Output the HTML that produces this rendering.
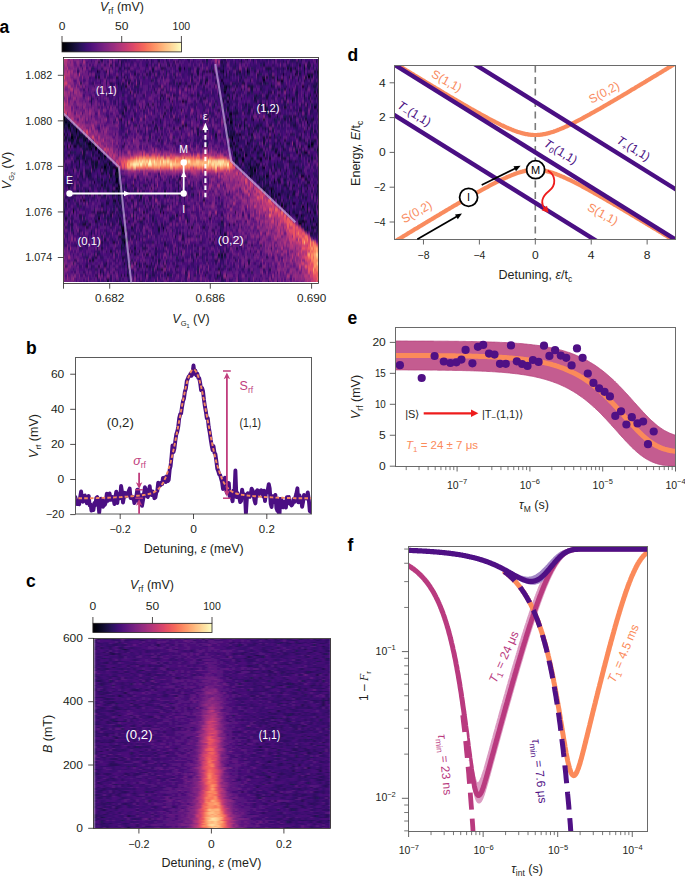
<!DOCTYPE html>
<html><head><meta charset="utf-8"><title>figure</title>
<style>html,body{margin:0;padding:0;background:#fff;}svg{display:block;}text{font-family:"Liberation Sans",sans-serif;}</style>
</head><body>
<svg width="685" height="879" viewBox="0 0 685 879">
<rect width="685" height="879" fill="#fff"/>
<defs><linearGradient id="cbar" x1="0" x2="1" y1="0" y2="0"><stop offset="0.000" stop-color="#000004"/><stop offset="0.017" stop-color="#020109"/><stop offset="0.034" stop-color="#030312"/><stop offset="0.051" stop-color="#07061c"/><stop offset="0.068" stop-color="#0b0924"/><stop offset="0.085" stop-color="#100b2d"/><stop offset="0.102" stop-color="#150e38"/><stop offset="0.119" stop-color="#1a1042"/><stop offset="0.136" stop-color="#20114b"/><stop offset="0.153" stop-color="#271258"/><stop offset="0.169" stop-color="#2d1161"/><stop offset="0.186" stop-color="#341069"/><stop offset="0.203" stop-color="#3d0f71"/><stop offset="0.220" stop-color="#440f76"/><stop offset="0.237" stop-color="#4a1079"/><stop offset="0.254" stop-color="#52137c"/><stop offset="0.271" stop-color="#59157e"/><stop offset="0.288" stop-color="#5f187f"/><stop offset="0.305" stop-color="#671b80"/><stop offset="0.322" stop-color="#6d1d81"/><stop offset="0.339" stop-color="#732081"/><stop offset="0.356" stop-color="#7b2382"/><stop offset="0.373" stop-color="#812581"/><stop offset="0.390" stop-color="#882781"/><stop offset="0.407" stop-color="#902a81"/><stop offset="0.424" stop-color="#962c80"/><stop offset="0.441" stop-color="#9c2e7f"/><stop offset="0.458" stop-color="#a5317e"/><stop offset="0.475" stop-color="#ab337c"/><stop offset="0.492" stop-color="#b2357b"/><stop offset="0.508" stop-color="#ba3878"/><stop offset="0.525" stop-color="#c03a76"/><stop offset="0.542" stop-color="#c73d73"/><stop offset="0.559" stop-color="#cf4070"/><stop offset="0.576" stop-color="#d5446d"/><stop offset="0.593" stop-color="#db476a"/><stop offset="0.610" stop-color="#e24d66"/><stop offset="0.627" stop-color="#e75263"/><stop offset="0.644" stop-color="#eb5760"/><stop offset="0.661" stop-color="#f05f5e"/><stop offset="0.678" stop-color="#f3655c"/><stop offset="0.695" stop-color="#f66c5c"/><stop offset="0.712" stop-color="#f8765c"/><stop offset="0.729" stop-color="#fa7d5e"/><stop offset="0.746" stop-color="#fb8560"/><stop offset="0.763" stop-color="#fc8e64"/><stop offset="0.780" stop-color="#fd9668"/><stop offset="0.797" stop-color="#fe9d6c"/><stop offset="0.814" stop-color="#fea772"/><stop offset="0.831" stop-color="#feae77"/><stop offset="0.847" stop-color="#feb67c"/><stop offset="0.864" stop-color="#febf84"/><stop offset="0.881" stop-color="#fec68a"/><stop offset="0.898" stop-color="#fecd90"/><stop offset="0.915" stop-color="#fed799"/><stop offset="0.932" stop-color="#fddea0"/><stop offset="0.949" stop-color="#fde5a7"/><stop offset="0.966" stop-color="#fceeb0"/><stop offset="0.983" stop-color="#fcf6b8"/><stop offset="1.000" stop-color="#fcfdbf"/></linearGradient></defs>
<rect x="62.0" y="42.3" width="119.4" height="9.6" fill="url(#cbar)" stroke="#231f20" stroke-width="0.8"/>
<line x1="62.00" y1="36.00" x2="62.00" y2="42.30" stroke="#231f20" stroke-width="0.8" />
<text x="62.0" y="29.6" font-size="10.5" text-anchor="middle" fill="#231f20" textLength="6.7" lengthAdjust="spacingAndGlyphs" >0</text>
<line x1="121.70" y1="36.00" x2="121.70" y2="42.30" stroke="#231f20" stroke-width="0.8" />
<text x="121.7" y="29.6" font-size="10.5" text-anchor="middle" fill="#231f20" textLength="13.4" lengthAdjust="spacingAndGlyphs" >50</text>
<line x1="181.40" y1="36.00" x2="181.40" y2="42.30" stroke="#231f20" stroke-width="0.8" />
<text x="181.4" y="29.6" font-size="10.5" text-anchor="middle" fill="#231f20" textLength="17.6" lengthAdjust="spacingAndGlyphs" >100</text>
<text x="122" y="10.5" font-size="12.5" text-anchor="middle" fill="#231f20"><tspan font-style="italic">V</tspan><tspan font-size="8.5" dy="3">rf</tspan><tspan dy="-3"> (mV)</tspan></text>
<defs><clipPath id="cla"><rect x="63.5" y="57.5" width="255.0" height="226.0"/></clipPath><filter id="bla" x="0" y="0" width="1" height="1"><feGaussianBlur stdDeviation="0.45 0.9"/></filter></defs>
<g clip-path="url(#cla)"><g filter="url(#bla)">
<g transform="translate(63.5,57.5) scale(1.5,3.013333333333333)" fill="none" stroke-width="1.02" shape-rendering="crispEdges">
<path stroke="#000004" d="M111 18.5h1M112 26.5h1M114 32.5h1M30 35.5h1M20 41.5h1M143 45.5h1M159 49.5h1M166 53.5h1M168 55.5h1"/>
<path stroke="#010106" d="M0 20.5h1M111 21.5h1M8 24.5h1M5 26.5h1M4 29.5h1M127 37.5h1M34 38.5h1M124 39.5h1M35 43.5h1M158 52.5h1M40 61.5h1"/>
<path stroke="#02020b" d="M106 8.5h1M0 19.5h1M109 20.5h1M3 22.5h1M14 27.5h1M112 27.5h1M21 30.5h1M118 30.5h1M161 31.5h1M27 32.5h1M143 32.5h1M23 33.5h1M27 36.5h1M34 36.5h1M135 39.5h1M37 42.5h1M36 45.5h1M39 57.5h1M104 61.5h1"/>
<path stroke="#030312" d="M163 6.5h1M167 16.5h1M1 21.5h1M107 21.5h1M162 21.5h1M8 23.5h1M117 25.5h1M21 29.5h1M119 33.5h1M131 33.5h1M35 37.5h2M36 38.5h1M148 51.5h1M66 56.5h1"/>
<path stroke="#050416" d="M80 3.5h1M22 4.5h1M106 4.5h1M122 4.5h1M105 7.5h1M108 9.5h1M168 12.5h1M79 14.5h1M109 14.5h1M0 25.5h1M16 28.5h2M165 28.5h1M163 29.5h1M23 31.5h1M121 32.5h1M124 36.5h1M133 36.5h1M35 40.5h1M35 41.5h1M36 44.5h1M138 44.5h1M66 51.5h1M164 51.5h1M159 54.5h1M40 58.5h1"/>
<path stroke="#07061c" d="M122 0.5h1M146 5.5h1M154 5.5h1M133 7.5h1M145 7.5h1M159 9.5h1M107 11.5h1M126 20.5h1M15 26.5h1M116 27.5h1M113 28.5h1M122 28.5h1M7 29.5h1M110 29.5h1M18 30.5h1M14 34.5h1M128 35.5h1M33 36.5h1M158 39.5h2M140 41.5h1M36 42.5h1M138 43.5h1M16 44.5h1M37 45.5h1M38 46.5h1M13 47.5h1M34 47.5h1M153 48.5h1M145 49.5h1M155 52.5h1M23 53.5h1M110 55.5h1M157 55.5h1M39 56.5h1"/>
<path stroke="#0a0822" d="M168 1.5h1M77 3.5h1M94 8.5h1M41 9.5h1M64 13.5h1M147 16.5h1M66 19.5h1M38 20.5h1M4 21.5h1M81 22.5h1M3 23.5h1M2 25.5h1M12 25.5h1M1 26.5h1M9 26.5h2M110 26.5h1M2 29.5h1M111 29.5h1M114 29.5h1M127 30.5h1M169 30.5h1M114 31.5h1M155 31.5h1M117 32.5h1M133 32.5h1M115 33.5h1M134 33.5h1M22 34.5h1M119 34.5h1M35 36.5h1M35 38.5h1M36 39.5h1M30 40.5h1M161 40.5h1M25 42.5h1M77 45.5h1M138 46.5h1M33 47.5h1M36 47.5h1M6 50.5h1M64 51.5h1M21 54.5h1M13 55.5h2M38 56.5h1M162 56.5h1M41 57.5h1M39 60.5h1M41 60.5h2M42 72.5h1M68 73.5h1"/>
<path stroke="#0c0926" d="M158 0.5h1M157 2.5h1M149 3.5h1M151 3.5h1M154 3.5h1M160 3.5h1M169 4.5h1M44 11.5h1M109 12.5h1M152 14.5h1M78 17.5h1M39 18.5h1M137 19.5h1M0 22.5h1M5 22.5h1M4 23.5h1M6 23.5h1M4 24.5h1M5 25.5h1M101 25.5h1M111 26.5h1M6 27.5h1M19 28.5h1M166 28.5h1M17 29.5h1M165 29.5h1M113 31.5h1M160 31.5h1M3 32.5h1M24 32.5h1M137 33.5h1M28 35.5h1M114 35.5h1M140 35.5h1M19 36.5h1M25 36.5h1M32 36.5h1M31 39.5h1M35 39.5h1M163 41.5h1M4 42.5h1M46 42.5h1M37 43.5h1M33 45.5h1M50 47.5h1M142 47.5h1M162 48.5h1M147 49.5h1M6 51.5h1M167 51.5h1M1 53.5h1M165 56.5h1M39 58.5h1M33 61.5h1M31 64.5h1M40 68.5h1"/>
<path stroke="#100b2d" d="M108 1.5h1M105 4.5h1M163 5.5h1M23 6.5h1M139 6.5h1M95 7.5h1M142 7.5h1M77 8.5h1M134 8.5h1M76 9.5h1M107 9.5h1M138 9.5h1M164 12.5h1M106 14.5h1M131 15.5h1M134 16.5h1M135 17.5h1M110 18.5h1M110 19.5h1M142 19.5h1M133 20.5h1M166 20.5h1M3 21.5h1M117 22.5h1M120 22.5h1M112 23.5h1M160 24.5h1M10 25.5h2M113 25.5h1M125 25.5h1M13 26.5h1M137 26.5h1M0 27.5h1M4 27.5h2M13 27.5h1M124 27.5h1M9 28.5h1M15 28.5h1M15 30.5h1M117 30.5h1M24 31.5h1M141 31.5h1M9 33.5h1M27 33.5h1M125 33.5h1M147 33.5h1M114 34.5h1M21 35.5h1M27 35.5h1M123 35.5h1M130 35.5h1M117 36.5h1M125 36.5h1M132 36.5h1M125 37.5h1M25 38.5h1M28 38.5h1M125 38.5h1M16 39.5h1M136 39.5h1M144 39.5h1M130 40.5h1M140 40.5h1M142 40.5h1M34 41.5h1M129 41.5h1M153 42.5h1M162 43.5h1M9 44.5h1M33 44.5h1M133 44.5h1M24 45.5h1M27 45.5h1M38 45.5h1M168 45.5h1M51 46.5h1M38 47.5h1M140 47.5h1M145 48.5h1M162 49.5h1M158 50.5h1M32 51.5h1M150 51.5h1M75 52.5h1M82 54.5h1M156 54.5h1M164 54.5h1M38 55.5h1M45 56.5h1M166 56.5h1M63 57.5h1M74 59.5h1M40 60.5h1M47 63.5h1M88 65.5h1M103 65.5h1M105 65.5h1M19 67.5h1M55 69.5h1M51 74.5h1"/>
<path stroke="#130d34" d="M24 0.5h1M37 0.5h1M95 0.5h1M107 0.5h1M23 1.5h1M105 1.5h1M70 2.5h1M103 3.5h1M122 3.5h1M136 3.5h1M97 4.5h1M99 4.5h1M117 4.5h1M123 4.5h1M132 6.5h1M135 6.5h1M161 6.5h1M84 9.5h1M107 10.5h1M114 10.5h1M143 10.5h1M167 11.5h1M128 12.5h1M143 12.5h1M70 13.5h1M72 14.5h1M56 15.5h1M40 16.5h1M72 16.5h1M105 16.5h1M109 16.5h1M141 16.5h1M109 17.5h1M40 19.5h1M154 19.5h1M1 20.5h1M76 20.5h1M111 20.5h1M147 20.5h1M151 20.5h1M161 20.5h1M114 22.5h1M154 22.5h1M62 23.5h1M162 23.5h1M10 24.5h1M115 25.5h1M6 26.5h1M133 26.5h1M167 27.5h1M10 28.5h1M11 29.5h1M16 29.5h1M19 29.5h1M128 29.5h1M17 30.5h1M112 30.5h1M141 30.5h1M13 31.5h1M157 32.5h1M18 33.5h1M130 33.5h1M146 33.5h1M10 34.5h1M19 34.5h1M21 34.5h1M30 34.5h2M154 34.5h1M22 35.5h1M118 35.5h1M21 36.5h1M127 36.5h1M6 37.5h1M123 37.5h1M144 37.5h1M148 37.5h1M77 40.5h1M132 40.5h1M143 40.5h1M144 41.5h1M136 42.5h1M147 42.5h1M166 42.5h1M36 43.5h1M133 43.5h2M137 43.5h1M38 44.5h1M67 44.5h1M17 45.5h1M67 45.5h1M153 45.5h1M37 48.5h1M162 50.5h1M26 51.5h1M53 51.5h1M162 51.5h1M36 52.5h1M154 52.5h1M157 54.5h2M160 54.5h2M166 54.5h1M167 56.5h1M104 58.5h1M107 58.5h1M164 58.5h1M37 59.5h1M107 59.5h1M42 61.5h1M38 62.5h1M50 64.5h1M17 67.5h1M50 69.5h1M43 70.5h1M103 70.5h1M24 71.5h1M94 72.5h1M44 74.5h1"/>
<path stroke="#150e38" d="M106 0.5h1M63 1.5h1M148 1.5h1M137 3.5h1M28 4.5h1M155 4.5h1M47 5.5h1M100 5.5h1M108 5.5h1M165 5.5h1M35 6.5h1M40 6.5h1M118 6.5h1M133 6.5h1M150 6.5h1M160 7.5h1M120 8.5h1M110 9.5h1M123 9.5h1M125 9.5h1M166 9.5h1M108 10.5h1M118 10.5h1M138 11.5h1M110 13.5h1M112 13.5h1M127 13.5h1M135 13.5h1M148 13.5h1M152 13.5h1M164 14.5h1M110 15.5h1M157 17.5h1M67 18.5h1M115 18.5h1M111 19.5h1M150 19.5h1M45 20.5h1M88 20.5h1M121 20.5h1M165 20.5h1M0 21.5h1M2 21.5h1M60 23.5h1M120 23.5h1M134 23.5h1M126 24.5h1M8 25.5h1M3 27.5h1M8 27.5h2M147 27.5h1M160 27.5h1M133 28.5h1M92 29.5h1M115 29.5h1M146 30.5h1M4 31.5h1M129 31.5h1M13 32.5h1M8 33.5h1M165 33.5h1M115 34.5h1M150 34.5h1M10 35.5h1M129 35.5h1M8 36.5h1M153 36.5h1M27 37.5h2M119 37.5h1M124 37.5h1M138 37.5h1M158 37.5h1M26 38.5h1M31 38.5h1M34 39.5h1M125 39.5h1M163 39.5h1M143 41.5h1M162 41.5h1M135 42.5h1M161 42.5h1M169 42.5h1M58 43.5h1M139 43.5h1M32 44.5h1M135 44.5h1M140 44.5h1M7 45.5h1M14 45.5h1M86 45.5h1M138 45.5h1M139 46.5h1M141 46.5h1M93 47.5h1M146 47.5h1M28 48.5h2M146 50.5h1M22 51.5h1M24 51.5h1M114 51.5h1M31 52.5h1M150 52.5h1M37 53.5h1M53 53.5h1M158 55.5h1M160 55.5h1M15 56.5h1M85 56.5h1M93 56.5h1M165 58.5h1M100 60.5h1M106 61.5h1M40 62.5h1M38 63.5h1M39 66.5h1M105 66.5h1M48 68.5h1M42 69.5h1M62 70.5h1M65 70.5h1M38 72.5h1M102 72.5h1M29 74.5h1M35 74.5h1"/>
<path stroke="#19103f" d="M40 0.5h1M121 0.5h1M38 1.5h1M118 1.5h1M146 1.5h1M106 2.5h1M133 2.5h1M160 2.5h1M162 2.5h1M59 3.5h1M65 3.5h1M135 3.5h1M146 3.5h1M163 3.5h1M89 4.5h1M104 4.5h1M167 4.5h1M89 5.5h1M162 5.5h1M21 6.5h1M142 6.5h1M58 7.5h1M124 7.5h1M156 7.5h1M43 8.5h1M119 8.5h1M168 8.5h1M38 10.5h1M125 10.5h1M147 10.5h1M140 11.5h1M155 11.5h1M65 12.5h1M110 12.5h1M135 12.5h1M150 12.5h1M160 12.5h1M66 13.5h1M118 13.5h1M81 14.5h1M128 14.5h1M100 15.5h1M121 15.5h1M130 15.5h1M134 15.5h1M141 15.5h1M162 15.5h1M114 16.5h1M123 17.5h1M129 17.5h1M134 17.5h1M141 17.5h1M158 17.5h1M169 17.5h1M113 18.5h2M108 19.5h1M140 20.5h1M108 21.5h1M112 21.5h1M120 21.5h1M2 22.5h1M79 22.5h1M129 22.5h1M131 22.5h1M153 22.5h1M77 23.5h1M93 24.5h1M109 24.5h1M167 24.5h1M89 25.5h1M108 25.5h1M140 25.5h1M7 26.5h1M11 26.5h1M14 26.5h1M157 26.5h1M63 27.5h1M133 27.5h1M5 28.5h1M8 28.5h1M111 28.5h1M123 28.5h1M140 28.5h1M144 28.5h1M149 28.5h2M153 28.5h1M18 29.5h1M20 29.5h1M112 29.5h1M23 30.5h1M131 30.5h2M142 30.5h1M25 31.5h1M25 32.5h1M113 32.5h1M116 32.5h1M12 33.5h2M129 33.5h1M18 34.5h1M29 34.5h1M124 34.5h1M131 34.5h1M163 34.5h1M116 35.5h1M124 35.5h1M29 36.5h1M31 36.5h1M126 36.5h1M129 36.5h1M155 36.5h1M20 37.5h1M24 37.5h1M31 37.5h1M156 37.5h1M17 38.5h1M30 38.5h1M122 38.5h1M124 38.5h1M12 39.5h1M133 39.5h1M25 40.5h1M37 40.5h1M147 40.5h1M27 41.5h1M36 41.5h1M130 41.5h1M33 42.5h1M41 42.5h1M160 42.5h1M24 43.5h1M76 43.5h1M131 43.5h1M29 44.5h1M42 44.5h1M74 44.5h1M153 44.5h1M23 45.5h1M49 45.5h1M76 45.5h1M136 45.5h1M144 45.5h1M12 46.5h1M149 46.5h1M161 46.5h1M166 46.5h1M45 47.5h1M25 49.5h1M169 49.5h1M48 50.5h1M160 50.5h1M166 50.5h1M153 51.5h1M159 52.5h1M97 53.5h1M43 54.5h1M105 54.5h1M17 55.5h1M37 55.5h1M162 57.5h1M169 57.5h1M18 58.5h1M27 60.5h1M39 61.5h1M14 62.5h1M25 63.5h1M22 65.5h1M47 65.5h1M55 65.5h1M107 65.5h1M21 66.5h1M63 67.5h1M28 68.5h1M58 68.5h1M82 70.5h1M46 71.5h1M40 72.5h1M69 72.5h1M43 74.5h1"/>
<path stroke="#1d1147" d="M68 0.5h1M82 0.5h1M126 0.5h1M92 1.5h1M104 1.5h1M163 1.5h1M55 2.5h1M164 2.5h1M37 3.5h1M40 3.5h1M66 3.5h1M106 3.5h1M59 4.5h1M95 4.5h1M110 4.5h1M130 4.5h1M151 4.5h1M160 4.5h1M55 5.5h1M115 5.5h1M122 5.5h1M129 5.5h1M157 5.5h1M164 5.5h1M42 6.5h1M74 6.5h1M104 6.5h1M152 6.5h1M143 7.5h1M164 7.5h1M31 8.5h1M36 8.5h1M50 8.5h1M81 8.5h1M91 8.5h1M131 8.5h1M38 9.5h1M83 9.5h1M124 9.5h1M167 9.5h1M60 10.5h1M131 10.5h1M150 10.5h1M113 11.5h1M136 11.5h1M169 11.5h1M73 12.5h1M89 12.5h1M103 12.5h1M136 12.5h1M93 13.5h2M107 13.5h1M153 13.5h1M160 13.5h1M163 13.5h1M18 14.5h1M147 14.5h1M59 15.5h1M105 15.5h1M168 15.5h1M41 16.5h1M50 16.5h1M54 16.5h1M168 16.5h1M41 17.5h1M71 17.5h1M103 17.5h1M137 17.5h1M120 18.5h1M122 18.5h1M126 18.5h1M135 18.5h2M156 18.5h1M136 19.5h1M64 21.5h1M61 22.5h1M111 22.5h1M163 22.5h1M0 23.5h1M7 23.5h1M73 23.5h1M89 23.5h1M95 23.5h1M110 23.5h1M123 23.5h1M127 23.5h2M7 24.5h1M111 24.5h1M113 24.5h1M136 24.5h1M109 25.5h1M111 25.5h1M123 25.5h1M164 25.5h1M101 26.5h1M140 26.5h1M144 26.5h1M17 27.5h1M77 27.5h1M40 28.5h1M142 28.5h1M0 29.5h1M8 29.5h1M130 29.5h1M154 29.5h1M156 29.5h1M158 29.5h1M13 30.5h2M139 30.5h1M19 31.5h1M158 31.5h1M10 32.5h1M19 32.5h1M16 33.5h1M25 33.5h1M118 33.5h1M7 34.5h1M26 34.5h1M127 34.5h1M151 34.5h1M18 35.5h2M31 35.5h1M122 36.5h1M140 36.5h1M156 36.5h1M14 37.5h2M141 37.5h1M157 37.5h1M11 38.5h1M15 38.5h1M126 38.5h2M136 38.5h1M139 38.5h1M147 38.5h1M155 38.5h1M123 39.5h1M128 39.5h1M130 39.5h1M154 39.5h1M9 40.5h1M32 40.5h1M136 41.5h1M138 41.5h1M150 41.5h1M3 42.5h1M27 42.5h1M148 42.5h1M3 43.5h1M29 43.5h1M85 43.5h1M149 43.5h1M158 43.5h1M43 44.5h1M50 44.5h1M78 44.5h1M145 44.5h1M150 44.5h1M158 44.5h1M169 44.5h1M20 45.5h1M32 45.5h1M139 45.5h1M141 45.5h1M149 45.5h1M152 45.5h1M58 46.5h1M144 46.5h1M159 46.5h1M3 47.5h1M144 47.5h1M148 48.5h1M150 48.5h1M158 48.5h1M54 49.5h1M66 49.5h1M148 49.5h1M167 49.5h1M37 50.5h1M0 51.5h1M27 51.5h1M38 51.5h2M46 51.5h1M10 52.5h1M29 53.5h1M41 53.5h1M46 53.5h1M59 53.5h1M164 53.5h1M38 54.5h1M51 54.5h1M167 54.5h1M5 55.5h1M12 55.5h1M30 55.5h1M32 55.5h1M169 55.5h1M63 56.5h1M160 56.5h1M104 57.5h1M161 57.5h1M167 58.5h1M46 59.5h1M50 60.5h1M79 60.5h1M20 61.5h1M25 61.5h1M67 62.5h1M39 63.5h1M53 63.5h1M115 63.5h1M45 64.5h1M106 64.5h1M61 65.5h1M89 65.5h1M40 66.5h1M86 67.5h1M114 67.5h1M43 68.5h2M54 68.5h1M15 69.5h1M23 69.5h1M120 69.5h1M110 70.5h1M48 72.5h1M54 72.5h1M29 73.5h1"/>
<path stroke="#21114e" d="M25 0.5h1M77 0.5h1M118 0.5h1M139 0.5h2M149 0.5h1M152 0.5h1M156 0.5h1M36 1.5h1M73 1.5h1M76 1.5h1M155 1.5h1M31 2.5h1M38 2.5h1M64 2.5h1M150 2.5h1M163 2.5h1M43 3.5h1M84 3.5h1M89 3.5h1M142 3.5h1M23 4.5h1M77 4.5h1M93 4.5h1M116 4.5h1M127 4.5h1M38 5.5h1M57 5.5h1M85 5.5h1M92 5.5h1M106 5.5h1M120 5.5h1M155 5.5h1M169 5.5h1M106 6.5h1M108 6.5h1M110 6.5h1M165 6.5h1M41 7.5h1M44 7.5h1M85 7.5h1M94 7.5h1M117 7.5h1M39 8.5h1M112 8.5h1M114 8.5h1M116 8.5h1M130 8.5h1M145 8.5h1M109 9.5h1M115 9.5h1M139 9.5h1M148 9.5h1M162 9.5h1M120 10.5h1M161 10.5h1M169 10.5h1M123 11.5h1M137 11.5h1M29 12.5h1M85 12.5h1M115 12.5h1M148 12.5h1M155 12.5h1M18 13.5h1M106 13.5h1M167 13.5h1M127 14.5h1M47 15.5h1M64 15.5h1M158 15.5h1M120 16.5h1M124 16.5h1M135 16.5h1M115 17.5h1M130 17.5h1M123 18.5h1M144 18.5h1M161 18.5h1M164 18.5h1M81 19.5h1M95 19.5h2M114 19.5h1M153 19.5h1M2 20.5h1M64 20.5h1M74 20.5h1M112 20.5h1M114 20.5h1M120 20.5h1M125 20.5h1M130 20.5h1M59 21.5h1M118 21.5h1M154 21.5h1M164 21.5h1M6 22.5h1M48 22.5h1M70 22.5h1M109 22.5h1M128 22.5h1M137 22.5h1M1 23.5h1M9 23.5h1M132 23.5h1M136 23.5h1M165 23.5h1M1 24.5h1M9 24.5h1M89 24.5h1M137 24.5h1M139 24.5h1M164 24.5h1M6 25.5h1M104 25.5h1M112 25.5h1M151 25.5h2M158 25.5h1M12 26.5h1M114 26.5h1M118 26.5h1M135 26.5h1M1 27.5h1M15 27.5h1M56 27.5h1M125 27.5h1M143 27.5h1M157 27.5h1M18 28.5h1M94 28.5h1M161 28.5h1M6 29.5h1M10 29.5h1M13 29.5h1M39 29.5h1M95 29.5h1M121 29.5h1M125 29.5h1M139 29.5h2M145 29.5h1M114 30.5h1M122 30.5h1M147 30.5h1M157 30.5h1M20 31.5h1M115 31.5h1M119 31.5h1M121 31.5h1M125 31.5h2M130 31.5h1M12 32.5h1M21 32.5h2M28 32.5h1M122 32.5h1M145 32.5h1M163 32.5h1M15 33.5h1M17 33.5h1M114 33.5h1M145 33.5h1M15 34.5h1M142 34.5h1M16 35.5h1M121 35.5h1M142 35.5h1M10 36.5h1M28 36.5h1M36 36.5h1M138 36.5h1M16 37.5h1M32 37.5h1M130 37.5h1M16 38.5h1M32 38.5h1M129 38.5h1M135 38.5h1M140 38.5h1M2 39.5h1M17 39.5h1M22 39.5h1M148 39.5h1M151 39.5h1M19 40.5h1M22 40.5h1M128 40.5h1M131 40.5h1M156 40.5h1M28 41.5h1M30 41.5h1M70 41.5h1M133 41.5h1M156 41.5h1M32 42.5h1M54 42.5h1M60 42.5h1M76 42.5h1M146 42.5h1M150 42.5h1M158 42.5h1M22 43.5h1M26 43.5h1M132 43.5h1M152 43.5h1M14 44.5h1M146 44.5h1M154 44.5h1M161 44.5h1M165 44.5h1M11 45.5h1M15 45.5h1M70 45.5h1M81 45.5h1M1 46.5h1M32 46.5h1M36 46.5h1M57 46.5h1M80 46.5h1M156 46.5h1M11 47.5h1M14 47.5h1M143 47.5h1M1 48.5h1M34 48.5h1M42 48.5h1M46 48.5h1M142 48.5h2M152 48.5h1M154 48.5h1M164 48.5h1M35 49.5h1M38 49.5h2M58 49.5h1M60 49.5h1M65 49.5h1M165 49.5h1M47 50.5h1M23 51.5h1M25 51.5h1M28 51.5h1M149 51.5h1M152 51.5h1M11 52.5h1M105 52.5h1M160 52.5h1M40 53.5h1M71 53.5h1M14 54.5h1M27 55.5h1M65 55.5h1M22 56.5h1M159 56.5h1M169 56.5h1M10 57.5h1M46 57.5h1M66 57.5h1M68 57.5h1M99 57.5h1M166 57.5h1M6 58.5h1M77 58.5h1M100 58.5h1M168 58.5h1M45 59.5h1M79 59.5h1M168 59.5h1M16 60.5h1M38 60.5h1M103 60.5h2M9 61.5h1M12 61.5h1M22 61.5h1M67 61.5h1M8 62.5h1M79 62.5h1M100 62.5h1M54 63.5h1M61 63.5h1M74 63.5h1M93 63.5h1M43 64.5h1M59 66.5h1M76 67.5h1M79 67.5h1M101 67.5h1M123 67.5h1M46 68.5h1M50 68.5h1M66 68.5h1M123 68.5h1M27 69.5h1M44 69.5h1M57 69.5h1M67 69.5h1M75 69.5h1M74 70.5h1M137 70.5h1M26 71.5h1M54 71.5h1M81 71.5h1M104 71.5h1M43 72.5h1M59 72.5h2M104 72.5h1M50 73.5h1M101 73.5h1M105 73.5h1M76 74.5h1M142 74.5h1"/>
<path stroke="#241253" d="M125 0.5h1M128 0.5h1M135 0.5h1M137 0.5h1M153 0.5h1M66 1.5h1M95 1.5h1M114 1.5h1M120 1.5h1M152 1.5h1M156 1.5h1M60 2.5h1M131 2.5h1M166 2.5h1M19 3.5h1M83 3.5h1M98 3.5h1M114 3.5h1M125 3.5h1M168 3.5h1M36 4.5h1M68 4.5h1M136 4.5h1M157 4.5h1M60 5.5h1M66 5.5h1M68 5.5h1M73 5.5h1M117 5.5h1M123 5.5h1M131 5.5h1M138 5.5h1M160 5.5h1M53 6.5h1M121 6.5h1M137 6.5h1M140 6.5h1M156 6.5h1M59 7.5h1M92 7.5h1M144 7.5h1M146 7.5h1M11 8.5h1M75 8.5h1M104 8.5h1M113 8.5h1M133 8.5h1M135 8.5h1M138 8.5h1M169 8.5h1M36 9.5h1M49 9.5h1M64 9.5h1M111 9.5h1M126 9.5h1M168 9.5h1M66 10.5h1M106 10.5h1M110 10.5h1M145 10.5h1M167 10.5h1M58 11.5h1M69 11.5h1M125 11.5h1M132 11.5h1M154 11.5h1M39 12.5h1M90 12.5h1M96 12.5h1M108 12.5h1M122 12.5h1M127 12.5h1M130 12.5h1M154 12.5h1M108 13.5h1M129 13.5h1M146 13.5h1M39 14.5h1M70 14.5h1M101 14.5h1M108 14.5h1M88 15.5h1M102 15.5h1M123 15.5h1M149 15.5h1M165 15.5h1M94 16.5h1M99 16.5h1M131 16.5h1M139 16.5h1M148 16.5h1M68 17.5h1M107 17.5h1M114 17.5h1M119 17.5h1M160 17.5h1M97 18.5h1M128 18.5h1M146 19.5h2M160 19.5h2M106 20.5h1M115 20.5h1M117 20.5h1M141 20.5h1M143 20.5h1M157 20.5h1M42 21.5h1M91 21.5h1M94 21.5h1M114 21.5h1M141 21.5h1M144 21.5h1M152 21.5h1M1 22.5h1M7 22.5h1M47 22.5h1M110 22.5h1M112 22.5h1M121 22.5h2M124 22.5h1M38 23.5h1M65 23.5h1M129 23.5h1M139 23.5h1M58 24.5h1M91 24.5h1M99 24.5h1M118 24.5h1M129 24.5h1M165 24.5h1M13 25.5h1M41 25.5h1M143 25.5h1M153 25.5h1M3 26.5h1M57 26.5h1M64 26.5h1M73 26.5h1M109 26.5h1M116 26.5h1M121 26.5h1M125 26.5h1M142 26.5h1M164 26.5h1M127 27.5h1M158 27.5h1M11 28.5h1M13 28.5h1M95 28.5h1M115 28.5h1M129 28.5h1M136 28.5h1M163 28.5h1M12 29.5h1M135 29.5h1M146 29.5h1M138 30.5h1M154 30.5h2M167 30.5h1M5 31.5h1M7 31.5h1M11 31.5h1M14 31.5h1M133 31.5h1M145 31.5h1M159 31.5h1M169 31.5h1M115 32.5h1M129 32.5h1M149 32.5h2M162 32.5h1M10 33.5h1M124 33.5h1M167 33.5h1M24 34.5h1M113 34.5h1M120 34.5h1M122 34.5h1M157 34.5h1M14 35.5h1M115 35.5h1M143 35.5h1M22 36.5h1M121 36.5h1M143 36.5h1M150 36.5h1M159 36.5h1M9 37.5h1M17 37.5h1M30 37.5h1M136 37.5h1M153 38.5h1M158 38.5h1M166 38.5h1M5 39.5h1M38 39.5h1M131 39.5h1M155 39.5h1M23 40.5h1M28 40.5h1M126 40.5h1M133 40.5h1M135 40.5h1M146 40.5h1M2 41.5h1M6 41.5h1M31 41.5h1M147 41.5h1M9 42.5h1M17 42.5h1M39 42.5h1M53 42.5h1M134 42.5h1M27 43.5h1M34 43.5h1M41 43.5h1M157 43.5h1M169 43.5h1M15 44.5h1M37 44.5h1M39 44.5h1M47 44.5h1M136 44.5h1M139 44.5h1M8 45.5h1M51 45.5h2M85 45.5h1M157 45.5h1M162 45.5h1M20 46.5h1M62 46.5h1M151 46.5h1M164 46.5h1M7 47.5h1M16 47.5h1M37 47.5h1M77 47.5h1M150 47.5h1M152 47.5h1M168 47.5h1M8 48.5h1M33 48.5h1M53 48.5h1M149 48.5h1M157 48.5h1M9 49.5h1M11 49.5h1M36 49.5h1M104 49.5h1M0 50.5h1M20 50.5h1M28 50.5h1M33 50.5h1M36 50.5h1M64 50.5h1M150 50.5h1M159 50.5h1M37 51.5h1M3 52.5h1M23 52.5h1M44 52.5h1M46 52.5h1M72 52.5h1M167 52.5h1M13 53.5h1M27 53.5h1M30 53.5h1M82 53.5h1M155 53.5h1M158 53.5h1M169 53.5h1M3 54.5h1M15 54.5h1M37 54.5h1M50 54.5h1M52 54.5h1M61 54.5h1M10 55.5h1M24 55.5h1M86 55.5h1M105 55.5h1M164 55.5h1M1 56.5h1M5 57.5h1M37 57.5h1M72 57.5h1M168 57.5h1M28 58.5h1M50 58.5h1M25 59.5h1M38 59.5h1M54 59.5h1M88 59.5h1M90 59.5h1M166 59.5h1M36 60.5h1M59 61.5h1M121 61.5h1M39 62.5h1M11 63.5h1M52 63.5h1M80 63.5h1M108 63.5h1M23 64.5h1M38 64.5h1M40 64.5h1M42 64.5h1M104 64.5h1M12 65.5h1M20 65.5h1M34 65.5h1M38 65.5h1M70 65.5h1M72 65.5h1M78 65.5h1M99 65.5h1M15 66.5h1M75 66.5h1M92 66.5h1M103 66.5h1M107 66.5h1M45 67.5h1M68 67.5h1M6 68.5h1M42 68.5h1M107 69.5h1M21 70.5h1M59 70.5h1M89 70.5h1M42 71.5h1M125 71.5h1M22 72.5h1M57 72.5h1M71 72.5h1M87 72.5h1M103 72.5h1M37 73.5h1M102 73.5h1M123 73.5h1M61 74.5h1M75 74.5h1M88 74.5h1M106 74.5h1M136 74.5h1"/>
<path stroke="#29115a" d="M58 0.5h1M83 0.5h1M98 0.5h1M110 0.5h1M116 0.5h1M25 1.5h1M39 1.5h1M45 1.5h1M56 1.5h1M58 1.5h1M69 1.5h1M117 1.5h1M126 1.5h1M133 1.5h1M143 1.5h1M34 2.5h2M72 2.5h1M74 2.5h1M105 2.5h1M114 2.5h1M139 2.5h1M149 2.5h1M67 3.5h1M101 3.5h1M104 3.5h1M113 3.5h1M134 3.5h1M153 3.5h1M9 4.5h1M54 4.5h1M70 4.5h1M115 4.5h1M120 4.5h1M138 4.5h1M30 5.5h1M63 5.5h1M103 5.5h1M111 5.5h1M130 5.5h1M137 5.5h1M61 6.5h1M129 6.5h1M138 6.5h1M168 6.5h1M43 7.5h1M19 8.5h1M28 8.5h1M45 8.5h1M70 8.5h1M73 8.5h1M87 8.5h1M129 8.5h1M136 8.5h1M167 8.5h1M32 9.5h1M39 9.5h1M47 9.5h2M93 9.5h1M100 9.5h1M132 9.5h1M140 9.5h1M152 10.5h1M155 10.5h1M47 11.5h1M49 11.5h1M61 11.5h1M64 11.5h1M106 11.5h1M53 12.5h1M74 12.5h1M112 12.5h1M131 12.5h1M22 13.5h1M91 13.5h1M155 13.5h1M169 13.5h1M34 14.5h1M91 14.5h1M114 14.5h2M39 15.5h1M92 15.5h1M107 15.5h1M119 15.5h1M136 15.5h1M147 15.5h1M160 15.5h1M167 15.5h1M67 16.5h1M71 16.5h1M123 16.5h1M125 16.5h1M150 16.5h1M153 16.5h1M161 16.5h2M165 16.5h1M46 17.5h1M53 17.5h1M124 17.5h1M132 17.5h1M155 17.5h1M164 17.5h2M47 18.5h1M88 18.5h1M116 18.5h1M139 18.5h1M1 19.5h1M125 19.5h1M148 19.5h1M151 19.5h1M158 19.5h1M166 19.5h1M3 20.5h1M37 20.5h1M61 20.5h1M149 20.5h1M159 20.5h1M40 21.5h1M151 21.5h1M158 21.5h1M38 22.5h1M42 22.5h1M50 22.5h1M56 22.5h1M115 22.5h1M118 22.5h1M126 22.5h1M138 22.5h1M151 22.5h1M64 23.5h1M85 23.5h1M122 23.5h1M125 23.5h1M133 23.5h1M155 23.5h1M5 24.5h2M49 24.5h1M62 24.5h1M112 24.5h1M123 24.5h1M134 24.5h1M156 24.5h1M7 25.5h1M65 25.5h1M78 25.5h1M110 25.5h1M116 25.5h1M119 25.5h1M131 25.5h1M148 25.5h1M166 25.5h1M155 26.5h1M111 27.5h1M115 27.5h1M159 27.5h1M165 27.5h2M2 28.5h1M7 28.5h1M12 28.5h1M74 28.5h1M104 28.5h1M148 28.5h1M116 29.5h1M153 29.5h1M2 30.5h2M16 30.5h1M120 30.5h2M123 30.5h1M130 30.5h1M134 30.5h1M131 31.5h1M143 31.5h1M0 32.5h1M14 32.5h1M26 32.5h1M124 32.5h1M142 32.5h1M165 32.5h1M135 33.5h1M150 33.5h1M116 34.5h1M149 34.5h1M155 34.5h1M5 35.5h1M15 35.5h1M20 35.5h1M32 35.5h1M120 35.5h1M126 35.5h1M136 35.5h2M150 35.5h1M2 36.5h1M5 36.5h1M26 36.5h1M137 36.5h1M144 36.5h1M152 36.5h1M1 37.5h1M19 37.5h1M34 37.5h1M129 37.5h1M132 37.5h2M152 37.5h1M3 38.5h1M18 39.5h1M32 39.5h1M127 39.5h1M160 39.5h1M168 39.5h1M14 40.5h1M17 40.5h2M34 40.5h1M47 40.5h1M70 40.5h1M23 41.5h1M33 41.5h1M37 41.5h1M56 41.5h1M67 41.5h1M75 41.5h1M141 41.5h1M2 42.5h1M18 42.5h1M50 42.5h1M131 42.5h1M133 42.5h1M14 43.5h1M28 43.5h1M47 43.5h2M141 43.5h1M145 43.5h1M148 43.5h1M6 44.5h1M11 44.5h2M34 44.5h2M53 44.5h1M61 44.5h1M76 44.5h1M35 45.5h1M147 45.5h1M159 45.5h1M5 46.5h1M25 46.5h1M72 46.5h1M103 46.5h1M0 47.5h1M28 47.5h1M30 47.5h1M57 47.5h1M157 47.5h1M9 48.5h1M38 48.5h1M72 48.5h1M147 48.5h1M160 48.5h1M1 49.5h1M26 49.5h1M33 49.5h1M63 49.5h1M67 49.5h1M70 49.5h1M81 49.5h1M10 50.5h1M57 50.5h1M59 50.5h1M65 50.5h1M147 50.5h1M153 50.5h1M155 50.5h1M167 50.5h1M19 51.5h2M31 51.5h1M33 51.5h1M35 51.5h1M55 51.5h1M156 51.5h1M161 51.5h1M166 51.5h1M38 52.5h1M59 52.5h1M81 52.5h1M98 52.5h1M156 52.5h1M163 52.5h1M165 52.5h1M5 53.5h1M11 53.5h1M20 53.5h1M31 53.5h1M34 53.5h1M48 53.5h1M72 53.5h2M157 53.5h1M29 54.5h1M35 54.5h1M59 54.5h1M165 54.5h1M169 54.5h1M33 55.5h1M40 55.5h1M58 55.5h1M103 55.5h1M106 55.5h1M113 55.5h1M16 56.5h1M31 56.5h1M40 56.5h1M59 56.5h1M83 56.5h1M92 56.5h1M106 56.5h1M18 57.5h1M36 57.5h1M163 57.5h1M12 59.5h1M39 59.5h1M42 59.5h1M48 59.5h1M82 59.5h1M105 59.5h1M14 60.5h1M32 60.5h1M48 60.5h1M97 60.5h1M10 61.5h1M41 61.5h1M56 61.5h1M91 61.5h1M99 61.5h1M105 61.5h1M87 62.5h1M125 62.5h1M131 62.5h1M22 63.5h1M40 63.5h1M76 63.5h1M89 63.5h1M118 63.5h1M28 64.5h1M72 64.5h1M78 64.5h1M109 64.5h1M124 64.5h1M41 65.5h1M56 65.5h1M76 65.5h1M85 65.5h1M126 65.5h1M19 66.5h1M41 66.5h1M88 66.5h1M135 66.5h1M7 67.5h1M36 67.5h1M39 67.5h1M42 67.5h1M61 67.5h1M95 67.5h1M102 67.5h1M63 68.5h1M18 69.5h1M76 69.5h1M104 69.5h1M130 69.5h1M24 70.5h1M49 70.5h1M63 70.5h1M105 70.5h1M123 70.5h1M59 71.5h1M67 71.5h1M95 71.5h1M21 72.5h1M26 72.5h1M108 72.5h1M22 73.5h1M31 73.5h1M36 74.5h1M52 74.5h1"/>
<path stroke="#2d1161" d="M41 0.5h1M43 0.5h1M55 0.5h1M62 0.5h2M105 0.5h1M129 0.5h1M151 0.5h1M162 0.5h1M168 0.5h1M41 1.5h1M93 1.5h1M107 1.5h1M130 1.5h1M142 1.5h1M151 1.5h1M158 1.5h1M69 2.5h1M98 2.5h1M107 2.5h1M78 3.5h1M138 3.5h1M141 3.5h1M143 3.5h1M145 3.5h1M166 3.5h1M18 4.5h1M57 4.5h1M63 4.5h1M88 4.5h1M108 4.5h1M132 4.5h1M142 4.5h1M49 5.5h2M110 5.5h1M113 5.5h1M30 6.5h1M107 6.5h1M169 6.5h1M47 7.5h1M50 7.5h1M73 7.5h1M91 7.5h1M101 7.5h1M119 7.5h1M152 7.5h1M167 7.5h1M24 8.5h1M32 8.5h1M35 8.5h1M62 8.5h1M71 8.5h1M78 8.5h1M101 8.5h1M118 8.5h1M128 8.5h1M163 8.5h1M25 9.5h1M59 9.5h1M63 9.5h1M80 9.5h1M86 9.5h1M104 9.5h1M117 9.5h1M122 9.5h1M155 9.5h1M160 9.5h1M16 10.5h1M29 10.5h1M65 10.5h1M92 10.5h2M95 10.5h1M105 10.5h1M136 10.5h1M35 11.5h1M89 11.5h1M117 11.5h1M122 11.5h1M160 11.5h1M32 12.5h1M67 12.5h1M76 12.5h1M92 12.5h1M120 12.5h1M149 12.5h1M36 13.5h1M47 13.5h1M133 13.5h1M138 13.5h3M145 13.5h1M165 13.5h1M46 14.5h2M80 14.5h1M131 14.5h1M36 15.5h1M45 15.5h1M55 15.5h1M85 15.5h1M112 15.5h1M146 15.5h1M155 15.5h1M62 16.5h1M76 16.5h1M87 16.5h1M100 16.5h1M110 16.5h1M121 16.5h1M145 16.5h1M157 16.5h2M38 17.5h2M60 17.5h1M93 17.5h1M110 17.5h1M151 17.5h1M154 17.5h1M162 17.5h1M99 18.5h1M140 18.5h1M165 18.5h1M168 18.5h1M29 19.5h1M71 19.5h2M98 19.5h1M106 19.5h1M149 19.5h1M156 19.5h1M34 20.5h1M53 20.5h1M73 20.5h1M108 20.5h1M116 21.5h1M130 21.5h1M138 21.5h1M145 21.5h1M149 21.5h1M157 21.5h1M165 21.5h1M4 22.5h1M57 22.5h1M130 22.5h1M143 22.5h1M155 22.5h1M61 23.5h1M109 23.5h1M111 23.5h1M117 23.5h1M142 23.5h1M154 23.5h1M169 23.5h1M43 24.5h1M54 24.5h1M157 24.5h1M9 25.5h1M54 25.5h1M57 25.5h1M39 26.5h1M42 26.5h1M113 26.5h1M115 26.5h1M126 26.5h1M132 26.5h1M138 26.5h1M141 26.5h1M169 26.5h1M53 27.5h1M65 27.5h1M70 27.5h1M87 27.5h1M89 27.5h1M92 27.5h2M108 27.5h1M118 27.5h3M122 27.5h1M163 27.5h1M65 28.5h1M73 28.5h1M117 28.5h1M120 28.5h1M124 28.5h1M154 28.5h1M15 29.5h1M82 29.5h1M123 29.5h1M127 29.5h1M136 29.5h1M159 29.5h1M166 29.5h1M19 30.5h1M22 30.5h1M158 30.5h1M6 31.5h1M118 31.5h1M122 31.5h2M148 31.5h1M162 31.5h1M2 32.5h1M9 32.5h1M15 32.5h1M119 32.5h1M135 32.5h1M137 32.5h1M160 32.5h1M1 33.5h1M28 33.5h1M156 33.5h1M161 33.5h1M0 34.5h1M20 34.5h1M25 34.5h1M123 34.5h1M126 34.5h1M144 34.5h1M12 35.5h1M23 35.5h2M26 35.5h1M134 35.5h1M145 35.5h1M153 35.5h1M164 35.5h1M9 36.5h1M24 36.5h1M141 36.5h1M145 36.5h2M151 36.5h1M12 37.5h1M26 37.5h1M120 37.5h2M14 38.5h1M22 38.5h1M123 38.5h1M159 38.5h1M4 39.5h1M10 39.5h2M15 39.5h1M29 39.5h1M33 39.5h1M150 39.5h1M167 39.5h1M12 40.5h2M55 40.5h1M64 40.5h1M76 40.5h1M136 40.5h1M148 40.5h1M152 40.5h2M162 40.5h1M169 40.5h1M4 41.5h1M10 41.5h1M18 41.5h1M76 41.5h1M91 41.5h1M139 41.5h1M11 42.5h1M19 42.5h1M29 42.5h1M45 42.5h1M83 42.5h1M139 42.5h1M152 42.5h1M155 42.5h1M164 42.5h1M18 43.5h2M23 43.5h1M135 43.5h1M156 43.5h1M30 44.5h1M60 44.5h1M73 44.5h1M151 44.5h1M2 45.5h1M60 45.5h1M135 45.5h1M145 45.5h1M150 45.5h1M158 45.5h1M169 45.5h1M2 46.5h1M16 46.5h1M19 46.5h1M26 46.5h2M29 46.5h1M48 46.5h1M67 46.5h1M142 46.5h1M148 46.5h1M152 46.5h1M22 47.5h1M29 47.5h1M41 47.5h1M51 47.5h1M158 47.5h1M161 47.5h1M166 47.5h1M16 48.5h1M25 48.5h1M56 48.5h1M105 48.5h1M156 48.5h1M163 48.5h1M167 48.5h1M82 49.5h1M150 49.5h1M13 50.5h1M55 50.5h1M156 50.5h2M154 51.5h1M21 52.5h2M27 52.5h1M57 52.5h1M35 53.5h1M70 53.5h1M159 53.5h1M168 53.5h1M22 54.5h1M32 54.5h1M75 54.5h1M83 54.5h1M3 55.5h2M16 55.5h1M22 55.5h1M47 55.5h1M52 55.5h1M56 55.5h1M62 55.5h1M165 55.5h1M5 56.5h1M47 56.5h1M50 56.5h1M52 56.5h1M65 56.5h1M96 56.5h1M161 56.5h1M163 56.5h1M11 57.5h1M42 57.5h1M51 57.5h1M55 57.5h1M165 57.5h1M20 58.5h1M30 58.5h1M35 58.5h1M38 58.5h1M43 58.5h1M47 58.5h1M75 58.5h1M108 58.5h1M169 58.5h1M2 59.5h1M83 59.5h1M108 59.5h1M165 59.5h1M11 60.5h1M52 60.5h1M106 60.5h1M130 60.5h1M53 61.5h1M76 61.5h1M1 62.5h1M22 62.5h1M52 62.5h1M54 62.5h1M68 62.5h2M106 62.5h1M12 63.5h1M35 63.5h1M44 63.5h1M66 63.5h1M92 63.5h1M138 63.5h1M61 64.5h2M66 64.5h1M76 64.5h1M23 65.5h1M44 65.5h1M49 65.5h1M24 66.5h2M54 66.5h1M58 66.5h1M85 66.5h1M64 67.5h1M78 67.5h1M100 67.5h1M27 68.5h1M60 68.5h1M68 68.5h1M73 68.5h1M101 68.5h1M104 68.5h1M1 69.5h1M14 69.5h1M30 69.5h1M39 69.5h1M51 69.5h1M60 69.5h1M83 69.5h1M89 69.5h1M131 69.5h1M25 70.5h1M34 70.5h1M42 70.5h1M106 70.5h1M119 70.5h1M133 70.5h1M13 71.5h1M30 71.5h1M36 71.5h1M52 71.5h1M61 71.5h1M75 71.5h1M89 71.5h1M81 72.5h1M105 72.5h1M56 73.5h2M84 73.5h1M107 73.5h1M110 73.5h1M45 74.5h1M55 74.5h1M87 74.5h1M105 74.5h1M116 74.5h1"/>
<path stroke="#311165" d="M31 0.5h1M36 0.5h1M39 0.5h1M51 0.5h1M72 0.5h1M130 0.5h1M132 0.5h1M136 0.5h1M145 0.5h1M154 0.5h1M18 1.5h1M29 1.5h1M32 1.5h1M83 1.5h1M86 1.5h1M90 1.5h1M111 1.5h1M132 1.5h1M144 1.5h1M153 1.5h1M27 2.5h1M44 2.5h1M58 2.5h1M113 2.5h1M124 2.5h1M155 2.5h1M18 3.5h1M25 3.5h1M32 3.5h1M41 3.5h2M76 3.5h1M90 3.5h1M116 3.5h1M120 3.5h1M123 3.5h1M126 3.5h2M144 3.5h1M147 3.5h1M162 3.5h1M30 4.5h1M38 4.5h1M45 4.5h1M47 4.5h1M83 4.5h2M92 4.5h1M143 4.5h1M146 4.5h1M21 5.5h1M41 5.5h1M52 5.5h1M83 5.5h2M101 5.5h1M119 5.5h1M142 5.5h1M144 5.5h2M148 5.5h1M167 5.5h1M27 6.5h1M31 6.5h1M36 6.5h1M67 6.5h1M71 6.5h1M85 6.5h1M87 6.5h1M95 6.5h1M125 6.5h1M146 6.5h1M153 6.5h1M24 7.5h1M28 7.5h1M36 7.5h1M49 7.5h1M72 7.5h1M111 7.5h1M115 7.5h1M129 7.5h1M132 7.5h1M140 7.5h1M158 7.5h1M161 7.5h1M37 8.5h1M52 8.5h1M102 8.5h1M105 8.5h1M107 8.5h1M109 8.5h1M115 8.5h1M146 8.5h1M154 8.5h1M165 8.5h1M37 9.5h1M131 9.5h1M142 9.5h1M146 9.5h1M165 9.5h1M13 10.5h1M43 10.5h1M49 10.5h1M68 10.5h1M79 10.5h1M103 10.5h1M124 10.5h1M128 10.5h1M133 10.5h1M20 11.5h1M36 11.5h1M40 11.5h1M68 11.5h1M82 11.5h1M99 11.5h1M109 11.5h1M112 11.5h1M116 11.5h1M145 11.5h1M166 11.5h1M46 12.5h1M86 12.5h1M95 12.5h1M129 12.5h1M163 12.5h1M42 13.5h2M69 13.5h1M75 13.5h1M100 13.5h1M105 13.5h1M114 13.5h1M128 13.5h1M131 13.5h1M134 13.5h1M161 13.5h1M43 14.5h1M62 14.5h1M87 14.5h1M90 14.5h1M96 14.5h1M111 14.5h1M126 14.5h1M144 14.5h1M153 14.5h1M160 14.5h2M18 15.5h1M34 15.5h1M104 15.5h1M109 15.5h1M111 15.5h1M115 15.5h1M30 16.5h1M57 16.5h1M128 16.5h1M44 17.5h1M74 17.5h1M111 17.5h1M113 17.5h1M126 17.5h1M128 17.5h1M136 17.5h1M139 17.5h1M149 17.5h1M161 17.5h1M166 17.5h1M38 18.5h1M60 18.5h1M92 18.5h1M112 18.5h1M137 18.5h1M41 19.5h1M47 19.5h1M82 19.5h1M101 19.5h1M62 20.5h1M100 20.5h1M102 20.5h1M104 20.5h1M145 20.5h1M153 20.5h2M162 20.5h3M38 21.5h1M46 21.5h1M75 21.5h2M92 21.5h1M101 21.5h2M109 21.5h1M126 21.5h1M131 21.5h2M140 21.5h1M153 21.5h1M53 22.5h1M141 22.5h1M145 22.5h1M152 22.5h1M158 22.5h1M167 22.5h1M2 23.5h1M39 23.5h1M88 23.5h1M99 23.5h1M107 23.5h1M143 23.5h1M146 23.5h1M51 24.5h1M86 24.5h1M120 24.5h1M161 24.5h1M68 25.5h1M99 25.5h1M106 25.5h1M118 25.5h1M120 25.5h1M124 25.5h1M136 25.5h1M155 25.5h1M168 25.5h2M2 26.5h1M4 26.5h1M61 26.5h1M90 26.5h1M122 26.5h1M150 26.5h1M158 26.5h1M80 27.5h1M95 27.5h1M114 27.5h1M117 27.5h1M131 27.5h1M134 27.5h1M136 27.5h1M142 27.5h1M151 27.5h1M6 28.5h1M20 28.5h1M112 28.5h1M116 28.5h1M118 28.5h1M139 28.5h1M141 28.5h1M146 28.5h1M113 29.5h1M120 29.5h1M134 29.5h1M64 30.5h1M126 30.5h1M136 30.5h1M152 30.5h1M160 30.5h1M163 30.5h1M0 31.5h1M117 31.5h1M140 31.5h1M149 31.5h1M8 32.5h1M16 32.5h1M23 32.5h1M139 32.5h1M148 32.5h1M159 32.5h1M116 33.5h2M126 33.5h1M157 33.5h1M5 34.5h1M8 34.5h1M13 34.5h1M137 34.5h1M152 34.5h1M158 34.5h1M1 35.5h1M33 35.5h1M127 35.5h1M132 35.5h1M138 35.5h1M144 35.5h1M152 35.5h1M4 36.5h1M17 36.5h1M23 36.5h1M128 36.5h1M131 36.5h1M164 36.5h1M166 36.5h2M29 37.5h1M122 37.5h1M153 37.5h1M162 37.5h1M168 37.5h1M12 38.5h1M18 38.5h1M63 38.5h1M133 38.5h1M156 38.5h1M160 38.5h1M167 38.5h1M14 39.5h1M129 39.5h1M143 39.5h1M145 39.5h1M161 39.5h1M36 40.5h1M58 40.5h1M73 40.5h1M93 40.5h1M127 40.5h1M129 40.5h1M164 40.5h1M166 40.5h1M0 41.5h1M11 41.5h1M22 41.5h1M25 41.5h1M58 41.5h1M128 41.5h1M131 41.5h1M135 41.5h1M167 41.5h1M1 42.5h1M8 42.5h1M21 42.5h1M55 42.5h1M72 42.5h1M130 42.5h1M145 42.5h1M13 43.5h1M30 43.5h1M70 43.5h1M84 43.5h1M0 44.5h1M4 44.5h1M8 44.5h1M19 44.5h1M23 44.5h1M45 44.5h2M52 44.5h1M134 44.5h1M141 44.5h1M147 44.5h1M149 44.5h1M167 44.5h1M26 45.5h1M31 45.5h1M39 45.5h1M48 45.5h1M89 45.5h1M108 45.5h1M137 45.5h1M148 45.5h1M166 45.5h1M6 46.5h1M37 46.5h1M39 46.5h1M74 46.5h1M153 46.5h2M18 47.5h1M46 47.5h1M49 47.5h1M53 47.5h1M60 47.5h1M26 48.5h1M32 48.5h1M35 48.5h1M39 48.5h1M65 48.5h1M165 48.5h1M3 49.5h1M28 49.5h1M46 49.5h1M57 49.5h1M68 49.5h1M80 49.5h1M83 49.5h1M143 49.5h1M151 49.5h1M156 49.5h2M164 49.5h1M31 50.5h1M8 51.5h1M14 51.5h1M16 51.5h1M42 51.5h1M60 51.5h1M69 51.5h1M76 51.5h1M155 51.5h1M163 51.5h1M0 52.5h1M13 52.5h2M29 52.5h1M48 52.5h1M51 52.5h1M102 52.5h1M119 52.5h1M151 52.5h1M161 52.5h1M10 53.5h1M39 53.5h1M81 53.5h1M106 53.5h1M163 53.5h1M12 54.5h1M46 54.5h1M49 54.5h1M71 54.5h1M93 54.5h1M11 55.5h1M29 55.5h1M39 55.5h1M53 55.5h1M67 55.5h1M69 55.5h1M94 55.5h1M162 55.5h1M3 56.5h1M62 56.5h1M101 56.5h1M104 56.5h2M118 56.5h1M27 57.5h2M38 57.5h1M45 57.5h1M105 57.5h1M10 58.5h1M24 58.5h1M29 58.5h1M60 58.5h1M63 58.5h1M79 58.5h1M102 58.5h1M10 59.5h1M36 59.5h1M40 59.5h1M53 59.5h1M61 59.5h1M167 59.5h1M18 60.5h2M43 60.5h1M45 60.5h1M92 60.5h1M102 60.5h1M29 61.5h1M32 61.5h1M35 61.5h1M62 61.5h1M15 62.5h1M23 62.5h1M47 62.5h1M81 62.5h1M85 62.5h1M10 63.5h1M41 63.5h2M55 63.5h1M21 64.5h1M70 64.5h1M108 64.5h1M32 65.5h1M42 65.5h1M53 65.5h1M92 65.5h1M95 65.5h1M98 65.5h1M14 66.5h1M20 66.5h1M82 66.5h1M104 66.5h1M110 66.5h1M113 66.5h1M116 66.5h1M8 67.5h1M34 67.5h1M43 67.5h1M75 67.5h1M104 67.5h3M15 68.5h1M53 68.5h1M85 68.5h1M96 68.5h1M106 68.5h1M10 69.5h1M19 69.5h1M37 69.5h1M40 69.5h1M58 69.5h2M62 69.5h1M86 69.5h1M113 69.5h1M29 70.5h1M57 70.5h1M64 70.5h1M55 71.5h1M69 71.5h2M14 72.5h1M65 72.5h1M74 72.5h1M82 72.5h1M100 72.5h1M39 73.5h1M43 73.5h2M81 73.5h1M106 73.5h1M116 73.5h1M15 74.5h1M27 74.5h1M90 74.5h1M117 74.5h1"/>
<path stroke="#36106b" d="M38 0.5h1M86 0.5h1M109 0.5h1M112 0.5h1M134 0.5h1M146 0.5h1M161 0.5h1M34 1.5h1M54 1.5h1M59 1.5h1M68 1.5h1M75 1.5h1M102 1.5h1M112 1.5h1M119 1.5h1M129 1.5h1M131 1.5h1M135 1.5h1M140 1.5h1M154 1.5h1M157 1.5h1M49 2.5h1M77 2.5h1M87 2.5h1M95 2.5h1M99 2.5h1M111 2.5h1M115 2.5h1M127 2.5h2M140 2.5h1M20 3.5h1M38 3.5h1M50 3.5h1M74 3.5h1M105 3.5h1M112 3.5h1M119 3.5h1M150 3.5h1M17 4.5h1M27 4.5h1M44 4.5h1M61 4.5h1M74 4.5h1M111 4.5h1M119 4.5h1M135 4.5h1M139 4.5h1M145 4.5h1M158 4.5h1M23 5.5h1M79 5.5h1M105 5.5h1M118 5.5h1M136 5.5h1M143 5.5h1M158 5.5h1M17 6.5h1M29 6.5h1M32 6.5h1M38 6.5h1M56 6.5h1M62 6.5h1M65 6.5h1M109 6.5h1M117 6.5h1M120 6.5h1M149 6.5h1M158 6.5h1M61 7.5h1M78 7.5h1M106 7.5h1M110 7.5h1M137 7.5h1M18 8.5h1M33 8.5h1M49 8.5h1M61 8.5h1M85 8.5h2M123 8.5h1M151 8.5h1M157 8.5h1M162 8.5h1M166 8.5h1M56 9.5h1M67 9.5h1M72 9.5h1M89 9.5h2M105 9.5h1M112 9.5h1M127 9.5h1M147 9.5h1M161 9.5h1M36 10.5h2M40 10.5h1M42 10.5h1M45 10.5h1M47 10.5h1M51 10.5h1M56 10.5h1M104 10.5h1M132 10.5h1M137 10.5h1M140 10.5h2M27 11.5h1M30 11.5h1M39 11.5h1M93 11.5h1M105 11.5h1M111 11.5h1M124 11.5h1M130 11.5h1M150 11.5h1M164 11.5h1M43 12.5h1M64 12.5h1M75 12.5h1M84 12.5h1M98 12.5h3M107 12.5h1M123 12.5h1M134 12.5h1M139 12.5h1M166 12.5h1M30 13.5h1M82 13.5h1M120 13.5h1M125 13.5h1M130 13.5h1M132 13.5h1M144 13.5h1M151 13.5h1M24 14.5h1M33 14.5h1M36 14.5h1M45 14.5h1M64 14.5h2M75 14.5h1M77 14.5h1M92 14.5h1M105 14.5h1M113 14.5h1M136 14.5h1M140 14.5h1M146 14.5h1M155 14.5h1M169 14.5h1M27 15.5h1M40 15.5h1M84 15.5h1M95 15.5h1M125 15.5h1M143 15.5h1M145 15.5h1M159 15.5h1M23 16.5h1M36 16.5h1M74 16.5h1M83 16.5h1M107 16.5h2M119 16.5h1M138 16.5h1M143 16.5h1M37 17.5h1M43 17.5h1M69 17.5h1M102 17.5h1M153 17.5h1M37 18.5h1M43 18.5h1M86 18.5h1M117 18.5h1M133 18.5h1M158 18.5h1M162 18.5h1M167 18.5h1M36 19.5h1M39 19.5h1M68 19.5h1M85 19.5h1M129 19.5h1M155 19.5h1M159 19.5h1M42 20.5h1M49 20.5h1M75 20.5h1M77 20.5h1M91 20.5h1M95 20.5h1M97 20.5h1M113 20.5h1M116 20.5h1M122 20.5h1M139 20.5h1M142 20.5h1M146 20.5h1M33 21.5h1M65 21.5h1M81 21.5h1M96 21.5h1M136 21.5h1M150 21.5h1M160 21.5h1M163 21.5h1M168 21.5h1M39 22.5h1M104 22.5h1M106 22.5h1M132 22.5h1M147 22.5h1M162 22.5h1M165 22.5h1M169 22.5h1M5 23.5h1M54 23.5h1M78 23.5h1M124 23.5h1M130 23.5h1M135 23.5h1M145 23.5h1M149 23.5h1M153 23.5h1M158 23.5h1M3 24.5h1M39 24.5h1M44 24.5h1M57 24.5h1M95 24.5h1M97 24.5h1M110 24.5h1M114 24.5h1M119 24.5h1M144 24.5h1M155 24.5h1M168 24.5h1M38 25.5h1M53 25.5h1M114 25.5h1M161 25.5h1M82 26.5h1M91 26.5h1M145 26.5h1M156 26.5h1M11 27.5h2M81 27.5h1M84 27.5h1M90 27.5h1M101 27.5h1M139 27.5h1M150 27.5h1M86 28.5h1M109 28.5h1M119 28.5h1M125 28.5h1M135 28.5h1M167 28.5h1M14 29.5h1M76 29.5h1M87 29.5h1M129 29.5h1M149 29.5h2M164 29.5h1M8 30.5h1M12 30.5h1M140 30.5h1M149 30.5h1M1 31.5h1M17 31.5h1M111 31.5h1M128 31.5h1M150 31.5h1M7 32.5h1M11 32.5h1M17 32.5h1M123 32.5h1M128 32.5h1M153 32.5h1M156 32.5h1M169 32.5h1M11 33.5h1M24 33.5h1M120 33.5h1M128 33.5h1M27 34.5h2M125 34.5h1M145 34.5h1M153 34.5h1M165 34.5h1M8 35.5h1M25 35.5h1M29 35.5h1M117 35.5h1M122 35.5h1M141 35.5h1M146 35.5h1M151 35.5h1M156 35.5h1M159 35.5h1M14 36.5h1M119 36.5h1M123 36.5h1M142 36.5h1M2 37.5h1M11 37.5h1M21 37.5h1M131 37.5h1M146 37.5h1M155 37.5h1M163 37.5h1M4 38.5h1M27 38.5h1M145 38.5h1M148 38.5h1M157 38.5h1M168 38.5h1M8 39.5h1M23 39.5h1M40 39.5h1M49 39.5h1M77 39.5h1M169 39.5h1M0 40.5h3M16 40.5h1M27 40.5h1M29 40.5h1M137 40.5h1M157 40.5h1M1 41.5h1M24 41.5h1M32 41.5h1M41 41.5h1M86 41.5h1M148 41.5h1M154 41.5h1M159 41.5h1M5 42.5h2M12 42.5h1M35 42.5h1M73 42.5h1M77 42.5h1M141 42.5h1M162 42.5h1M8 43.5h1M32 43.5h1M42 43.5h1M51 43.5h1M54 43.5h1M67 43.5h2M80 43.5h2M90 43.5h1M92 43.5h1M136 43.5h1M146 43.5h1M31 44.5h1M83 44.5h1M143 44.5h1M148 44.5h1M63 45.5h1M83 45.5h1M142 45.5h1M4 46.5h1M35 46.5h1M43 46.5h1M47 46.5h1M60 46.5h1M71 46.5h1M86 46.5h1M157 46.5h1M160 46.5h1M162 46.5h1M168 46.5h1M15 47.5h1M24 47.5h1M80 47.5h1M147 47.5h1M149 47.5h1M165 47.5h1M4 48.5h1M14 48.5h1M43 48.5h1M49 48.5h1M58 48.5h1M69 48.5h1M78 48.5h1M10 49.5h1M13 49.5h1M30 49.5h2M40 49.5h1M43 49.5h2M49 49.5h1M75 49.5h1M155 49.5h1M7 50.5h1M26 50.5h1M46 50.5h1M92 50.5h1M148 50.5h1M152 50.5h1M165 50.5h1M18 51.5h1M40 51.5h1M49 51.5h1M85 51.5h2M105 51.5h1M159 51.5h1M24 52.5h1M60 52.5h1M123 52.5h1M153 52.5h1M168 52.5h1M6 53.5h1M21 53.5h1M100 53.5h1M162 53.5h1M167 53.5h1M5 54.5h1M7 54.5h2M11 54.5h1M13 54.5h1M23 54.5h1M31 54.5h1M33 54.5h1M55 54.5h1M70 54.5h1M106 54.5h1M168 54.5h1M25 55.5h1M41 55.5h1M51 55.5h1M61 55.5h1M104 55.5h1M156 55.5h1M163 55.5h1M74 56.5h2M79 56.5h1M168 56.5h1M20 57.5h1M32 57.5h1M35 57.5h1M75 57.5h1M2 58.5h1M9 58.5h1M49 58.5h1M52 58.5h1M82 58.5h1M16 59.5h1M18 59.5h1M29 59.5h1M50 59.5h1M58 59.5h1M84 59.5h1M31 60.5h1M80 60.5h1M0 61.5h1M27 61.5h2M55 61.5h1M57 61.5h2M65 61.5h1M7 62.5h1M25 62.5h1M29 62.5h1M45 62.5h1M71 62.5h1M76 62.5h2M97 62.5h2M103 62.5h1M111 62.5h1M117 62.5h1M3 63.5h1M71 63.5h1M104 63.5h1M20 64.5h1M22 64.5h1M39 64.5h1M47 64.5h1M57 64.5h1M63 64.5h2M68 64.5h1M87 64.5h1M128 64.5h1M6 65.5h1M24 65.5h1M35 65.5h1M73 65.5h1M93 65.5h2M104 65.5h1M13 66.5h1M42 66.5h1M65 66.5h1M86 66.5h1M33 67.5h1M41 67.5h1M26 68.5h1M41 68.5h1M72 68.5h1M86 68.5h1M127 68.5h1M11 69.5h1M48 69.5h1M82 69.5h1M6 70.5h1M16 70.5h1M18 70.5h1M22 70.5h1M40 70.5h1M68 70.5h1M97 70.5h1M101 70.5h2M111 70.5h1M7 71.5h1M33 71.5h1M44 71.5h2M51 71.5h1M72 71.5h1M76 71.5h1M134 71.5h1M31 72.5h1M52 72.5h1M63 72.5h1M67 72.5h1M70 72.5h1M97 72.5h1M116 72.5h1M28 73.5h1M63 73.5h1M97 73.5h1M112 73.5h1M128 73.5h1M138 73.5h1M23 74.5h1M65 74.5h1M70 74.5h1M79 74.5h1M118 74.5h1"/>
<path stroke="#3b0f70" d="M47 0.5h1M53 0.5h1M65 0.5h1M79 0.5h1M114 0.5h2M138 0.5h1M142 0.5h2M159 0.5h1M169 0.5h1M43 1.5h1M55 1.5h1M85 1.5h1M106 1.5h1M137 1.5h1M145 1.5h1M147 1.5h1M150 1.5h1M161 1.5h1M165 1.5h1M11 2.5h1M40 2.5h1M61 2.5h2M91 2.5h1M112 2.5h1M126 2.5h1M132 2.5h1M145 2.5h1M148 2.5h1M159 2.5h1M12 3.5h1M54 3.5h1M85 3.5h2M99 3.5h1M107 3.5h1M132 3.5h1M159 3.5h1M34 4.5h1M42 4.5h1M46 4.5h1M53 4.5h1M62 4.5h1M80 4.5h2M102 4.5h1M112 4.5h1M121 4.5h1M131 4.5h1M134 4.5h1M137 4.5h1M140 4.5h1M149 4.5h1M162 4.5h1M168 4.5h1M22 5.5h1M27 5.5h1M42 5.5h2M71 5.5h1M74 5.5h1M82 5.5h1M116 5.5h1M147 5.5h1M152 5.5h1M166 5.5h1M48 6.5h2M57 6.5h1M79 6.5h1M92 6.5h1M99 6.5h1M103 6.5h1M105 6.5h1M130 6.5h1M157 6.5h1M164 6.5h1M35 7.5h1M38 7.5h1M99 7.5h1M118 7.5h1M127 7.5h2M134 7.5h1M154 7.5h1M30 8.5h1M46 8.5h1M90 8.5h1M108 8.5h1M110 8.5h1M117 8.5h1M122 8.5h1M124 8.5h2M161 8.5h1M20 9.5h1M40 9.5h1M75 9.5h1M97 9.5h1M113 9.5h1M133 9.5h1M137 9.5h1M35 10.5h1M46 10.5h1M75 10.5h1M91 10.5h1M99 10.5h1M134 10.5h1M139 10.5h1M142 10.5h1M157 10.5h1M165 10.5h1M24 11.5h1M41 11.5h2M71 11.5h1M75 11.5h1M101 11.5h1M110 11.5h1M119 11.5h1M133 11.5h1M141 11.5h1M148 11.5h1M151 11.5h1M13 12.5h1M21 12.5h1M35 12.5h1M44 12.5h1M48 12.5h1M71 12.5h1M94 12.5h1M117 12.5h1M19 13.5h1M31 13.5h1M40 13.5h1M51 13.5h1M89 13.5h1M103 13.5h1M136 13.5h1M150 13.5h1M166 13.5h1M17 14.5h1M27 14.5h1M31 14.5h1M44 14.5h1M125 14.5h1M130 14.5h1M143 14.5h1M167 14.5h1M33 15.5h1M38 15.5h1M62 15.5h1M71 15.5h1M81 15.5h1M87 15.5h1M93 15.5h1M99 15.5h1M108 15.5h1M128 15.5h2M142 15.5h1M152 15.5h1M163 15.5h1M166 15.5h1M169 15.5h1M35 16.5h1M39 16.5h1M44 16.5h2M60 16.5h1M63 16.5h1M90 16.5h1M93 16.5h1M115 16.5h1M144 16.5h1M155 16.5h1M36 17.5h1M51 17.5h1M80 17.5h1M83 17.5h1M97 17.5h1M127 17.5h1M28 18.5h1M48 18.5h1M50 18.5h1M53 18.5h1M55 18.5h1M71 18.5h1M73 18.5h1M75 18.5h1M83 18.5h1M98 18.5h1M105 18.5h1M109 18.5h1M118 18.5h1M121 18.5h1M130 18.5h1M143 18.5h1M147 18.5h1M152 18.5h1M166 18.5h1M35 19.5h1M56 19.5h1M63 19.5h1M74 19.5h1M77 19.5h1M87 19.5h1M99 19.5h1M116 19.5h2M123 19.5h1M164 19.5h1M167 19.5h1M83 20.5h2M118 20.5h1M167 20.5h1M169 20.5h1M5 21.5h1M62 21.5h1M77 21.5h1M84 21.5h1M97 21.5h1M104 21.5h1M115 21.5h1M119 21.5h1M123 21.5h3M129 21.5h1M146 21.5h1M44 22.5h1M83 22.5h2M94 22.5h1M98 22.5h1M113 22.5h1M127 22.5h1M140 22.5h1M23 23.5h1M40 23.5h1M79 23.5h1M84 23.5h1M86 23.5h1M113 23.5h1M147 23.5h1M167 23.5h1M2 24.5h1M56 24.5h1M60 24.5h1M67 24.5h1M78 24.5h1M108 24.5h1M127 24.5h1M163 24.5h1M1 25.5h1M34 25.5h1M75 25.5h2M87 25.5h1M107 25.5h1M135 25.5h1M145 25.5h1M160 25.5h1M165 25.5h1M62 26.5h1M100 26.5h1M106 26.5h1M139 26.5h1M7 27.5h1M69 27.5h1M126 27.5h1M128 27.5h2M153 27.5h2M168 27.5h1M81 28.5h2M89 28.5h1M91 28.5h1M96 28.5h1M105 28.5h2M128 28.5h1M160 28.5h1M168 28.5h1M62 29.5h2M86 29.5h1M119 29.5h1M124 29.5h1M142 29.5h2M162 29.5h1M0 30.5h1M7 30.5h1M96 30.5h1M113 30.5h1M116 30.5h1M8 31.5h1M16 31.5h1M21 31.5h1M127 31.5h1M132 31.5h1M147 31.5h1M153 31.5h2M168 31.5h1M5 32.5h1M130 32.5h1M132 32.5h1M161 32.5h1M7 33.5h1M163 33.5h1M121 34.5h1M132 34.5h1M140 34.5h1M156 34.5h1M13 35.5h1M139 35.5h1M161 35.5h1M118 36.5h1M120 36.5h1M148 36.5h1M154 36.5h1M157 36.5h1M134 37.5h1M140 37.5h1M159 37.5h1M6 38.5h1M19 38.5h2M121 38.5h1M151 38.5h1M28 39.5h1M39 39.5h1M61 39.5h1M75 39.5h1M132 39.5h1M152 39.5h2M4 40.5h2M7 40.5h1M21 40.5h1M24 40.5h1M31 40.5h1M33 40.5h1M72 40.5h1M74 40.5h1M81 40.5h1M144 40.5h1M149 40.5h1M151 40.5h1M154 40.5h1M26 41.5h1M29 41.5h1M50 41.5h1M66 41.5h1M157 41.5h1M168 41.5h1M26 42.5h1M34 42.5h1M57 42.5h1M67 42.5h1M86 42.5h1M106 42.5h1M137 42.5h1M140 42.5h1M143 42.5h1M159 42.5h1M1 43.5h1M5 43.5h1M9 43.5h1M15 43.5h2M62 43.5h1M74 43.5h1M86 43.5h1M160 43.5h1M7 44.5h1M17 44.5h1M26 44.5h1M142 44.5h1M144 44.5h1M152 44.5h1M157 44.5h1M34 45.5h1M54 45.5h1M94 45.5h1M104 45.5h1M146 45.5h1M15 46.5h1M56 46.5h1M63 46.5h1M85 46.5h1M147 46.5h1M35 47.5h1M63 47.5h1M151 47.5h1M155 47.5h1M159 47.5h1M164 47.5h1M0 48.5h1M12 48.5h1M40 48.5h1M61 48.5h1M68 48.5h1M90 48.5h2M94 48.5h1M101 48.5h1M166 48.5h1M23 49.5h1M32 49.5h1M37 49.5h1M105 49.5h1M111 49.5h1M163 49.5h1M166 49.5h1M1 50.5h1M12 50.5h1M15 50.5h1M38 50.5h1M73 50.5h1M151 50.5h1M164 50.5h1M169 50.5h1M3 51.5h1M41 51.5h1M102 51.5h1M168 51.5h1M5 52.5h1M35 52.5h1M37 52.5h1M42 52.5h1M68 52.5h1M73 52.5h1M152 52.5h1M157 52.5h1M2 53.5h1M18 53.5h1M25 53.5h2M28 53.5h1M33 53.5h1M44 54.5h1M67 54.5h1M87 54.5h1M91 54.5h1M115 54.5h1M121 54.5h1M154 54.5h1M0 55.5h1M9 55.5h1M34 55.5h1M48 55.5h1M60 55.5h1M68 55.5h1M72 55.5h1M2 56.5h1M20 56.5h2M32 56.5h1M51 56.5h1M67 56.5h1M71 56.5h1M76 56.5h1M116 56.5h1M6 57.5h1M19 57.5h1M43 57.5h1M47 57.5h1M62 57.5h1M94 57.5h1M100 57.5h1M13 58.5h1M17 58.5h1M22 58.5h1M26 58.5h1M34 58.5h1M48 58.5h1M55 58.5h1M57 58.5h1M62 58.5h1M86 58.5h1M105 58.5h1M166 58.5h1M28 59.5h1M31 59.5h1M43 59.5h1M89 59.5h1M164 59.5h1M0 60.5h1M2 60.5h1M23 60.5h1M30 60.5h1M34 60.5h1M47 60.5h1M64 60.5h1M66 60.5h1M68 60.5h1M74 60.5h1M117 60.5h1M168 60.5h1M37 61.5h1M46 61.5h1M52 61.5h1M64 61.5h1M69 61.5h2M75 61.5h1M84 61.5h1M90 61.5h1M116 61.5h1M118 61.5h1M120 61.5h1M0 62.5h1M6 62.5h1M18 62.5h1M51 62.5h1M72 62.5h1M83 62.5h1M99 62.5h1M102 62.5h1M107 62.5h1M15 63.5h1M31 63.5h1M34 63.5h1M36 63.5h2M59 63.5h1M63 63.5h1M14 64.5h1M32 64.5h1M34 64.5h1M36 64.5h1M65 64.5h1M67 64.5h1M95 64.5h1M105 64.5h1M16 65.5h1M30 65.5h1M60 65.5h1M63 65.5h1M74 65.5h1M131 65.5h1M16 66.5h1M34 66.5h2M37 66.5h1M63 66.5h1M81 66.5h1M99 66.5h1M26 67.5h1M59 67.5h1M69 67.5h1M77 67.5h1M92 67.5h1M98 67.5h1M9 68.5h1M31 68.5h1M49 68.5h1M51 68.5h1M70 68.5h1M93 68.5h2M99 68.5h1M109 68.5h1M131 68.5h1M33 69.5h1M56 69.5h1M85 69.5h1M95 69.5h1M103 69.5h1M35 70.5h1M45 70.5h1M52 70.5h1M54 70.5h1M56 70.5h1M87 70.5h1M109 70.5h1M114 70.5h1M118 70.5h1M25 71.5h1M40 71.5h1M43 71.5h1M60 71.5h1M71 71.5h1M77 71.5h1M93 71.5h1M117 71.5h1M136 71.5h1M46 72.5h1M58 72.5h1M84 72.5h1M90 72.5h1M121 72.5h1M17 73.5h1M23 73.5h1M30 73.5h1M34 73.5h1M46 73.5h1M61 73.5h1M103 73.5h1M132 73.5h1M135 73.5h1M24 74.5h1M26 74.5h1M31 74.5h1M40 74.5h1M66 74.5h1M69 74.5h1M74 74.5h1M77 74.5h1M81 74.5h1M104 74.5h1M111 74.5h1M127 74.5h1M130 74.5h1"/>
<path stroke="#3f0f72" d="M59 0.5h1M71 0.5h1M76 0.5h1M93 0.5h1M111 0.5h1M157 0.5h1M167 0.5h1M15 1.5h1M42 1.5h1M46 1.5h1M48 1.5h1M50 1.5h1M52 1.5h1M62 1.5h1M78 1.5h1M80 1.5h1M89 1.5h1M116 1.5h1M122 1.5h1M124 1.5h1M134 1.5h1M17 2.5h1M22 2.5h1M32 2.5h1M39 2.5h1M73 2.5h1M85 2.5h1M104 2.5h1M116 2.5h1M118 2.5h1M121 2.5h1M129 2.5h1M136 2.5h1M151 2.5h1M154 2.5h1M71 3.5h1M73 3.5h1M81 3.5h2M97 3.5h1M129 3.5h1M140 3.5h1M152 3.5h1M155 3.5h1M157 3.5h1M26 4.5h1M37 4.5h1M39 4.5h1M69 4.5h1M75 4.5h1M96 4.5h1M98 4.5h1M100 4.5h1M107 4.5h1M126 4.5h1M150 4.5h1M159 4.5h1M40 5.5h1M62 5.5h1M80 5.5h1M104 5.5h1M150 5.5h1M39 6.5h1M60 6.5h1M68 6.5h1M70 6.5h1M75 6.5h1M77 6.5h1M80 6.5h1M111 6.5h1M113 6.5h1M126 6.5h1M167 6.5h1M13 7.5h1M64 7.5h1M89 7.5h1M149 7.5h1M162 7.5h1M169 7.5h1M17 8.5h1M60 8.5h1M72 8.5h1M79 8.5h2M160 8.5h1M164 8.5h1M31 9.5h1M45 9.5h1M61 9.5h1M70 9.5h1M73 9.5h1M102 9.5h1M134 9.5h1M156 9.5h1M39 10.5h1M52 10.5h1M70 10.5h1M76 10.5h1M146 10.5h1M38 11.5h1M46 11.5h1M51 11.5h1M55 11.5h1M97 11.5h1M100 11.5h1M103 11.5h1M108 11.5h1M118 11.5h1M126 11.5h1M156 11.5h1M36 12.5h1M52 12.5h1M87 12.5h1M104 12.5h1M124 12.5h2M140 12.5h1M144 12.5h1M151 12.5h2M157 12.5h1M32 13.5h1M44 13.5h1M53 13.5h1M60 13.5h1M111 13.5h1M115 13.5h1M122 13.5h1M142 13.5h1M38 14.5h1M60 14.5h1M67 14.5h1M97 14.5h1M102 14.5h1M104 14.5h1M134 14.5h1M148 14.5h1M43 15.5h1M73 15.5h1M96 15.5h1M124 15.5h1M139 15.5h1M144 15.5h1M38 16.5h1M52 16.5h1M56 16.5h1M65 16.5h1M86 16.5h1M97 16.5h1M113 16.5h1M160 16.5h1M59 17.5h1M73 17.5h1M87 17.5h1M117 17.5h1M120 17.5h2M145 17.5h1M147 17.5h1M12 18.5h1M21 18.5h1M26 18.5h1M82 18.5h1M107 18.5h1M124 18.5h1M142 18.5h1M145 18.5h1M157 18.5h1M169 18.5h1M28 19.5h1M49 19.5h1M58 19.5h1M69 19.5h1M88 19.5h1M100 19.5h1M134 19.5h1M163 19.5h1M168 19.5h1M50 20.5h1M103 20.5h1M49 21.5h1M72 21.5h1M74 21.5h1M127 21.5h1M134 21.5h1M137 21.5h1M139 21.5h1M142 21.5h1M40 22.5h1M43 22.5h1M58 22.5h1M65 22.5h1M68 22.5h1M71 22.5h1M133 22.5h1M156 22.5h1M160 22.5h1M37 23.5h1M41 23.5h1M50 23.5h1M58 23.5h1M67 23.5h1M96 23.5h2M103 23.5h1M115 23.5h2M140 23.5h1M157 23.5h1M159 23.5h1M164 23.5h1M37 24.5h2M59 24.5h1M74 24.5h1M106 24.5h2M116 24.5h1M125 24.5h1M132 24.5h1M145 24.5h1M147 24.5h1M152 24.5h1M158 24.5h1M37 25.5h1M63 25.5h1M92 25.5h1M41 26.5h1M69 26.5h1M89 26.5h1M143 26.5h1M160 26.5h1M10 27.5h1M57 27.5h1M66 27.5h1M100 27.5h1M102 27.5h1M113 27.5h1M130 27.5h1M140 27.5h1M149 27.5h1M156 27.5h1M1 28.5h1M14 28.5h1M83 28.5h1M100 28.5h1M108 28.5h1M110 28.5h1M137 28.5h2M143 28.5h1M145 28.5h1M162 28.5h1M1 29.5h1M9 29.5h1M50 29.5h1M61 29.5h1M75 29.5h1M106 29.5h1M122 29.5h1M169 29.5h1M5 30.5h1M9 30.5h2M20 30.5h1M38 30.5h1M68 30.5h1M115 30.5h1M124 30.5h1M129 30.5h1M145 30.5h1M148 30.5h1M9 31.5h2M135 31.5h1M137 31.5h2M146 31.5h1M151 31.5h2M164 31.5h3M118 32.5h1M0 33.5h1M6 33.5h1M19 33.5h1M21 33.5h1M26 33.5h1M112 33.5h1M121 33.5h1M123 33.5h1M132 33.5h1M9 34.5h1M17 34.5h1M128 34.5h1M130 34.5h1M141 34.5h1M143 34.5h1M147 34.5h1M159 34.5h1M6 35.5h2M9 35.5h1M125 35.5h1M157 35.5h1M167 35.5h1M1 36.5h1M135 36.5h2M160 36.5h1M126 37.5h1M147 37.5h1M151 37.5h1M154 37.5h1M130 38.5h1M134 38.5h1M142 38.5h1M6 39.5h1M19 39.5h1M25 39.5h1M71 39.5h1M126 39.5h1M138 39.5h1M147 39.5h1M156 39.5h1M10 40.5h2M20 40.5h1M44 40.5h1M49 40.5h1M96 40.5h1M124 40.5h1M3 41.5h1M5 41.5h1M21 41.5h1M44 41.5h1M47 41.5h1M60 41.5h1M72 41.5h2M160 41.5h1M0 42.5h1M23 42.5h2M84 42.5h1M91 42.5h1M154 42.5h1M168 42.5h1M10 43.5h2M39 43.5h1M44 43.5h1M66 43.5h1M75 43.5h1M78 43.5h1M87 43.5h1M140 43.5h1M143 43.5h1M155 43.5h1M167 43.5h2M48 44.5h1M55 44.5h2M72 44.5h1M81 44.5h1M84 44.5h1M162 44.5h1M168 44.5h1M9 45.5h1M30 45.5h1M40 45.5h1M46 45.5h1M59 45.5h1M164 45.5h1M167 45.5h1M3 46.5h1M14 46.5h1M17 46.5h1M33 46.5h1M49 46.5h1M53 46.5h1M69 46.5h1M77 46.5h2M140 46.5h1M143 46.5h1M146 46.5h1M163 46.5h1M4 47.5h2M19 47.5h2M31 47.5h2M39 47.5h1M55 47.5h1M65 47.5h1M74 47.5h1M83 47.5h1M5 48.5h2M66 48.5h1M80 48.5h1M87 48.5h1M144 48.5h1M7 49.5h2M20 49.5h1M27 49.5h1M50 49.5h3M76 49.5h1M103 49.5h1M149 49.5h1M153 49.5h1M160 49.5h1M8 50.5h1M17 50.5h1M40 50.5h1M88 50.5h1M106 50.5h1M154 50.5h1M30 51.5h1M36 51.5h1M75 51.5h1M81 51.5h1M89 51.5h1M160 51.5h1M1 52.5h1M8 52.5h1M30 52.5h1M34 52.5h1M39 52.5h1M58 52.5h1M66 52.5h1M70 52.5h1M77 52.5h1M80 52.5h1M89 52.5h1M110 52.5h1M32 53.5h1M36 53.5h1M61 53.5h1M64 53.5h1M83 53.5h1M89 53.5h2M1 54.5h1M26 54.5h1M45 54.5h1M57 54.5h1M60 54.5h1M64 54.5h1M76 54.5h1M89 54.5h1M102 54.5h1M162 54.5h1M6 55.5h1M21 55.5h1M28 55.5h1M36 55.5h1M44 55.5h1M77 55.5h1M109 55.5h1M161 55.5h1M28 56.5h1M33 56.5h1M36 56.5h1M61 56.5h1M108 56.5h1M110 56.5h1M3 57.5h1M24 57.5h1M59 57.5h1M61 57.5h1M77 57.5h1M82 57.5h1M89 57.5h1M95 57.5h1M115 57.5h1M129 57.5h1M160 57.5h1M0 58.5h2M31 58.5h1M59 58.5h1M61 58.5h1M69 58.5h1M84 58.5h1M91 58.5h1M1 59.5h1M21 59.5h1M41 59.5h1M44 59.5h1M55 59.5h1M65 59.5h1M72 59.5h1M85 59.5h1M101 59.5h1M110 59.5h1M122 59.5h1M6 60.5h1M25 60.5h1M57 60.5h1M62 60.5h1M78 60.5h1M169 60.5h1M15 61.5h1M34 61.5h1M38 61.5h1M92 61.5h2M102 61.5h1M113 61.5h1M5 62.5h1M13 62.5h1M27 62.5h1M36 62.5h1M42 62.5h1M62 62.5h1M96 62.5h1M104 62.5h1M108 62.5h1M26 63.5h1M32 63.5h1M81 63.5h1M83 63.5h3M103 63.5h1M105 63.5h1M109 63.5h2M120 63.5h1M33 64.5h1M92 64.5h1M99 64.5h1M131 64.5h1M14 65.5h1M40 65.5h1M58 65.5h1M97 65.5h1M111 65.5h1M119 65.5h1M26 66.5h1M31 66.5h1M38 66.5h1M79 66.5h1M83 66.5h1M90 66.5h2M139 66.5h1M15 67.5h1M25 67.5h1M47 67.5h1M50 67.5h1M52 67.5h1M57 67.5h1M89 67.5h1M93 67.5h1M99 67.5h1M115 67.5h1M117 67.5h1M30 68.5h1M34 68.5h2M39 68.5h1M75 68.5h1M80 68.5h1M89 68.5h1M105 68.5h1M113 68.5h1M20 69.5h1M26 69.5h1M28 69.5h1M38 69.5h1M87 69.5h1M106 69.5h1M117 69.5h1M17 70.5h1M20 70.5h1M30 70.5h1M36 70.5h1M44 70.5h1M71 70.5h1M92 70.5h1M19 71.5h2M100 71.5h1M120 71.5h1M123 71.5h1M142 71.5h1M11 72.5h2M45 72.5h1M53 72.5h1M61 72.5h2M78 72.5h1M89 72.5h1M98 72.5h1M131 72.5h1M20 73.5h1M48 73.5h1M52 73.5h1M54 73.5h1M72 73.5h2M96 73.5h1M117 73.5h1M130 73.5h1M25 74.5h1M33 74.5h2M37 74.5h2M50 74.5h1M53 74.5h1M56 74.5h1M58 74.5h1M92 74.5h1M107 74.5h1M110 74.5h1M123 74.5h1"/>
<path stroke="#440f76" d="M18 0.5h1M27 0.5h1M32 0.5h1M42 0.5h1M44 0.5h1M78 0.5h1M92 0.5h1M96 0.5h1M133 0.5h1M148 0.5h1M163 0.5h1M35 1.5h1M40 1.5h1M44 1.5h1M47 1.5h1M53 1.5h1M71 1.5h1M81 1.5h1M125 1.5h1M138 1.5h1M169 1.5h1M42 2.5h1M45 2.5h1M52 2.5h3M80 2.5h1M82 2.5h1M94 2.5h1M125 2.5h1M134 2.5h1M137 2.5h1M153 2.5h1M158 2.5h1M169 2.5h1M21 3.5h2M56 3.5h1M68 3.5h1M102 3.5h1M109 3.5h1M165 3.5h1M21 4.5h1M24 4.5h1M60 4.5h1M94 4.5h1M125 4.5h1M133 4.5h1M148 4.5h1M156 4.5h1M34 5.5h1M56 5.5h1M64 5.5h1M76 5.5h1M99 5.5h1M127 5.5h1M133 5.5h1M149 5.5h1M168 5.5h1M52 6.5h1M63 6.5h1M72 6.5h1M76 6.5h1M83 6.5h1M88 6.5h1M94 6.5h1M115 6.5h1M123 6.5h1M127 6.5h1M131 6.5h1M144 6.5h1M14 7.5h1M20 7.5h1M37 7.5h1M53 7.5h1M56 7.5h2M71 7.5h1M76 7.5h1M83 7.5h1M104 7.5h1M107 7.5h1M109 7.5h1M113 7.5h2M131 7.5h1M151 7.5h1M153 7.5h1M22 8.5h1M40 8.5h2M53 8.5h1M56 8.5h1M137 8.5h1M140 8.5h1M147 8.5h1M28 9.5h1M33 9.5h1M44 9.5h1M50 9.5h1M57 9.5h1M60 9.5h1M62 9.5h1M74 9.5h1M106 9.5h1M116 9.5h1M120 9.5h1M135 9.5h2M145 9.5h1M149 9.5h1M164 9.5h1M22 10.5h1M25 10.5h1M48 10.5h1M62 10.5h1M84 10.5h1M86 10.5h1M89 10.5h1M109 10.5h1M135 10.5h1M144 10.5h1M149 10.5h1M151 10.5h1M156 10.5h1M166 10.5h1M168 10.5h1M22 11.5h1M37 11.5h1M56 11.5h1M76 11.5h1M78 11.5h1M95 11.5h2M115 11.5h1M135 11.5h1M157 11.5h1M163 11.5h1M18 12.5h1M30 12.5h1M40 12.5h1M45 12.5h1M66 12.5h1M83 12.5h1M97 12.5h1M105 12.5h1M126 12.5h1M137 12.5h1M141 12.5h1M167 12.5h1M34 13.5h2M54 13.5h1M61 13.5h2M92 13.5h1M96 13.5h1M102 13.5h1M104 13.5h1M124 13.5h1M137 13.5h1M143 13.5h1M149 13.5h1M168 13.5h1M40 14.5h1M42 14.5h1M50 14.5h1M55 14.5h1M63 14.5h1M66 14.5h1M76 14.5h1M110 14.5h1M116 14.5h1M121 14.5h1M124 14.5h1M162 14.5h2M166 14.5h1M41 15.5h1M49 15.5h1M65 15.5h1M76 15.5h1M89 15.5h1M114 15.5h1M120 15.5h1M126 15.5h2M150 15.5h2M156 15.5h1M25 16.5h1M28 16.5h1M49 16.5h1M64 16.5h1M70 16.5h1M96 16.5h1M111 16.5h1M127 16.5h1M133 16.5h1M136 16.5h1M140 16.5h1M29 17.5h1M58 17.5h1M63 17.5h1M65 17.5h1M82 17.5h1M92 17.5h1M101 17.5h1M118 17.5h1M131 17.5h1M167 17.5h1M31 18.5h1M41 18.5h1M62 18.5h1M65 18.5h1M70 18.5h1M95 18.5h1M149 18.5h1M155 18.5h1M42 19.5h1M75 19.5h1M83 19.5h1M90 19.5h1M113 19.5h1M122 19.5h1M138 19.5h1M141 19.5h1M143 19.5h1M162 19.5h1M66 20.5h1M69 20.5h2M123 20.5h1M148 20.5h1M152 20.5h1M37 21.5h1M55 21.5h1M70 21.5h1M80 21.5h1M128 21.5h1M147 21.5h1M46 22.5h1M64 22.5h1M69 22.5h1M80 22.5h1M90 22.5h3M134 22.5h1M22 23.5h1M46 23.5h1M150 23.5h2M156 23.5h1M0 24.5h1M11 24.5h1M69 24.5h1M71 24.5h2M80 24.5h1M92 24.5h1M100 24.5h1M122 24.5h1M124 24.5h1M150 24.5h1M154 24.5h1M3 25.5h1M43 25.5h1M56 25.5h1M61 25.5h1M70 25.5h1M74 25.5h1M86 25.5h1M98 25.5h1M128 25.5h1M138 25.5h1M142 25.5h1M149 25.5h1M156 25.5h1M167 25.5h1M47 26.5h1M66 26.5h1M81 26.5h1M87 26.5h1M94 26.5h1M108 26.5h1M131 26.5h1M151 26.5h1M153 26.5h1M16 27.5h1M38 27.5h1M50 27.5h1M54 27.5h1M61 27.5h1M96 27.5h2M123 27.5h1M138 27.5h1M148 27.5h1M59 28.5h2M69 28.5h1M72 28.5h1M101 28.5h1M151 28.5h1M158 28.5h1M46 29.5h1M55 29.5h1M65 29.5h1M90 29.5h1M99 29.5h1M109 29.5h1M131 29.5h1M133 29.5h1M141 29.5h1M148 29.5h1M152 29.5h1M1 30.5h1M24 30.5h1M75 30.5h1M80 30.5h1M83 30.5h1M101 30.5h1M110 30.5h2M18 31.5h1M22 31.5h1M102 31.5h1M142 31.5h1M4 32.5h1M20 32.5h1M112 32.5h1M125 32.5h1M127 32.5h1M144 32.5h1M147 32.5h1M154 32.5h1M164 32.5h1M3 33.5h2M14 33.5h1M29 33.5h1M133 33.5h1M148 33.5h1M152 33.5h1M159 33.5h1M12 34.5h1M16 34.5h1M138 34.5h1M148 34.5h1M161 34.5h1M169 34.5h1M3 35.5h2M165 35.5h1M3 36.5h1M12 36.5h1M15 36.5h1M30 36.5h1M116 36.5h1M130 36.5h1M158 36.5h1M169 36.5h1M3 37.5h1M22 37.5h1M118 37.5h1M135 37.5h1M167 37.5h1M1 38.5h1M5 38.5h1M8 38.5h1M21 38.5h1M23 38.5h1M29 38.5h1M128 38.5h1M163 38.5h3M7 39.5h1M26 39.5h1M64 39.5h1M83 39.5h1M146 39.5h1M164 39.5h2M8 40.5h1M38 40.5h1M41 40.5h1M43 40.5h1M45 40.5h1M68 40.5h1M125 40.5h1M134 40.5h1M155 40.5h1M163 40.5h1M13 41.5h2M40 41.5h1M48 41.5h1M51 41.5h2M57 41.5h1M63 41.5h1M84 41.5h1M90 41.5h1M96 41.5h1M153 41.5h1M165 41.5h1M30 42.5h2M44 42.5h1M92 42.5h1M129 42.5h1M138 42.5h1M149 42.5h1M56 43.5h1M73 43.5h1M83 43.5h1M93 43.5h1M142 43.5h1M153 43.5h2M165 43.5h1M13 44.5h1M28 44.5h1M62 44.5h1M99 44.5h1M137 44.5h1M155 44.5h1M163 44.5h1M10 45.5h1M21 45.5h1M42 45.5h1M62 45.5h1M69 45.5h1M109 45.5h2M140 45.5h1M151 45.5h1M160 45.5h1M40 46.5h1M61 46.5h1M68 46.5h1M93 46.5h1M155 46.5h1M169 46.5h1M58 47.5h1M66 47.5h1M89 47.5h1M92 47.5h1M103 47.5h1M153 47.5h2M160 47.5h1M27 48.5h1M30 48.5h2M77 48.5h1M97 48.5h1M151 48.5h1M155 48.5h1M161 48.5h1M168 48.5h1M4 49.5h1M14 49.5h1M24 49.5h1M29 49.5h1M92 49.5h1M102 49.5h1M146 49.5h1M161 49.5h1M2 50.5h1M5 50.5h1M14 50.5h1M16 50.5h1M24 50.5h1M27 50.5h1M29 50.5h1M39 50.5h1M72 50.5h1M80 50.5h2M93 50.5h1M97 50.5h1M149 50.5h1M4 51.5h1M43 51.5h1M68 51.5h1M87 51.5h2M99 51.5h1M103 51.5h2M119 51.5h1M151 51.5h1M15 52.5h1M33 52.5h1M43 52.5h1M61 52.5h2M78 52.5h1M88 52.5h1M95 52.5h1M101 52.5h1M0 53.5h1M4 53.5h1M38 53.5h1M54 53.5h1M57 53.5h1M63 53.5h1M65 53.5h1M126 53.5h1M19 54.5h1M27 54.5h1M30 54.5h1M34 54.5h1M65 54.5h1M90 54.5h1M103 54.5h2M108 54.5h1M163 54.5h1M15 55.5h1M42 55.5h1M74 55.5h1M82 55.5h1M92 55.5h2M108 55.5h1M116 55.5h1M159 55.5h1M167 55.5h1M12 56.5h2M30 56.5h1M46 56.5h1M57 56.5h1M158 56.5h1M12 57.5h1M44 57.5h1M49 57.5h1M60 57.5h1M65 57.5h1M112 57.5h1M56 58.5h1M95 58.5h1M134 58.5h1M8 59.5h1M14 59.5h1M17 59.5h1M27 59.5h1M49 59.5h1M51 59.5h2M62 59.5h1M64 59.5h1M68 59.5h2M92 59.5h1M95 59.5h1M103 59.5h1M106 59.5h1M113 59.5h1M8 60.5h1M33 60.5h1M37 60.5h1M56 60.5h1M58 60.5h1M73 60.5h1M93 60.5h2M116 60.5h1M166 60.5h1M2 61.5h2M7 61.5h1M11 61.5h1M26 61.5h1M47 61.5h1M54 61.5h1M73 61.5h1M77 61.5h1M80 61.5h1M86 61.5h1M98 61.5h1M129 61.5h1M41 62.5h1M50 62.5h1M89 62.5h1M112 62.5h1M27 63.5h1M65 63.5h1M70 63.5h1M79 63.5h1M130 63.5h1M4 64.5h2M7 64.5h1M10 64.5h1M18 64.5h1M52 64.5h1M54 64.5h1M60 64.5h1M77 64.5h1M85 64.5h1M88 64.5h1M96 64.5h1M98 64.5h1M102 64.5h1M127 64.5h1M9 65.5h1M25 65.5h1M29 65.5h1M48 65.5h1M83 65.5h1M122 65.5h1M29 66.5h1M55 66.5h1M77 66.5h1M93 66.5h1M95 66.5h1M108 66.5h1M120 66.5h1M136 66.5h1M71 67.5h1M87 67.5h1M109 67.5h1M12 68.5h1M17 68.5h1M21 68.5h1M38 68.5h1M61 68.5h1M69 68.5h1M79 68.5h1M82 68.5h1M84 68.5h1M90 68.5h1M117 68.5h1M120 68.5h1M53 69.5h1M74 69.5h1M111 69.5h1M129 69.5h1M136 69.5h1M10 70.5h1M12 70.5h1M37 70.5h1M46 70.5h1M61 70.5h1M83 70.5h1M91 70.5h1M136 70.5h1M14 71.5h1M16 71.5h1M22 71.5h1M28 71.5h1M48 71.5h1M57 71.5h1M64 71.5h1M82 71.5h1M87 71.5h1M122 71.5h1M133 71.5h1M24 72.5h1M27 72.5h1M37 72.5h1M73 72.5h1M86 72.5h1M7 73.5h1M13 73.5h1M25 73.5h1M42 73.5h1M49 73.5h1M53 73.5h1M58 73.5h1M60 73.5h1M64 73.5h1M70 73.5h2M77 73.5h1M80 73.5h1M89 73.5h1M151 73.5h1M6 74.5h1M48 74.5h1M57 74.5h1M64 74.5h1M91 74.5h1M93 74.5h1M125 74.5h1"/>
<path stroke="#491078" d="M46 0.5h1M57 0.5h1M60 0.5h1M87 0.5h1M97 0.5h1M117 0.5h1M131 0.5h1M144 0.5h1M147 0.5h1M16 1.5h1M20 1.5h1M49 1.5h1M70 1.5h1M87 1.5h1M94 1.5h1M96 1.5h2M99 1.5h1M113 1.5h1M115 1.5h1M162 1.5h1M166 1.5h1M19 2.5h1M46 2.5h1M79 2.5h1M81 2.5h1M97 2.5h1M130 2.5h1M141 2.5h1M143 2.5h1M156 2.5h1M15 3.5h1M34 3.5h1M48 3.5h1M55 3.5h1M64 3.5h1M79 3.5h1M96 3.5h1M108 3.5h1M115 3.5h1M130 3.5h1M161 3.5h1M16 4.5h1M19 4.5h2M35 4.5h1M51 4.5h1M103 4.5h1M128 4.5h1M152 4.5h1M154 4.5h1M16 5.5h1M31 5.5h1M33 5.5h1M58 5.5h1M67 5.5h1M81 5.5h1M86 5.5h1M91 5.5h1M93 5.5h1M112 5.5h1M51 6.5h1M81 6.5h1M97 6.5h1M119 6.5h1M124 6.5h1M19 7.5h1M21 7.5h1M25 7.5h1M30 7.5h1M54 7.5h1M80 7.5h3M108 7.5h1M126 7.5h1M130 7.5h1M135 7.5h2M138 7.5h1M166 7.5h1M47 8.5h1M54 8.5h1M64 8.5h1M76 8.5h1M82 8.5h1M127 8.5h1M139 8.5h1M52 9.5h1M68 9.5h1M77 9.5h1M91 9.5h1M130 9.5h1M169 9.5h1M11 10.5h1M23 10.5h1M30 10.5h1M32 10.5h1M50 10.5h1M58 10.5h2M72 10.5h1M78 10.5h1M82 10.5h1M94 10.5h1M100 10.5h2M116 10.5h1M154 10.5h1M159 10.5h1M57 11.5h1M70 11.5h1M72 11.5h2M84 11.5h1M92 11.5h1M127 11.5h1M129 11.5h1M149 11.5h1M152 11.5h1M27 12.5h1M31 12.5h1M42 12.5h1M55 12.5h1M106 12.5h1M116 12.5h1M121 12.5h1M145 12.5h1M147 12.5h1M153 12.5h1M159 12.5h1M169 12.5h1M46 13.5h1M55 13.5h1M67 13.5h1M97 13.5h1M101 13.5h1M119 13.5h1M26 14.5h1M54 14.5h1M103 14.5h1M112 14.5h1M118 14.5h1M137 14.5h1M158 14.5h1M31 15.5h1M46 15.5h1M52 15.5h1M75 15.5h1M103 15.5h1M117 15.5h2M122 15.5h1M137 15.5h2M153 15.5h2M8 16.5h1M32 16.5h1M73 16.5h1M77 16.5h3M91 16.5h2M106 16.5h1M117 16.5h1M137 16.5h1M142 16.5h1M152 16.5h1M55 17.5h1M57 17.5h1M72 17.5h1M75 17.5h1M84 17.5h1M91 17.5h1M99 17.5h1M140 17.5h1M146 17.5h1M150 17.5h1M168 17.5h1M32 18.5h1M54 18.5h1M76 18.5h1M81 18.5h1M102 18.5h1M104 18.5h1M125 18.5h1M132 18.5h1M134 18.5h1M18 19.5h1M48 19.5h1M62 19.5h1M78 19.5h1M109 19.5h1M112 19.5h1M115 19.5h1M118 19.5h1M121 19.5h1M139 19.5h1M165 19.5h1M44 20.5h1M48 20.5h1M57 20.5h2M60 20.5h1M65 20.5h1M81 20.5h1M90 20.5h1M107 20.5h1M110 20.5h1M131 20.5h1M136 20.5h2M28 21.5h1M45 21.5h1M51 21.5h1M61 21.5h1M68 21.5h1M88 21.5h1M93 21.5h1M100 21.5h1M122 21.5h1M133 21.5h1M155 21.5h1M27 22.5h1M37 22.5h1M54 22.5h1M63 22.5h1M73 22.5h1M75 22.5h1M82 22.5h1M95 22.5h1M107 22.5h1M68 23.5h1M131 23.5h1M141 23.5h1M40 24.5h1M65 24.5h1M75 24.5h1M98 24.5h1M101 24.5h1M121 24.5h1M133 24.5h1M141 24.5h1M159 24.5h1M42 25.5h1M51 25.5h1M81 25.5h1M91 25.5h1M103 25.5h1M121 25.5h1M139 25.5h1M147 25.5h1M163 25.5h1M0 26.5h1M40 26.5h1M53 26.5h1M59 26.5h1M75 26.5h1M83 26.5h1M95 26.5h1M97 26.5h1M104 26.5h1M107 26.5h1M123 26.5h1M149 26.5h1M162 26.5h1M165 26.5h1M51 27.5h1M78 27.5h1M88 27.5h1M98 27.5h1M105 27.5h1M144 27.5h1M152 27.5h1M64 28.5h1M71 28.5h1M79 28.5h1M87 28.5h1M92 28.5h2M127 28.5h1M159 28.5h1M51 29.5h1M59 29.5h1M67 29.5h1M80 29.5h1M85 29.5h1M91 29.5h1M104 29.5h1M117 29.5h1M144 29.5h1M36 30.5h1M54 30.5h1M69 30.5h1M103 30.5h1M128 30.5h1M143 30.5h1M167 31.5h1M1 32.5h1M166 32.5h2M22 33.5h1M30 33.5h1M113 33.5h1M122 33.5h1M141 33.5h2M151 33.5h1M155 33.5h1M164 33.5h1M118 34.5h1M133 34.5h1M139 34.5h1M154 35.5h1M162 35.5h1M11 36.5h1M16 36.5h1M18 36.5h1M20 36.5h1M4 37.5h1M145 37.5h1M149 37.5h1M169 37.5h1M24 38.5h1M37 38.5h1M56 38.5h1M131 38.5h1M152 38.5h1M0 39.5h1M37 39.5h1M60 39.5h1M63 39.5h1M140 39.5h1M142 39.5h1M53 40.5h1M139 40.5h1M160 40.5h1M167 40.5h2M12 41.5h1M16 41.5h1M43 41.5h1M93 41.5h1M127 41.5h1M142 41.5h1M146 41.5h1M152 41.5h1M166 41.5h1M20 42.5h1M40 42.5h1M61 42.5h1M66 42.5h1M79 42.5h2M128 42.5h1M163 42.5h1M167 42.5h1M20 43.5h2M31 43.5h1M45 43.5h1M60 43.5h1M147 43.5h1M161 43.5h1M44 44.5h1M69 44.5h2M77 44.5h1M79 44.5h1M94 44.5h1M110 44.5h1M160 44.5h1M1 45.5h1M44 45.5h1M55 45.5h1M163 45.5h1M10 46.5h1M18 46.5h1M21 46.5h1M44 46.5h1M66 46.5h1M25 47.5h1M27 47.5h1M70 47.5h1M105 47.5h1M148 47.5h1M162 47.5h2M3 48.5h1M17 48.5h2M45 48.5h1M52 48.5h1M74 48.5h1M76 48.5h1M146 48.5h1M0 49.5h1M6 49.5h1M17 49.5h1M34 49.5h1M88 49.5h1M108 49.5h1M34 50.5h1M42 50.5h1M53 50.5h1M61 50.5h1M107 50.5h1M161 50.5h1M15 51.5h1M56 51.5h1M65 51.5h1M74 51.5h1M78 51.5h2M91 51.5h1M107 51.5h1M158 51.5h1M12 52.5h1M25 52.5h1M50 52.5h1M71 52.5h1M94 52.5h1M106 52.5h1M116 52.5h1M15 53.5h1M22 53.5h1M42 53.5h1M44 53.5h2M50 53.5h1M75 53.5h2M78 53.5h1M154 53.5h1M9 54.5h1M16 54.5h1M20 54.5h1M53 54.5h1M62 54.5h1M74 54.5h1M79 54.5h1M95 54.5h1M97 54.5h1M101 54.5h1M90 55.5h1M10 56.5h1M19 56.5h1M35 56.5h1M41 56.5h1M60 56.5h1M77 56.5h2M91 56.5h1M94 56.5h2M8 57.5h1M13 57.5h1M22 57.5h1M25 57.5h1M73 57.5h1M92 57.5h1M111 57.5h1M164 57.5h1M5 58.5h1M33 58.5h1M44 58.5h1M72 58.5h1M76 58.5h1M93 58.5h1M162 58.5h1M7 59.5h1M9 59.5h1M11 59.5h1M24 59.5h1M33 59.5h1M67 59.5h1M80 59.5h1M93 59.5h1M115 59.5h1M169 59.5h1M28 60.5h1M111 60.5h1M122 60.5h1M17 61.5h1M60 61.5h1M96 61.5h1M108 61.5h1M111 61.5h1M19 62.5h1M21 62.5h1M30 62.5h1M37 62.5h1M61 62.5h1M84 62.5h1M101 62.5h1M105 62.5h1M118 62.5h1M120 62.5h1M123 62.5h1M127 62.5h2M13 63.5h1M29 63.5h2M46 63.5h1M58 63.5h1M72 63.5h1M95 63.5h1M101 63.5h1M121 63.5h1M13 64.5h1M25 64.5h1M29 64.5h1M41 64.5h1M48 64.5h1M71 64.5h1M74 64.5h1M81 64.5h1M83 64.5h1M89 64.5h1M116 64.5h1M118 64.5h2M4 65.5h1M28 65.5h1M39 65.5h1M46 65.5h1M65 65.5h1M81 65.5h1M100 65.5h1M110 65.5h1M142 65.5h1M18 66.5h1M50 66.5h1M56 66.5h1M61 66.5h1M67 66.5h1M72 66.5h1M102 66.5h1M106 66.5h1M111 66.5h1M114 66.5h1M145 66.5h1M3 67.5h1M18 67.5h1M24 67.5h1M72 67.5h1M74 67.5h1M82 67.5h1M110 67.5h1M122 67.5h1M10 68.5h1M14 68.5h1M18 68.5h1M81 68.5h1M97 68.5h1M136 68.5h1M47 69.5h1M73 69.5h1M81 69.5h1M92 69.5h1M108 69.5h1M141 69.5h1M19 70.5h1M39 70.5h1M81 70.5h1M84 70.5h1M94 70.5h1M104 70.5h1M116 70.5h1M126 70.5h1M2 71.5h1M5 71.5h1M38 71.5h1M50 71.5h1M53 71.5h1M56 71.5h1M58 71.5h1M63 71.5h1M91 71.5h1M94 71.5h1M96 71.5h1M112 71.5h1M137 71.5h1M1 72.5h1M15 72.5h1M19 72.5h1M36 72.5h1M41 72.5h1M56 72.5h1M77 72.5h1M96 72.5h1M101 72.5h1M136 72.5h1M138 72.5h1M18 73.5h1M26 73.5h1M100 73.5h1M111 73.5h1M114 73.5h1M118 73.5h2M147 73.5h1M10 74.5h2M22 74.5h1M59 74.5h1M71 74.5h1M82 74.5h1M85 74.5h1M98 74.5h2M124 74.5h1M137 74.5h1"/>
<path stroke="#4c117a" d="M21 0.5h1M26 0.5h1M45 0.5h1M61 0.5h1M64 0.5h1M66 0.5h1M69 0.5h1M74 0.5h1M81 0.5h1M91 0.5h1M104 0.5h1M119 0.5h1M123 0.5h1M127 0.5h1M164 0.5h2M12 1.5h1M65 1.5h1M72 1.5h1M82 1.5h1M109 1.5h1M127 1.5h1M164 1.5h1M36 2.5h1M56 2.5h2M88 2.5h1M93 2.5h1M108 2.5h1M123 2.5h1M135 2.5h1M138 2.5h1M167 2.5h2M30 3.5h1M36 3.5h1M47 3.5h1M49 3.5h1M58 3.5h1M94 3.5h1M128 3.5h1M131 3.5h1M169 3.5h1M67 4.5h1M76 4.5h1M78 4.5h2M82 4.5h1M86 4.5h1M141 4.5h1M164 4.5h1M37 5.5h1M45 5.5h2M70 5.5h1M78 5.5h1M102 5.5h1M109 5.5h1M121 5.5h1M126 5.5h1M141 5.5h1M159 5.5h1M161 5.5h1M18 6.5h3M43 6.5h1M54 6.5h1M59 6.5h1M102 6.5h1M122 6.5h1M136 6.5h1M143 6.5h1M7 7.5h1M17 7.5h1M42 7.5h1M52 7.5h1M55 7.5h1M86 7.5h1M100 7.5h1M112 7.5h1M155 7.5h1M21 8.5h1M23 8.5h1M34 8.5h1M55 8.5h1M68 8.5h1M92 8.5h1M95 8.5h1M149 8.5h1M152 8.5h2M14 9.5h1M35 9.5h1M78 9.5h1M82 9.5h1M129 9.5h1M143 9.5h1M151 9.5h1M153 9.5h1M157 9.5h1M90 10.5h1M117 10.5h1M138 10.5h1M160 10.5h1M164 10.5h1M14 11.5h1M23 11.5h1M60 11.5h1M81 11.5h1M87 11.5h1M90 11.5h1M94 11.5h1M128 11.5h1M131 11.5h1M161 11.5h1M165 11.5h1M17 12.5h1M24 12.5h1M37 12.5h1M56 12.5h2M62 12.5h1M77 12.5h2M91 12.5h1M101 12.5h2M111 12.5h1M165 12.5h1M24 13.5h1M38 13.5h2M41 13.5h1M48 13.5h1M52 13.5h1M85 13.5h1M121 13.5h1M123 13.5h1M157 13.5h2M162 13.5h1M23 14.5h1M57 14.5h1M73 14.5h1M82 14.5h1M86 14.5h1M99 14.5h1M119 14.5h1M150 14.5h1M157 14.5h1M24 15.5h1M37 15.5h1M44 15.5h1M48 15.5h1M66 15.5h1M83 15.5h1M86 15.5h1M90 15.5h2M133 15.5h1M140 15.5h1M75 16.5h1M85 16.5h1M89 16.5h1M95 16.5h1M101 16.5h1M116 16.5h1M122 16.5h1M130 16.5h1M149 16.5h1M156 16.5h1M159 16.5h1M163 16.5h1M166 16.5h1M169 16.5h1M47 17.5h1M49 17.5h1M88 17.5h1M105 17.5h1M112 17.5h1M122 17.5h1M142 17.5h2M152 17.5h1M159 17.5h1M29 18.5h1M42 18.5h1M49 18.5h1M59 18.5h1M69 18.5h1M80 18.5h1M87 18.5h1M91 18.5h1M100 18.5h1M108 18.5h1M146 18.5h1M43 19.5h1M45 19.5h1M57 19.5h1M67 19.5h1M79 19.5h1M104 19.5h1M107 19.5h1M119 19.5h1M135 19.5h1M140 19.5h1M157 19.5h1M9 20.5h1M29 20.5h1M40 20.5h2M63 20.5h1M68 20.5h1M82 20.5h1M92 20.5h1M94 20.5h1M124 20.5h1M128 20.5h1M138 20.5h1M168 20.5h1M29 21.5h1M47 21.5h1M63 21.5h1M89 21.5h1M103 21.5h1M113 21.5h1M117 21.5h1M59 22.5h1M76 22.5h1M119 22.5h1M125 22.5h1M168 22.5h1M43 23.5h1M56 23.5h1M98 23.5h1M102 23.5h1M104 23.5h1M144 23.5h1M152 23.5h1M52 24.5h1M79 24.5h1M90 24.5h1M131 24.5h1M138 24.5h1M146 24.5h1M162 24.5h1M45 25.5h1M47 25.5h1M62 25.5h1M67 25.5h1M73 25.5h1M93 25.5h2M97 25.5h1M100 25.5h1M132 25.5h1M141 25.5h1M146 25.5h1M154 25.5h1M8 26.5h1M33 26.5h1M52 26.5h1M77 26.5h1M88 26.5h1M99 26.5h1M117 26.5h1M136 26.5h1M152 26.5h1M166 26.5h1M45 27.5h1M72 27.5h1M132 27.5h1M145 27.5h1M3 28.5h1M36 28.5h1M66 28.5h1M114 28.5h1M156 28.5h1M164 28.5h1M35 29.5h1M38 29.5h1M40 29.5h1M43 29.5h1M74 29.5h1M93 29.5h1M105 29.5h1M108 29.5h1M151 29.5h1M6 30.5h1M51 30.5h1M60 30.5h1M67 30.5h1M81 30.5h1M108 30.5h1M125 30.5h1M162 30.5h1M164 30.5h1M2 31.5h1M116 31.5h1M120 31.5h1M139 31.5h1M157 31.5h1M126 32.5h1M131 32.5h1M20 33.5h1M143 33.5h1M166 33.5h1M23 34.5h1M117 34.5h1M129 34.5h1M136 34.5h1M11 35.5h1M17 35.5h1M155 35.5h1M7 36.5h1M0 37.5h1M5 37.5h1M23 37.5h1M33 37.5h1M139 37.5h1M142 37.5h1M165 37.5h1M9 38.5h1M57 38.5h1M149 38.5h1M162 38.5h1M169 38.5h1M1 39.5h1M20 39.5h1M27 39.5h1M41 39.5h1M45 39.5h1M137 39.5h1M50 40.5h1M60 40.5h1M65 40.5h1M79 40.5h2M158 40.5h1M8 41.5h1M42 41.5h1M53 41.5h1M71 41.5h1M79 41.5h1M102 41.5h1M155 41.5h1M16 42.5h1M28 42.5h1M47 42.5h1M63 42.5h1M157 42.5h1M0 43.5h1M25 43.5h1M38 43.5h1M43 43.5h1M50 43.5h1M65 43.5h1M72 43.5h1M82 43.5h1M2 44.5h1M5 44.5h1M18 44.5h1M22 44.5h1M24 44.5h2M41 44.5h1M65 44.5h1M86 44.5h1M97 44.5h1M103 44.5h1M3 45.5h1M13 45.5h1M56 45.5h1M66 45.5h1M79 45.5h2M91 45.5h1M96 45.5h1M154 45.5h1M161 45.5h1M7 46.5h1M31 46.5h1M64 46.5h1M84 46.5h1M89 46.5h1M101 46.5h1M145 46.5h1M2 47.5h1M9 47.5h1M26 47.5h1M40 47.5h1M68 47.5h1M95 47.5h1M139 47.5h1M156 47.5h1M21 48.5h1M36 48.5h1M44 48.5h1M60 48.5h1M81 48.5h1M92 48.5h1M108 48.5h1M12 49.5h1M48 49.5h1M72 49.5h1M91 49.5h1M4 50.5h1M11 50.5h1M41 50.5h1M56 50.5h1M74 50.5h2M89 50.5h1M103 50.5h1M109 50.5h1M121 50.5h1M9 51.5h1M17 51.5h1M48 51.5h1M59 51.5h1M67 51.5h1M71 51.5h1M82 51.5h1M165 51.5h1M6 52.5h1M54 52.5h1M63 52.5h1M76 52.5h1M82 52.5h2M104 52.5h1M113 52.5h1M162 52.5h1M164 52.5h1M166 52.5h1M169 52.5h1M17 53.5h1M60 53.5h1M96 53.5h1M103 53.5h1M123 53.5h1M152 53.5h1M156 53.5h1M161 53.5h1M165 53.5h1M24 54.5h2M39 54.5h1M72 54.5h1M80 54.5h1M99 54.5h1M117 54.5h1M2 55.5h1M43 55.5h1M50 55.5h1M57 55.5h1M11 56.5h1M17 56.5h1M23 56.5h1M42 56.5h1M58 56.5h1M72 56.5h1M123 56.5h1M0 57.5h1M29 57.5h2M40 57.5h1M54 57.5h1M98 57.5h1M103 57.5h1M106 57.5h1M108 57.5h1M126 57.5h1M19 58.5h1M41 58.5h1M74 58.5h1M113 58.5h1M121 58.5h1M6 59.5h1M15 59.5h1M75 59.5h1M99 59.5h1M12 60.5h1M46 60.5h1M49 60.5h1M55 60.5h1M61 60.5h1M70 60.5h1M75 60.5h1M5 61.5h1M13 61.5h1M16 61.5h1M31 61.5h1M50 61.5h2M66 61.5h1M71 61.5h1M82 61.5h1M85 61.5h1M87 61.5h1M94 61.5h1M107 61.5h1M119 61.5h1M24 62.5h1M28 62.5h1M46 62.5h1M57 62.5h1M63 62.5h1M65 62.5h1M70 62.5h1M75 62.5h1M78 62.5h1M88 62.5h1M90 62.5h3M110 62.5h1M14 63.5h1M20 63.5h1M45 63.5h1M49 63.5h2M69 63.5h1M94 63.5h1M97 63.5h1M100 63.5h1M106 63.5h1M117 63.5h1M126 63.5h1M11 64.5h1M19 64.5h1M46 64.5h1M101 64.5h1M114 64.5h2M17 65.5h1M27 65.5h1M37 65.5h1M75 65.5h1M82 65.5h1M84 65.5h1M6 66.5h1M11 66.5h2M22 66.5h1M32 66.5h1M43 66.5h1M46 66.5h1M51 66.5h1M57 66.5h1M62 66.5h1M132 66.5h1M13 67.5h1M20 67.5h1M23 67.5h1M27 67.5h2M30 67.5h1M32 67.5h1M37 67.5h1M49 67.5h1M66 67.5h1M97 67.5h1M128 67.5h2M13 68.5h1M16 68.5h1M22 68.5h1M24 68.5h1M36 68.5h1M57 68.5h1M87 68.5h2M91 68.5h1M103 68.5h1M111 68.5h1M126 68.5h1M133 68.5h1M8 69.5h1M13 69.5h1M36 69.5h1M41 69.5h1M54 69.5h1M63 69.5h1M69 69.5h1M77 69.5h2M84 69.5h1M97 69.5h3M112 69.5h1M11 70.5h1M13 70.5h1M26 70.5h1M28 70.5h1M50 70.5h1M77 70.5h2M85 70.5h1M88 70.5h1M98 70.5h1M107 70.5h1M10 71.5h1M37 71.5h1M39 71.5h1M41 71.5h1M49 71.5h1M74 71.5h1M84 71.5h1M86 71.5h1M105 71.5h1M119 71.5h1M140 71.5h1M17 72.5h1M50 72.5h1M68 72.5h1M92 72.5h2M113 72.5h1M117 72.5h1M124 72.5h1M126 72.5h1M8 73.5h1M59 73.5h1M124 73.5h1M8 74.5h1M13 74.5h2M39 74.5h1M41 74.5h1M89 74.5h1M97 74.5h1M131 74.5h1"/>
<path stroke="#51127c" d="M12 0.5h1M17 0.5h1M19 0.5h1M29 0.5h1M50 0.5h1M88 0.5h2M113 0.5h1M150 0.5h1M160 0.5h1M24 1.5h1M27 1.5h1M60 1.5h2M64 1.5h1M79 1.5h1M88 1.5h1M110 1.5h1M123 1.5h1M23 2.5h2M37 2.5h1M67 2.5h1M84 2.5h1M89 2.5h1M100 2.5h1M110 2.5h1M39 3.5h1M60 3.5h1M69 3.5h1M88 3.5h1M93 3.5h1M111 3.5h1M164 3.5h1M167 3.5h1M10 4.5h1M33 4.5h1M40 4.5h1M52 4.5h1M56 4.5h1M71 4.5h1M73 4.5h1M124 4.5h1M147 4.5h1M163 4.5h1M25 5.5h1M32 5.5h1M87 5.5h1M107 5.5h1M114 5.5h1M124 5.5h1M132 5.5h1M151 5.5h1M153 5.5h1M22 6.5h1M33 6.5h1M37 6.5h1M73 6.5h1M89 6.5h1M96 6.5h1M100 6.5h1M112 6.5h1M114 6.5h1M141 6.5h1M148 6.5h1M154 6.5h1M65 7.5h1M123 7.5h1M159 7.5h1M163 7.5h1M57 8.5h2M99 8.5h1M103 8.5h1M126 8.5h1M155 8.5h1M12 9.5h1M42 9.5h1M81 9.5h1M103 9.5h1M152 9.5h1M163 9.5h1M26 10.5h1M53 10.5h1M57 10.5h1M111 10.5h1M115 10.5h1M119 10.5h1M130 10.5h1M162 10.5h1M16 11.5h2M21 11.5h1M80 11.5h1M121 11.5h1M134 11.5h1M146 11.5h1M159 11.5h1M23 12.5h1M38 12.5h1M50 12.5h1M63 12.5h1M82 12.5h1M93 12.5h1M119 12.5h1M161 12.5h1M13 13.5h1M26 13.5h1M33 13.5h1M50 13.5h1M65 13.5h1M79 13.5h1M95 13.5h1M99 13.5h1M156 13.5h1M159 13.5h1M14 14.5h1M28 14.5h1M58 14.5h1M61 14.5h1M68 14.5h1M107 14.5h1M117 14.5h1M141 14.5h1M168 14.5h1M69 15.5h1M98 15.5h1M101 15.5h1M113 15.5h1M148 15.5h1M80 16.5h2M129 16.5h1M132 16.5h1M146 16.5h1M25 17.5h1M45 17.5h1M54 17.5h1M76 17.5h1M116 17.5h1M148 17.5h1M7 18.5h1M22 18.5h1M40 18.5h1M63 18.5h1M77 18.5h1M79 18.5h1M131 18.5h1M148 18.5h1M151 18.5h1M153 18.5h1M160 18.5h1M38 19.5h1M51 19.5h1M53 19.5h1M92 19.5h1M30 20.5h1M33 20.5h1M36 20.5h1M43 20.5h1M59 20.5h1M85 20.5h1M87 20.5h1M98 20.5h1M127 20.5h1M160 20.5h1M15 21.5h1M30 21.5h1M34 21.5h2M39 21.5h1M44 21.5h1M52 21.5h1M56 21.5h1M66 21.5h1M98 21.5h1M166 21.5h1M169 21.5h1M23 22.5h1M55 22.5h1M62 22.5h1M74 22.5h1M86 22.5h1M108 22.5h1M148 22.5h1M161 22.5h1M30 23.5h1M32 23.5h1M34 23.5h1M42 23.5h1M52 23.5h1M59 23.5h1M90 23.5h1M105 23.5h1M121 23.5h1M161 23.5h1M12 24.5h1M36 24.5h1M50 24.5h1M84 24.5h1M117 24.5h1M135 24.5h1M153 24.5h1M169 24.5h1M48 25.5h1M50 25.5h1M55 25.5h1M84 25.5h1M130 25.5h1M134 25.5h1M68 26.5h1M74 26.5h1M84 26.5h1M86 26.5h1M102 26.5h1M128 26.5h2M134 26.5h1M161 26.5h1M2 27.5h1M19 27.5h1M39 27.5h1M67 27.5h1M73 27.5h1M79 27.5h1M86 27.5h1M121 27.5h1M146 27.5h1M164 27.5h1M0 28.5h1M38 28.5h1M42 28.5h1M51 28.5h1M57 28.5h1M62 28.5h1M68 28.5h1M80 28.5h1M102 28.5h1M131 28.5h1M5 29.5h1M37 29.5h1M60 29.5h1M72 29.5h1M77 29.5h1M83 29.5h1M107 29.5h1M126 29.5h1M155 29.5h1M167 29.5h2M4 30.5h1M107 30.5h1M119 30.5h1M137 30.5h1M166 30.5h1M15 31.5h1M38 31.5h1M91 31.5h1M112 31.5h1M124 31.5h1M107 32.5h1M111 32.5h1M136 32.5h1M155 32.5h1M127 33.5h1M140 33.5h1M154 33.5h1M169 33.5h1M32 34.5h1M134 34.5h1M168 34.5h1M135 35.5h1M147 35.5h1M6 36.5h1M13 36.5h1M149 36.5h1M163 36.5h1M8 37.5h1M164 37.5h1M7 38.5h1M33 38.5h1M132 38.5h1M138 38.5h1M146 38.5h1M154 38.5h1M21 39.5h1M42 39.5h1M69 39.5h1M78 39.5h1M98 39.5h1M141 39.5h1M149 39.5h1M162 39.5h1M166 39.5h1M6 40.5h1M69 40.5h1M91 40.5h1M95 40.5h1M15 41.5h1M19 41.5h1M38 41.5h1M64 41.5h1M74 41.5h1M80 41.5h1M82 41.5h1M126 41.5h1M132 41.5h1M134 41.5h1M137 41.5h1M151 41.5h1M161 41.5h1M169 41.5h1M38 42.5h1M49 42.5h1M75 42.5h1M89 42.5h2M104 42.5h1M132 42.5h1M144 42.5h1M4 43.5h1M40 43.5h1M52 43.5h1M95 43.5h1M98 43.5h1M144 43.5h1M150 43.5h1M159 43.5h1M163 43.5h2M1 44.5h1M59 44.5h1M64 44.5h1M71 44.5h1M75 44.5h1M85 44.5h1M88 44.5h1M118 44.5h1M28 45.5h2M57 45.5h1M74 45.5h2M87 45.5h1M0 46.5h1M34 46.5h1M50 46.5h1M73 46.5h1M83 46.5h1M106 46.5h1M111 46.5h1M137 46.5h1M158 46.5h1M1 47.5h1M17 47.5h1M21 47.5h1M47 47.5h1M76 47.5h1M79 47.5h1M106 47.5h1M11 48.5h1M20 48.5h1M22 48.5h1M51 48.5h1M55 48.5h1M70 48.5h2M85 48.5h1M103 48.5h1M159 48.5h1M19 49.5h1M21 49.5h1M53 49.5h1M56 49.5h1M61 49.5h1M78 49.5h1M84 49.5h1M144 49.5h1M154 49.5h1M32 50.5h1M45 50.5h1M49 50.5h1M54 50.5h1M63 50.5h1M76 50.5h1M95 50.5h1M12 51.5h1M45 51.5h1M57 51.5h1M62 51.5h1M70 51.5h1M83 51.5h1M2 52.5h1M16 52.5h1M28 52.5h1M49 52.5h1M108 52.5h1M3 53.5h1M9 53.5h1M16 53.5h1M19 53.5h1M58 53.5h1M80 53.5h1M92 53.5h1M98 53.5h1M107 53.5h1M153 53.5h1M58 54.5h1M69 54.5h1M19 55.5h1M23 55.5h1M79 55.5h1M87 55.5h1M120 55.5h1M166 55.5h1M26 56.5h1M29 56.5h1M44 56.5h1M54 56.5h1M64 56.5h1M81 56.5h1M86 56.5h1M111 56.5h1M127 56.5h1M164 56.5h1M15 57.5h1M26 57.5h1M52 57.5h1M79 57.5h1M167 57.5h1M3 58.5h1M16 58.5h1M45 58.5h1M51 58.5h1M54 58.5h1M65 58.5h2M80 58.5h2M106 58.5h1M110 58.5h1M114 58.5h1M20 59.5h1M22 59.5h1M32 59.5h1M34 59.5h1M81 59.5h1M87 59.5h1M94 59.5h1M104 59.5h1M119 59.5h1M17 60.5h1M24 60.5h1M59 60.5h1M63 60.5h1M121 60.5h1M14 61.5h1M30 61.5h1M44 61.5h1M49 61.5h1M63 61.5h1M68 61.5h1M109 61.5h2M112 61.5h1M141 61.5h1M31 62.5h1M35 62.5h1M44 62.5h1M48 62.5h1M64 62.5h1M94 62.5h2M129 62.5h1M87 63.5h2M116 63.5h1M129 63.5h1M141 63.5h1M16 64.5h1M24 64.5h1M30 64.5h1M56 64.5h1M120 64.5h1M122 64.5h1M8 65.5h1M13 65.5h1M15 65.5h1M26 65.5h1M31 65.5h1M45 65.5h1M50 65.5h1M59 65.5h1M68 65.5h2M80 65.5h1M86 65.5h1M108 65.5h1M120 65.5h1M123 65.5h1M125 65.5h1M135 65.5h1M10 66.5h1M27 66.5h2M45 66.5h1M69 66.5h2M73 66.5h1M76 66.5h1M115 66.5h1M125 66.5h1M143 66.5h1M22 67.5h1M46 67.5h1M55 67.5h1M60 67.5h1M65 67.5h1M70 67.5h1M94 67.5h1M96 67.5h1M107 67.5h1M124 67.5h1M8 68.5h1M20 68.5h1M55 68.5h1M59 68.5h1M65 68.5h1M76 68.5h2M92 68.5h1M128 68.5h1M2 69.5h1M32 69.5h1M34 69.5h1M49 69.5h1M79 69.5h1M88 69.5h1M100 69.5h1M102 69.5h1M125 69.5h1M138 69.5h1M7 70.5h1M15 70.5h1M31 70.5h1M41 70.5h1M75 70.5h1M86 70.5h1M95 70.5h1M117 70.5h1M122 70.5h1M127 70.5h1M129 70.5h1M4 71.5h1M11 71.5h1M27 71.5h1M47 71.5h1M68 71.5h1M98 71.5h2M108 71.5h2M124 71.5h1M126 71.5h1M128 71.5h3M144 71.5h1M3 72.5h1M34 72.5h1M80 72.5h1M88 72.5h1M95 72.5h1M123 72.5h1M140 72.5h1M15 73.5h1M19 73.5h1M33 73.5h1M38 73.5h1M65 73.5h1M67 73.5h1M76 73.5h1M85 73.5h1M92 73.5h1M99 73.5h1M113 73.5h1M121 73.5h1M125 73.5h1M134 73.5h1M136 73.5h1M142 73.5h1M150 73.5h1M17 74.5h1M32 74.5h1M42 74.5h1M63 74.5h1M72 74.5h1M80 74.5h1M86 74.5h1M112 74.5h1"/>
<path stroke="#56147d" d="M14 0.5h1M20 0.5h1M28 0.5h1M35 0.5h1M48 0.5h1M33 1.5h1M57 1.5h1M77 1.5h1M91 1.5h1M121 1.5h1M139 1.5h1M159 1.5h1M15 2.5h1M48 2.5h1M65 2.5h1M83 2.5h1M96 2.5h1M101 2.5h1M142 2.5h1M146 2.5h1M9 3.5h1M124 3.5h1M139 3.5h1M148 3.5h1M25 4.5h1M55 4.5h1M58 4.5h1M65 4.5h1M144 4.5h1M24 5.5h1M26 5.5h1M95 5.5h1M125 5.5h1M135 5.5h1M140 5.5h1M11 6.5h1M41 6.5h1M46 6.5h1M101 6.5h1M162 6.5h1M11 7.5h1M16 7.5h1M23 7.5h1M29 7.5h1M62 7.5h1M74 7.5h2M93 7.5h1M103 7.5h1M120 7.5h1M139 7.5h1M157 7.5h1M63 8.5h1M65 8.5h2M84 8.5h1M88 8.5h1M98 8.5h1M156 8.5h1M158 8.5h1M16 9.5h2M19 9.5h1M51 9.5h1M53 9.5h1M55 9.5h1M71 9.5h1M79 9.5h1M85 9.5h1M28 10.5h1M41 10.5h1M55 10.5h1M88 10.5h1M96 10.5h3M127 10.5h1M148 10.5h1M19 11.5h1M31 11.5h1M43 11.5h1M50 11.5h1M74 11.5h1M83 11.5h1M114 11.5h1M26 12.5h1M28 12.5h1M33 12.5h2M49 12.5h1M113 12.5h1M138 12.5h1M142 12.5h1M146 12.5h1M23 13.5h1M25 13.5h1M37 13.5h1M49 13.5h1M73 13.5h1M98 13.5h1M109 13.5h1M117 13.5h1M154 13.5h1M25 14.5h1M30 14.5h1M48 14.5h1M56 14.5h1M89 14.5h1M122 14.5h1M133 14.5h1M135 14.5h1M151 14.5h1M22 15.5h1M29 15.5h2M54 15.5h1M58 15.5h1M68 15.5h1M78 15.5h1M82 15.5h1M164 15.5h1M12 16.5h1M22 16.5h1M37 16.5h1M46 16.5h1M55 16.5h1M103 16.5h1M34 17.5h1M42 17.5h1M66 17.5h2M77 17.5h1M90 17.5h1M27 18.5h1M46 18.5h1M61 18.5h1M94 18.5h1M129 18.5h1M150 18.5h1M21 19.5h1M27 19.5h1M31 19.5h1M44 19.5h1M61 19.5h1M86 19.5h1M97 19.5h1M105 19.5h1M120 19.5h1M132 19.5h1M71 20.5h1M89 20.5h1M101 20.5h1M132 20.5h1M134 20.5h1M144 20.5h1M156 20.5h1M48 21.5h1M53 21.5h1M57 21.5h1M69 21.5h1M73 21.5h1M82 21.5h2M121 21.5h1M156 21.5h1M167 21.5h1M60 22.5h1M100 22.5h1M102 22.5h1M142 22.5h1M144 22.5h1M149 22.5h1M35 23.5h1M49 23.5h1M71 23.5h1M83 23.5h1M119 23.5h1M168 23.5h1M23 24.5h1M45 24.5h1M47 24.5h1M63 24.5h1M68 24.5h1M73 24.5h1M76 24.5h1M83 24.5h1M88 24.5h1M102 24.5h1M142 24.5h2M30 25.5h1M39 25.5h2M52 25.5h1M60 25.5h1M66 25.5h1M77 25.5h1M105 25.5h1M67 26.5h1M85 26.5h1M92 26.5h1M120 26.5h1M163 26.5h1M18 27.5h1M52 27.5h1M58 27.5h3M76 27.5h1M83 27.5h1M91 27.5h1M94 27.5h1M99 27.5h1M161 27.5h1M41 28.5h1M45 28.5h1M76 28.5h2M88 28.5h1M103 28.5h1M121 28.5h1M147 28.5h1M66 29.5h1M138 29.5h1M147 29.5h1M160 29.5h1M11 30.5h1M82 30.5h1M84 30.5h1M91 30.5h1M105 30.5h1M168 30.5h1M40 31.5h1M84 31.5h1M105 31.5h1M136 31.5h1M6 32.5h1M36 32.5h1M138 32.5h1M146 32.5h1M152 32.5h1M149 33.5h1M158 33.5h1M162 33.5h1M11 34.5h1M135 34.5h1M166 34.5h1M2 35.5h1M119 35.5h1M133 35.5h1M148 35.5h1M160 35.5h1M168 36.5h1M10 37.5h1M39 37.5h1M128 37.5h1M150 37.5h1M143 38.5h1M161 38.5h1M24 39.5h1M70 39.5h1M3 40.5h1M26 40.5h1M56 40.5h1M71 40.5h1M88 40.5h1M141 40.5h1M17 41.5h1M39 41.5h1M45 41.5h1M59 41.5h1M69 41.5h1M89 41.5h1M13 42.5h3M22 42.5h1M43 42.5h1M52 42.5h1M65 42.5h1M68 42.5h1M87 42.5h1M151 42.5h1M63 43.5h1M117 43.5h1M130 43.5h1M10 44.5h1M20 44.5h1M27 44.5h1M80 44.5h1M82 44.5h1M164 44.5h1M166 44.5h1M4 45.5h1M6 45.5h1M22 45.5h1M64 45.5h2M71 45.5h1M88 45.5h1M100 45.5h1M9 46.5h1M24 46.5h1M30 46.5h1M65 46.5h1M91 46.5h1M105 46.5h1M112 46.5h1M115 46.5h1M167 46.5h1M8 47.5h1M23 47.5h1M44 47.5h1M52 47.5h1M64 47.5h1M75 47.5h1M84 47.5h1M88 47.5h1M101 47.5h1M141 47.5h1M145 47.5h1M2 48.5h1M7 48.5h1M23 48.5h1M67 48.5h1M84 48.5h1M86 48.5h1M106 48.5h1M169 48.5h1M16 49.5h1M18 49.5h1M41 49.5h2M62 49.5h1M74 49.5h1M77 49.5h1M106 49.5h1M113 49.5h1M116 49.5h1M3 50.5h1M19 50.5h1M23 50.5h1M51 50.5h1M58 50.5h1M67 50.5h1M102 50.5h1M104 50.5h1M116 50.5h1M47 51.5h1M51 51.5h1M94 51.5h2M157 51.5h1M9 52.5h1M7 53.5h1M52 53.5h1M55 53.5h1M62 53.5h1M66 53.5h1M74 53.5h1M54 54.5h1M78 54.5h1M100 54.5h1M107 54.5h1M116 54.5h1M18 55.5h1M35 55.5h1M54 55.5h1M63 55.5h1M76 55.5h1M91 55.5h1M95 55.5h1M101 55.5h2M6 56.5h2M9 56.5h1M25 56.5h1M37 56.5h1M43 56.5h1M70 56.5h1M73 56.5h1M80 56.5h1M99 56.5h2M102 56.5h1M113 56.5h1M115 56.5h1M2 57.5h1M16 57.5h2M33 57.5h1M64 57.5h1M69 57.5h1M74 57.5h1M83 57.5h1M93 57.5h1M102 57.5h1M109 57.5h1M124 57.5h1M7 58.5h1M25 58.5h1M46 58.5h1M71 58.5h1M73 58.5h1M85 58.5h1M103 58.5h1M115 58.5h1M130 58.5h1M13 59.5h1M23 59.5h1M30 59.5h1M57 59.5h1M63 59.5h1M70 59.5h1M109 59.5h1M111 59.5h1M118 59.5h1M123 59.5h1M4 60.5h1M22 60.5h1M35 60.5h1M60 60.5h1M71 60.5h1M90 60.5h1M123 60.5h1M127 60.5h1M129 60.5h1M137 60.5h1M167 60.5h1M19 61.5h1M79 61.5h1M88 61.5h2M95 61.5h1M103 61.5h1M122 61.5h1M11 62.5h1M26 62.5h1M32 62.5h2M49 62.5h1M53 62.5h1M60 62.5h1M80 62.5h1M126 62.5h1M133 62.5h1M0 63.5h1M8 63.5h1M18 63.5h2M51 63.5h1M64 63.5h1M75 63.5h1M113 63.5h1M119 63.5h1M27 64.5h1M49 64.5h1M58 64.5h2M86 64.5h1M91 64.5h1M94 64.5h1M110 64.5h2M0 65.5h1M101 65.5h1M30 66.5h1M47 66.5h2M96 66.5h1M123 66.5h1M130 66.5h1M2 67.5h1M5 67.5h1M11 67.5h1M31 67.5h1M38 67.5h1M73 67.5h1M80 67.5h1M85 67.5h1M130 67.5h1M143 67.5h1M152 67.5h1M11 68.5h1M19 68.5h1M23 68.5h1M29 68.5h1M45 68.5h1M83 68.5h1M98 68.5h1M107 68.5h1M115 68.5h2M138 68.5h1M146 68.5h1M17 69.5h1M22 69.5h1M66 69.5h1M72 69.5h1M80 69.5h1M101 69.5h1M105 69.5h1M114 69.5h1M119 69.5h1M4 70.5h2M38 70.5h1M48 70.5h1M51 70.5h1M69 70.5h1M99 70.5h1M113 70.5h1M120 70.5h1M128 70.5h1M134 70.5h1M149 70.5h1M12 71.5h1M85 71.5h1M102 71.5h1M113 71.5h1M116 71.5h1M148 71.5h1M6 72.5h1M8 72.5h2M20 72.5h1M28 72.5h1M39 72.5h1M66 72.5h1M79 72.5h1M125 72.5h1M134 72.5h1M41 73.5h1M75 73.5h1M90 73.5h1M98 73.5h1M120 73.5h1M129 73.5h1M139 73.5h1M2 74.5h1M16 74.5h1M20 74.5h1M28 74.5h1M46 74.5h1M49 74.5h1M73 74.5h1M95 74.5h1M121 74.5h2M129 74.5h1"/>
<path stroke="#5a167e" d="M34 0.5h1M52 0.5h1M67 0.5h1M73 0.5h1M80 0.5h1M85 0.5h1M7 1.5h1M17 1.5h1M19 1.5h1M28 1.5h1M51 1.5h1M67 1.5h1M84 1.5h1M160 1.5h1M28 2.5h1M50 2.5h2M59 2.5h1M71 2.5h1M152 2.5h1M165 2.5h1M24 3.5h1M62 3.5h1M70 3.5h1M91 3.5h1M133 3.5h1M158 3.5h1M14 4.5h1M85 4.5h1M166 4.5h1M12 5.5h1M18 5.5h1M28 5.5h1M48 5.5h1M51 5.5h1M65 5.5h1M88 5.5h1M90 5.5h1M94 5.5h1M96 5.5h1M134 5.5h1M10 6.5h1M13 6.5h1M24 6.5h1M55 6.5h1M78 6.5h1M82 6.5h1M147 6.5h1M155 6.5h1M159 6.5h1M32 7.5h1M34 7.5h1M46 7.5h1M51 7.5h1M60 7.5h1M67 7.5h1M70 7.5h1M88 7.5h1M97 7.5h2M122 7.5h1M147 7.5h2M168 7.5h1M25 8.5h1M69 8.5h1M74 8.5h1M93 8.5h1M97 8.5h1M121 8.5h1M141 8.5h1M150 8.5h1M69 9.5h1M92 9.5h1M96 9.5h1M128 9.5h1M150 9.5h1M158 9.5h1M12 10.5h1M17 10.5h1M54 10.5h1M61 10.5h1M64 10.5h1M69 10.5h1M122 10.5h1M126 10.5h1M158 10.5h1M13 11.5h1M48 11.5h1M52 11.5h1M59 11.5h1M65 11.5h1M79 11.5h1M88 11.5h1M143 11.5h1M162 11.5h1M51 12.5h1M88 12.5h1M114 12.5h1M133 12.5h1M162 12.5h1M4 13.5h1M21 13.5h1M45 13.5h1M59 13.5h1M78 13.5h1M84 13.5h1M88 13.5h1M116 13.5h1M126 13.5h1M19 14.5h2M22 14.5h1M32 14.5h1M35 14.5h1M37 14.5h1M74 14.5h1M85 14.5h1M100 14.5h1M120 14.5h1M123 14.5h1M139 14.5h1M142 14.5h1M25 15.5h1M28 15.5h1M42 15.5h1M60 15.5h1M70 15.5h1M77 15.5h1M132 15.5h1M16 16.5h1M18 16.5h1M26 16.5h2M42 16.5h1M47 16.5h2M61 16.5h1M66 16.5h1M84 16.5h1M102 16.5h1M104 16.5h1M112 16.5h1M126 16.5h1M154 16.5h1M13 17.5h1M20 17.5h1M24 17.5h1M50 17.5h1M52 17.5h1M94 17.5h1M98 17.5h1M104 17.5h1M106 17.5h1M144 17.5h1M24 18.5h1M51 18.5h1M90 18.5h1M93 18.5h1M96 18.5h1M127 18.5h1M30 19.5h1M32 19.5h2M94 19.5h1M103 19.5h1M131 19.5h1M144 19.5h1M169 19.5h1M16 20.5h1M22 20.5h1M24 20.5h1M52 20.5h1M55 20.5h2M119 20.5h1M24 21.5h1M41 21.5h1M110 21.5h1M28 22.5h1M49 22.5h1M72 22.5h1M77 22.5h2M88 22.5h1M103 22.5h1M157 22.5h1M166 22.5h1M33 23.5h1M53 23.5h1M70 23.5h1M72 23.5h1M81 23.5h1M106 23.5h1M126 23.5h1M148 23.5h1M46 24.5h1M81 24.5h1M94 24.5h1M105 24.5h1M128 24.5h1M130 24.5h1M149 24.5h1M44 25.5h1M122 25.5h1M127 25.5h1M129 25.5h1M133 25.5h1M157 25.5h1M44 26.5h1M54 26.5h1M63 26.5h1M80 26.5h1M96 26.5h1M124 26.5h1M159 26.5h1M167 26.5h1M41 27.5h1M85 27.5h1M169 27.5h1M4 28.5h1M58 28.5h1M63 28.5h1M99 28.5h1M157 28.5h1M22 29.5h1M53 29.5h1M78 29.5h1M100 29.5h1M118 29.5h1M132 29.5h1M55 30.5h1M73 30.5h1M86 30.5h1M133 30.5h1M135 30.5h1M165 30.5h1M3 31.5h1M41 31.5h1M144 31.5h1M141 32.5h1M2 33.5h1M139 33.5h1M153 33.5h1M168 33.5h1M4 34.5h1M160 34.5h1M164 34.5h1M34 35.5h1M158 35.5h1M166 35.5h1M139 36.5h1M161 36.5h1M165 36.5h1M38 37.5h1M143 37.5h1M161 37.5h1M166 37.5h1M38 38.5h1M52 38.5h1M79 38.5h2M13 39.5h1M67 39.5h1M85 39.5h1M15 40.5h1M42 40.5h1M48 40.5h1M102 40.5h1M150 40.5h1M165 40.5h1M55 41.5h1M68 41.5h1M81 41.5h1M106 41.5h1M158 41.5h1M69 42.5h1M81 42.5h1M101 42.5h1M165 42.5h1M12 43.5h1M77 43.5h1M94 43.5h1M102 43.5h1M54 44.5h1M87 44.5h1M5 45.5h1M12 45.5h1M16 45.5h1M47 45.5h1M112 45.5h1M156 45.5h1M23 46.5h1M41 46.5h1M79 46.5h1M87 46.5h1M97 46.5h1M102 46.5h1M6 47.5h1M12 47.5h1M59 47.5h1M72 47.5h1M81 47.5h1M86 47.5h2M91 47.5h1M96 47.5h1M98 47.5h1M167 47.5h1M24 48.5h1M41 48.5h1M54 48.5h1M64 48.5h1M79 48.5h1M95 48.5h1M98 48.5h1M115 48.5h1M15 49.5h1M87 49.5h1M89 49.5h1M114 49.5h1M9 50.5h1M18 50.5h1M30 50.5h1M44 50.5h1M62 50.5h1M70 50.5h1M105 50.5h1M1 51.5h1M11 51.5h1M21 51.5h1M34 51.5h1M50 51.5h1M54 51.5h1M61 51.5h1M100 51.5h1M7 52.5h1M20 52.5h1M41 52.5h1M67 52.5h1M90 52.5h1M8 53.5h1M47 53.5h1M84 53.5h1M102 53.5h1M104 53.5h1M6 54.5h1M10 54.5h1M17 54.5h2M40 54.5h1M63 54.5h1M86 54.5h1M109 54.5h1M118 54.5h1M130 54.5h1M49 55.5h1M55 55.5h1M80 55.5h1M83 55.5h3M97 55.5h1M99 55.5h1M111 55.5h1M114 55.5h1M14 56.5h1M49 56.5h1M119 56.5h1M34 57.5h1M67 57.5h1M81 57.5h1M84 57.5h2M87 57.5h1M107 57.5h1M122 57.5h1M8 58.5h1M11 58.5h1M27 58.5h1M64 58.5h1M78 58.5h1M89 58.5h1M92 58.5h1M97 58.5h1M116 58.5h1M3 59.5h2M35 59.5h1M59 59.5h1M66 59.5h1M86 59.5h1M97 59.5h1M102 59.5h1M116 59.5h1M1 60.5h1M10 60.5h1M20 60.5h1M69 60.5h1M89 60.5h1M95 60.5h2M108 60.5h1M124 60.5h1M1 61.5h1M6 61.5h1M21 61.5h1M74 61.5h1M114 61.5h2M125 61.5h1M3 62.5h1M58 62.5h1M66 62.5h1M93 62.5h1M115 62.5h1M121 62.5h1M130 62.5h1M140 62.5h1M6 63.5h1M17 63.5h1M43 63.5h1M48 63.5h1M57 63.5h1M60 63.5h1M67 63.5h1M77 63.5h1M132 63.5h1M17 64.5h1M37 64.5h1M51 64.5h1M82 64.5h1M93 64.5h1M107 64.5h1M113 64.5h1M145 64.5h1M7 65.5h1M19 65.5h1M51 65.5h1M71 65.5h1M77 65.5h1M91 65.5h1M112 65.5h1M117 65.5h1M129 65.5h1M133 65.5h1M149 65.5h1M44 66.5h1M87 66.5h1M97 66.5h1M6 67.5h1M21 67.5h1M54 67.5h1M58 67.5h1M91 67.5h1M112 67.5h1M126 67.5h1M134 67.5h1M139 67.5h1M145 67.5h1M56 68.5h1M110 68.5h1M129 68.5h1M141 68.5h1M25 69.5h1M29 69.5h1M31 69.5h1M71 69.5h1M90 69.5h1M94 69.5h1M109 69.5h2M118 69.5h1M23 70.5h1M55 70.5h1M72 70.5h1M115 70.5h1M130 70.5h1M135 70.5h1M155 70.5h1M3 71.5h1M18 71.5h1M65 71.5h1M73 71.5h1M97 71.5h1M101 71.5h1M110 71.5h1M149 71.5h1M16 72.5h1M18 72.5h1M33 72.5h1M47 72.5h1M51 72.5h1M85 72.5h1M99 72.5h1M118 72.5h1M129 72.5h1M144 72.5h1M151 72.5h1M1 73.5h1M9 73.5h1M11 73.5h1M40 73.5h1M55 73.5h1M78 73.5h2M86 73.5h1M95 73.5h1M104 73.5h1M127 73.5h1M145 73.5h1M19 74.5h1M21 74.5h1M30 74.5h1M62 74.5h1M84 74.5h1M101 74.5h1M103 74.5h1M119 74.5h1M139 74.5h1M158 74.5h1"/>
<path stroke="#5d177f" d="M13 0.5h1M16 0.5h1M49 0.5h1M54 0.5h1M56 0.5h1M75 0.5h1M84 0.5h1M90 0.5h1M103 0.5h1M4 1.5h1M136 1.5h1M141 1.5h1M149 1.5h1M29 2.5h1M43 2.5h1M66 2.5h1M76 2.5h1M78 2.5h1M86 2.5h1M103 2.5h1M119 2.5h1M147 2.5h1M16 3.5h1M26 3.5h1M33 3.5h1M46 3.5h1M51 3.5h1M53 3.5h1M63 3.5h1M72 3.5h1M75 3.5h1M49 4.5h1M64 4.5h1M90 4.5h2M109 4.5h1M113 4.5h1M118 4.5h1M153 4.5h1M161 4.5h1M165 4.5h1M36 5.5h1M53 5.5h1M59 5.5h1M97 5.5h2M25 6.5h2M34 6.5h1M47 6.5h1M69 6.5h1M91 6.5h1M98 6.5h1M116 6.5h1M6 7.5h1M8 7.5h1M18 7.5h1M26 7.5h1M45 7.5h1M77 7.5h1M96 7.5h1M121 7.5h1M13 8.5h1M16 8.5h1M59 8.5h1M83 8.5h1M132 8.5h1M144 8.5h1M9 9.5h1M18 9.5h1M54 9.5h1M66 9.5h1M87 9.5h1M95 9.5h1M98 9.5h2M114 9.5h1M118 9.5h1M18 10.5h1M31 10.5h1M113 10.5h1M121 10.5h1M129 10.5h1M6 11.5h1M53 11.5h1M67 11.5h1M85 11.5h1M144 11.5h1M153 11.5h1M168 11.5h1M15 12.5h2M41 12.5h1M59 12.5h1M61 12.5h1M56 13.5h1M87 13.5h1M90 13.5h1M7 14.5h1M51 14.5h1M69 14.5h1M78 14.5h1M129 14.5h1M154 14.5h1M156 14.5h1M165 14.5h1M35 15.5h1M63 15.5h1M67 15.5h1M74 15.5h1M106 15.5h1M82 16.5h1M98 16.5h1M61 17.5h1M64 17.5h1M138 17.5h1M25 18.5h1M35 18.5h1M44 18.5h2M66 18.5h1M89 18.5h1M106 18.5h1M138 18.5h1M20 19.5h1M22 19.5h1M55 19.5h1M59 19.5h1M84 19.5h1M47 20.5h1M67 20.5h1M78 20.5h1M86 20.5h1M93 20.5h1M135 20.5h1M158 20.5h1M14 21.5h1M58 21.5h1M71 21.5h1M86 21.5h2M148 21.5h1M159 21.5h1M22 22.5h1M25 22.5h1M36 22.5h1M97 22.5h1M136 22.5h1M146 22.5h1M18 23.5h1M21 23.5h1M51 23.5h1M57 23.5h1M100 23.5h1M108 23.5h1M118 23.5h1M163 23.5h1M166 23.5h1M24 24.5h1M26 24.5h1M34 24.5h1M41 24.5h1M53 24.5h1M82 24.5h1M151 24.5h1M31 25.5h2M36 25.5h1M69 25.5h1M80 25.5h1M82 25.5h1M96 25.5h1M144 25.5h1M150 25.5h1M32 26.5h1M37 26.5h2M60 26.5h1M72 26.5h1M79 26.5h1M93 26.5h1M146 26.5h2M154 26.5h1M168 26.5h1M64 27.5h1M74 27.5h1M82 27.5h1M107 27.5h1M56 28.5h1M75 28.5h1M98 28.5h1M126 28.5h1M47 29.5h1M64 29.5h1M68 29.5h1M102 29.5h1M161 29.5h1M39 30.5h1M45 30.5h1M53 30.5h1M76 30.5h1M78 30.5h1M90 30.5h1M156 30.5h1M161 30.5h1M85 31.5h1M87 31.5h1M156 31.5h1M18 32.5h1M140 32.5h1M151 32.5h1M136 33.5h1M138 33.5h1M160 33.5h1M6 34.5h1M131 35.5h1M168 35.5h1M147 36.5h1M162 36.5h1M25 37.5h1M137 37.5h1M10 38.5h1M120 38.5h1M137 38.5h1M144 38.5h1M150 38.5h1M51 39.5h2M134 39.5h1M46 40.5h1M52 40.5h1M59 40.5h1M104 40.5h1M138 40.5h1M145 40.5h1M49 41.5h1M65 41.5h1M78 41.5h1M94 41.5h1M145 41.5h1M164 41.5h1M48 42.5h1M51 42.5h1M64 42.5h1M70 42.5h1M82 42.5h1M96 42.5h1M100 42.5h1M142 42.5h1M2 43.5h1M53 43.5h1M55 43.5h1M69 43.5h1M71 43.5h1M107 43.5h1M151 43.5h1M3 44.5h1M21 44.5h1M40 44.5h1M63 44.5h1M68 44.5h1M115 44.5h1M159 44.5h1M25 45.5h1M43 45.5h1M45 45.5h1M50 45.5h1M58 45.5h1M61 45.5h1M84 45.5h1M119 45.5h1M124 45.5h1M165 45.5h1M13 46.5h1M88 46.5h1M48 47.5h1M71 47.5h1M78 47.5h1M94 47.5h1M104 47.5h1M109 47.5h1M50 48.5h1M57 48.5h1M73 48.5h1M117 48.5h1M2 49.5h1M5 49.5h1M85 49.5h1M152 49.5h1M158 49.5h1M168 49.5h1M35 50.5h1M43 50.5h1M52 50.5h1M68 50.5h1M77 50.5h2M82 50.5h1M84 50.5h2M98 50.5h1M101 50.5h1M115 50.5h1M44 51.5h1M80 51.5h1M108 51.5h1M111 51.5h1M53 52.5h1M103 52.5h1M112 52.5h1M114 52.5h1M149 52.5h1M43 53.5h1M68 53.5h1M85 53.5h1M87 53.5h1M95 53.5h1M99 53.5h1M125 53.5h1M160 53.5h1M0 54.5h1M48 54.5h1M126 54.5h3M8 55.5h1M26 55.5h1M64 55.5h1M100 55.5h1M112 55.5h1M132 55.5h1M24 56.5h1M48 56.5h1M87 56.5h1M89 56.5h1M103 56.5h1M107 56.5h1M114 56.5h1M121 56.5h1M7 57.5h1M14 57.5h1M23 57.5h1M31 57.5h1M50 57.5h1M70 57.5h1M76 57.5h1M91 57.5h1M114 57.5h1M119 57.5h1M23 58.5h1M90 58.5h1M112 58.5h1M118 58.5h1M123 58.5h1M126 58.5h1M128 58.5h1M133 58.5h1M76 59.5h1M100 59.5h1M9 60.5h1M21 60.5h1M26 60.5h1M54 60.5h1M67 60.5h1M82 60.5h1M87 60.5h1M101 60.5h1M107 60.5h1M110 60.5h1M114 60.5h1M119 60.5h1M125 60.5h2M136 60.5h1M61 61.5h1M78 61.5h1M128 61.5h1M4 62.5h1M9 62.5h1M12 62.5h1M17 62.5h1M20 62.5h1M116 62.5h1M24 63.5h1M96 63.5h1M9 64.5h1M12 64.5h1M53 64.5h1M97 64.5h1M132 64.5h1M5 65.5h1M62 65.5h1M66 65.5h1M96 65.5h1M106 65.5h1M115 65.5h1M118 65.5h1M23 66.5h1M36 66.5h1M53 66.5h1M60 66.5h1M74 66.5h1M78 66.5h1M80 66.5h1M89 66.5h1M100 66.5h1M117 66.5h1M126 66.5h1M131 66.5h1M10 67.5h1M40 67.5h1M67 67.5h1M111 67.5h1M33 68.5h1M71 68.5h1M100 68.5h1M102 68.5h1M125 68.5h1M135 68.5h1M148 68.5h1M5 69.5h1M7 69.5h1M21 69.5h1M64 69.5h1M124 69.5h1M126 69.5h3M135 69.5h1M53 70.5h1M58 70.5h1M112 70.5h1M121 70.5h1M141 70.5h1M21 71.5h1M23 71.5h1M35 71.5h1M121 71.5h1M139 71.5h1M49 72.5h1M114 72.5h1M122 72.5h1M142 72.5h1M146 72.5h1M4 73.5h1M35 73.5h2M88 73.5h1M131 73.5h1M18 74.5h1M113 74.5h1M126 74.5h1M128 74.5h1M145 74.5h1"/>
<path stroke="#621980" d="M94 0.5h1M120 0.5h1M141 0.5h1M98 1.5h1M167 1.5h1M7 2.5h2M26 2.5h1M41 2.5h1M75 2.5h1M122 2.5h1M23 3.5h1M35 3.5h1M44 3.5h1M52 3.5h1M43 4.5h1M48 4.5h1M9 5.5h1M54 5.5h1M72 5.5h1M151 6.5h1M10 7.5h1M22 7.5h1M31 7.5h1M40 7.5h1M79 7.5h1M141 7.5h1M7 8.5h2M38 8.5h1M100 8.5h1M111 8.5h1M15 9.5h1M144 9.5h1M15 11.5h1M28 11.5h2M104 11.5h1M158 11.5h1M80 12.5h1M156 12.5h1M3 13.5h1M8 13.5h1M20 13.5h1M29 13.5h1M81 13.5h1M113 13.5h1M147 13.5h1M12 14.5h1M41 14.5h1M52 14.5h1M71 14.5h1M93 14.5h1M132 14.5h1M19 15.5h1M61 15.5h1M80 15.5h1M5 16.5h1M9 16.5h1M58 16.5h1M68 16.5h2M151 16.5h1M16 17.5h1M28 17.5h1M70 17.5h1M81 17.5h1M89 17.5h1M95 17.5h1M156 17.5h1M34 18.5h1M36 18.5h1M57 18.5h1M68 18.5h1M103 18.5h1M163 18.5h1M50 19.5h1M52 19.5h1M60 19.5h1M93 19.5h1M124 19.5h1M145 19.5h1M152 19.5h1M14 20.5h1M21 20.5h1M39 20.5h1M54 20.5h1M72 20.5h1M79 20.5h1M129 20.5h1M150 20.5h1M31 21.5h1M90 21.5h1M143 21.5h1M161 21.5h1M66 22.5h1M87 22.5h1M123 22.5h1M135 22.5h1M150 22.5h1M164 22.5h1M31 23.5h1M94 23.5h1M32 24.5h1M61 24.5h1M64 24.5h1M66 24.5h1M77 24.5h1M115 24.5h1M59 25.5h1M79 25.5h1M88 25.5h1M90 25.5h1M102 25.5h1M159 25.5h1M162 25.5h1M36 26.5h1M49 26.5h1M65 26.5h1M76 26.5h1M103 26.5h1M119 26.5h1M34 27.5h1M43 27.5h2M104 27.5h1M135 27.5h1M137 27.5h1M141 27.5h1M33 28.5h1M37 28.5h1M39 28.5h1M44 28.5h1M78 28.5h1M85 28.5h1M90 28.5h1M155 28.5h1M97 29.5h1M103 29.5h1M50 30.5h1M63 30.5h1M65 30.5h1M89 30.5h1M100 30.5h1M104 30.5h1M144 30.5h1M159 30.5h1M75 31.5h2M78 31.5h1M109 31.5h1M134 32.5h1M1 34.5h2M146 34.5h1M162 34.5h1M0 35.5h1M149 35.5h1M0 36.5h1M134 36.5h1M13 37.5h1M50 38.5h1M102 38.5h1M119 38.5h1M141 38.5h1M9 39.5h1M46 39.5h1M73 39.5h1M82 39.5h1M93 39.5h2M96 39.5h1M139 39.5h1M63 40.5h1M90 40.5h1M9 41.5h1M54 41.5h1M85 41.5h1M87 41.5h1M97 41.5h1M99 41.5h1M103 41.5h1M116 41.5h1M71 42.5h1M74 42.5h1M95 42.5h1M107 42.5h1M17 43.5h1M33 43.5h1M88 43.5h2M91 43.5h1M57 44.5h1M66 44.5h1M91 44.5h1M0 45.5h1M73 45.5h1M98 45.5h1M105 45.5h1M155 45.5h1M8 46.5h1M11 46.5h1M22 46.5h1M46 46.5h1M54 46.5h1M81 46.5h1M98 46.5h1M107 46.5h1M136 46.5h1M150 46.5h1M42 47.5h2M82 47.5h1M97 47.5h1M102 47.5h1M169 47.5h1M10 48.5h1M59 48.5h1M82 48.5h1M96 48.5h1M102 48.5h1M112 48.5h1M116 48.5h1M22 49.5h1M55 49.5h1M73 49.5h1M121 49.5h1M22 50.5h1M60 50.5h1M66 50.5h1M87 50.5h1M94 50.5h1M110 50.5h1M113 50.5h2M168 50.5h1M7 51.5h1M10 51.5h1M13 51.5h1M29 51.5h1M63 51.5h1M72 51.5h1M98 51.5h1M122 51.5h2M17 52.5h1M52 52.5h1M55 52.5h1M65 52.5h1M69 52.5h1M84 52.5h1M91 52.5h1M93 52.5h1M100 52.5h1M122 52.5h1M14 53.5h1M24 53.5h1M69 53.5h1M101 53.5h1M110 53.5h1M41 54.5h2M66 54.5h1M68 54.5h1M73 54.5h1M85 54.5h1M92 54.5h1M94 54.5h1M155 54.5h1M7 55.5h1M20 55.5h1M45 55.5h1M59 55.5h1M66 55.5h1M70 55.5h1M118 55.5h1M124 55.5h2M130 55.5h1M0 56.5h1M27 56.5h1M56 56.5h1M68 56.5h1M82 56.5h1M109 56.5h1M128 56.5h1M56 57.5h1M58 57.5h1M101 57.5h1M110 57.5h1M127 57.5h1M138 57.5h1M21 58.5h1M67 58.5h1M96 58.5h1M99 58.5h1M120 58.5h1M147 58.5h1M71 59.5h1M130 59.5h1M3 60.5h1M13 60.5h1M29 60.5h1M51 60.5h1M84 60.5h1M99 60.5h1M8 61.5h1M43 61.5h1M101 61.5h1M133 61.5h1M10 62.5h1M16 62.5h1M55 62.5h2M86 62.5h1M114 62.5h1M1 63.5h1M5 63.5h1M7 63.5h1M33 63.5h1M62 63.5h1M73 63.5h1M82 63.5h1M112 63.5h1M124 63.5h1M146 63.5h1M3 64.5h1M15 64.5h1M75 64.5h1M90 64.5h1M117 64.5h1M123 64.5h1M125 64.5h1M152 64.5h1M10 65.5h1M43 65.5h1M64 65.5h1M109 65.5h1M124 65.5h1M127 65.5h1M139 65.5h1M5 66.5h1M7 66.5h1M9 66.5h1M64 66.5h1M98 66.5h1M109 66.5h1M138 66.5h1M140 66.5h1M0 67.5h1M4 67.5h1M35 67.5h1M56 67.5h1M81 67.5h1M90 67.5h1M113 67.5h1M118 67.5h1M127 67.5h1M133 67.5h1M140 67.5h1M37 68.5h1M78 68.5h1M137 68.5h1M140 68.5h1M6 69.5h1M70 69.5h1M115 69.5h1M123 69.5h1M146 69.5h1M151 69.5h1M153 69.5h1M9 70.5h1M14 70.5h1M73 70.5h1M100 70.5h1M124 70.5h1M29 71.5h1M32 71.5h1M62 71.5h1M78 71.5h1M106 71.5h1M111 71.5h1M118 71.5h1M127 71.5h1M146 71.5h1M157 71.5h1M4 72.5h1M44 72.5h1M75 72.5h1M128 72.5h1M130 72.5h1M135 72.5h1M137 72.5h1M10 73.5h1M12 73.5h1M21 73.5h1M51 73.5h1M74 73.5h1M83 73.5h1M93 73.5h1M122 73.5h1M153 73.5h1M12 74.5h1M47 74.5h1M83 74.5h1M109 74.5h1M143 74.5h1M147 74.5h1M151 74.5h1M155 74.5h1"/>
<path stroke="#671b80" d="M70 0.5h1M108 0.5h1M155 0.5h1M37 1.5h1M128 1.5h1M18 2.5h1M20 2.5h1M47 2.5h1M68 2.5h1M120 2.5h1M29 3.5h1M31 3.5h1M87 3.5h1M110 3.5h1M121 3.5h1M6 4.5h1M50 4.5h1M66 4.5h1M72 4.5h1M114 4.5h1M129 4.5h1M11 5.5h1M69 5.5h1M77 5.5h1M156 5.5h1M28 6.5h1M50 6.5h1M86 6.5h1M93 6.5h1M128 6.5h1M12 7.5h1M63 7.5h1M87 7.5h1M116 7.5h1M150 7.5h1M165 7.5h1M44 8.5h1M159 8.5h1M7 9.5h1M22 9.5h1M29 9.5h1M46 9.5h1M58 9.5h1M94 9.5h1M121 9.5h1M141 9.5h1M10 10.5h1M14 10.5h1M21 10.5h1M67 10.5h1M80 10.5h1M4 11.5h1M33 11.5h1M62 11.5h1M66 11.5h1M102 11.5h1M120 11.5h1M4 12.5h1M14 12.5h1M22 12.5h1M25 12.5h1M60 12.5h1M70 12.5h1M81 12.5h1M158 12.5h1M63 13.5h1M71 13.5h1M74 13.5h1M76 13.5h1M80 13.5h1M86 13.5h1M141 13.5h1M164 13.5h1M3 14.5h1M49 14.5h1M83 14.5h2M88 14.5h1M94 14.5h1M6 15.5h1M32 15.5h1M53 15.5h1M57 15.5h1M116 15.5h1M15 16.5h1M20 16.5h1M164 16.5h1M11 17.5h1M30 17.5h1M100 17.5h1M108 17.5h1M125 17.5h1M30 18.5h1M52 18.5h1M56 18.5h1M74 18.5h1M141 18.5h1M11 19.5h1M25 19.5h1M65 19.5h1M76 19.5h1M89 19.5h1M102 19.5h1M23 20.5h1M32 20.5h1M99 20.5h1M155 20.5h1M12 21.5h1M26 21.5h2M78 21.5h1M106 21.5h1M31 22.5h1M33 22.5h1M139 22.5h1M16 23.5h1M63 23.5h1M66 23.5h1M69 23.5h1M93 23.5h1M101 23.5h1M114 23.5h1M33 24.5h1M148 24.5h1M166 24.5h1M46 25.5h1M64 25.5h1M95 25.5h1M126 25.5h1M45 26.5h1M105 26.5h1M36 27.5h1M71 27.5h1M75 27.5h1M103 27.5h1M109 27.5h1M52 28.5h4M70 28.5h1M134 28.5h1M169 28.5h1M57 29.5h1M73 29.5h1M37 30.5h1M44 30.5h1M46 30.5h1M48 30.5h1M56 30.5h1M71 30.5h1M87 30.5h1M99 30.5h1M106 30.5h1M36 31.5h1M55 31.5h1M103 31.5h1M163 31.5h1M158 32.5h1M5 33.5h1M144 33.5h1M3 34.5h1M115 36.5h1M37 37.5h1M160 37.5h1M39 38.5h1M46 38.5h1M51 38.5h1M60 38.5h2M81 38.5h1M3 39.5h1M53 39.5h1M55 39.5h1M57 39.5h1M90 39.5h1M92 39.5h1M122 39.5h1M157 39.5h1M39 40.5h2M62 40.5h1M67 40.5h1M75 40.5h1M85 40.5h1M87 40.5h1M92 40.5h1M94 40.5h1M7 41.5h1M61 41.5h1M149 41.5h1M42 42.5h1M94 42.5h1M105 42.5h1M156 42.5h1M6 43.5h1M49 43.5h1M61 43.5h1M64 43.5h1M89 44.5h1M98 44.5h1M105 44.5h2M19 45.5h1M41 45.5h1M72 45.5h1M78 45.5h1M97 45.5h1M28 46.5h1M42 46.5h1M45 46.5h1M70 46.5h1M75 46.5h1M94 46.5h1M99 46.5h1M122 46.5h1M165 46.5h1M10 47.5h1M62 47.5h1M67 47.5h1M73 47.5h1M113 47.5h1M116 47.5h2M13 48.5h1M19 48.5h1M89 48.5h1M104 48.5h1M141 48.5h1M64 49.5h1M93 49.5h1M101 49.5h1M110 49.5h1M120 49.5h1M21 50.5h1M96 50.5h1M99 50.5h1M108 50.5h1M144 50.5h1M163 50.5h1M77 51.5h1M90 51.5h1M113 51.5h1M121 51.5h1M127 51.5h1M19 52.5h1M40 52.5h1M86 52.5h2M99 52.5h1M79 53.5h1M91 53.5h1M108 53.5h1M112 53.5h1M119 53.5h1M36 54.5h1M77 54.5h1M88 54.5h1M96 54.5h1M120 54.5h1M125 54.5h1M1 55.5h1M73 55.5h1M81 55.5h1M88 55.5h2M96 55.5h1M98 55.5h1M127 55.5h1M4 56.5h1M34 56.5h1M69 56.5h1M88 56.5h1M97 56.5h1M112 56.5h1M4 57.5h1M57 57.5h1M78 57.5h1M80 57.5h1M86 57.5h1M88 57.5h1M96 57.5h1M120 57.5h1M128 57.5h1M135 57.5h1M42 58.5h1M68 58.5h1M70 58.5h1M83 58.5h1M87 58.5h1M47 59.5h1M60 59.5h1M98 59.5h1M117 59.5h1M127 59.5h1M132 59.5h1M137 59.5h1M145 59.5h1M15 60.5h1M65 60.5h1M72 60.5h1M76 60.5h1M81 60.5h1M23 61.5h1M97 61.5h1M169 61.5h1M43 62.5h1M16 63.5h1M28 63.5h1M56 63.5h1M78 63.5h1M86 63.5h1M91 63.5h1M102 63.5h1M133 63.5h1M1 64.5h1M26 64.5h1M103 64.5h1M140 64.5h1M149 64.5h1M11 65.5h1M87 65.5h1M114 65.5h1M134 65.5h1M2 66.5h1M94 66.5h1M112 66.5h1M119 66.5h1M122 66.5h1M124 66.5h1M128 66.5h1M133 66.5h1M14 67.5h1M44 67.5h1M51 67.5h1M62 67.5h1M120 67.5h2M125 67.5h1M135 67.5h1M138 67.5h1M2 68.5h2M25 68.5h1M64 68.5h1M74 68.5h1M95 68.5h1M108 68.5h1M114 68.5h1M118 68.5h1M144 68.5h2M153 68.5h1M35 69.5h1M46 69.5h1M68 69.5h1M93 69.5h1M137 69.5h1M140 69.5h1M3 70.5h1M8 70.5h1M76 70.5h1M79 70.5h1M108 70.5h1M132 70.5h1M6 71.5h1M15 71.5h1M31 71.5h1M66 71.5h1M79 71.5h1M114 71.5h1M13 72.5h1M72 72.5h1M110 72.5h1M115 72.5h1M120 72.5h1M127 72.5h1M132 72.5h2M45 73.5h1M87 73.5h1M94 73.5h1M109 73.5h1M133 73.5h1M0 74.5h1M5 74.5h1M9 74.5h1M78 74.5h1M102 74.5h1M108 74.5h1M120 74.5h1M134 74.5h2M148 74.5h1M159 74.5h1"/>
<path stroke="#6a1c81" d="M10 0.5h1M15 0.5h1M23 0.5h1M99 0.5h1M6 1.5h1M11 1.5h1M22 1.5h1M26 1.5h1M100 1.5h1M10 2.5h1M13 2.5h1M21 2.5h1M33 2.5h1M90 2.5h1M117 2.5h1M28 3.5h1M45 3.5h1M118 3.5h1M156 3.5h1M7 4.5h1M15 4.5h1M41 4.5h1M101 4.5h1M15 5.5h1M39 5.5h1M14 6.5h1M44 6.5h1M64 6.5h1M84 6.5h1M15 7.5h1M27 8.5h1M51 8.5h1M89 8.5h1M10 9.5h1M21 9.5h1M43 9.5h1M33 10.5h2M74 10.5h1M77 10.5h1M83 10.5h1M85 10.5h1M87 10.5h1M102 10.5h1M153 10.5h1M18 11.5h1M54 11.5h1M63 11.5h1M139 11.5h1M142 11.5h1M58 12.5h1M0 13.5h1M12 13.5h1M27 13.5h1M68 13.5h1M83 13.5h1M16 14.5h1M59 14.5h1M98 14.5h1M138 14.5h1M145 14.5h1M159 14.5h1M7 15.5h1M15 15.5h1M20 15.5h1M79 15.5h1M94 15.5h1M135 15.5h1M157 15.5h1M7 16.5h1M24 16.5h1M33 16.5h1M53 16.5h1M59 16.5h1M88 16.5h1M118 16.5h1M21 17.5h1M32 17.5h2M64 18.5h1M72 18.5h1M85 18.5h1M154 18.5h1M46 19.5h1M80 19.5h1M126 19.5h1M31 20.5h1M16 21.5h2M60 21.5h1M67 21.5h1M99 21.5h1M135 21.5h1M20 22.5h1M32 22.5h1M45 22.5h1M51 22.5h2M96 22.5h1M101 22.5h1M105 22.5h1M116 22.5h1M159 22.5h1M15 23.5h1M45 23.5h1M47 23.5h1M74 23.5h2M87 23.5h1M91 23.5h1M138 23.5h1M29 24.5h3M35 24.5h1M55 24.5h1M4 25.5h1M58 25.5h1M72 25.5h1M43 26.5h1M46 26.5h1M130 26.5h1M148 26.5h1M30 27.5h1M37 27.5h1M55 27.5h1M62 27.5h1M106 27.5h1M162 27.5h1M61 28.5h1M84 28.5h1M97 28.5h1M130 28.5h1M3 29.5h1M34 29.5h1M44 29.5h1M54 29.5h1M69 29.5h3M96 29.5h1M47 30.5h1M57 30.5h1M70 30.5h1M151 30.5h1M65 31.5h1M73 31.5h1M88 31.5h1M96 31.5h1M134 31.5h1M108 32.5h1M167 34.5h1M163 35.5h1M0 38.5h1M13 38.5h1M65 38.5h1M77 38.5h1M91 38.5h1M30 39.5h1M43 39.5h1M59 39.5h1M95 39.5h1M99 39.5h1M57 40.5h1M83 40.5h2M95 41.5h1M56 42.5h1M59 42.5h1M57 43.5h1M79 43.5h1M104 43.5h2M93 44.5h1M102 44.5h1M112 44.5h1M117 44.5h1M132 44.5h1M53 45.5h1M95 45.5h1M111 45.5h1M52 46.5h1M55 46.5h1M76 46.5h1M82 46.5h1M109 46.5h1M54 47.5h1M99 47.5h1M107 47.5h2M63 48.5h1M109 48.5h2M47 49.5h1M69 49.5h1M94 49.5h3M79 50.5h1M83 50.5h1M117 50.5h1M5 51.5h1M58 51.5h1M73 51.5h1M84 51.5h1M96 51.5h1M112 51.5h1M117 51.5h1M4 52.5h1M47 52.5h1M92 52.5h1M127 52.5h2M49 53.5h1M56 53.5h1M67 53.5h1M105 53.5h1M113 53.5h2M2 54.5h1M47 54.5h1M56 54.5h1M84 54.5h1M31 55.5h1M121 55.5h1M128 55.5h1M18 56.5h1M55 56.5h1M98 56.5h1M1 57.5h1M97 57.5h1M113 57.5h1M125 57.5h1M53 58.5h1M117 58.5h1M73 59.5h1M136 59.5h1M86 60.5h1M91 60.5h1M105 60.5h1M120 60.5h1M135 60.5h1M142 60.5h1M24 61.5h1M127 61.5h1M140 61.5h1M59 62.5h1M73 62.5h1M124 62.5h1M142 62.5h1M9 63.5h1M23 63.5h1M99 63.5h1M107 63.5h1M125 63.5h1M135 63.5h1M35 64.5h1M55 64.5h1M69 64.5h1M73 64.5h1M133 64.5h1M138 64.5h1M151 64.5h1M1 65.5h1M54 65.5h1M121 65.5h1M130 65.5h1M143 65.5h1M147 65.5h1M1 66.5h1M17 66.5h1M33 66.5h1M49 66.5h1M71 66.5h1M118 66.5h1M29 67.5h1M53 67.5h1M83 67.5h2M131 67.5h1M32 68.5h1M52 68.5h1M149 68.5h1M9 69.5h1M12 69.5h1M43 69.5h1M65 69.5h1M139 69.5h1M0 70.5h1M32 70.5h2M80 70.5h1M93 70.5h1M139 70.5h1M150 70.5h1M9 71.5h1M17 71.5h1M34 71.5h1M107 71.5h1M115 71.5h1M138 71.5h1M30 72.5h1M32 72.5h1M112 72.5h1M145 72.5h1M147 72.5h1M14 73.5h1M27 73.5h1M66 73.5h1M140 73.5h1M7 74.5h1M54 74.5h1M68 74.5h1M114 74.5h1"/>
<path stroke="#6e1e81" d="M3 0.5h1M6 0.5h1M166 0.5h1M16 2.5h1M25 2.5h1M102 2.5h1M109 2.5h1M3 3.5h1M12 4.5h1M87 4.5h1M13 5.5h2M29 5.5h1M5 6.5h1M15 6.5h1M58 6.5h1M145 6.5h1M166 6.5h1M33 7.5h1M39 7.5h1M69 7.5h1M102 7.5h1M125 7.5h1M26 8.5h1M29 8.5h1M148 8.5h1M5 9.5h1M26 9.5h2M154 9.5h1M1 10.5h1M6 10.5h1M15 10.5h1M24 10.5h1M73 10.5h1M112 10.5h1M91 11.5h1M12 12.5h1M19 12.5h2M69 12.5h1M118 12.5h1M132 12.5h1M11 13.5h1M58 13.5h1M72 13.5h1M10 14.5h2M15 14.5h1M29 14.5h1M95 14.5h1M51 15.5h1M72 15.5h1M161 15.5h1M17 16.5h1M21 16.5h1M29 16.5h1M43 16.5h1M51 16.5h1M5 17.5h1M12 17.5h1M22 17.5h1M35 17.5h1M40 17.5h1M62 17.5h1M86 17.5h1M133 17.5h1M101 18.5h1M119 18.5h1M16 19.5h1M130 19.5h1M18 20.5h1M26 20.5h1M80 20.5h1M19 21.5h1M50 21.5h1M54 21.5h1M95 21.5h1M29 22.5h2M41 22.5h1M67 22.5h1M85 22.5h1M25 23.5h1M96 24.5h1M104 24.5h1M140 24.5h1M26 25.5h1M29 25.5h1M55 26.5h2M70 26.5h1M27 27.5h1M110 27.5h1M155 27.5h1M26 28.5h1M31 28.5h1M34 28.5h1M107 28.5h1M27 29.5h1M33 29.5h1M89 29.5h1M137 29.5h1M157 29.5h1M40 30.5h1M43 30.5h1M62 30.5h1M79 30.5h1M109 30.5h1M153 30.5h1M27 31.5h1M45 31.5h1M110 31.5h1M168 32.5h1M2 38.5h1M41 38.5h1M59 38.5h1M62 38.5h1M66 38.5h1M68 38.5h1M83 38.5h1M116 38.5h1M50 39.5h1M76 39.5h1M84 39.5h1M101 39.5h2M51 40.5h1M86 40.5h1M101 40.5h1M103 40.5h1M110 40.5h1M159 40.5h1M77 41.5h1M10 42.5h1M46 43.5h1M100 43.5h1M126 43.5h1M166 43.5h1M51 44.5h1M104 44.5h1M108 44.5h1M114 44.5h1M156 44.5h1M18 45.5h1M106 45.5h1M113 45.5h1M59 46.5h1M95 46.5h1M56 47.5h1M85 47.5h1M122 47.5h1M47 48.5h1M83 48.5h1M107 48.5h1M59 49.5h1M115 49.5h1M25 50.5h1M91 50.5h1M100 50.5h1M123 50.5h1M127 50.5h1M2 51.5h1M93 51.5h1M106 51.5h1M109 51.5h1M116 51.5h1M147 51.5h1M79 52.5h1M97 52.5h1M133 52.5h1M51 53.5h1M93 53.5h1M118 53.5h1M120 53.5h1M113 54.5h1M115 55.5h1M84 56.5h1M122 56.5h1M48 57.5h1M53 57.5h1M71 57.5h1M118 57.5h1M121 57.5h1M15 58.5h1M37 58.5h1M122 58.5h1M125 58.5h1M129 58.5h1M132 58.5h1M163 58.5h1M78 59.5h1M91 59.5h1M96 59.5h1M114 59.5h1M124 59.5h1M131 59.5h1M53 60.5h1M112 60.5h1M131 60.5h1M4 61.5h1M81 61.5h1M100 61.5h1M136 61.5h1M138 61.5h1M109 62.5h1M113 62.5h1M122 62.5h1M138 62.5h1M114 63.5h1M122 63.5h1M128 63.5h1M137 63.5h1M140 63.5h1M6 64.5h1M8 64.5h1M79 64.5h1M100 64.5h1M121 64.5h1M126 64.5h1M18 65.5h1M21 65.5h1M33 65.5h1M36 65.5h1M57 65.5h1M102 65.5h1M113 65.5h1M137 65.5h1M144 65.5h1M154 65.5h1M8 66.5h1M52 66.5h1M101 66.5h1M134 66.5h1M137 66.5h1M144 66.5h1M150 66.5h1M12 67.5h1M48 67.5h1M88 67.5h1M108 67.5h1M137 67.5h1M4 68.5h1M112 68.5h1M121 68.5h1M130 68.5h1M142 68.5h1M24 69.5h1M61 69.5h1M122 69.5h1M145 69.5h1M154 69.5h1M66 70.5h1M125 70.5h1M131 70.5h1M140 70.5h1M158 70.5h1M1 71.5h1M8 71.5h1M145 71.5h1M25 72.5h1M64 72.5h1M91 72.5h1M109 72.5h1M111 72.5h1M141 72.5h1M3 73.5h1M32 73.5h1M69 73.5h1M143 73.5h1M4 74.5h1M67 74.5h1M149 74.5h1M154 74.5h1M156 74.5h1"/>
<path stroke="#732081" d="M9 0.5h1M11 0.5h1M22 0.5h1M100 0.5h1M14 1.5h1M21 1.5h1M74 1.5h1M14 2.5h1M92 2.5h1M161 2.5h1M4 3.5h1M11 3.5h1M57 3.5h1M95 3.5h1M32 4.5h1M35 5.5h1M61 5.5h1M75 5.5h1M128 5.5h1M139 5.5h1M66 6.5h1M134 6.5h1M48 7.5h1M68 7.5h1M90 7.5h1M14 8.5h2M20 8.5h1M67 8.5h1M142 8.5h1M23 9.5h2M30 9.5h1M2 10.5h1M19 10.5h1M63 10.5h1M163 10.5h1M12 11.5h1M25 11.5h1M32 11.5h1M45 11.5h1M54 12.5h1M14 13.5h1M17 13.5h1M77 13.5h1M13 14.5h1M53 14.5h1M8 15.5h1M12 15.5h1M16 15.5h2M21 15.5h1M14 16.5h1M34 16.5h1M10 17.5h1M19 17.5h1M31 17.5h1M79 17.5h1M163 17.5h1M13 18.5h1M18 18.5h1M84 18.5h1M14 19.5h1M34 19.5h1M37 19.5h1M64 19.5h1M70 19.5h1M127 19.5h2M7 20.5h1M105 20.5h1M22 21.5h1M21 22.5h1M26 22.5h1M89 22.5h1M99 22.5h1M36 23.5h1M44 23.5h1M80 23.5h1M137 23.5h1M19 24.5h1M87 24.5h1M28 25.5h1M35 25.5h1M85 25.5h1M25 26.5h1M34 26.5h2M50 26.5h1M22 27.5h1M29 27.5h1M25 28.5h1M47 28.5h1M50 28.5h1M29 29.5h1M101 29.5h1M33 30.5h2M58 30.5h1M97 30.5h1M26 31.5h1M58 31.5h1M60 31.5h1M71 31.5h1M38 32.5h1M7 37.5h1M49 38.5h1M84 38.5h1M96 38.5h1M48 39.5h1M54 39.5h1M58 39.5h1M74 39.5h1M79 39.5h1M87 39.5h1M97 39.5h1M104 39.5h1M121 39.5h1M82 40.5h1M89 40.5h1M97 40.5h1M92 41.5h1M100 41.5h1M93 42.5h1M112 42.5h1M92 44.5h1M100 44.5h1M123 44.5h1M82 45.5h1M101 45.5h3M90 46.5h1M92 46.5h1M119 46.5h1M69 47.5h1M90 47.5h1M112 47.5h1M15 48.5h1M97 49.5h1M107 49.5h1M112 49.5h1M71 50.5h1M52 51.5h1M110 51.5h1M125 51.5h1M134 51.5h1M18 52.5h1M26 52.5h1M64 52.5h1M85 52.5h1M107 52.5h1M86 53.5h1M111 53.5h1M132 53.5h1M110 54.5h2M124 54.5h1M78 55.5h1M119 55.5h1M133 55.5h1M8 56.5h1M53 56.5h1M117 56.5h1M120 56.5h1M126 56.5h1M131 56.5h2M90 57.5h1M123 57.5h1M4 58.5h1M101 58.5h1M138 58.5h1M5 59.5h1M19 59.5h1M26 59.5h1M134 59.5h1M83 60.5h1M98 60.5h1M115 60.5h1M128 60.5h1M36 61.5h1M45 61.5h1M48 61.5h1M72 61.5h1M83 61.5h1M137 61.5h1M82 62.5h1M21 63.5h1M90 63.5h1M98 63.5h1M127 63.5h1M148 63.5h2M44 64.5h1M84 64.5h1M130 64.5h1M139 64.5h1M144 64.5h1M52 65.5h1M79 65.5h1M128 65.5h1M84 66.5h1M121 66.5h1M127 66.5h1M146 66.5h2M149 66.5h1M1 67.5h1M9 67.5h1M103 67.5h1M119 67.5h1M136 67.5h1M7 68.5h1M62 68.5h1M124 68.5h1M132 68.5h1M150 68.5h1M16 69.5h1M52 69.5h1M121 69.5h1M132 69.5h1M148 69.5h1M152 69.5h1M47 70.5h1M138 70.5h1M147 70.5h1M0 71.5h1M131 71.5h1M135 71.5h1M152 71.5h1M5 72.5h1M76 72.5h1M148 72.5h1M82 73.5h1M141 73.5h1M149 73.5h1M3 74.5h1M60 74.5h1M94 74.5h1M133 74.5h1M140 74.5h1M153 74.5h1"/>
<path stroke="#762181" d="M102 0.5h1M10 1.5h1M30 1.5h1M2 2.5h1M12 2.5h1M63 2.5h1M61 3.5h1M92 3.5h1M13 4.5h1M31 4.5h1M20 5.5h1M45 6.5h1M90 6.5h1M12 8.5h1M20 10.5h1M27 10.5h1M44 10.5h1M11 11.5h1M34 11.5h1M98 11.5h1M7 12.5h1M79 12.5h1M5 13.5h1M10 13.5h1M15 13.5h1M28 13.5h1M57 13.5h1M21 14.5h1M149 14.5h1M23 15.5h1M11 16.5h1M7 17.5h2M2 18.5h1M10 18.5h1M33 18.5h1M19 19.5h1M26 19.5h1M17 20.5h1M23 21.5h1M32 21.5h1M85 21.5h1M34 22.5h1M27 23.5h1M48 23.5h1M76 23.5h1M82 23.5h1M160 23.5h1M85 24.5h1M33 25.5h1M49 25.5h1M137 25.5h1M21 26.5h2M58 26.5h1M127 26.5h1M35 27.5h1M42 27.5h1M49 27.5h1M68 27.5h1M46 28.5h1M132 28.5h1M41 29.5h1M45 29.5h1M48 29.5h1M81 29.5h1M94 29.5h1M98 29.5h1M42 30.5h1M49 30.5h1M66 30.5h1M74 30.5h1M93 30.5h1M150 30.5h1M33 31.5h1M52 31.5h1M56 31.5h1M89 31.5h1M92 31.5h1M106 31.5h1M40 37.5h1M117 37.5h1M40 38.5h1M42 38.5h1M45 38.5h1M105 38.5h1M44 39.5h1M56 39.5h1M65 39.5h1M86 39.5h1M89 39.5h1M91 39.5h1M105 40.5h1M101 41.5h1M58 42.5h1M85 42.5h1M88 42.5h1M99 42.5h1M59 43.5h1M99 43.5h1M101 43.5h1M108 43.5h1M58 44.5h1M90 44.5h1M68 45.5h1M114 45.5h1M117 45.5h1M96 46.5h1M104 46.5h1M110 46.5h1M121 46.5h1M110 47.5h1M118 47.5h1M88 48.5h1M111 48.5h1M122 48.5h1M126 48.5h1M45 49.5h1M71 49.5h1M79 49.5h1M100 49.5h1M117 49.5h1M123 49.5h1M112 50.5h1M145 50.5h1M169 51.5h1M56 52.5h1M96 52.5h1M120 52.5h1M131 52.5h1M116 53.5h1M122 53.5h1M131 53.5h1M133 53.5h1M28 54.5h1M153 54.5h1M46 55.5h1M75 55.5h1M117 55.5h1M122 55.5h1M129 55.5h1M136 55.5h1M142 55.5h1M124 56.5h1M140 56.5h1M9 57.5h1M21 57.5h1M130 57.5h1M139 57.5h1M14 58.5h1M36 58.5h1M88 58.5h1M94 58.5h1M98 58.5h1M127 58.5h1M0 59.5h1M77 59.5h1M120 59.5h1M118 60.5h1M2 62.5h1M135 62.5h2M123 63.5h1M131 63.5h1M143 63.5h2M0 64.5h1M2 64.5h1M2 65.5h2M90 65.5h1M132 65.5h1M4 66.5h1M68 66.5h1M142 66.5h1M67 68.5h1M119 68.5h1M154 68.5h1M91 69.5h1M134 69.5h1M143 69.5h1M150 69.5h1M27 70.5h1M103 71.5h1M141 71.5h1M35 72.5h1M55 72.5h1M106 72.5h1M152 72.5h1M108 73.5h1M115 73.5h1M160 73.5h1M1 74.5h1M132 74.5h1M144 74.5h1M152 74.5h1"/>
<path stroke="#7b2382" d="M8 0.5h1M33 0.5h1M124 0.5h1M31 1.5h1M6 2.5h1M144 2.5h1M5 3.5h1M7 3.5h1M17 3.5h1M27 3.5h1M2 4.5h1M4 5.5h1M6 5.5h1M17 5.5h1M19 5.5h1M44 5.5h1M6 6.5h1M16 6.5h1M160 6.5h1M27 7.5h1M66 7.5h1M4 8.5h1M9 8.5h1M96 8.5h1M88 9.5h1M101 9.5h1M119 9.5h1M71 10.5h1M123 10.5h1M86 11.5h1M6 12.5h1M47 12.5h1M72 12.5h1M3 15.5h1M19 16.5h1M31 16.5h1M9 17.5h1M9 18.5h1M16 18.5h1M20 18.5h1M78 18.5h1M159 18.5h1M17 19.5h1M23 19.5h2M8 20.5h1M25 20.5h1M25 21.5h1M17 22.5h1M24 23.5h1M14 25.5h1M25 25.5h1M71 25.5h1M27 26.5h1M33 27.5h1M40 27.5h1M47 27.5h2M30 28.5h1M48 28.5h2M67 28.5h1M30 29.5h1M56 29.5h1M79 29.5h1M41 30.5h1M92 30.5h1M102 30.5h1M12 31.5h1M35 31.5h1M39 31.5h1M48 31.5h1M74 31.5h1M77 31.5h1M107 31.5h1M120 32.5h1M112 34.5h1M169 35.5h1M41 37.5h1M44 38.5h1M48 38.5h1M58 38.5h1M69 38.5h1M75 38.5h1M66 39.5h1M54 40.5h1M61 40.5h1M66 40.5h1M62 41.5h1M104 41.5h1M107 41.5h1M110 41.5h1M113 41.5h1M120 41.5h1M7 42.5h1M96 43.5h1M95 44.5h2M93 45.5h1M99 45.5h1M114 46.5h1M123 46.5h1M100 47.5h1M115 47.5h1M138 47.5h1M62 48.5h1M75 48.5h1M100 48.5h1M118 48.5h1M118 49.5h1M69 50.5h1M115 51.5h1M32 52.5h1M74 52.5h1M115 52.5h1M118 52.5h1M129 52.5h1M12 53.5h1M94 53.5h1M127 53.5h1M140 53.5h1M4 54.5h1M119 54.5h1M71 55.5h1M116 57.5h1M12 58.5h1M32 58.5h1M141 58.5h1M44 60.5h1M85 60.5h1M138 60.5h2M123 61.5h2M132 61.5h1M135 61.5h1M168 61.5h1M34 62.5h1M74 62.5h1M132 62.5h1M146 62.5h1M148 62.5h1M142 63.5h1M147 63.5h1M154 63.5h1M140 65.5h2M66 66.5h1M129 66.5h1M16 67.5h1M149 67.5h1M1 68.5h1M3 69.5h1M142 69.5h1M60 70.5h1M70 70.5h1M145 70.5h1M156 70.5h1M83 71.5h1M88 71.5h1M90 71.5h1M92 71.5h1M158 71.5h1M0 72.5h1M10 72.5h1M23 72.5h1M29 72.5h1M119 72.5h1M143 72.5h1M24 73.5h1M91 73.5h1M144 73.5h1M146 73.5h1M96 74.5h1M138 74.5h1M157 74.5h1"/>
<path stroke="#802582" d="M30 0.5h1M8 1.5h1M30 2.5h1M10 3.5h1M100 3.5h1M117 3.5h1M11 4.5h1M29 4.5h1M4 6.5h1M8 6.5h1M3 8.5h1M6 8.5h1M13 9.5h1M3 10.5h1M5 11.5h1M13 15.5h1M50 15.5h1M97 15.5h1M15 17.5h1M27 17.5h1M56 17.5h1M96 17.5h1M14 18.5h1M19 18.5h1M2 19.5h1M15 19.5h1M13 21.5h1M20 21.5h1M105 21.5h1M29 23.5h1M16 24.5h1M70 24.5h1M26 26.5h1M30 26.5h2M48 26.5h1M51 26.5h1M78 26.5h1M29 28.5h1M43 28.5h1M31 29.5h1M36 29.5h1M42 29.5h1M49 29.5h1M52 29.5h1M58 29.5h1M77 30.5h1M63 31.5h1M66 31.5h1M72 31.5h1M90 31.5h1M94 31.5h1M32 32.5h1M42 32.5h1M45 32.5h1M35 33.5h1M42 37.5h1M54 38.5h1M68 39.5h1M88 41.5h1M109 41.5h1M111 42.5h1M7 43.5h1M103 43.5h1M121 43.5h1M49 44.5h1M107 44.5h1M92 45.5h1M107 45.5h1M118 45.5h1M120 45.5h1M100 46.5h1M108 46.5h1M116 46.5h1M111 47.5h1M48 48.5h1M93 48.5h1M119 48.5h1M123 48.5h1M90 50.5h1M126 50.5h1M92 51.5h1M88 53.5h1M117 53.5h1M81 54.5h1M98 54.5h1M112 54.5h1M107 55.5h1M123 55.5h1M90 56.5h1M131 57.5h1M134 57.5h1M144 57.5h1M119 58.5h1M124 58.5h1M140 58.5h1M121 59.5h1M7 60.5h1M77 60.5h1M88 60.5h1M113 60.5h1M144 60.5h1M165 60.5h1M18 61.5h1M126 61.5h1M134 61.5h1M119 62.5h1M2 63.5h1M68 63.5h1M111 63.5h1M134 63.5h1M80 64.5h1M112 64.5h1M136 64.5h1M143 64.5h1M153 66.5h1M116 67.5h1M153 67.5h1M0 68.5h1M47 68.5h1M134 68.5h1M139 68.5h1M96 69.5h1M116 69.5h1M155 69.5h2M90 70.5h1M96 70.5h1M148 70.5h1M154 70.5h1M80 71.5h1M150 71.5h1M153 71.5h1M155 71.5h1M7 72.5h1M5 73.5h1M47 73.5h1M148 73.5h1M100 74.5h1M141 74.5h1M146 74.5h1M150 74.5h1"/>
<path stroke="#842681" d="M7 0.5h1M3 2.5h1M9 2.5h1M8 3.5h1M8 4.5h1M9 6.5h1M84 7.5h1M143 8.5h1M1 9.5h1M2 11.5h1M9 11.5h1M26 11.5h1M9 13.5h1M5 14.5h2M9 14.5h1M4 15.5h1M10 15.5h2M26 15.5h1M10 16.5h1M23 17.5h1M15 18.5h1M12 19.5h1M73 19.5h1M13 20.5h1M19 20.5h2M27 20.5h1M43 21.5h1M14 22.5h1M16 22.5h1M35 22.5h1M93 22.5h1M10 23.5h1M55 23.5h1M92 23.5h1M18 24.5h1M25 24.5h1M48 24.5h1M103 24.5h1M22 25.5h1M24 25.5h1M83 25.5h1M24 26.5h1M24 27.5h1M28 27.5h1M31 27.5h1M30 30.5h1M35 30.5h1M52 30.5h1M85 30.5h1M47 31.5h1M54 31.5h1M69 31.5h1M86 31.5h1M29 32.5h1M109 32.5h1M18 37.5h1M43 38.5h1M70 38.5h1M72 38.5h1M76 38.5h1M93 38.5h1M97 38.5h1M100 38.5h1M104 38.5h1M80 39.5h1M100 39.5h1M113 40.5h1M112 41.5h1M113 42.5h1M111 43.5h1M114 43.5h2M134 45.5h1M123 47.5h1M99 48.5h1M114 48.5h1M86 49.5h1M126 49.5h1M86 50.5h1M118 50.5h1M122 50.5h1M125 50.5h1M118 51.5h1M45 52.5h1M111 52.5h1M115 53.5h1M124 53.5h1M151 53.5h1M114 54.5h1M123 54.5h1M133 56.5h2M146 56.5h1M117 57.5h1M137 57.5h1M112 59.5h1M128 59.5h1M139 59.5h1M152 59.5h1M143 60.5h1M117 61.5h1M145 61.5h1M149 61.5h1M129 64.5h1M134 64.5h2M67 65.5h1M116 65.5h1M146 65.5h1M155 66.5h1M141 67.5h1M147 67.5h1M150 67.5h1M159 67.5h2M5 68.5h1M122 68.5h1M151 68.5h1M4 69.5h1M144 69.5h1M158 69.5h1M142 70.5h1M144 70.5h1M156 72.5h1M16 73.5h1M62 73.5h1M126 73.5h1M137 73.5h1M156 73.5h1M115 74.5h1"/>
<path stroke="#882781" d="M13 3.5h1M5 5.5h1M9 7.5h1M42 8.5h1M2 9.5h1M6 9.5h1M11 9.5h1M65 9.5h1M81 10.5h1M147 11.5h1M3 12.5h1M9 12.5h1M68 12.5h1M1 14.5h1M8 14.5h1M18 17.5h1M48 17.5h1M6 18.5h1M7 19.5h1M9 21.5h1M18 21.5h1M36 21.5h1M24 22.5h1M42 24.5h1M17 25.5h1M20 25.5h1M23 25.5h1M27 25.5h1M29 26.5h1M71 26.5h1M35 28.5h1M23 29.5h1M32 29.5h1M88 29.5h1M88 30.5h1M37 31.5h1M62 31.5h1M81 31.5h1M83 31.5h1M99 31.5h1M108 31.5h1M40 32.5h2M101 32.5h1M51 37.5h2M47 38.5h1M71 38.5h1M82 38.5h1M92 38.5h1M108 38.5h1M81 39.5h1M106 39.5h1M78 40.5h1M83 41.5h1M111 41.5h1M78 42.5h1M118 42.5h1M111 44.5h1M113 44.5h1M127 44.5h1M122 45.5h1M90 49.5h1M98 49.5h1M109 49.5h1M125 49.5h1M124 50.5h1M124 51.5h1M129 51.5h1M109 52.5h1M117 52.5h1M77 53.5h1M109 53.5h1M121 53.5h1M135 53.5h1M133 54.5h1M140 54.5h1M155 55.5h1M130 56.5h1M133 57.5h1M58 58.5h1M111 58.5h1M144 58.5h1M56 59.5h1M125 59.5h1M133 59.5h1M135 59.5h1M138 59.5h1M133 60.5h2M130 61.5h1M141 64.5h1M0 66.5h1M151 66.5h1M156 66.5h1M142 67.5h1M144 67.5h1M155 67.5h1M133 69.5h1M149 69.5h1M1 70.5h1M67 70.5h1M143 71.5h1M0 73.5h1M155 73.5h1M157 73.5h1"/>
<path stroke="#8c2981" d="M5 0.5h1M9 1.5h1M4 2.5h1M6 3.5h1M4 4.5h1M7 6.5h1M5 8.5h1M7 10.5h1M9 10.5h1M5 12.5h1M8 12.5h1M10 12.5h1M1 13.5h1M5 15.5h1M9 15.5h1M6 16.5h1M58 18.5h1M13 19.5h1M133 19.5h1M51 20.5h1M11 21.5h1M15 22.5h1M19 25.5h1M20 26.5h1M28 28.5h1M84 29.5h1M25 30.5h1M72 30.5h1M42 31.5h1M57 31.5h1M59 31.5h1M68 31.5h1M82 31.5h1M93 31.5h1M37 32.5h1M85 32.5h1M113 35.5h1M48 37.5h1M54 37.5h2M67 38.5h1M78 38.5h1M90 38.5h1M62 39.5h1M109 39.5h2M100 40.5h1M108 41.5h1M114 41.5h1M120 42.5h1M109 43.5h1M101 44.5h1M119 44.5h1M121 45.5h1M129 45.5h1M120 46.5h1M121 48.5h1M127 48.5h1M99 49.5h1M119 50.5h2M128 50.5h1M132 50.5h1M136 51.5h1M124 52.5h1M134 53.5h1M142 54.5h1M135 55.5h1M140 55.5h1M145 55.5h1M125 56.5h1M139 56.5h1M132 57.5h1M140 57.5h1M146 57.5h1M137 58.5h1M129 59.5h1M146 59.5h1M5 60.5h1M155 60.5h1M143 61.5h1M148 61.5h1M139 62.5h1M143 62.5h1M139 63.5h1M148 65.5h1M157 67.5h1M147 68.5h1M147 69.5h1M153 70.5h1M147 71.5h1M139 72.5h1M157 72.5h1M159 72.5h1M2 73.5h1M159 73.5h1M160 74.5h1"/>
<path stroke="#912b81" d="M3 1.5h1M5 2.5h1M0 3.5h1M5 7.5h1M34 9.5h1M0 10.5h1M77 11.5h1M2 12.5h1M4 14.5h1M14 15.5h1M17 17.5h1M6 19.5h1M91 19.5h1M4 20.5h1M11 20.5h1M35 20.5h1M26 23.5h1M28 23.5h1M21 24.5h1M27 24.5h1M18 25.5h1M28 26.5h1M27 28.5h1M61 30.5h1M94 30.5h2M98 30.5h1M44 31.5h1M46 31.5h1M67 31.5h1M79 31.5h1M100 31.5h2M104 31.5h1M52 32.5h1M98 32.5h2M106 32.5h1M34 34.5h1M70 37.5h1M73 38.5h2M89 38.5h1M72 39.5h1M88 39.5h1M99 40.5h1M46 41.5h1M98 41.5h1M115 41.5h1M121 42.5h1M97 43.5h1M116 43.5h1M109 44.5h1M117 46.5h1M125 46.5h1M114 47.5h1M120 48.5h1M129 48.5h1M140 48.5h1M129 49.5h1M142 49.5h1M50 50.5h1M97 51.5h1M120 51.5h1M132 51.5h1M121 52.5h1M138 53.5h1M129 54.5h1M126 55.5h1M141 56.5h1M109 58.5h1M139 58.5h1M148 58.5h1M147 59.5h1M109 60.5h1M132 60.5h1M131 61.5h1M139 61.5h1M142 61.5h1M150 61.5h1M137 62.5h1M141 62.5h1M137 64.5h1M153 64.5h2M136 65.5h1M150 65.5h2M141 66.5h1M148 66.5h1M148 67.5h1M45 69.5h1M2 70.5h1M143 70.5h1M151 70.5h2M132 71.5h1M154 71.5h1M2 72.5h1M107 72.5h1M153 72.5h1M155 72.5h1M152 73.5h1"/>
<path stroke="#942c80" d="M2 1.5h1M5 1.5h1M101 1.5h1M0 2.5h1M1 3.5h1M14 3.5h1M7 5.5h2M2 6.5h1M12 6.5h1M2 7.5h1M8 10.5h1M11 12.5h1M13 16.5h1M6 17.5h1M14 17.5h1M26 17.5h1M85 17.5h1M5 18.5h1M23 18.5h1M8 19.5h1M15 20.5h1M46 20.5h1M6 21.5h1M10 21.5h1M21 21.5h1M79 21.5h1M8 22.5h1M11 22.5h1M18 22.5h1M13 23.5h1M17 23.5h1M20 23.5h1M16 26.5h1M98 26.5h1M23 27.5h1M26 29.5h1M29 31.5h1M49 31.5h1M70 31.5h1M80 31.5h1M97 31.5h1M43 32.5h1M57 32.5h1M64 32.5h2M31 33.5h1M110 33.5h2M33 34.5h1M37 35.5h1M114 36.5h1M49 37.5h1M58 37.5h1M62 37.5h1M78 37.5h1M113 37.5h2M95 38.5h1M99 38.5h1M47 39.5h1M114 39.5h2M98 40.5h1M108 40.5h1M123 40.5h1M105 41.5h1M123 41.5h1M109 42.5h1M123 42.5h1M112 43.5h1M116 44.5h1M125 44.5h1M90 45.5h1M116 45.5h1M125 45.5h1M113 46.5h1M131 48.5h1M119 49.5h1M129 50.5h1M136 50.5h1M126 51.5h1M125 52.5h1M132 52.5h1M130 53.5h1M131 54.5h1M136 54.5h1M134 55.5h1M136 56.5h1M147 57.5h1M149 60.5h1M152 61.5h1M134 62.5h1M145 62.5h1M155 64.5h1M153 65.5h1M152 68.5h1M146 70.5h1M160 70.5h1M156 71.5h1M161 71.5h1M83 72.5h1M150 72.5h1M158 73.5h1M163 74.5h1"/>
<path stroke="#992d80" d="M103 1.5h1M0 4.5h1M3 6.5h1M48 8.5h1M8 9.5h1M1 11.5h1M10 11.5h1M1 16.5h1M3 17.5h1M0 18.5h1M11 18.5h1M96 20.5h1M13 22.5h1M22 24.5h1M28 24.5h1M32 27.5h1M59 30.5h1M34 31.5h1M35 32.5h1M39 32.5h1M34 33.5h1M44 37.5h1M59 37.5h1M68 37.5h1M91 37.5h1M85 38.5h1M88 38.5h1M106 38.5h1M117 39.5h1M107 40.5h1M109 40.5h1M112 40.5h1M114 40.5h2M117 40.5h1M97 42.5h1M110 42.5h1M115 42.5h1M127 42.5h1M106 43.5h1M110 43.5h1M125 43.5h1M115 45.5h1M124 46.5h1M126 46.5h2M61 47.5h1M121 47.5h1M124 48.5h1M130 49.5h1M133 51.5h1M129 53.5h1M137 54.5h1M131 55.5h1M146 55.5h1M135 56.5h1M137 56.5h1M146 58.5h1M126 59.5h1M141 59.5h1M140 60.5h1M147 60.5h1M146 61.5h1M144 62.5h1M150 62.5h1M154 62.5h1M136 63.5h1M150 63.5h1M157 63.5h1M150 64.5h1M143 68.5h1M155 68.5h1M0 69.5h1M159 69.5h1M151 71.5h1M154 72.5h1M163 72.5h1M6 73.5h1M154 73.5h1M161 74.5h1"/>
<path stroke="#9e2f7f" d="M2 0.5h1M4 0.5h1M1 6.5h1M3 7.5h1M3 11.5h1M1 12.5h1M7 13.5h1M16 13.5h1M2 16.5h2M17 18.5h1M4 19.5h2M9 19.5h2M10 20.5h1M8 21.5h1M14 23.5h1M21 25.5h1M21 27.5h1M25 27.5h1M32 28.5h1M152 28.5h1M32 30.5h1M31 31.5h1M50 31.5h1M61 31.5h1M64 31.5h1M95 31.5h1M46 32.5h1M67 32.5h1M69 32.5h1M77 32.5h1M87 32.5h2M63 37.5h1M53 38.5h1M98 38.5h1M107 39.5h1M112 39.5h1M118 39.5h1M117 41.5h2M62 42.5h1M98 42.5h1M126 42.5h1M119 47.5h1M128 47.5h1M131 50.5h1M131 51.5h1M135 52.5h1M142 52.5h1M136 53.5h1M122 54.5h1M139 55.5h1M129 56.5h1M141 57.5h2M145 60.5h1M155 62.5h1M146 64.5h2M157 65.5h1M132 67.5h1M156 67.5h1M158 72.5h1"/>
<path stroke="#a1307e" d="M5 4.5h1M0 5.5h1M0 7.5h1M10 8.5h1M4 9.5h1M7 11.5h2M6 13.5h1M8 18.5h1M28 20.5h1M19 23.5h1M20 24.5h1M28 30.5h1M34 32.5h1M54 32.5h1M76 32.5h1M91 32.5h1M109 33.5h1M36 34.5h1M43 37.5h1M57 37.5h1M65 37.5h1M71 37.5h1M93 37.5h2M115 37.5h1M55 38.5h1M94 38.5h1M103 38.5h1M112 38.5h1M111 39.5h1M106 40.5h1M119 42.5h1M118 43.5h1M120 47.5h1M126 47.5h1M131 47.5h1M125 48.5h1M111 50.5h1M135 51.5h1M137 51.5h1M139 51.5h1M135 54.5h1M138 55.5h1M144 56.5h1M136 57.5h1M145 57.5h1M135 58.5h1M142 58.5h1M161 58.5h1M146 60.5h1M144 61.5h1M147 62.5h1M149 62.5h1M153 63.5h1M138 65.5h1M145 65.5h1M3 66.5h1M154 66.5h1M156 68.5h1M161 68.5h1M157 70.5h1M161 73.5h1M164 73.5h1"/>
<path stroke="#a6317d" d="M101 0.5h1M1 1.5h1M13 1.5h1M1 7.5h1M0 12.5h1M1 15.5h1M4 16.5h1M1 17.5h2M4 17.5h1M3 19.5h1M54 19.5h1M12 20.5h1M10 22.5h1M12 22.5h1M19 22.5h1M16 25.5h1M17 26.5h1M46 27.5h1M23 28.5h1M25 29.5h1M26 30.5h1M31 30.5h1M51 31.5h1M70 32.5h1M36 33.5h1M38 36.5h1M73 37.5h1M83 37.5h1M86 38.5h1M101 38.5h1M111 38.5h1M113 38.5h1M111 40.5h1M120 40.5h1M119 41.5h1M102 42.5h2M116 42.5h2M119 43.5h1M124 44.5h1M126 45.5h1M130 45.5h1M133 46.5h1M124 49.5h1M132 49.5h1M130 50.5h1M140 50.5h1M128 51.5h1M126 52.5h1M136 52.5h1M137 53.5h1M141 53.5h1M132 54.5h1M137 55.5h1M143 56.5h1M148 56.5h1M143 59.5h1M148 59.5h1M153 62.5h1M4 63.5h1M156 64.5h1M158 66.5h1M151 67.5h1M157 68.5h1M159 70.5h1M161 70.5h2M159 71.5h2M149 72.5h1M164 74.5h1"/>
<path stroke="#ab337c" d="M4 7.5h1M2 8.5h1M0 14.5h1M2 15.5h1M3 18.5h2M12 23.5h1M14 24.5h1M17 24.5h1M18 26.5h1M24 28.5h1M28 29.5h1M98 31.5h1M30 32.5h1M62 32.5h1M75 32.5h1M82 32.5h1M103 32.5h1M110 32.5h1M32 33.5h1M38 33.5h1M35 35.5h1M45 37.5h1M47 37.5h1M56 37.5h1M69 37.5h1M82 37.5h1M105 39.5h1M120 39.5h1M114 42.5h1M113 43.5h1M118 46.5h1M135 46.5h1M125 47.5h1M130 48.5h1M128 49.5h1M134 49.5h1M138 49.5h1M135 50.5h1M101 51.5h1M130 52.5h1M128 53.5h1M134 54.5h1M145 56.5h1M159 57.5h1M131 58.5h1M136 58.5h1M143 58.5h1M141 60.5h1M151 63.5h1M148 64.5h1M157 66.5h1M146 67.5h1M162 71.5h1"/>
<path stroke="#ae347b" d="M0 1.5h1M1 2.5h1M1 4.5h1M2 5.5h2M4 10.5h1M2 13.5h1M6 20.5h1M11 23.5h1M74 32.5h1M100 32.5h1M53 37.5h1M61 37.5h1M66 37.5h2M75 37.5h1M77 37.5h1M88 37.5h1M90 37.5h1M64 38.5h1M109 38.5h2M114 38.5h1M103 39.5h1M108 39.5h1M116 39.5h1M116 40.5h1M119 40.5h1M125 41.5h1M108 42.5h1M122 43.5h1M128 46.5h1M134 46.5h1M113 48.5h1M133 48.5h1M142 53.5h2M141 54.5h1M143 54.5h1M141 55.5h1M147 55.5h1M157 56.5h1M140 59.5h1M144 59.5h1M153 61.5h1M156 62.5h1M152 63.5h1M155 63.5h1M142 64.5h1M159 64.5h1M155 65.5h1M159 65.5h1M154 67.5h1M160 68.5h1M164 71.5h1M160 72.5h1M162 72.5h1M162 73.5h2M165 73.5h1"/>
<path stroke="#b3367a" d="M3 4.5h1M1 5.5h1M0 11.5h1M2 14.5h1M23 26.5h1M21 28.5h1M24 29.5h1M30 31.5h1M44 32.5h1M47 32.5h1M72 32.5h1M33 33.5h1M81 37.5h1M89 37.5h1M98 37.5h1M107 37.5h1M109 37.5h1M116 37.5h1M87 38.5h1M113 39.5h1M122 40.5h1M129 43.5h1M124 47.5h1M127 47.5h1M129 47.5h1M135 47.5h1M128 48.5h1M134 48.5h1M148 52.5h1M154 55.5h1M142 59.5h1M149 59.5h1M148 60.5h1M157 60.5h1M147 61.5h1M154 61.5h1M151 62.5h1M145 63.5h1M157 64.5h1M160 64.5h1M152 65.5h1M161 65.5h1M162 74.5h1M169 74.5h1"/>
<path stroke="#b83779" d="M0 0.5h2M0 9.5h1M3 9.5h1M7 21.5h1M32 31.5h1M43 31.5h1M53 31.5h1M31 32.5h1M48 32.5h2M81 32.5h1M96 32.5h2M105 32.5h1M37 34.5h1M86 36.5h1M76 37.5h1M84 37.5h1M87 37.5h1M112 37.5h1M122 41.5h1M123 43.5h1M120 44.5h1M126 44.5h1M133 47.5h1M131 49.5h1M135 49.5h1M146 51.5h1M146 52.5h1M139 53.5h1M148 53.5h1M146 54.5h1M150 56.5h1M156 56.5h1M157 62.5h1M156 63.5h1M158 65.5h1M162 68.5h1M160 69.5h1M161 72.5h1"/>
<path stroke="#bd3977" d="M5 10.5h1M0 16.5h1M5 20.5h1M9 22.5h1M26 27.5h1M33 32.5h1M78 32.5h1M83 32.5h1M102 32.5h1M41 33.5h1M43 33.5h1M91 33.5h1M46 37.5h1M50 37.5h1M111 37.5h1M117 38.5h1M122 42.5h1M128 45.5h1M130 47.5h1M133 49.5h1M140 52.5h2M138 56.5h1M147 56.5h1M151 56.5h1M145 58.5h1M154 58.5h1M151 59.5h1M163 59.5h1M158 61.5h1M152 62.5h1M162 62.5h1M161 64.5h1M152 66.5h1"/>
<path stroke="#c03a76" d="M2 3.5h1M29 30.5h1M58 32.5h1M61 32.5h1M79 32.5h1M94 32.5h1M60 37.5h1M99 37.5h1M119 39.5h1M124 43.5h1M127 45.5h1M122 49.5h1M137 49.5h1M140 49.5h1M130 51.5h1M134 52.5h1M144 53.5h1M142 56.5h1M143 57.5h1M149 57.5h1M150 58.5h1M154 60.5h1M158 62.5h1M158 63.5h1M167 74.5h1"/>
<path stroke="#c53c74" d="M10 5.5h1M28 31.5h1M68 32.5h1M73 32.5h1M92 32.5h1M104 32.5h1M37 33.5h1M39 33.5h1M42 33.5h1M40 36.5h1M72 37.5h1M79 37.5h1M86 37.5h1M107 38.5h1M118 38.5h1M118 40.5h1M125 42.5h1M127 43.5h1M121 44.5h2M130 46.5h1M136 48.5h1M136 49.5h1M141 49.5h1M143 50.5h1M139 52.5h1M150 53.5h1M143 55.5h2M149 58.5h1M150 59.5h1M151 60.5h1M151 61.5h1M156 61.5h1M158 68.5h1M166 73.5h1"/>
<path stroke="#ca3e72" d="M13 24.5h1M15 25.5h1M50 32.5h2M90 32.5h1M95 32.5h1M35 34.5h1M40 35.5h1M85 37.5h1M96 37.5h2M128 43.5h1M129 44.5h1M123 45.5h1M139 48.5h1M127 49.5h1M133 50.5h1M142 51.5h1M138 52.5h1M145 53.5h1M138 54.5h1M145 54.5h1M152 54.5h1M148 55.5h1M154 59.5h1M155 61.5h1M160 62.5h1M163 64.5h1M159 66.5h1M164 67.5h1M162 69.5h1M165 72.5h1M165 74.5h1"/>
<path stroke="#cd4071" d="M0 8.5h1M22 28.5h1M66 32.5h1M93 32.5h1M80 33.5h1M37 36.5h1M64 37.5h1M74 37.5h1M80 37.5h1M106 37.5h1M120 43.5h1M128 44.5h1M132 45.5h1M132 48.5h1M135 48.5h1M144 51.5h1M144 52.5h1M152 56.5h1M154 57.5h1M156 59.5h1M150 60.5h1M158 60.5h1M159 62.5h1M161 62.5h1M160 65.5h1M158 67.5h1M161 67.5h1M157 69.5h1M165 71.5h1M168 73.5h1M166 74.5h1"/>
<path stroke="#d2426f" d="M0 15.5h1M40 33.5h1M38 35.5h1M103 37.5h1M115 38.5h1M131 44.5h1M131 45.5h1M133 45.5h1M132 47.5h1M134 50.5h1M140 51.5h1M139 54.5h1M150 55.5h1M154 56.5h1M148 57.5h1M158 58.5h1M159 59.5h1M152 60.5h1M160 66.5h1M163 68.5h1M164 72.5h1"/>
<path stroke="#d6456c" d="M0 17.5h1M20 27.5h1M56 32.5h1M71 32.5h1M84 32.5h1M96 33.5h1M111 34.5h1M100 37.5h1M102 37.5h1M124 41.5h1M131 46.5h1M134 47.5h1M137 48.5h1M139 49.5h1M141 51.5h1M143 51.5h1M145 52.5h1M158 57.5h1M151 58.5h2M155 59.5h1M153 60.5h1M163 60.5h1"/>
<path stroke="#d9466b" d="M1 8.5h1M1 18.5h1M27 30.5h1M63 32.5h1M80 32.5h1M86 32.5h1M92 33.5h1M101 33.5h2M108 33.5h1M39 34.5h1M36 35.5h1M102 36.5h1M95 37.5h1M105 37.5h1M121 40.5h1M139 50.5h1M146 53.5h1M155 57.5h1M157 61.5h1M163 61.5h1M169 62.5h1M161 63.5h1M163 67.5h1M159 68.5h1M167 73.5h1"/>
<path stroke="#de4968" d="M15 24.5h1M53 32.5h1M55 32.5h1M59 32.5h2M46 33.5h1M67 33.5h1M71 33.5h1M104 37.5h1M121 41.5h1M124 42.5h1M144 54.5h1M157 58.5h1M158 64.5h1M156 65.5h1M162 66.5h1M165 69.5h1"/>
<path stroke="#e24d66" d="M19 26.5h1M44 33.5h1M38 34.5h1M64 36.5h1M84 36.5h1M143 52.5h1M147 54.5h1M157 57.5h1M162 63.5h1M162 64.5h1M161 66.5h1M162 67.5h1M165 68.5h1M164 69.5h1M164 70.5h1M163 71.5h1M167 72.5h1"/>
<path stroke="#e44f64" d="M103 33.5h1M39 36.5h1M88 36.5h1M92 37.5h1M108 37.5h1M130 44.5h1M129 46.5h1M147 53.5h1M153 55.5h1M151 57.5h2M156 57.5h1M167 61.5h1M163 69.5h1M166 72.5h1"/>
<path stroke="#e85362" d="M94 33.5h1M100 33.5h1M107 33.5h1M41 34.5h1M112 35.5h1M94 36.5h1M112 36.5h2M138 50.5h1M138 51.5h1M148 54.5h1M151 54.5h1M153 57.5h1M160 58.5h1M153 59.5h1M163 62.5h1M165 70.5h1"/>
<path stroke="#eb5760" d="M0 6.5h1M89 32.5h1M78 33.5h1M87 33.5h1M106 33.5h1M41 36.5h1M85 36.5h1M110 37.5h1M149 54.5h1M149 56.5h1M155 56.5h1M150 57.5h1M153 58.5h1M155 58.5h1M160 59.5h1M160 60.5h1M161 61.5h2M159 63.5h2M164 65.5h1M161 69.5h1M163 70.5h1M169 72.5h1"/>
<path stroke="#ee5b5e" d="M45 33.5h1M73 33.5h1M104 33.5h1M40 34.5h1M39 35.5h1M73 36.5h1M80 36.5h1M93 36.5h1M132 46.5h1M136 47.5h1M138 48.5h1M137 50.5h1M152 55.5h1M153 56.5h1M159 58.5h1M157 59.5h1M165 62.5h1M166 69.5h1M167 70.5h1M168 71.5h1M168 72.5h1"/>
<path stroke="#f05f5e" d="M72 33.5h1M93 33.5h1M105 33.5h1M54 36.5h1M56 36.5h1M70 36.5h1M87 36.5h1M142 50.5h1M149 53.5h1M149 55.5h1M158 59.5h1M162 59.5h1M161 60.5h1M168 62.5h1M163 63.5h1M165 64.5h1M166 66.5h1"/>
<path stroke="#f2645c" d="M47 33.5h1M89 33.5h1M99 33.5h1M41 35.5h1M67 36.5h1M77 36.5h1M111 36.5h1M137 47.5h1M147 52.5h1M165 61.5h1M164 63.5h1M166 63.5h1M164 68.5h1M169 71.5h1M168 74.5h1"/>
<path stroke="#f4695c" d="M49 33.5h1M84 33.5h1M90 33.5h1M48 36.5h1M68 36.5h1M103 36.5h1M141 50.5h1M137 52.5h1M150 54.5h1M151 55.5h1M164 66.5h1"/>
<path stroke="#f66c5c" d="M61 33.5h1M77 33.5h1M85 33.5h1M110 35.5h1M53 36.5h1M57 36.5h1M76 36.5h1M79 36.5h1M82 36.5h1M91 36.5h1M98 36.5h1M108 36.5h1M145 51.5h1M156 60.5h1M159 61.5h1M162 65.5h1M163 66.5h1M166 68.5h1M167 71.5h1M169 73.5h1"/>
<path stroke="#f7725c" d="M64 33.5h1M68 33.5h1M83 33.5h1M42 34.5h1M65 36.5h2M69 36.5h1M101 37.5h1M159 60.5h1M164 60.5h1"/>
<path stroke="#f9785d" d="M63 33.5h1M76 33.5h1M98 33.5h1M45 36.5h1M49 36.5h1M78 36.5h1M161 59.5h1M166 64.5h1M165 67.5h1M166 71.5h1"/>
<path stroke="#f97b5d" d="M52 33.5h1M55 33.5h1M81 33.5h2M86 33.5h1M88 33.5h1M95 33.5h1M78 35.5h1M50 36.5h3M58 36.5h2M89 36.5h1M107 36.5h1M156 58.5h1M168 70.5h1"/>
<path stroke="#fa815f" d="M56 33.5h1M70 33.5h1M74 33.5h1M97 33.5h1M75 34.5h1M110 34.5h1M55 36.5h1M62 36.5h1M75 36.5h1M81 36.5h1M167 62.5h1M164 64.5h1M167 64.5h1M166 67.5h1M168 69.5h1"/>
<path stroke="#fb8761" d="M57 33.5h1M59 33.5h1M75 33.5h1M111 35.5h1M60 36.5h2M74 36.5h1M83 36.5h1M90 36.5h1M92 36.5h1M106 36.5h1M110 36.5h1M162 60.5h1M166 62.5h1M166 65.5h1M168 67.5h1"/>
<path stroke="#fc8c63" d="M58 33.5h1M69 33.5h1M79 33.5h1M43 35.5h1M42 36.5h1M97 36.5h1M166 61.5h1M165 65.5h1M165 66.5h1M167 68.5h1M169 69.5h1"/>
<path stroke="#fc9065" d="M51 33.5h1M54 33.5h1M60 33.5h1M66 33.5h1M43 34.5h1M76 34.5h2M96 36.5h1M100 36.5h1M167 67.5h1M169 67.5h1M169 70.5h1"/>
<path stroke="#fd9668" d="M48 33.5h1M50 33.5h1M44 34.5h1M73 34.5h1M79 34.5h1M63 36.5h1M164 61.5h1M164 62.5h1M165 63.5h1M167 63.5h1M169 63.5h1M169 64.5h1M167 69.5h1"/>
<path stroke="#fd9b6b" d="M53 33.5h1M65 33.5h1M45 34.5h1M72 34.5h1M85 34.5h1M109 34.5h1M68 35.5h1M82 35.5h1M43 36.5h2M95 36.5h1M99 36.5h1M105 36.5h1M167 66.5h1"/>
<path stroke="#fe9f6d" d="M65 34.5h1M55 35.5h1M83 35.5h1M72 36.5h1M163 65.5h1M168 68.5h1"/>
<path stroke="#fea571" d="M62 33.5h1M87 34.5h1M92 34.5h1M94 34.5h1M80 35.5h1M71 36.5h1M104 36.5h1M109 36.5h1M167 65.5h1M166 70.5h1"/>
<path stroke="#feaa74" d="M46 34.5h1M56 34.5h1M62 34.5h2M86 34.5h1M95 34.5h1M98 34.5h1M59 35.5h1M85 35.5h1M90 35.5h1M97 35.5h1M46 36.5h1M168 63.5h1M168 64.5h1"/>
<path stroke="#feae77" d="M91 34.5h1M107 34.5h1M42 35.5h1M65 35.5h1M70 35.5h1M81 35.5h1M168 66.5h1"/>
<path stroke="#feb47b" d="M58 34.5h1M61 34.5h1M80 34.5h1M93 34.5h1M53 35.5h1M62 35.5h1M69 35.5h1M77 35.5h1M91 35.5h1M160 61.5h1"/>
<path stroke="#feb97f" d="M54 34.5h1M71 34.5h1M78 34.5h1M82 34.5h1M108 34.5h1M50 35.5h1M63 35.5h1M75 35.5h1M79 35.5h1M84 35.5h1M86 35.5h1M88 35.5h1M93 35.5h1M100 35.5h1M108 35.5h1"/>
<path stroke="#febd82" d="M47 34.5h1M49 34.5h1M68 34.5h1M70 34.5h1M84 34.5h1M90 34.5h1M66 35.5h2M72 35.5h1M76 35.5h1M87 35.5h1M89 35.5h1M106 35.5h1M169 66.5h1"/>
<path stroke="#fec287" d="M51 34.5h1M59 34.5h1M74 34.5h1M102 34.5h1M52 35.5h1M74 35.5h1M95 35.5h1M47 36.5h1"/>
<path stroke="#fec88c" d="M88 34.5h1M61 35.5h1M73 35.5h1M169 68.5h1"/>
<path stroke="#fecd90" d="M89 34.5h1M99 34.5h1M44 35.5h1M60 35.5h1M64 35.5h1M92 35.5h1M94 35.5h1M98 35.5h1M101 36.5h1"/>
<path stroke="#fed194" d="M48 34.5h1M53 34.5h1M67 34.5h1M101 34.5h1M45 35.5h1M107 35.5h1M168 65.5h2"/>
<path stroke="#fed799" d="M55 34.5h1M100 34.5h1M54 35.5h1M101 35.5h1M103 35.5h1"/>
<path stroke="#fddc9e" d="M97 34.5h1M96 35.5h1M105 35.5h1"/>
<path stroke="#fde0a1" d="M50 34.5h1M64 34.5h1M69 34.5h1M104 34.5h2M99 35.5h1M102 35.5h1"/>
<path stroke="#fde5a7" d="M103 34.5h1M58 35.5h1"/>
<path stroke="#fdebac" d="M52 34.5h1M60 34.5h1M83 34.5h1M106 34.5h1M48 35.5h2M71 35.5h1"/>
<path stroke="#fceeb0" d="M66 34.5h1M46 35.5h1"/>
<path stroke="#fcf4b6" d="M47 35.5h1M104 35.5h1M109 35.5h1"/>
<path stroke="#fcfdbf" d="M57 34.5h1M81 34.5h1M96 34.5h1M51 35.5h1M56 35.5h2"/>
</g>
</g></g>
<path d="M63.8 113.8 L118.8 167 L131.3 283.3" stroke="#d9c0f2" stroke-opacity="0.62" stroke-width="2.1" fill="none"/>
<path d="M215.3 64 L231.1 161 L295.5 222.3" stroke="#d9c0f2" stroke-opacity="0.62" stroke-width="2.1" fill="none"/>
<rect x="63.5" y="57.5" width="255.0" height="226.0" fill="none" stroke="#231f20" stroke-width="0.8"/>
<line x1="57.80" y1="75.30" x2="63.50" y2="75.30" stroke="#231f20" stroke-width="0.8" />
<text x="52.2" y="78.9" font-size="10.5" text-anchor="end" fill="#231f20" textLength="26.9" lengthAdjust="spacingAndGlyphs" >1.082</text>
<line x1="57.80" y1="120.85" x2="63.50" y2="120.85" stroke="#231f20" stroke-width="0.8" />
<text x="52.2" y="124.5" font-size="10.5" text-anchor="end" fill="#231f20" textLength="26.9" lengthAdjust="spacingAndGlyphs" >1.080</text>
<line x1="57.80" y1="166.40" x2="63.50" y2="166.40" stroke="#231f20" stroke-width="0.8" />
<text x="52.2" y="170.0" font-size="10.5" text-anchor="end" fill="#231f20" textLength="26.9" lengthAdjust="spacingAndGlyphs" >1.078</text>
<line x1="57.80" y1="211.95" x2="63.50" y2="211.95" stroke="#231f20" stroke-width="0.8" />
<text x="52.2" y="215.6" font-size="10.5" text-anchor="end" fill="#231f20" textLength="26.9" lengthAdjust="spacingAndGlyphs" >1.076</text>
<line x1="57.80" y1="257.50" x2="63.50" y2="257.50" stroke="#231f20" stroke-width="0.8" />
<text x="52.2" y="261.1" font-size="10.5" text-anchor="end" fill="#231f20" textLength="26.9" lengthAdjust="spacingAndGlyphs" >1.074</text>
<line x1="63.50" y1="283.50" x2="63.50" y2="288.70" stroke="#231f20" stroke-width="0.8" />
<line x1="109.70" y1="283.50" x2="109.70" y2="288.70" stroke="#231f20" stroke-width="0.8" />
<text x="109.7" y="302.4" font-size="10.5" text-anchor="middle" fill="#231f20" textLength="29.4" lengthAdjust="spacingAndGlyphs" >0.682</text>
<line x1="210.30" y1="283.50" x2="210.30" y2="288.70" stroke="#231f20" stroke-width="0.8" />
<text x="210.3" y="302.4" font-size="10.5" text-anchor="middle" fill="#231f20" textLength="29.4" lengthAdjust="spacingAndGlyphs" >0.686</text>
<line x1="311.60" y1="283.50" x2="311.60" y2="288.70" stroke="#231f20" stroke-width="0.8" />
<text x="311.6" y="302.4" font-size="10.5" text-anchor="middle" fill="#231f20" textLength="29.4" lengthAdjust="spacingAndGlyphs" >0.690</text>
<text x="191" y="323" font-size="12.5" text-anchor="middle" fill="#231f20"><tspan font-style="italic">V</tspan><tspan font-size="7.5" dy="3">G<tspan font-size="5.5" dy="1.5">1</tspan></tspan><tspan dy="-4.5"> (V)</tspan></text>
<text transform="translate(10.8,170.5) rotate(-90)" font-size="12.5" text-anchor="middle" fill="#231f20"><tspan font-style="italic">V</tspan><tspan font-size="7.5" dy="3">G<tspan font-size="5.5" dy="1.5">2</tspan></tspan><tspan dy="-4.5"> (V)</tspan></text>
<text x="106.3" y="93.5" font-size="11.5" text-anchor="middle" fill="#ffffff" textLength="20.5" lengthAdjust="spacingAndGlyphs" >(1,1)</text>
<text x="268.0" y="112.0" font-size="11.5" text-anchor="middle" fill="#ffffff" textLength="23.2" lengthAdjust="spacingAndGlyphs" >(1,2)</text>
<text x="89.2" y="245.0" font-size="11.5" text-anchor="middle" fill="#ffffff" textLength="23.2" lengthAdjust="spacingAndGlyphs" >(0,1)</text>
<text x="230.8" y="243.5" font-size="11.5" text-anchor="middle" fill="#ffffff" textLength="25.9" lengthAdjust="spacingAndGlyphs" >(0,2)</text>
<text x="69.5" y="183.5" font-size="10.5" text-anchor="middle" fill="#ffffff" >E</text>
<text x="183.7" y="153.0" font-size="10.5" text-anchor="middle" fill="#ffffff" >M</text>
<text x="183.7" y="212.5" font-size="10.5" text-anchor="middle" fill="#ffffff" >I</text>
<text x="205.4" y="119.5" font-size="10.5" text-anchor="middle" fill="#ffffff" >ε</text>
<line x1="69.5" y1="193.5" x2="183.7" y2="193.5" stroke="#fff" stroke-width="1.8"/>
<path d="M124 190.8 L130 193.5 L124 196.2 Z" fill="#fff"/>
<circle cx="69.5" cy="193.5" r="3.2" fill="#fff"/>
<circle cx="183.7" cy="193.5" r="3.2" fill="#fff"/>
<line x1="183.7" y1="193.5" x2="183.7" y2="162.4" stroke="#fff" stroke-width="1.8"/>
<path d="M181 177 L183.7 171 L186.4 177 Z" fill="#fff"/>
<circle cx="183.7" cy="162.4" r="3.2" fill="#fff"/>
<line x1="205.4" y1="197.3" x2="205.4" y2="128" stroke="#fff" stroke-width="2.1" stroke-dasharray="4.6 2.6"/>
<path d="M202.5 130 L205.4 122.5 L208.3 130 Z" fill="#fff"/>
<text x="-0.5" y="32.6" font-size="17.5" font-weight="bold" fill="#000">a</text>
<defs><clipPath id="clb"><rect x="75.5" y="357.5" width="236.0" height="156.5"/></clipPath></defs>
<g clip-path="url(#clb)">
<path d="M74.4 498.0 L75.3 497.0 L76.3 500.5 L77.2 504.1 L78.2 503.0 L79.2 504.2 L80.1 497.6 L81.1 491.5 L82.0 500.1 L83.0 501.7 L83.9 495.9 L84.9 495.6 L85.8 498.3 L86.8 503.2 L87.7 498.7 L88.7 496.0 L89.6 505.3 L90.6 504.5 L91.5 510.6 L92.5 509.6 L93.4 510.0 L94.4 503.0 L95.4 505.0 L96.3 497.9 L97.3 497.1 L98.2 501.8 L99.2 512.6 L100.1 503.9 L101.1 498.7 L102.0 499.1 L103.0 506.7 L103.9 503.4 L104.9 504.7 L105.8 502.1 L106.8 493.8 L107.7 500.9 L108.7 497.8 L109.6 493.5 L110.6 499.9 L111.6 498.7 L112.5 497.0 L113.5 498.4 L114.4 504.0 L115.4 496.8 L116.3 491.6 L117.3 503.1 L118.2 494.2 L119.2 496.3 L120.1 498.1 L121.1 486.0 L122.0 491.9 L123.0 502.5 L123.9 497.2 L124.9 492.8 L125.8 496.3 L126.8 493.2 L127.7 495.4 L128.7 491.3 L129.7 488.6 L130.6 498.1 L131.6 496.5 L132.5 498.4 L133.5 497.4 L134.4 503.1 L135.4 500.7 L136.3 496.6 L137.3 489.7 L138.2 489.9 L139.2 502.4 L140.1 500.6 L141.1 495.1 L142.0 505.9 L143.0 500.1 L143.9 494.6 L144.9 487.3 L145.9 489.8 L146.8 495.9 L147.8 497.0 L148.7 494.1 L149.7 486.3 L150.6 494.4 L151.6 494.9 L152.5 491.4 L153.5 492.9 L154.4 498.2 L155.4 497.5 L156.3 492.5 L157.3 491.0 L158.2 482.8 L159.2 485.9 L160.1 485.7 L161.1 482.8 L162.1 484.2 L163.0 477.9 L164.0 479.3 L164.9 477.5 L165.9 482.0 L166.8 476.2 L167.8 481.1 L168.7 479.8 L169.7 469.6 L170.6 466.0 L171.6 456.3 L172.5 445.5 L173.5 452.0 L174.4 448.5 L175.4 440.2 L176.3 434.2 L177.3 431.5 L178.3 426.3 L179.2 418.3 L180.2 414.2 L181.1 413.4 L182.1 406.3 L183.0 401.1 L184.0 398.5 L184.9 391.6 L185.9 388.5 L186.8 381.1 L187.8 378.7 L188.7 376.6 L189.7 375.5 L190.6 373.6 L191.6 375.7 L192.5 373.0 L193.5 365.4 L194.5 373.9 L195.4 370.6 L196.4 375.3 L197.3 373.7 L198.3 377.9 L199.2 378.2 L200.2 383.2 L201.1 390.2 L202.1 388.0 L203.0 391.1 L204.0 400.0 L204.9 406.4 L205.9 411.8 L206.8 418.2 L207.8 418.3 L208.7 427.1 L209.7 432.3 L210.7 439.5 L211.6 445.0 L212.6 450.0 L213.5 446.2 L214.5 452.9 L215.4 454.2 L216.4 461.6 L217.3 468.8 L218.3 471.3 L219.2 474.5 L220.2 475.2 L221.1 478.8 L222.1 482.3 L223.0 489.0 L224.0 486.5 L224.9 477.6 L225.9 488.6 L226.9 492.8 L227.8 486.0 L228.8 483.0 L229.7 496.3 L230.7 494.2 L231.6 497.0 L232.6 501.2 L233.5 490.5 L234.5 492.0 L235.4 470.5 L236.4 497.0 L237.3 492.8 L238.3 496.6 L239.2 497.0 L240.2 502.1 L241.1 501.0 L242.1 489.6 L243.1 495.8 L244.0 494.1 L245.0 495.6 L245.9 513.5 L246.9 498.0 L247.8 493.1 L248.8 496.8 L249.7 496.9 L250.7 494.5 L251.6 488.7 L252.6 490.5 L253.5 493.9 L254.5 500.5 L255.4 503.4 L256.4 491.7 L257.3 490.2 L258.3 495.5 L259.3 492.9 L260.2 490.8 L261.2 490.2 L262.1 491.3 L263.1 496.5 L264.0 490.6 L265.0 501.0 L265.9 493.2 L266.9 492.4 L267.8 489.6 L268.8 484.2 L269.7 488.3 L270.7 503.8 L271.6 507.0 L272.6 496.1 L273.5 502.1 L274.5 497.8 L275.4 494.9 L276.4 508.1 L277.4 510.8 L278.3 498.7 L279.3 518.8 L280.2 499.0 L281.2 498.9 L282.1 504.3 L283.1 507.3 L284.0 501.7 L285.0 505.4 L285.9 507.5 L286.9 497.2 L287.8 497.3 L288.8 497.0 L289.7 503.8 L290.7 504.0 L291.6 505.4 L292.6 503.9 L293.6 499.0 L294.5 501.8 L295.5 496.7 L296.4 493.5 L297.4 488.3 L298.3 502.4 L299.3 495.1 L300.2 497.7 L301.2 500.1 L302.1 506.8 L303.1 501.6 L304.0 494.9 L305.0 497.8 L305.9 498.3 L306.9 498.5 L307.8 492.4 L308.8 499.7 L309.8 511.2 L310.7 507.0 L311.7 513.8 L312.6 518.5" fill="none" stroke="#4b0f83" stroke-width="3.9" stroke-linejoin="round" stroke-linecap="round"/>
<path d="M72.6 498.4 L73.2 498.4 L73.8 498.4 L74.4 498.4 L75.0 498.4 L75.6 498.4 L76.2 498.3 L76.8 498.3 L77.4 498.3 L78.0 498.3 L78.6 498.3 L79.2 498.3 L79.8 498.3 L80.4 498.3 L81.0 498.3 L81.6 498.3 L82.3 498.3 L82.9 498.3 L83.5 498.3 L84.1 498.3 L84.7 498.3 L85.3 498.3 L85.9 498.2 L86.5 498.2 L87.1 498.2 L87.7 498.2 L88.3 498.2 L88.9 498.2 L89.5 498.2 L90.1 498.2 L90.7 498.2 L91.3 498.2 L92.0 498.2 L92.6 498.1 L93.2 498.1 L93.8 498.1 L94.4 498.1 L95.0 498.1 L95.6 498.1 L96.2 498.1 L96.8 498.1 L97.4 498.0 L98.0 498.0 L98.6 498.0 L99.2 498.0 L99.8 498.0 L100.4 498.0 L101.0 497.9 L101.7 497.9 L102.3 497.9 L102.9 497.9 L103.5 497.9 L104.1 497.8 L104.7 497.8 L105.3 497.8 L105.9 497.8 L106.5 497.8 L107.1 497.7 L107.7 497.7 L108.3 497.7 L108.9 497.7 L109.5 497.6 L110.1 497.6 L110.7 497.6 L111.4 497.6 L112.0 497.5 L112.6 497.5 L113.2 497.5 L113.8 497.5 L114.4 497.4 L115.0 497.4 L115.6 497.4 L116.2 497.3 L116.8 497.3 L117.4 497.3 L118.0 497.2 L118.6 497.2 L119.2 497.2 L119.8 497.1 L120.4 497.1 L121.1 497.1 L121.7 497.0 L122.3 497.0 L122.9 496.9 L123.5 496.9 L124.1 496.9 L124.7 496.8 L125.3 496.8 L125.9 496.7 L126.5 496.7 L127.1 496.6 L127.7 496.6 L128.3 496.5 L128.9 496.5 L129.5 496.5 L130.1 496.4 L130.8 496.4 L131.4 496.3 L132.0 496.3 L132.6 496.2 L133.2 496.1 L133.8 496.1 L134.4 496.0 L135.0 496.0 L135.6 495.9 L136.2 495.9 L136.8 495.8 L137.4 495.8 L138.0 495.7 L138.6 495.6 L139.2 495.6 L139.8 495.5 L140.5 495.4 L141.1 495.4 L141.7 495.3 L142.3 495.2 L142.9 495.1 L143.5 495.0 L144.1 494.9 L144.7 494.9 L145.3 494.8 L145.9 494.6 L146.5 494.5 L147.1 494.4 L147.7 494.3 L148.3 494.2 L148.9 494.0 L149.5 493.8 L150.2 493.7 L150.8 493.5 L151.4 493.3 L152.0 493.1 L152.6 492.8 L153.2 492.5 L153.8 492.3 L154.4 491.9 L155.0 491.6 L155.6 491.2 L156.2 490.8 L156.8 490.3 L157.4 489.9 L158.0 489.3 L158.6 488.7 L159.2 488.1 L159.9 487.4 L160.5 486.7 L161.1 485.8 L161.7 485.0 L162.3 484.0 L162.9 483.0 L163.5 481.9 L164.1 480.7 L164.7 479.4 L165.3 478.1 L165.9 476.6 L166.5 475.1 L167.1 473.4 L167.7 471.7 L168.3 469.8 L168.9 467.9 L169.6 465.8 L170.2 463.7 L170.8 461.4 L171.4 459.0 L172.0 456.6 L172.6 454.0 L173.2 451.3 L173.8 448.6 L174.4 445.7 L175.0 442.8 L175.6 439.8 L176.2 436.7 L176.8 433.6 L177.4 430.4 L178.0 427.2 L178.6 423.9 L179.3 420.6 L179.9 417.3 L180.5 414.0 L181.1 410.7 L181.7 407.5 L182.3 404.3 L182.9 401.1 L183.5 398.1 L184.1 395.1 L184.7 392.2 L185.3 389.4 L185.9 386.8 L186.5 384.3 L187.1 382.0 L187.7 379.8 L188.3 377.8 L189.0 376.0 L189.6 374.4 L190.2 373.1 L190.8 371.9 L191.4 370.9 L192.0 370.2 L192.6 369.8 L193.2 369.5 L193.8 369.5 L194.4 369.8 L195.0 370.2 L195.6 370.9 L196.2 371.9 L196.8 373.1 L197.4 374.4 L198.0 376.0 L198.7 377.8 L199.3 379.8 L199.9 382.0 L200.5 384.3 L201.1 386.8 L201.7 389.4 L202.3 392.2 L202.9 395.1 L203.5 398.1 L204.1 401.1 L204.7 404.3 L205.3 407.5 L205.9 410.7 L206.5 414.0 L207.1 417.3 L207.7 420.6 L208.4 423.9 L209.0 427.2 L209.6 430.4 L210.2 433.6 L210.8 436.7 L211.4 439.8 L212.0 442.8 L212.6 445.7 L213.2 448.6 L213.8 451.3 L214.4 454.0 L215.0 456.6 L215.6 459.0 L216.2 461.4 L216.8 463.7 L217.4 465.8 L218.1 467.9 L218.7 469.8 L219.3 471.7 L219.9 473.4 L220.5 475.1 L221.1 476.6 L221.7 478.1 L222.3 479.4 L222.9 480.7 L223.5 481.9 L224.1 483.0 L224.7 484.0 L225.3 485.0 L225.9 485.8 L226.5 486.7 L227.1 487.4 L227.8 488.1 L228.4 488.7 L229.0 489.3 L229.6 489.9 L230.2 490.3 L230.8 490.8 L231.4 491.2 L232.0 491.6 L232.6 491.9 L233.2 492.3 L233.8 492.5 L234.4 492.8 L235.0 493.1 L235.6 493.3 L236.2 493.5 L236.8 493.7 L237.5 493.8 L238.1 494.0 L238.7 494.2 L239.3 494.3 L239.9 494.4 L240.5 494.5 L241.1 494.6 L241.7 494.8 L242.3 494.9 L242.9 494.9 L243.5 495.0 L244.1 495.1 L244.7 495.2 L245.3 495.3 L245.9 495.4 L246.5 495.4 L247.2 495.5 L247.8 495.6 L248.4 495.6 L249.0 495.7 L249.6 495.8 L250.2 495.8 L250.8 495.9 L251.4 495.9 L252.0 496.0 L252.6 496.0 L253.2 496.1 L253.8 496.1 L254.4 496.2 L255.0 496.3 L255.6 496.3 L256.2 496.4 L256.9 496.4 L257.5 496.5 L258.1 496.5 L258.7 496.5 L259.3 496.6 L259.9 496.6 L260.5 496.7 L261.1 496.7 L261.7 496.8 L262.3 496.8 L262.9 496.9 L263.5 496.9 L264.1 496.9 L264.7 497.0 L265.3 497.0 L265.9 497.1 L266.6 497.1 L267.2 497.1 L267.8 497.2 L268.4 497.2 L269.0 497.2 L269.6 497.3 L270.2 497.3 L270.8 497.3 L271.4 497.4 L272.0 497.4 L272.6 497.4 L273.2 497.5 L273.8 497.5 L274.4 497.5 L275.0 497.5 L275.6 497.6 L276.3 497.6 L276.9 497.6 L277.5 497.6 L278.1 497.7 L278.7 497.7 L279.3 497.7 L279.9 497.7 L280.5 497.8 L281.1 497.8 L281.7 497.8 L282.3 497.8 L282.9 497.8 L283.5 497.9 L284.1 497.9 L284.7 497.9 L285.3 497.9 L286.0 497.9 L286.6 498.0 L287.2 498.0 L287.8 498.0 L288.4 498.0 L289.0 498.0 L289.6 498.0 L290.2 498.1 L290.8 498.1 L291.4 498.1 L292.0 498.1 L292.6 498.1 L293.2 498.1 L293.8 498.1 L294.4 498.1 L295.0 498.2 L295.7 498.2 L296.3 498.2 L296.9 498.2 L297.5 498.2 L298.1 498.2 L298.7 498.2 L299.3 498.2 L299.9 498.2 L300.5 498.2 L301.1 498.2 L301.7 498.3 L302.3 498.3 L302.9 498.3 L303.5 498.3 L304.1 498.3 L304.7 498.3 L305.4 498.3 L306.0 498.3 L306.6 498.3 L307.2 498.3 L307.8 498.3 L308.4 498.3 L309.0 498.3 L309.6 498.3 L310.2 498.3 L310.8 498.3 L311.4 498.4 L312.0 498.4 L312.6 498.4 L313.2 498.4 L313.8 498.4 L314.4 498.4" fill="none" stroke="#f4895d" stroke-width="1.9" stroke-dasharray="3.6 2.2"/>
</g>
<rect x="75.5" y="357.5" width="236.0" height="156.5" fill="none" stroke="#5a5a5a" stroke-width="1"/>
<line x1="70.20" y1="374.23" x2="75.50" y2="374.23" stroke="#231f20" stroke-width="0.8" />
<text x="64.3" y="377.8" font-size="10.5" text-anchor="end" fill="#231f20" textLength="13.4" lengthAdjust="spacingAndGlyphs" >60</text>
<line x1="70.20" y1="409.32" x2="75.50" y2="409.32" stroke="#231f20" stroke-width="0.8" />
<text x="64.3" y="412.9" font-size="10.5" text-anchor="end" fill="#231f20" textLength="13.4" lengthAdjust="spacingAndGlyphs" >40</text>
<line x1="70.20" y1="444.41" x2="75.50" y2="444.41" stroke="#231f20" stroke-width="0.8" />
<text x="64.3" y="448.0" font-size="10.5" text-anchor="end" fill="#231f20" textLength="13.4" lengthAdjust="spacingAndGlyphs" >20</text>
<line x1="70.20" y1="479.50" x2="75.50" y2="479.50" stroke="#231f20" stroke-width="0.8" />
<text x="64.3" y="483.1" font-size="10.5" text-anchor="end" fill="#231f20" textLength="6.7" lengthAdjust="spacingAndGlyphs" >0</text>
<line x1="70.20" y1="514.59" x2="75.50" y2="514.59" stroke="#231f20" stroke-width="0.8" />
<text x="64.3" y="518.2" font-size="10.5" text-anchor="end" fill="#231f20" textLength="18.6" lengthAdjust="spacingAndGlyphs" >−20</text>
<line x1="120.20" y1="514.00" x2="120.20" y2="519.00" stroke="#231f20" stroke-width="0.8" />
<text x="120.2" y="533.2" font-size="10.5" text-anchor="middle" fill="#231f20" textLength="21.3" lengthAdjust="spacingAndGlyphs" >−0.2</text>
<line x1="193.50" y1="514.00" x2="193.50" y2="519.00" stroke="#231f20" stroke-width="0.8" />
<text x="193.5" y="533.2" font-size="10.5" text-anchor="middle" fill="#231f20" textLength="6.7" lengthAdjust="spacingAndGlyphs" >0</text>
<line x1="266.80" y1="514.00" x2="266.80" y2="519.00" stroke="#231f20" stroke-width="0.8" />
<text x="266.8" y="533.2" font-size="10.5" text-anchor="middle" fill="#231f20" textLength="16.0" lengthAdjust="spacingAndGlyphs" >0.2</text>
<text x="193.8" y="552.6" font-size="12.5" text-anchor="middle" fill="#231f20">Detuning, <tspan font-style="italic">ε</tspan> (meV)</text>
<text transform="translate(37.6,436) rotate(-90)" font-size="12.5" text-anchor="middle" fill="#231f20"><tspan font-style="italic">V</tspan><tspan font-size="8" dy="3">rf</tspan><tspan dy="-3"> (mV)</tspan></text>
<text x="120.3" y="427.2" font-size="12" text-anchor="middle" fill="#231f20" textLength="27.1" lengthAdjust="spacingAndGlyphs" >(0,2)</text>
<text x="250.3" y="427.2" font-size="12" text-anchor="middle" fill="#231f20" textLength="21.4" lengthAdjust="spacingAndGlyphs" >(1,1)</text>
<line x1="223.00" y1="371.00" x2="230.80" y2="371.00" stroke="#c03d7d" stroke-width="1.5" />
<line x1="223.00" y1="498.20" x2="230.80" y2="498.20" stroke="#c03d7d" stroke-width="1.5" />
<line x1="226.90" y1="376.00" x2="226.90" y2="493.50" stroke="#c03d7d" stroke-width="1.8" />
<path d="M226.9 372.4 L223.70000000000002 379.2 L226.9 377.4 L230.1 379.2 Z" fill="#c03d7d"/>
<path d="M226.9 496.8 L223.70000000000002 490.0 L226.9 491.8 L230.1 490.0 Z" fill="#c03d7d"/>
<text x="239.6" y="390" font-size="12.5" fill="#c03d7d">S<tspan font-size="8.5" dy="3">rf</tspan></text>
<text x="133.2" y="465" font-size="12.5" fill="#c03d7d"><tspan font-style="italic">σ</tspan><tspan font-size="8.5" dy="3">rf</tspan></text>
<line x1="139.10" y1="472.70" x2="139.10" y2="485.00" stroke="#c03d7d" stroke-width="1.8" />
<path d="M139.1 489 L135.9 482.2 L139.1 484.0 L142.29999999999998 482.2 Z" fill="#c03d7d"/>
<line x1="135.30" y1="489.80" x2="142.90" y2="489.80" stroke="#c03d7d" stroke-width="1.4" />
<line x1="135.30" y1="498.20" x2="142.90" y2="498.20" stroke="#c03d7d" stroke-width="1.4" />
<line x1="139.10" y1="503.00" x2="139.10" y2="513.70" stroke="#c03d7d" stroke-width="1.8" />
<path d="M139.1 499 L135.9 505.8 L139.1 504.0 L142.29999999999998 505.8 Z" fill="#c03d7d"/>
<text x="26" y="353.6" font-size="17.5" font-weight="bold" fill="#000">b</text>
<rect x="92.9" y="623.3" width="119.1" height="9.1" fill="url(#cbar)" stroke="#231f20" stroke-width="0.8"/>
<line x1="92.90" y1="617.00" x2="92.90" y2="623.30" stroke="#231f20" stroke-width="0.8" />
<text x="92.9" y="610.3" font-size="10.5" text-anchor="middle" fill="#231f20" textLength="6.7" lengthAdjust="spacingAndGlyphs" >0</text>
<line x1="152.45" y1="617.00" x2="152.45" y2="623.30" stroke="#231f20" stroke-width="0.8" />
<text x="152.4" y="610.3" font-size="10.5" text-anchor="middle" fill="#231f20" textLength="13.4" lengthAdjust="spacingAndGlyphs" >50</text>
<line x1="212.00" y1="617.00" x2="212.00" y2="623.30" stroke="#231f20" stroke-width="0.8" />
<text x="212.0" y="610.3" font-size="10.5" text-anchor="middle" fill="#231f20" textLength="17.6" lengthAdjust="spacingAndGlyphs" >100</text>
<text x="152" y="589.3" font-size="12.5" text-anchor="middle" fill="#231f20"><tspan font-style="italic">V</tspan><tspan font-size="8.5" dy="3">rf</tspan><tspan dy="-3"> (mV)</tspan></text>
<defs><clipPath id="clc"><rect x="93.5" y="638.5" width="237.0" height="190.0"/></clipPath><filter id="blc" x="0" y="0" width="1" height="1"><feGaussianBlur stdDeviation="0.9 0.45"/></filter></defs>
<g clip-path="url(#clc)"><g filter="url(#blc)">
<g transform="translate(93.5,638.5) scale(3.0,1.4960629921259843)" fill="none" stroke-width="1.02" shape-rendering="crispEdges">
<path stroke="#19103f" d="M10 7.5h1M11 126.5h1"/>
<path stroke="#1d1147" d="M5 9.5h1M6 10.5h1M54 11.5h1M74 24.5h1M62 31.5h1M10 36.5h1M8 38.5h1M76 44.5h1M61 48.5h1M8 51.5h1M59 59.5h1M61 66.5h1M61 67.5h1M56 68.5h1M55 72.5h1M58 82.5h1M71 86.5h1M75 88.5h1M58 92.5h1M11 118.5h1"/>
<path stroke="#21114e" d="M1 0.5h1M57 0.5h1M21 4.5h1M76 5.5h1M70 7.5h1M51 12.5h1M6 19.5h1M76 20.5h1M58 21.5h1M1 28.5h1M78 40.5h1M76 42.5h1M12 43.5h1M76 43.5h1M69 44.5h1M58 49.5h1M7 55.5h1M62 65.5h1M71 65.5h1M7 66.5h1M76 69.5h1M2 75.5h1M71 76.5h1M75 76.5h1M62 83.5h1M68 84.5h1M66 85.5h1M66 88.5h1M54 99.5h1M69 108.5h1M7 113.5h1M3 114.5h1M0 119.5h1M2 119.5h1M78 121.5h1"/>
<path stroke="#241253" d="M6 0.5h1M64 0.5h1M68 0.5h1M8 2.5h1M62 2.5h1M67 2.5h1M61 3.5h1M48 4.5h1M73 4.5h1M9 7.5h1M67 8.5h1M77 10.5h1M56 12.5h1M3 13.5h1M77 13.5h1M74 15.5h1M54 17.5h1M15 21.5h1M26 21.5h1M71 22.5h1M62 23.5h1M75 23.5h1M52 26.5h1M19 27.5h1M5 28.5h1M50 28.5h1M58 28.5h1M69 28.5h1M76 28.5h1M16 29.5h1M12 30.5h1M48 30.5h1M65 30.5h1M2 31.5h1M6 31.5h1M59 32.5h1M64 32.5h1M51 34.5h1M68 34.5h1M2 35.5h1M70 37.5h1M76 41.5h1M7 43.5h1M25 43.5h1M62 43.5h1M65 50.5h1M46 51.5h1M64 51.5h2M60 53.5h1M62 53.5h1M6 54.5h1M75 54.5h1M10 55.5h1M65 55.5h1M8 58.5h1M51 59.5h1M9 60.5h1M78 60.5h1M6 65.5h1M70 67.5h1M72 67.5h1M74 71.5h1M14 72.5h1M61 74.5h1M76 75.5h1M12 76.5h1M61 78.5h1M67 78.5h1M72 79.5h1M64 81.5h1M11 85.5h1M13 85.5h1M56 89.5h1M57 91.5h1M71 96.5h1M7 97.5h1M56 97.5h1M65 97.5h2M17 102.5h1M55 106.5h1M74 106.5h1M18 108.5h1M4 109.5h1M11 111.5h1M64 111.5h1M65 113.5h1M61 114.5h1M66 114.5h1M74 118.5h1M3 119.5h1M9 121.5h1M2 122.5h1M64 122.5h1M64 126.5h1"/>
<path stroke="#29115a" d="M36 0.5h1M60 0.5h1M0 1.5h1M74 1.5h1M73 2.5h1M68 3.5h1M2 6.5h1M0 7.5h1M59 7.5h1M73 8.5h1M78 8.5h1M3 9.5h1M50 9.5h1M66 9.5h1M72 9.5h1M75 9.5h1M5 10.5h1M8 10.5h1M49 10.5h1M70 11.5h1M50 13.5h1M73 13.5h1M48 15.5h1M4 16.5h1M14 17.5h1M64 17.5h1M51 18.5h1M4 20.5h1M24 20.5h1M69 20.5h1M16 21.5h1M58 22.5h1M18 23.5h1M66 23.5h1M58 24.5h1M27 26.5h1M55 26.5h1M64 27.5h1M74 28.5h1M5 29.5h1M2 30.5h1M64 30.5h1M72 31.5h2M75 31.5h1M70 33.5h1M76 33.5h1M13 34.5h2M70 34.5h1M75 35.5h1M62 36.5h1M2 37.5h1M30 37.5h1M48 37.5h1M27 38.5h1M52 38.5h1M2 39.5h1M66 39.5h1M4 40.5h1M76 40.5h1M13 41.5h1M19 41.5h1M64 41.5h1M73 41.5h1M77 41.5h2M6 42.5h1M4 43.5h2M64 43.5h1M78 43.5h1M15 45.5h1M69 45.5h1M71 45.5h1M75 45.5h1M7 46.5h1M26 46.5h1M8 47.5h1M0 48.5h1M6 48.5h1M12 51.5h1M22 51.5h1M74 52.5h1M1 53.5h1M13 53.5h1M59 53.5h1M64 53.5h1M56 54.5h1M64 54.5h1M4 55.5h1M6 55.5h1M60 55.5h1M64 55.5h1M61 56.5h1M65 57.5h1M68 57.5h1M69 58.5h1M78 58.5h1M1 59.5h1M62 59.5h1M13 60.5h1M67 60.5h1M76 60.5h1M58 62.5h1M69 62.5h1M4 64.5h1M77 64.5h1M12 65.5h1M19 65.5h1M69 65.5h1M51 67.5h1M6 68.5h1M73 68.5h1M2 69.5h1M5 69.5h1M72 70.5h1M7 71.5h1M67 71.5h1M76 71.5h1M27 73.5h1M59 73.5h1M66 73.5h1M70 73.5h1M4 74.5h1M55 74.5h1M66 74.5h2M15 75.5h1M0 76.5h1M61 76.5h1M12 77.5h1M58 77.5h1M9 79.5h1M55 79.5h1M67 79.5h1M69 81.5h1M17 82.5h1M5 83.5h1M65 83.5h1M5 84.5h3M56 84.5h1M0 87.5h1M74 87.5h1M17 89.5h1M59 89.5h1M68 89.5h1M1 90.5h1M10 90.5h1M62 90.5h1M11 91.5h1M71 91.5h1M61 92.5h1M70 92.5h1M75 92.5h1M6 93.5h1M75 94.5h1M1 96.5h1M58 96.5h1M11 97.5h1M77 98.5h1M72 99.5h1M3 100.5h1M63 100.5h1M68 100.5h1M2 101.5h1M10 102.5h1M49 102.5h1M60 102.5h1M73 102.5h2M8 103.5h1M13 103.5h1M62 103.5h1M54 104.5h1M59 104.5h1M56 105.5h1M73 105.5h1M69 107.5h1M60 108.5h1M63 109.5h1M10 110.5h1M64 110.5h1M72 110.5h1M69 111.5h1M64 112.5h1M69 112.5h1M2 113.5h1M56 116.5h1M3 117.5h1M0 118.5h1M73 118.5h1M77 118.5h1M77 119.5h1M65 120.5h1M61 121.5h1M69 121.5h1M72 121.5h1M65 122.5h1M75 122.5h1M3 123.5h1M5 123.5h1M14 125.5h1M4 126.5h1"/>
<path stroke="#2d1161" d="M73 0.5h1M10 1.5h1M16 1.5h1M66 1.5h2M46 2.5h1M48 2.5h1M64 2.5h1M77 2.5h1M45 3.5h1M53 3.5h1M64 3.5h2M75 3.5h2M6 4.5h2M5 5.5h1M21 5.5h1M45 5.5h1M47 5.5h1M5 6.5h1M8 6.5h2M61 6.5h1M68 6.5h1M27 7.5h1M56 7.5h1M32 8.5h1M52 8.5h1M57 8.5h1M62 8.5h1M77 8.5h1M58 9.5h1M71 9.5h1M46 10.5h1M63 10.5h1M67 10.5h1M76 10.5h1M4 11.5h1M8 11.5h1M21 11.5h1M53 11.5h1M44 12.5h1M71 12.5h1M74 13.5h1M78 13.5h1M68 14.5h1M77 14.5h1M7 15.5h1M56 15.5h1M3 16.5h1M67 16.5h1M1 17.5h1M60 17.5h1M62 17.5h1M11 18.5h1M18 18.5h1M22 18.5h1M52 18.5h1M60 19.5h1M1 20.5h1M20 20.5h1M51 21.5h1M53 21.5h1M74 21.5h1M10 22.5h1M52 22.5h1M56 22.5h1M59 22.5h1M62 22.5h2M72 22.5h1M60 23.5h1M64 23.5h1M71 23.5h1M68 24.5h1M77 24.5h1M6 25.5h2M45 26.5h1M59 26.5h1M8 27.5h1M2 28.5h1M17 28.5h1M51 28.5h1M61 29.5h1M64 29.5h1M66 30.5h1M55 31.5h1M67 31.5h1M78 31.5h1M9 32.5h1M56 32.5h1M65 32.5h1M68 32.5h1M72 32.5h1M19 33.5h1M68 33.5h1M0 34.5h1M3 34.5h1M17 34.5h1M20 34.5h1M57 34.5h1M6 35.5h1M73 35.5h1M77 35.5h1M4 36.5h1M11 37.5h1M24 37.5h1M77 37.5h1M23 38.5h1M55 38.5h1M61 38.5h1M72 38.5h1M77 38.5h1M3 39.5h1M63 40.5h1M67 40.5h1M72 41.5h1M5 42.5h1M70 42.5h1M74 42.5h1M78 42.5h1M13 44.5h1M61 44.5h1M7 45.5h1M2 46.5h1M14 46.5h1M67 46.5h1M71 46.5h1M77 46.5h1M1 47.5h1M7 47.5h1M10 47.5h1M66 47.5h1M5 48.5h1M78 48.5h1M24 49.5h1M77 49.5h1M60 50.5h1M63 50.5h1M66 50.5h1M68 50.5h1M73 50.5h1M69 51.5h1M18 52.5h2M59 52.5h1M7 53.5h1M20 53.5h1M57 53.5h1M49 54.5h1M70 54.5h1M12 55.5h1M56 55.5h1M59 55.5h1M68 55.5h1M4 56.5h1M57 56.5h1M72 56.5h1M0 57.5h2M57 57.5h1M71 57.5h1M13 58.5h1M18 58.5h1M55 58.5h1M62 58.5h1M66 58.5h1M70 58.5h1M25 59.5h1M28 59.5h1M66 59.5h1M2 60.5h1M11 61.5h1M15 61.5h1M55 61.5h1M72 61.5h1M0 62.5h1M23 62.5h1M48 62.5h1M4 63.5h1M6 63.5h1M13 63.5h1M62 63.5h1M12 64.5h1M56 64.5h2M59 64.5h1M62 64.5h1M55 67.5h1M13 68.5h1M51 68.5h1M61 68.5h1M63 68.5h2M50 70.5h1M54 70.5h1M48 71.5h1M51 71.5h1M64 71.5h1M6 72.5h1M11 72.5h1M13 72.5h1M68 72.5h1M60 73.5h1M70 74.5h2M73 74.5h1M8 75.5h1M63 75.5h1M68 75.5h2M71 75.5h1M73 75.5h1M20 76.5h1M24 76.5h1M58 76.5h1M2 77.5h1M62 77.5h1M69 77.5h1M4 78.5h1M15 78.5h1M3 79.5h1M6 80.5h2M14 80.5h1M61 80.5h1M71 80.5h1M66 81.5h1M0 82.5h1M6 82.5h1M75 82.5h1M6 83.5h1M20 83.5h1M23 83.5h1M54 83.5h1M61 84.5h2M66 84.5h1M57 86.5h1M75 86.5h1M16 87.5h1M63 87.5h1M58 88.5h1M60 89.5h1M62 89.5h1M77 89.5h1M4 90.5h1M14 90.5h1M66 90.5h1M74 90.5h1M13 91.5h1M55 91.5h1M68 91.5h1M52 92.5h1M65 92.5h1M68 92.5h1M76 92.5h1M1 93.5h1M21 93.5h1M73 93.5h2M4 94.5h1M9 94.5h1M48 94.5h1M60 94.5h1M74 94.5h1M75 96.5h1M2 97.5h1M9 97.5h1M78 97.5h1M54 98.5h1M61 98.5h2M76 98.5h1M1 99.5h1M61 99.5h1M7 100.5h1M61 100.5h1M74 100.5h1M8 101.5h1M60 101.5h1M6 102.5h1M9 102.5h1M19 102.5h1M54 102.5h1M76 102.5h1M76 103.5h1M0 104.5h1M5 104.5h1M8 104.5h1M67 104.5h1M69 104.5h2M73 104.5h1M5 105.5h1M8 105.5h1M54 105.5h1M58 105.5h1M1 106.5h1M9 106.5h1M67 106.5h1M71 106.5h1M73 106.5h1M78 106.5h1M58 108.5h1M74 108.5h1M2 109.5h1M12 109.5h1M62 109.5h1M66 109.5h1M71 109.5h1M73 109.5h1M3 110.5h1M57 110.5h1M77 110.5h1M6 111.5h1M8 111.5h1M68 111.5h1M73 111.5h1M76 111.5h1M7 112.5h1M26 112.5h1M1 113.5h1M66 113.5h2M14 114.5h1M65 114.5h1M78 114.5h1M5 115.5h1M62 116.5h1M14 117.5h1M19 117.5h1M77 117.5h1M78 118.5h1M66 119.5h1M75 119.5h1M13 120.5h1M18 120.5h1M0 121.5h1M2 121.5h1M66 121.5h1M68 121.5h1M70 121.5h1M72 122.5h1M74 122.5h1M2 123.5h1M10 123.5h1M76 123.5h1M2 124.5h1M14 124.5h1M73 124.5h1M4 125.5h1M72 126.5h1"/>
<path stroke="#311165" d="M14 0.5h1M62 0.5h1M65 0.5h1M75 0.5h1M15 1.5h1M33 1.5h1M37 1.5h1M52 1.5h1M61 1.5h1M77 1.5h1M0 2.5h1M60 2.5h1M70 2.5h1M1 3.5h1M7 3.5h1M56 3.5h1M9 4.5h2M53 4.5h1M56 4.5h1M1 5.5h1M48 5.5h1M0 6.5h1M12 6.5h1M56 6.5h1M76 6.5h1M5 7.5h1M11 7.5h1M66 7.5h1M77 7.5h1M10 8.5h1M17 8.5h1M10 9.5h1M12 9.5h1M17 9.5h1M59 9.5h1M63 9.5h1M47 10.5h1M61 10.5h1M64 10.5h1M71 10.5h1M56 11.5h1M59 11.5h2M1 12.5h1M8 12.5h2M52 12.5h1M55 12.5h1M59 12.5h1M62 12.5h1M76 12.5h1M5 13.5h1M20 13.5h2M46 13.5h1M53 13.5h1M1 14.5h1M5 14.5h1M13 14.5h1M35 14.5h1M47 14.5h1M51 14.5h2M60 14.5h1M67 14.5h1M78 14.5h1M8 15.5h1M51 15.5h2M75 15.5h1M6 16.5h1M21 16.5h1M63 16.5h1M68 16.5h1M12 17.5h1M56 17.5h2M65 17.5h1M2 18.5h2M15 18.5h2M57 18.5h1M60 18.5h1M0 19.5h1M53 19.5h1M73 19.5h3M3 20.5h1M9 20.5h1M13 20.5h1M61 20.5h1M2 21.5h1M49 21.5h1M61 21.5h1M64 21.5h1M7 22.5h1M14 22.5h1M47 22.5h2M70 22.5h1M78 22.5h1M9 23.5h1M12 23.5h1M54 23.5h1M65 23.5h1M70 23.5h1M18 24.5h1M21 24.5h1M33 24.5h1M60 24.5h1M64 24.5h1M1 25.5h1M19 25.5h1M44 25.5h1M1 26.5h1M5 26.5h1M8 26.5h1M10 26.5h1M28 26.5h1M63 26.5h1M76 26.5h1M2 27.5h1M17 27.5h1M53 27.5h1M56 27.5h1M71 27.5h1M75 27.5h1M54 28.5h1M3 29.5h1M9 29.5h1M13 29.5h1M44 29.5h1M62 29.5h1M68 29.5h1M76 29.5h1M3 30.5h1M9 30.5h1M19 30.5h1M53 30.5h1M68 30.5h1M73 30.5h1M75 30.5h1M0 31.5h1M17 31.5h1M58 31.5h1M61 31.5h1M48 32.5h1M53 32.5h1M3 33.5h1M6 33.5h1M9 33.5h1M15 33.5h1M29 33.5h1M62 33.5h1M74 33.5h2M12 34.5h1M24 34.5h1M67 34.5h1M1 35.5h1M9 35.5h1M23 35.5h1M28 35.5h1M53 35.5h1M55 35.5h2M63 35.5h1M76 35.5h1M3 36.5h1M46 36.5h1M59 36.5h1M66 36.5h2M69 36.5h1M3 37.5h1M23 37.5h1M54 37.5h1M67 37.5h1M6 38.5h1M12 38.5h1M53 38.5h1M70 38.5h1M0 39.5h2M21 39.5h1M54 39.5h1M61 39.5h1M68 39.5h1M78 39.5h1M3 40.5h1M5 40.5h2M47 40.5h1M53 40.5h1M57 40.5h1M68 40.5h1M16 41.5h1M59 41.5h1M62 41.5h1M65 41.5h1M74 41.5h2M3 42.5h1M18 42.5h1M49 42.5h1M59 42.5h1M73 42.5h1M17 43.5h1M61 43.5h1M3 44.5h1M14 44.5h1M17 44.5h1M52 44.5h1M13 45.5h1M21 45.5h2M62 45.5h1M67 45.5h1M3 46.5h1M6 46.5h1M22 46.5h1M31 46.5h1M50 46.5h1M72 46.5h1M75 46.5h1M23 47.5h1M63 47.5h1M65 47.5h1M49 48.5h1M67 48.5h1M1 49.5h1M7 49.5h1M21 49.5h1M27 49.5h1M70 49.5h2M6 50.5h1M50 50.5h1M59 50.5h1M78 50.5h1M3 51.5h1M67 51.5h1M53 52.5h1M78 52.5h1M3 53.5h1M58 53.5h1M72 53.5h1M2 54.5h1M5 54.5h1M10 54.5h1M72 54.5h1M1 55.5h1M8 55.5h2M45 55.5h1M54 55.5h1M75 55.5h1M5 56.5h1M53 56.5h1M55 56.5h1M76 56.5h1M78 56.5h1M67 57.5h1M76 57.5h1M78 57.5h1M6 58.5h2M12 58.5h1M16 58.5h1M58 58.5h1M67 58.5h1M32 59.5h1M57 59.5h1M60 59.5h1M67 59.5h1M72 59.5h1M3 60.5h1M6 60.5h1M26 60.5h1M59 60.5h2M62 60.5h1M69 60.5h1M71 60.5h1M73 60.5h1M60 61.5h1M63 61.5h1M66 61.5h1M46 62.5h1M59 62.5h1M61 62.5h1M1 63.5h1M3 63.5h1M8 63.5h1M19 63.5h1M55 63.5h1M58 63.5h1M75 63.5h1M78 63.5h1M3 64.5h1M18 64.5h1M63 64.5h1M1 65.5h1M4 65.5h1M53 65.5h1M57 65.5h2M73 65.5h1M75 65.5h1M18 66.5h1M46 66.5h1M66 66.5h1M74 66.5h1M5 67.5h1M12 67.5h1M59 67.5h1M63 67.5h1M68 67.5h1M77 67.5h1M0 68.5h2M5 68.5h1M11 68.5h1M21 68.5h1M68 68.5h1M70 68.5h1M77 68.5h1M0 69.5h1M4 69.5h1M9 69.5h1M48 69.5h1M10 70.5h1M57 70.5h1M62 70.5h1M64 70.5h1M1 71.5h1M5 71.5h1M8 71.5h1M65 71.5h1M75 71.5h1M1 72.5h1M3 72.5h1M15 72.5h1M17 72.5h1M57 72.5h2M62 72.5h1M12 73.5h1M15 73.5h1M49 73.5h1M67 73.5h1M76 73.5h1M0 74.5h1M6 74.5h2M9 74.5h1M17 74.5h1M19 74.5h1M54 74.5h1M78 74.5h1M0 75.5h1M53 75.5h1M64 75.5h1M74 75.5h1M78 75.5h1M65 76.5h1M67 76.5h1M72 76.5h1M21 77.5h1M53 77.5h1M71 77.5h1M7 78.5h1M18 78.5h1M20 78.5h1M75 78.5h2M12 80.5h1M21 80.5h1M56 80.5h1M65 80.5h1M8 81.5h2M50 81.5h1M53 81.5h1M58 81.5h2M67 81.5h1M73 81.5h1M10 82.5h1M16 82.5h1M76 82.5h1M7 83.5h1M64 83.5h1M68 83.5h1M8 84.5h1M57 85.5h2M19 86.5h1M65 86.5h1M66 87.5h1M69 87.5h2M75 87.5h1M77 87.5h1M1 88.5h1M52 88.5h1M0 89.5h1M15 89.5h2M67 89.5h1M78 89.5h1M0 90.5h1M3 90.5h1M5 90.5h1M11 90.5h1M13 90.5h1M54 90.5h1M56 90.5h1M61 90.5h1M63 90.5h1M75 90.5h1M4 91.5h1M9 91.5h1M64 91.5h2M70 91.5h1M73 91.5h1M76 91.5h1M51 92.5h1M57 92.5h1M5 93.5h1M17 93.5h1M58 93.5h1M76 93.5h1M6 94.5h1M57 94.5h1M68 94.5h1M76 94.5h1M3 95.5h1M51 95.5h1M67 95.5h1M71 95.5h1M77 95.5h2M14 96.5h1M65 96.5h1M77 96.5h1M6 97.5h1M16 97.5h1M69 97.5h1M77 97.5h1M9 98.5h1M12 98.5h1M68 98.5h1M4 99.5h1M20 99.5h1M70 99.5h1M77 99.5h1M0 100.5h1M6 100.5h1M13 100.5h1M66 100.5h1M70 100.5h1M6 101.5h1M20 101.5h1M59 101.5h1M69 101.5h1M1 102.5h2M61 102.5h1M67 102.5h1M6 103.5h1M57 103.5h1M67 103.5h1M1 104.5h1M7 104.5h1M63 104.5h2M66 104.5h1M2 105.5h3M14 105.5h1M68 105.5h2M74 105.5h1M77 105.5h1M2 106.5h1M4 106.5h1M54 106.5h1M62 106.5h1M8 107.5h1M19 107.5h1M66 107.5h1M73 107.5h1M77 107.5h1M0 108.5h1M5 109.5h2M59 109.5h1M77 109.5h1M2 110.5h1M5 110.5h1M9 110.5h1M14 110.5h1M53 110.5h1M62 110.5h1M67 110.5h1M73 110.5h2M3 111.5h1M60 111.5h1M0 112.5h1M3 112.5h1M5 112.5h1M8 112.5h1M11 112.5h1M20 112.5h1M63 112.5h1M5 113.5h1M20 113.5h1M57 113.5h1M70 113.5h1M73 113.5h1M75 113.5h1M2 114.5h1M67 114.5h1M72 114.5h1M76 114.5h2M1 115.5h1M16 115.5h1M58 115.5h1M70 115.5h1M4 116.5h1M8 116.5h1M74 116.5h1M0 117.5h1M67 117.5h1M71 117.5h1M75 117.5h1M2 118.5h1M63 118.5h1M63 119.5h1M76 119.5h1M1 120.5h1M14 120.5h1M61 120.5h2M68 120.5h1M3 121.5h1M64 121.5h2M73 121.5h1M75 121.5h1M0 124.5h1M2 125.5h2M17 125.5h2M66 125.5h1M72 125.5h1"/>
<path stroke="#36106b" d="M3 0.5h2M8 0.5h1M13 0.5h1M51 0.5h1M55 0.5h1M69 0.5h1M71 0.5h1M78 0.5h1M6 1.5h3M11 1.5h1M54 1.5h1M58 1.5h1M60 1.5h1M65 1.5h1M75 1.5h1M78 1.5h1M53 2.5h1M55 2.5h1M72 2.5h1M2 3.5h1M4 3.5h1M8 3.5h1M20 3.5h1M48 3.5h1M54 3.5h1M62 3.5h1M67 3.5h1M69 3.5h1M71 3.5h1M2 4.5h1M4 4.5h1M26 4.5h1M49 4.5h1M51 4.5h2M60 4.5h1M64 4.5h1M78 4.5h1M4 5.5h1M9 5.5h1M51 5.5h1M57 5.5h3M66 5.5h1M69 5.5h1M24 6.5h1M44 6.5h1M50 6.5h1M70 6.5h1M73 6.5h1M77 6.5h2M16 7.5h1M49 7.5h1M52 7.5h1M72 7.5h1M4 8.5h1M6 8.5h1M8 8.5h1M11 8.5h1M18 8.5h1M30 8.5h1M56 8.5h1M15 9.5h1M49 9.5h1M54 9.5h1M57 9.5h1M64 9.5h1M1 10.5h1M7 10.5h1M15 10.5h1M41 10.5h1M52 10.5h2M59 10.5h1M68 10.5h1M3 11.5h1M10 11.5h1M18 11.5h2M55 11.5h1M62 11.5h2M74 11.5h1M13 12.5h1M54 12.5h1M68 12.5h1M70 12.5h1M2 13.5h1M8 13.5h1M19 13.5h1M26 13.5h1M29 13.5h1M63 13.5h2M66 13.5h1M8 14.5h1M14 14.5h1M21 14.5h1M25 14.5h1M27 14.5h1M53 14.5h1M57 14.5h1M61 14.5h1M1 15.5h1M4 15.5h1M6 15.5h1M9 15.5h1M30 15.5h1M43 15.5h1M53 15.5h1M66 15.5h1M69 15.5h1M1 16.5h1M7 16.5h1M13 16.5h1M23 16.5h2M34 16.5h1M47 16.5h1M51 16.5h1M55 16.5h1M64 16.5h1M71 16.5h1M73 16.5h1M77 16.5h1M8 17.5h1M18 17.5h1M22 17.5h1M63 17.5h1M71 17.5h1M8 18.5h1M20 18.5h2M31 18.5h1M48 18.5h1M54 18.5h1M58 18.5h1M65 18.5h1M73 18.5h1M78 18.5h1M3 19.5h1M12 19.5h1M45 19.5h1M54 19.5h1M57 19.5h1M66 19.5h1M71 19.5h2M78 19.5h1M8 20.5h1M11 20.5h1M32 20.5h1M55 20.5h1M62 20.5h2M68 20.5h1M0 21.5h1M3 21.5h1M54 21.5h1M62 21.5h1M65 21.5h2M68 21.5h1M6 22.5h1M11 22.5h1M20 22.5h1M23 22.5h1M65 22.5h1M67 22.5h1M73 22.5h1M8 23.5h1M16 23.5h1M29 23.5h1M34 23.5h1M46 23.5h1M51 23.5h3M58 23.5h2M0 24.5h1M2 24.5h1M6 24.5h1M13 24.5h1M17 24.5h1M20 24.5h1M23 24.5h1M25 24.5h1M62 24.5h1M69 24.5h1M0 25.5h1M4 25.5h1M14 25.5h1M57 25.5h2M12 26.5h1M15 26.5h1M18 26.5h1M30 26.5h1M68 26.5h1M74 26.5h1M0 27.5h1M4 27.5h1M46 27.5h2M49 27.5h1M51 27.5h1M74 27.5h1M0 28.5h1M6 28.5h1M15 28.5h1M52 28.5h1M62 28.5h1M70 28.5h1M73 28.5h1M2 29.5h1M11 29.5h1M19 29.5h1M22 29.5h1M47 29.5h1M53 29.5h1M65 29.5h1M70 29.5h1M1 30.5h1M16 30.5h1M21 30.5h1M26 30.5h1M61 30.5h3M69 30.5h1M10 31.5h1M12 31.5h1M20 31.5h1M29 31.5h1M45 31.5h1M54 31.5h1M60 31.5h1M65 31.5h2M3 32.5h1M11 32.5h1M19 32.5h1M27 32.5h1M60 32.5h1M66 32.5h1M75 32.5h1M77 32.5h1M0 33.5h1M13 33.5h1M46 33.5h1M56 33.5h1M58 33.5h2M73 33.5h1M26 34.5h1M53 34.5h1M62 34.5h1M4 35.5h1M8 35.5h1M14 35.5h1M46 35.5h1M52 35.5h1M54 35.5h1M62 35.5h1M65 35.5h1M69 35.5h1M72 35.5h1M74 35.5h1M1 36.5h2M5 36.5h1M23 36.5h1M47 36.5h1M52 36.5h1M58 36.5h1M75 36.5h1M78 36.5h1M8 37.5h1M13 37.5h1M19 37.5h2M66 37.5h1M74 37.5h1M78 37.5h1M5 38.5h1M9 38.5h1M11 38.5h1M24 38.5h1M56 38.5h1M59 38.5h1M62 38.5h1M69 38.5h1M9 39.5h1M72 39.5h1M48 40.5h1M50 40.5h1M56 40.5h1M70 40.5h2M2 41.5h1M12 41.5h1M48 41.5h1M61 41.5h1M66 41.5h1M0 42.5h1M4 42.5h1M9 42.5h1M24 42.5h1M55 42.5h1M60 42.5h2M0 43.5h1M9 43.5h1M15 43.5h1M26 43.5h1M56 43.5h1M66 43.5h1M70 43.5h1M4 44.5h1M7 44.5h1M18 44.5h2M48 44.5h3M71 44.5h1M1 45.5h1M6 45.5h1M12 45.5h1M14 45.5h1M52 45.5h3M56 45.5h1M63 45.5h1M8 46.5h1M11 46.5h1M56 46.5h1M64 46.5h2M68 46.5h3M74 46.5h1M2 47.5h2M55 47.5h1M58 47.5h2M73 47.5h1M75 47.5h1M2 48.5h1M4 48.5h1M55 48.5h1M66 48.5h1M69 48.5h1M0 49.5h1M5 49.5h1M16 49.5h1M20 49.5h1M54 49.5h1M61 49.5h1M63 49.5h1M69 49.5h1M1 50.5h2M7 50.5h1M56 50.5h1M58 50.5h1M64 50.5h1M70 50.5h1M72 50.5h1M76 50.5h1M0 51.5h1M6 51.5h1M16 51.5h1M30 51.5h1M52 51.5h1M57 51.5h1M70 51.5h4M76 51.5h1M1 52.5h4M13 52.5h1M15 52.5h1M55 52.5h2M58 52.5h1M64 52.5h1M54 53.5h1M76 53.5h1M12 54.5h1M51 54.5h1M55 54.5h1M58 54.5h1M63 54.5h1M18 55.5h1M21 55.5h1M67 55.5h1M73 55.5h1M0 56.5h2M56 56.5h1M63 56.5h2M74 56.5h1M7 57.5h2M10 57.5h1M13 57.5h1M28 57.5h1M49 57.5h1M55 57.5h1M60 57.5h1M66 57.5h1M72 57.5h1M3 58.5h1M9 58.5h1M60 58.5h1M65 58.5h1M74 58.5h1M3 59.5h1M6 59.5h1M15 59.5h1M47 59.5h1M69 59.5h1M77 59.5h1M18 60.5h1M28 60.5h1M51 60.5h1M53 60.5h1M58 60.5h1M5 61.5h1M8 61.5h1M12 61.5h1M20 61.5h1M26 61.5h1M70 61.5h2M76 61.5h1M3 62.5h1M6 62.5h1M10 62.5h1M21 62.5h1M54 62.5h2M66 62.5h3M70 62.5h1M73 62.5h2M78 62.5h1M2 63.5h1M5 63.5h1M59 63.5h1M67 63.5h2M0 64.5h1M8 64.5h1M16 64.5h1M53 64.5h1M70 64.5h1M0 65.5h1M2 65.5h1M11 65.5h1M10 66.5h2M13 66.5h1M19 66.5h1M31 66.5h1M49 66.5h2M56 66.5h1M64 66.5h2M75 66.5h1M3 67.5h1M14 67.5h1M19 67.5h1M58 67.5h1M60 67.5h1M71 67.5h1M75 67.5h1M3 68.5h1M55 68.5h1M62 68.5h1M65 68.5h1M71 68.5h1M75 68.5h1M3 69.5h1M8 69.5h1M10 69.5h2M63 69.5h1M12 70.5h1M14 70.5h1M16 70.5h1M58 70.5h1M60 70.5h1M68 70.5h1M6 71.5h1M72 71.5h1M8 72.5h1M16 72.5h1M18 72.5h1M73 72.5h1M77 72.5h1M2 73.5h1M69 73.5h1M78 73.5h1M10 74.5h1M56 74.5h1M1 75.5h1M16 75.5h1M21 75.5h1M51 75.5h1M60 75.5h1M65 75.5h1M5 76.5h1M54 76.5h2M59 76.5h1M66 76.5h1M6 77.5h1M19 77.5h1M52 77.5h1M67 77.5h1M73 77.5h1M76 77.5h1M13 78.5h1M17 78.5h1M24 78.5h1M49 78.5h1M52 78.5h2M59 78.5h2M63 78.5h2M70 78.5h2M2 79.5h1M8 79.5h1M47 79.5h1M56 79.5h1M64 79.5h2M68 79.5h1M70 79.5h1M73 79.5h1M78 79.5h1M1 80.5h1M3 80.5h1M5 80.5h1M9 80.5h2M19 80.5h1M60 80.5h1M64 80.5h1M66 80.5h1M20 81.5h1M63 81.5h1M75 81.5h1M77 81.5h1M5 82.5h1M11 82.5h1M57 82.5h1M69 82.5h1M78 82.5h1M13 83.5h1M16 83.5h1M22 83.5h1M57 83.5h1M61 83.5h1M72 83.5h1M0 84.5h1M13 84.5h1M22 84.5h1M24 84.5h1M52 84.5h1M71 84.5h1M75 84.5h1M2 85.5h5M9 85.5h1M17 85.5h1M51 85.5h1M56 85.5h1M59 85.5h1M61 85.5h1M68 85.5h1M75 85.5h1M77 85.5h1M6 86.5h1M11 86.5h1M15 86.5h1M56 86.5h1M59 86.5h1M66 86.5h1M69 86.5h1M1 87.5h2M6 87.5h1M10 87.5h1M54 87.5h1M20 88.5h1M48 88.5h1M55 88.5h1M62 88.5h1M64 88.5h1M69 88.5h1M12 89.5h1M52 89.5h1M65 89.5h1M69 89.5h1M15 90.5h1M18 90.5h1M20 90.5h1M65 90.5h1M69 90.5h1M72 90.5h1M0 91.5h1M6 91.5h1M19 91.5h1M56 91.5h1M62 91.5h1M78 91.5h1M1 92.5h1M5 92.5h1M8 92.5h1M21 92.5h1M26 92.5h1M9 93.5h1M15 93.5h1M23 93.5h1M52 93.5h1M56 93.5h1M68 93.5h2M72 93.5h1M78 93.5h1M7 94.5h1M23 94.5h1M26 94.5h1M61 94.5h1M70 94.5h2M18 95.5h1M56 95.5h1M2 96.5h1M18 96.5h1M55 96.5h1M67 96.5h1M70 96.5h1M50 97.5h1M60 97.5h1M62 97.5h2M67 97.5h1M71 97.5h1M3 98.5h1M11 98.5h1M21 98.5h1M60 98.5h1M66 98.5h1M7 99.5h1M17 99.5h1M22 99.5h1M27 99.5h1M57 99.5h1M59 99.5h2M64 99.5h2M75 99.5h1M2 100.5h1M5 100.5h1M8 100.5h4M17 100.5h1M67 100.5h1M73 100.5h1M76 100.5h1M1 101.5h1M3 101.5h1M53 101.5h1M56 101.5h1M63 101.5h1M68 101.5h1M76 101.5h1M4 102.5h1M11 102.5h1M13 102.5h1M52 102.5h1M56 102.5h1M75 102.5h1M78 102.5h1M3 103.5h1M10 103.5h1M52 103.5h1M56 103.5h1M68 103.5h1M73 103.5h2M78 103.5h1M13 104.5h1M17 104.5h1M20 104.5h1M23 104.5h1M55 104.5h1M15 105.5h1M57 105.5h1M60 105.5h1M10 106.5h1M18 106.5h1M25 106.5h1M63 106.5h1M66 106.5h1M72 106.5h1M75 106.5h2M12 107.5h1M65 107.5h1M70 107.5h1M74 107.5h1M2 108.5h1M13 108.5h1M20 108.5h1M53 108.5h1M67 108.5h1M73 108.5h1M76 108.5h2M14 109.5h1M18 109.5h1M4 110.5h1M11 110.5h1M56 110.5h1M65 110.5h1M71 110.5h1M1 111.5h1M53 111.5h1M4 112.5h1M12 112.5h1M19 112.5h1M53 112.5h1M70 112.5h1M72 112.5h1M76 112.5h1M78 112.5h1M74 113.5h1M77 113.5h1M7 114.5h1M23 114.5h1M73 114.5h1M24 115.5h1M1 116.5h1M17 116.5h1M61 116.5h1M67 116.5h1M73 116.5h1M1 117.5h1M4 117.5h1M6 117.5h1M52 117.5h1M61 117.5h2M65 117.5h1M69 117.5h1M76 117.5h1M78 117.5h1M1 118.5h1M9 118.5h1M12 118.5h2M20 118.5h1M59 118.5h1M6 119.5h1M9 119.5h1M15 119.5h1M56 119.5h1M71 119.5h1M74 119.5h1M0 120.5h1M5 120.5h1M12 120.5h1M15 120.5h1M66 120.5h1M70 120.5h1M20 121.5h1M63 121.5h1M71 121.5h1M76 121.5h1M12 122.5h1M58 122.5h1M67 122.5h1M77 122.5h2M0 123.5h1M9 123.5h1M11 123.5h1M61 123.5h1M64 123.5h1M67 123.5h3M73 123.5h1M3 124.5h2M10 124.5h1M55 124.5h1M62 124.5h1M67 124.5h1M7 125.5h1M10 125.5h2M76 125.5h1M78 125.5h1M2 126.5h1M67 126.5h1"/>
<path stroke="#3b0f70" d="M5 0.5h1M7 0.5h1M11 0.5h2M15 0.5h1M30 0.5h1M39 0.5h1M43 0.5h1M54 0.5h1M77 0.5h1M12 1.5h1M25 1.5h1M53 1.5h1M57 1.5h1M64 1.5h1M1 2.5h1M3 2.5h2M10 2.5h1M20 2.5h1M56 2.5h1M58 2.5h2M61 2.5h1M63 2.5h1M69 2.5h1M74 2.5h2M3 3.5h1M16 3.5h1M24 3.5h1M51 3.5h1M58 3.5h1M77 3.5h1M5 4.5h1M8 4.5h1M15 4.5h1M18 4.5h1M20 4.5h1M28 4.5h1M46 4.5h1M63 4.5h1M65 4.5h1M67 4.5h1M72 4.5h1M0 5.5h1M6 5.5h1M17 5.5h1M37 5.5h1M43 5.5h1M50 5.5h1M52 5.5h1M63 5.5h2M70 5.5h2M74 5.5h1M78 5.5h1M3 6.5h1M13 6.5h1M45 6.5h1M49 6.5h1M57 6.5h2M64 6.5h1M74 6.5h1M13 7.5h1M21 7.5h1M35 7.5h1M42 7.5h1M48 7.5h1M50 7.5h1M55 7.5h1M67 7.5h3M74 7.5h1M76 7.5h1M1 8.5h1M15 8.5h1M20 8.5h2M50 8.5h1M53 8.5h1M64 8.5h2M68 8.5h2M74 8.5h1M6 9.5h1M8 9.5h1M18 9.5h1M33 9.5h1M38 9.5h1M40 9.5h1M56 9.5h1M60 9.5h1M62 9.5h1M65 9.5h1M12 10.5h1M20 10.5h1M22 10.5h3M26 10.5h1M28 10.5h1M36 10.5h1M43 10.5h1M48 10.5h1M73 10.5h1M12 11.5h3M17 11.5h1M22 11.5h1M33 11.5h1M35 11.5h2M43 11.5h1M46 11.5h1M51 11.5h1M64 11.5h1M2 12.5h1M5 12.5h2M11 12.5h1M18 12.5h1M21 12.5h1M46 12.5h1M60 12.5h2M63 12.5h1M73 12.5h1M0 13.5h1M4 13.5h1M25 13.5h1M41 13.5h1M47 13.5h2M61 13.5h1M29 14.5h1M34 14.5h1M42 14.5h1M48 14.5h1M50 14.5h1M64 14.5h1M71 14.5h1M73 14.5h1M75 14.5h1M10 15.5h1M44 15.5h1M47 15.5h1M59 15.5h1M64 15.5h2M67 15.5h1M71 15.5h2M2 16.5h1M10 16.5h2M44 16.5h1M62 16.5h1M66 16.5h1M78 16.5h1M6 17.5h1M9 17.5h1M13 17.5h1M16 17.5h1M25 17.5h1M70 17.5h1M72 17.5h1M76 17.5h1M0 18.5h2M19 18.5h1M33 18.5h1M43 18.5h1M53 18.5h1M69 18.5h1M71 18.5h1M2 19.5h1M7 19.5h1M10 19.5h1M20 19.5h1M43 19.5h1M47 19.5h1M61 19.5h1M63 19.5h1M2 20.5h1M7 20.5h1M19 20.5h1M27 20.5h1M59 20.5h1M74 20.5h2M78 20.5h1M14 21.5h1M22 21.5h1M24 21.5h1M46 21.5h1M52 21.5h1M55 21.5h3M60 21.5h1M71 21.5h1M77 21.5h1M3 22.5h1M15 22.5h1M17 22.5h1M19 22.5h1M44 22.5h2M57 22.5h1M68 22.5h1M74 22.5h3M7 23.5h1M15 23.5h1M47 23.5h1M55 23.5h1M68 23.5h1M74 23.5h1M4 24.5h1M7 24.5h1M11 24.5h1M22 24.5h1M35 24.5h1M43 24.5h1M45 24.5h1M63 24.5h1M65 24.5h1M72 24.5h1M5 25.5h1M12 25.5h1M16 25.5h1M22 25.5h1M24 25.5h1M26 25.5h1M29 25.5h1M61 25.5h1M73 25.5h1M2 26.5h1M47 26.5h1M50 26.5h1M1 27.5h1M7 27.5h1M14 27.5h1M18 27.5h1M48 27.5h1M55 27.5h1M60 27.5h1M63 27.5h1M72 27.5h1M78 27.5h1M3 28.5h1M18 28.5h1M22 28.5h1M46 28.5h1M53 28.5h1M57 28.5h1M60 28.5h1M67 28.5h1M72 28.5h1M4 29.5h1M7 29.5h1M15 29.5h1M45 29.5h1M48 29.5h1M55 29.5h1M58 29.5h2M73 29.5h1M78 29.5h1M4 30.5h1M8 30.5h1M20 30.5h1M46 30.5h1M51 30.5h1M60 30.5h1M72 30.5h1M3 31.5h1M9 31.5h1M11 31.5h1M22 31.5h2M50 31.5h1M53 31.5h1M69 31.5h1M1 32.5h1M4 32.5h1M49 32.5h2M52 32.5h1M54 32.5h1M74 32.5h1M12 33.5h1M33 33.5h1M50 33.5h1M53 33.5h2M61 33.5h1M63 33.5h2M69 33.5h1M2 34.5h1M7 34.5h1M9 34.5h1M15 34.5h1M18 34.5h1M32 34.5h1M54 34.5h1M56 34.5h1M58 34.5h1M63 34.5h1M66 34.5h1M75 34.5h1M15 35.5h2M30 35.5h1M58 35.5h1M60 35.5h1M68 35.5h1M9 36.5h1M26 36.5h1M28 36.5h1M53 36.5h2M61 36.5h1M65 36.5h1M74 36.5h1M1 37.5h1M7 37.5h1M34 37.5h1M51 37.5h1M4 38.5h1M16 38.5h1M20 38.5h1M26 38.5h1M65 38.5h1M13 39.5h3M19 39.5h1M31 39.5h1M49 39.5h1M51 39.5h1M60 39.5h1M69 39.5h1M74 39.5h1M77 39.5h1M14 40.5h1M19 40.5h1M49 40.5h1M60 40.5h2M73 40.5h2M4 41.5h1M10 41.5h2M20 41.5h1M27 41.5h1M63 41.5h1M68 41.5h1M7 42.5h1M11 42.5h1M13 42.5h1M19 42.5h1M23 42.5h1M52 42.5h1M57 42.5h1M65 42.5h1M68 42.5h2M1 43.5h1M8 43.5h1M16 43.5h1M23 43.5h1M48 43.5h1M51 43.5h1M63 43.5h1M67 43.5h1M73 43.5h1M21 44.5h1M47 44.5h1M65 44.5h1M74 44.5h2M10 45.5h1M19 45.5h2M25 45.5h1M68 45.5h1M77 45.5h2M9 46.5h1M15 46.5h1M17 46.5h1M20 46.5h1M46 46.5h1M53 46.5h1M60 46.5h1M6 47.5h1M9 47.5h1M11 47.5h2M22 47.5h1M31 47.5h2M53 47.5h1M57 47.5h1M67 47.5h1M78 47.5h1M1 48.5h1M3 48.5h1M23 48.5h1M25 48.5h1M48 48.5h1M57 48.5h1M62 48.5h2M68 48.5h1M75 48.5h3M8 49.5h1M18 49.5h2M62 49.5h1M76 49.5h1M78 49.5h1M3 50.5h1M15 50.5h1M48 50.5h1M51 50.5h1M55 50.5h1M61 50.5h1M74 50.5h1M2 51.5h1M17 51.5h1M27 51.5h1M66 51.5h1M74 51.5h1M0 52.5h1M17 52.5h1M22 52.5h2M25 52.5h1M31 52.5h1M46 52.5h1M50 52.5h1M60 52.5h1M68 52.5h3M4 53.5h2M14 53.5h1M16 53.5h2M51 53.5h1M61 53.5h1M65 53.5h1M67 53.5h2M70 53.5h1M73 53.5h1M7 54.5h1M14 54.5h1M19 54.5h1M22 54.5h1M47 54.5h1M57 54.5h1M65 54.5h1M67 54.5h1M73 54.5h1M76 54.5h1M0 55.5h1M16 55.5h1M26 55.5h1M58 55.5h1M61 55.5h1M72 55.5h1M7 56.5h1M15 56.5h1M17 56.5h1M51 56.5h1M58 56.5h1M65 56.5h1M67 56.5h2M75 56.5h1M77 56.5h1M2 57.5h1M20 57.5h1M24 57.5h1M51 57.5h1M54 57.5h1M74 57.5h2M4 58.5h1M17 58.5h1M22 58.5h1M49 58.5h2M63 58.5h1M73 58.5h1M21 59.5h1M53 59.5h1M61 59.5h1M76 59.5h1M78 59.5h1M4 60.5h1M12 60.5h1M15 60.5h1M50 60.5h1M66 60.5h1M0 61.5h1M2 61.5h1M10 61.5h1M59 61.5h1M61 61.5h1M68 61.5h1M4 62.5h1M13 62.5h2M47 62.5h1M51 62.5h1M64 62.5h2M71 62.5h1M76 62.5h2M0 63.5h1M16 63.5h2M50 63.5h1M76 63.5h1M2 64.5h1M24 64.5h1M47 64.5h1M50 64.5h1M52 64.5h1M54 64.5h1M60 64.5h2M64 64.5h2M74 64.5h3M7 65.5h1M51 65.5h1M59 65.5h1M63 65.5h1M67 65.5h1M72 65.5h1M2 66.5h1M8 66.5h1M21 66.5h1M48 66.5h1M53 66.5h2M60 66.5h1M62 66.5h1M70 66.5h1M73 66.5h1M76 66.5h1M0 67.5h1M13 67.5h1M64 67.5h3M69 67.5h1M74 67.5h1M78 67.5h1M2 68.5h1M4 68.5h1M9 68.5h1M22 68.5h1M49 68.5h1M69 68.5h1M6 69.5h2M26 69.5h1M59 69.5h1M61 69.5h1M64 69.5h1M66 69.5h1M70 69.5h1M74 69.5h1M77 69.5h1M5 70.5h1M8 70.5h1M24 70.5h1M29 70.5h1M61 70.5h1M66 70.5h1M76 70.5h1M0 71.5h1M2 71.5h1M18 71.5h1M49 71.5h1M56 71.5h1M62 71.5h1M68 71.5h4M4 72.5h1M7 72.5h1M53 72.5h2M64 72.5h1M66 72.5h1M0 73.5h1M5 73.5h1M7 73.5h2M10 73.5h1M13 73.5h1M21 73.5h1M51 73.5h1M64 73.5h2M68 73.5h1M75 73.5h1M8 74.5h1M20 74.5h1M23 74.5h1M53 74.5h1M62 74.5h1M75 74.5h2M7 75.5h1M9 75.5h1M58 75.5h1M61 75.5h1M70 75.5h1M6 76.5h1M13 76.5h1M15 76.5h1M17 76.5h1M19 76.5h1M23 76.5h1M26 76.5h1M29 76.5h1M49 76.5h1M56 76.5h1M68 76.5h1M74 76.5h1M78 76.5h1M0 77.5h1M3 77.5h1M14 77.5h1M61 77.5h1M68 77.5h1M72 77.5h1M1 78.5h1M8 78.5h1M12 78.5h1M16 78.5h1M27 78.5h1M62 78.5h1M77 78.5h1M12 79.5h1M49 79.5h1M51 79.5h1M58 79.5h1M63 79.5h1M66 79.5h1M69 79.5h1M71 79.5h1M74 79.5h1M77 79.5h1M15 80.5h1M20 80.5h1M23 80.5h1M51 80.5h1M59 80.5h1M70 80.5h1M73 80.5h1M3 81.5h1M13 81.5h1M16 81.5h2M49 81.5h1M56 81.5h1M61 81.5h1M70 81.5h1M21 82.5h1M53 82.5h1M59 82.5h1M61 82.5h2M66 82.5h2M72 82.5h1M77 82.5h1M17 83.5h1M53 83.5h1M69 83.5h1M71 83.5h1M74 83.5h1M76 83.5h2M4 84.5h1M9 84.5h3M20 84.5h1M53 84.5h1M58 84.5h1M63 84.5h1M70 84.5h1M73 84.5h1M14 85.5h1M20 85.5h1M23 85.5h2M27 85.5h1M55 85.5h1M71 85.5h1M2 86.5h1M23 86.5h1M49 86.5h1M58 86.5h1M61 86.5h1M72 86.5h2M8 87.5h1M17 87.5h2M59 87.5h1M62 87.5h1M5 88.5h2M15 88.5h1M18 88.5h2M22 88.5h1M25 88.5h1M54 88.5h1M60 88.5h2M63 88.5h1M71 88.5h1M1 89.5h2M10 89.5h1M23 89.5h1M64 89.5h1M70 89.5h1M75 89.5h1M48 90.5h1M55 90.5h1M57 90.5h1M64 90.5h1M67 90.5h1M76 90.5h1M14 91.5h1M20 91.5h1M23 91.5h1M28 91.5h1M51 91.5h1M66 91.5h1M2 92.5h1M10 92.5h1M13 92.5h1M63 92.5h2M72 92.5h1M77 92.5h1M2 93.5h1M14 93.5h1M22 93.5h1M24 93.5h1M48 93.5h1M53 93.5h2M61 93.5h3M70 93.5h2M77 93.5h1M1 94.5h1M5 94.5h1M18 94.5h1M22 94.5h1M58 94.5h1M64 94.5h1M0 95.5h1M2 95.5h1M4 95.5h1M11 95.5h1M22 95.5h1M58 95.5h1M60 95.5h1M64 95.5h3M74 95.5h2M5 96.5h1M11 96.5h1M66 96.5h1M74 96.5h1M0 97.5h1M27 97.5h1M53 97.5h1M76 97.5h1M15 98.5h1M25 98.5h1M55 98.5h1M64 98.5h1M70 98.5h1M10 99.5h1M23 99.5h1M50 99.5h1M76 99.5h1M4 100.5h1M12 100.5h1M18 100.5h1M53 100.5h1M58 100.5h2M62 100.5h1M65 100.5h1M69 100.5h1M71 100.5h1M9 101.5h1M48 101.5h1M62 101.5h1M67 101.5h1M72 101.5h1M75 101.5h1M0 102.5h1M8 102.5h1M18 102.5h1M51 102.5h1M55 102.5h1M57 102.5h1M5 103.5h1M9 103.5h1M12 103.5h1M29 103.5h1M53 103.5h2M61 103.5h1M65 103.5h1M70 103.5h1M2 104.5h1M4 104.5h1M57 104.5h1M71 104.5h2M74 104.5h1M16 105.5h1M59 105.5h1M66 105.5h2M5 106.5h1M5 107.5h1M9 107.5h1M16 107.5h1M64 107.5h1M3 108.5h1M8 108.5h1M23 108.5h1M55 108.5h1M71 108.5h1M7 109.5h1M56 109.5h1M67 109.5h3M72 109.5h1M0 110.5h1M7 110.5h1M12 110.5h1M17 110.5h1M60 110.5h1M63 110.5h1M68 110.5h2M78 110.5h1M2 111.5h1M12 111.5h2M23 111.5h1M71 111.5h1M77 111.5h1M14 112.5h1M16 112.5h1M73 112.5h1M15 113.5h1M18 113.5h1M62 113.5h1M18 114.5h2M56 114.5h1M58 114.5h2M63 114.5h1M9 115.5h1M12 115.5h1M15 115.5h1M53 115.5h1M65 115.5h1M67 115.5h1M71 115.5h1M75 115.5h1M6 116.5h1M11 116.5h1M20 116.5h1M55 116.5h1M66 116.5h1M68 116.5h1M75 116.5h2M7 117.5h1M10 117.5h1M53 117.5h1M60 117.5h1M63 117.5h1M72 117.5h1M3 118.5h3M8 118.5h1M60 118.5h1M65 118.5h1M72 118.5h1M75 118.5h2M58 119.5h1M78 119.5h1M2 120.5h1M7 120.5h1M10 120.5h1M52 120.5h1M54 120.5h2M58 120.5h3M74 120.5h1M67 121.5h1M77 121.5h1M3 122.5h1M5 122.5h1M7 122.5h2M13 122.5h2M19 122.5h1M59 122.5h1M62 122.5h1M71 122.5h1M4 123.5h1M65 123.5h1M1 124.5h1M9 124.5h1M59 124.5h1M69 124.5h2M77 124.5h2M0 125.5h1M5 125.5h1M12 125.5h1M22 125.5h1M58 125.5h1M67 125.5h2M16 126.5h1M60 126.5h1M65 126.5h1M73 126.5h3M78 126.5h1"/>
<path stroke="#3f0f72" d="M17 0.5h1M19 0.5h1M23 0.5h1M50 0.5h1M56 0.5h1M61 0.5h1M70 0.5h1M74 0.5h1M21 1.5h1M40 1.5h3M46 1.5h1M70 1.5h4M76 1.5h1M11 2.5h1M17 2.5h2M28 2.5h1M32 2.5h1M34 2.5h2M37 2.5h1M45 2.5h1M50 2.5h1M52 2.5h1M57 2.5h1M68 2.5h1M76 2.5h1M6 3.5h1M9 3.5h1M11 3.5h2M14 3.5h1M25 3.5h1M60 3.5h1M63 3.5h1M66 3.5h1M74 3.5h1M0 4.5h1M3 4.5h1M12 4.5h1M23 4.5h1M25 4.5h1M35 4.5h1M47 4.5h1M55 4.5h1M58 4.5h1M74 4.5h1M76 4.5h1M3 5.5h1M28 5.5h1M36 5.5h1M39 5.5h1M54 5.5h2M75 5.5h1M77 5.5h1M4 6.5h1M11 6.5h1M14 6.5h2M48 6.5h1M54 6.5h1M59 6.5h2M66 6.5h1M72 6.5h1M3 7.5h1M6 7.5h1M14 7.5h1M23 7.5h1M26 7.5h1M32 7.5h2M47 7.5h1M57 7.5h1M62 7.5h1M73 7.5h1M3 8.5h1M14 8.5h1M19 8.5h1M29 8.5h1M33 8.5h1M47 8.5h1M51 8.5h1M55 8.5h1M61 8.5h1M70 8.5h1M75 8.5h2M1 9.5h2M9 9.5h1M20 9.5h1M24 9.5h2M31 9.5h1M36 9.5h1M47 9.5h2M51 9.5h1M67 9.5h1M69 9.5h1M76 9.5h2M0 10.5h1M2 10.5h3M13 10.5h1M50 10.5h2M57 10.5h1M65 10.5h1M69 10.5h2M72 10.5h1M78 10.5h1M1 11.5h1M6 11.5h1M9 11.5h1M40 11.5h1M50 11.5h1M58 11.5h1M65 11.5h3M72 11.5h1M76 11.5h2M7 12.5h1M16 12.5h1M26 12.5h2M30 12.5h1M34 12.5h1M39 12.5h1M64 12.5h1M67 12.5h1M74 12.5h1M9 13.5h1M14 13.5h2M17 13.5h1M22 13.5h1M36 13.5h1M49 13.5h1M51 13.5h1M54 13.5h1M56 13.5h1M69 13.5h2M0 14.5h1M3 14.5h1M12 14.5h1M20 14.5h1M26 14.5h1M43 14.5h1M45 14.5h1M59 14.5h1M62 14.5h1M72 14.5h1M0 15.5h1M3 15.5h1M5 15.5h1M11 15.5h1M16 15.5h1M19 15.5h1M50 15.5h1M54 15.5h1M58 15.5h1M61 15.5h1M77 15.5h2M12 16.5h1M26 16.5h1M29 16.5h2M52 16.5h1M56 16.5h1M58 16.5h1M61 16.5h1M69 16.5h1M2 17.5h1M5 17.5h1M7 17.5h1M29 17.5h1M33 17.5h1M42 17.5h1M45 17.5h1M51 17.5h2M59 17.5h1M61 17.5h1M67 17.5h2M74 17.5h2M77 17.5h1M7 18.5h1M36 18.5h1M50 18.5h1M56 18.5h1M67 18.5h1M74 18.5h3M13 19.5h1M15 19.5h1M37 19.5h1M51 19.5h1M59 19.5h1M5 20.5h2M10 20.5h1M25 20.5h1M33 20.5h2M36 20.5h1M64 20.5h1M71 20.5h1M9 21.5h1M11 21.5h1M13 21.5h1M19 21.5h1M25 21.5h1M30 21.5h1M43 21.5h1M50 21.5h1M63 21.5h1M70 21.5h1M73 21.5h1M75 21.5h2M78 21.5h1M1 22.5h1M5 22.5h1M18 22.5h1M30 22.5h1M43 22.5h1M53 22.5h1M55 22.5h1M69 22.5h1M3 23.5h1M6 23.5h1M13 23.5h1M17 23.5h1M20 23.5h1M23 23.5h1M44 23.5h1M57 23.5h1M63 23.5h1M78 23.5h1M3 24.5h1M9 24.5h2M27 24.5h1M32 24.5h1M47 24.5h1M50 24.5h2M55 24.5h2M76 24.5h1M13 25.5h1M21 25.5h1M32 25.5h1M43 25.5h1M46 25.5h1M49 25.5h1M51 25.5h1M55 25.5h2M59 25.5h1M65 25.5h1M72 25.5h1M74 25.5h1M4 26.5h1M7 26.5h1M11 26.5h1M16 26.5h2M21 26.5h2M57 26.5h2M62 26.5h1M69 26.5h1M71 26.5h1M3 27.5h1M24 27.5h1M50 27.5h1M54 27.5h1M58 27.5h1M67 27.5h4M73 27.5h1M11 28.5h2M20 28.5h1M24 28.5h1M56 28.5h1M63 28.5h1M65 28.5h1M78 28.5h1M8 29.5h1M10 29.5h1M12 29.5h1M18 29.5h1M23 29.5h1M28 29.5h1M60 29.5h1M7 30.5h1M10 30.5h1M45 30.5h1M49 30.5h1M54 30.5h5M67 30.5h1M52 31.5h1M56 31.5h1M71 31.5h1M74 31.5h1M76 31.5h1M12 32.5h1M17 32.5h1M45 32.5h1M47 32.5h1M51 32.5h1M67 32.5h1M69 32.5h2M73 32.5h1M4 33.5h2M10 33.5h1M20 33.5h1M57 33.5h1M65 33.5h1M71 33.5h1M28 34.5h1M30 34.5h1M48 34.5h1M55 34.5h1M74 34.5h1M3 35.5h1M7 35.5h1M11 35.5h2M31 35.5h1M44 35.5h1M48 35.5h2M51 35.5h1M57 35.5h1M66 35.5h1M71 35.5h1M78 35.5h1M22 36.5h1M27 36.5h1M32 36.5h1M44 36.5h1M51 36.5h1M60 36.5h1M64 36.5h1M70 36.5h1M31 37.5h1M52 37.5h2M55 37.5h1M61 37.5h1M65 37.5h1M68 37.5h1M71 37.5h3M2 38.5h2M15 38.5h1M17 38.5h3M22 38.5h1M60 38.5h1M64 38.5h1M67 38.5h2M78 38.5h1M10 39.5h1M18 39.5h1M23 39.5h2M47 39.5h2M50 39.5h1M53 39.5h1M58 39.5h1M62 39.5h3M67 39.5h1M71 39.5h1M0 40.5h1M8 40.5h1M10 40.5h1M12 40.5h1M31 40.5h1M46 40.5h1M51 40.5h1M55 40.5h1M62 40.5h1M64 40.5h2M69 40.5h1M72 40.5h1M8 41.5h1M30 41.5h1M58 41.5h1M60 41.5h1M8 42.5h1M15 42.5h1M21 42.5h1M27 42.5h1M47 42.5h1M62 42.5h1M64 42.5h1M71 42.5h1M75 42.5h1M6 43.5h1M18 43.5h1M22 43.5h1M29 43.5h1M31 43.5h1M52 43.5h2M58 43.5h1M68 43.5h2M71 43.5h1M75 43.5h1M0 44.5h1M5 44.5h1M10 44.5h2M53 44.5h2M56 44.5h1M58 44.5h2M64 44.5h1M67 44.5h1M70 44.5h1M0 45.5h1M11 45.5h1M45 45.5h1M51 45.5h1M57 45.5h1M64 45.5h1M72 45.5h1M76 45.5h1M1 46.5h1M5 46.5h1M21 46.5h1M24 46.5h1M33 46.5h1M47 46.5h1M55 46.5h1M61 46.5h2M0 47.5h1M15 47.5h1M17 47.5h1M26 47.5h1M47 47.5h1M52 47.5h1M60 47.5h1M62 47.5h1M76 47.5h1M10 48.5h1M13 48.5h1M15 48.5h1M20 48.5h1M24 48.5h1M53 48.5h1M56 48.5h1M65 48.5h1M72 48.5h1M14 49.5h2M48 49.5h1M55 49.5h1M60 49.5h1M66 49.5h1M73 49.5h1M5 50.5h1M8 50.5h2M53 50.5h1M57 50.5h1M67 50.5h1M71 50.5h1M77 50.5h1M5 51.5h1M18 51.5h1M54 51.5h3M58 51.5h1M61 51.5h1M63 51.5h1M75 51.5h1M77 51.5h1M5 52.5h1M8 52.5h1M51 52.5h2M61 52.5h2M71 52.5h1M77 52.5h1M12 53.5h1M18 53.5h1M29 53.5h1M49 53.5h1M74 53.5h2M77 53.5h1M1 54.5h1M17 54.5h1M20 54.5h2M26 54.5h1M44 54.5h1M48 54.5h1M50 54.5h1M53 54.5h1M60 54.5h1M68 54.5h2M71 54.5h1M77 54.5h1M5 55.5h1M20 55.5h1M27 55.5h1M69 55.5h1M76 55.5h2M2 56.5h1M6 56.5h1M11 56.5h3M20 56.5h1M24 56.5h1M26 56.5h1M28 56.5h1M54 56.5h1M62 56.5h1M66 56.5h1M70 56.5h2M3 57.5h1M17 57.5h2M23 57.5h1M26 57.5h1M50 57.5h1M56 57.5h1M59 57.5h1M63 57.5h1M77 57.5h1M10 58.5h1M24 58.5h1M52 58.5h1M57 58.5h1M61 58.5h1M72 58.5h1M75 58.5h1M8 59.5h1M14 59.5h1M19 59.5h2M29 59.5h1M55 59.5h1M64 59.5h1M73 59.5h1M75 59.5h1M30 60.5h1M52 60.5h1M54 60.5h1M56 60.5h2M63 60.5h2M4 61.5h1M7 61.5h1M18 61.5h1M21 61.5h1M27 61.5h1M32 61.5h1M52 61.5h1M62 61.5h1M65 61.5h1M69 61.5h1M73 61.5h2M1 62.5h1M5 62.5h1M8 62.5h2M12 62.5h1M26 62.5h1M49 62.5h1M26 63.5h1M49 63.5h1M61 63.5h1M64 63.5h1M71 63.5h1M1 64.5h1M6 64.5h1M9 64.5h3M14 64.5h1M20 64.5h3M25 64.5h2M67 64.5h1M69 64.5h1M72 64.5h1M9 65.5h1M17 65.5h1M20 65.5h1M64 65.5h3M68 65.5h1M74 65.5h1M77 65.5h1M6 66.5h1M9 66.5h1M12 66.5h1M16 66.5h1M20 66.5h1M27 66.5h1M57 66.5h1M68 66.5h2M72 66.5h1M6 67.5h1M18 67.5h1M62 67.5h1M10 68.5h1M16 68.5h1M18 68.5h1M24 68.5h1M59 68.5h2M67 68.5h1M72 68.5h1M74 68.5h1M78 68.5h1M20 69.5h1M51 69.5h2M56 69.5h1M65 69.5h1M67 69.5h2M73 69.5h1M78 69.5h1M1 70.5h1M69 70.5h1M73 70.5h2M12 71.5h2M17 71.5h1M26 71.5h1M47 71.5h1M54 71.5h1M57 71.5h1M61 71.5h1M63 71.5h1M66 71.5h1M77 71.5h1M12 72.5h1M27 72.5h1M56 72.5h1M60 72.5h2M65 72.5h1M69 72.5h2M74 72.5h1M78 72.5h1M11 73.5h1M14 73.5h1M18 73.5h1M24 73.5h1M26 73.5h1M72 73.5h3M2 74.5h1M13 74.5h2M27 74.5h1M32 74.5h1M58 74.5h1M63 74.5h1M68 74.5h2M72 74.5h1M74 74.5h1M5 75.5h2M10 75.5h1M18 75.5h1M25 75.5h1M28 75.5h1M31 75.5h1M47 75.5h1M56 75.5h1M62 75.5h1M67 75.5h1M72 75.5h1M7 76.5h1M16 76.5h1M18 76.5h1M73 76.5h1M76 76.5h1M26 77.5h1M50 77.5h1M56 77.5h1M2 78.5h1M5 78.5h2M21 78.5h1M25 78.5h2M46 78.5h1M54 78.5h2M46 79.5h1M50 79.5h1M57 79.5h1M59 79.5h1M76 79.5h1M0 80.5h1M13 80.5h1M17 80.5h1M25 80.5h1M53 80.5h2M58 80.5h1M62 80.5h1M67 80.5h1M69 80.5h1M75 80.5h2M78 80.5h1M7 81.5h1M10 81.5h1M12 81.5h1M14 81.5h1M21 81.5h1M48 81.5h1M51 81.5h1M74 81.5h1M4 82.5h1M12 82.5h1M52 82.5h1M56 82.5h1M60 82.5h1M64 82.5h2M68 82.5h1M71 82.5h1M9 83.5h1M14 83.5h1M24 83.5h1M51 83.5h2M1 84.5h1M12 84.5h1M14 84.5h1M17 84.5h3M29 84.5h1M60 84.5h1M64 84.5h2M74 84.5h1M1 85.5h1M8 85.5h1M12 85.5h1M18 85.5h2M22 85.5h1M26 85.5h1M64 85.5h1M67 85.5h1M70 85.5h1M72 85.5h2M76 85.5h1M78 85.5h1M1 86.5h1M8 86.5h1M16 86.5h1M51 86.5h1M55 86.5h1M60 86.5h1M76 86.5h2M7 87.5h1M9 87.5h1M11 87.5h2M14 87.5h1M29 87.5h1M56 87.5h1M61 87.5h1M64 87.5h2M67 87.5h1M71 87.5h1M73 87.5h1M2 88.5h1M7 88.5h1M14 88.5h1M17 88.5h1M23 88.5h1M65 88.5h1M68 88.5h1M70 88.5h1M77 88.5h1M6 89.5h1M25 89.5h1M53 89.5h1M55 89.5h1M63 89.5h1M66 89.5h1M71 89.5h1M8 90.5h1M53 90.5h1M70 90.5h1M78 90.5h1M12 91.5h1M18 91.5h1M59 91.5h1M61 91.5h1M72 91.5h1M0 92.5h1M3 92.5h1M17 92.5h1M25 92.5h1M48 92.5h1M50 92.5h1M62 92.5h1M66 92.5h1M69 92.5h1M74 92.5h1M4 93.5h1M20 93.5h1M60 93.5h1M67 93.5h1M0 94.5h1M3 94.5h1M11 94.5h1M13 94.5h1M15 94.5h1M47 94.5h1M62 94.5h1M67 94.5h1M69 94.5h1M73 94.5h1M77 94.5h1M7 95.5h1M19 95.5h1M46 95.5h1M53 95.5h1M55 95.5h1M68 95.5h1M73 95.5h1M4 96.5h1M10 96.5h1M20 96.5h1M24 96.5h1M27 96.5h1M52 96.5h1M59 96.5h1M63 96.5h2M72 96.5h1M78 96.5h1M8 97.5h1M10 97.5h1M13 97.5h1M15 97.5h1M20 97.5h1M61 97.5h1M72 97.5h2M7 98.5h1M10 98.5h1M16 98.5h3M51 98.5h1M53 98.5h1M63 98.5h1M65 98.5h1M78 98.5h1M3 99.5h1M5 99.5h1M26 99.5h1M63 99.5h1M66 99.5h1M69 99.5h1M78 99.5h1M1 100.5h1M21 100.5h2M55 100.5h1M64 100.5h1M4 101.5h1M13 101.5h1M16 101.5h2M52 101.5h1M58 101.5h1M64 101.5h1M74 101.5h1M77 101.5h2M7 102.5h1M66 102.5h1M77 102.5h1M1 103.5h1M4 103.5h1M14 103.5h1M58 103.5h1M60 103.5h1M66 103.5h1M69 103.5h1M72 103.5h1M14 104.5h1M24 104.5h1M53 104.5h1M68 104.5h1M0 105.5h2M10 105.5h1M55 105.5h1M61 105.5h1M63 105.5h1M72 105.5h1M75 105.5h2M78 105.5h1M0 106.5h1M11 106.5h2M17 106.5h1M58 106.5h1M60 106.5h1M65 106.5h1M1 107.5h1M3 107.5h1M56 107.5h1M60 107.5h1M63 107.5h1M71 107.5h1M75 107.5h1M7 108.5h1M15 108.5h1M51 108.5h1M66 108.5h1M68 108.5h1M72 108.5h1M75 108.5h1M78 108.5h1M3 109.5h1M8 109.5h1M10 109.5h2M16 109.5h1M55 109.5h1M64 109.5h2M74 109.5h2M78 109.5h1M1 110.5h1M16 110.5h1M19 110.5h1M61 110.5h1M66 110.5h1M75 110.5h1M0 111.5h1M7 111.5h1M9 111.5h1M17 111.5h1M26 111.5h1M57 111.5h1M59 111.5h1M61 111.5h2M2 112.5h1M9 112.5h1M13 112.5h1M21 112.5h1M27 112.5h1M58 112.5h2M66 112.5h2M77 112.5h1M8 113.5h1M12 113.5h1M24 113.5h1M58 113.5h3M63 113.5h1M68 113.5h1M1 114.5h1M4 114.5h1M6 114.5h1M9 114.5h1M17 114.5h1M60 114.5h1M74 114.5h1M2 115.5h2M6 115.5h1M27 115.5h1M51 115.5h1M59 115.5h1M62 115.5h1M73 115.5h1M77 115.5h1M2 116.5h1M5 116.5h1M12 116.5h1M14 116.5h1M57 116.5h1M59 116.5h2M70 116.5h2M2 117.5h1M11 117.5h1M16 117.5h1M51 117.5h1M57 117.5h1M59 117.5h1M64 117.5h1M6 118.5h1M21 118.5h1M58 118.5h1M66 118.5h1M24 119.5h1M69 119.5h2M73 119.5h1M3 120.5h2M8 120.5h2M57 120.5h1M64 120.5h1M67 120.5h1M71 120.5h1M73 120.5h1M7 121.5h2M10 121.5h1M19 121.5h1M10 122.5h1M17 122.5h2M56 122.5h1M60 122.5h1M66 122.5h1M69 122.5h1M76 122.5h1M6 123.5h1M15 123.5h1M18 123.5h1M57 123.5h1M78 123.5h1M5 124.5h1M8 124.5h1M11 124.5h1M60 124.5h2M63 124.5h3M74 124.5h1M19 125.5h1M56 125.5h1M73 125.5h1M75 125.5h1M1 126.5h1M8 126.5h1M13 126.5h1M17 126.5h1M59 126.5h1M61 126.5h1M63 126.5h1M68 126.5h1"/>
<path stroke="#440f76" d="M2 0.5h1M10 0.5h1M20 0.5h1M24 0.5h1M27 0.5h2M31 0.5h1M38 0.5h1M42 0.5h1M44 0.5h2M48 0.5h1M59 0.5h1M66 0.5h1M5 1.5h1M13 1.5h1M17 1.5h1M23 1.5h1M27 1.5h1M34 1.5h2M48 1.5h1M59 1.5h1M62 1.5h1M68 1.5h1M6 2.5h1M15 2.5h1M24 2.5h2M36 2.5h1M54 2.5h1M71 2.5h1M78 2.5h1M18 3.5h1M22 3.5h2M43 3.5h1M52 3.5h1M1 4.5h1M40 4.5h1M42 4.5h1M54 4.5h1M57 4.5h1M62 4.5h1M69 4.5h1M77 4.5h1M8 5.5h1M19 5.5h1M24 5.5h1M29 5.5h1M53 5.5h1M68 5.5h1M33 6.5h1M35 6.5h1M46 6.5h1M51 6.5h1M53 6.5h1M55 6.5h1M65 6.5h1M2 7.5h1M17 7.5h1M28 7.5h1M44 7.5h1M54 7.5h1M63 7.5h1M71 7.5h1M78 7.5h1M9 8.5h1M13 8.5h1M22 8.5h3M31 8.5h1M37 8.5h1M39 8.5h1M46 8.5h1M58 8.5h1M60 8.5h1M66 8.5h1M72 8.5h1M0 9.5h1M13 9.5h2M19 9.5h1M23 9.5h1M26 9.5h1M28 9.5h1M42 9.5h1M53 9.5h1M68 9.5h1M70 9.5h1M78 9.5h1M9 10.5h1M11 10.5h1M18 10.5h1M39 10.5h2M54 10.5h1M60 10.5h1M66 10.5h1M75 10.5h1M16 11.5h1M25 11.5h1M38 11.5h1M61 11.5h1M75 11.5h1M0 12.5h1M12 12.5h1M33 12.5h1M50 12.5h1M58 12.5h1M65 12.5h1M69 12.5h1M75 12.5h1M77 12.5h2M1 13.5h1M7 13.5h1M12 13.5h2M40 13.5h1M52 13.5h1M59 13.5h2M65 13.5h1M67 13.5h1M76 13.5h1M2 14.5h1M4 14.5h1M6 14.5h1M55 14.5h2M65 14.5h1M70 14.5h1M74 14.5h1M26 15.5h1M28 15.5h1M36 15.5h2M41 15.5h1M45 15.5h1M68 15.5h1M76 15.5h1M0 16.5h1M15 16.5h2M27 16.5h1M35 16.5h1M45 16.5h1M59 16.5h1M72 16.5h1M74 16.5h3M0 17.5h1M3 17.5h1M10 17.5h2M17 17.5h1M19 17.5h1M24 17.5h1M27 17.5h2M34 17.5h1M40 17.5h1M46 17.5h1M48 17.5h2M53 17.5h1M58 17.5h1M66 17.5h1M78 17.5h1M4 18.5h1M23 18.5h1M27 18.5h1M41 18.5h2M47 18.5h1M62 18.5h1M64 18.5h1M66 18.5h1M72 18.5h1M14 19.5h1M18 19.5h1M21 19.5h1M25 19.5h2M29 19.5h1M36 19.5h1M42 19.5h1M55 19.5h1M58 19.5h1M64 19.5h1M12 20.5h1M14 20.5h1M18 20.5h1M21 20.5h1M26 20.5h1M30 20.5h1M47 20.5h2M57 20.5h2M67 20.5h1M70 20.5h1M72 20.5h1M77 20.5h1M1 21.5h1M20 21.5h1M47 21.5h1M67 21.5h1M69 21.5h1M2 22.5h1M8 22.5h1M21 22.5h1M28 22.5h1M32 22.5h3M61 22.5h1M64 22.5h1M66 22.5h1M77 22.5h1M2 23.5h1M5 23.5h1M14 23.5h1M19 23.5h1M24 23.5h1M30 23.5h1M32 23.5h1M72 23.5h2M77 23.5h1M1 24.5h1M14 24.5h1M16 24.5h1M19 24.5h1M52 24.5h1M59 24.5h1M73 24.5h1M2 25.5h2M10 25.5h2M18 25.5h1M47 25.5h1M52 25.5h1M67 25.5h1M70 25.5h1M75 25.5h1M77 25.5h1M3 26.5h1M13 26.5h1M23 26.5h1M25 26.5h1M32 26.5h1M43 26.5h1M49 26.5h1M51 26.5h1M53 26.5h2M60 26.5h2M66 26.5h1M70 26.5h1M73 26.5h1M77 26.5h1M12 27.5h2M16 27.5h1M28 27.5h1M43 27.5h1M52 27.5h1M59 27.5h1M62 27.5h1M77 27.5h1M9 28.5h1M23 28.5h1M25 28.5h1M30 28.5h1M48 28.5h2M55 28.5h1M61 28.5h1M64 28.5h1M77 28.5h1M21 29.5h1M25 29.5h1M31 29.5h1M35 29.5h1M51 29.5h2M54 29.5h1M57 29.5h1M72 29.5h1M74 29.5h2M5 30.5h1M11 30.5h1M17 30.5h2M25 30.5h1M31 30.5h1M33 30.5h1M52 30.5h1M77 30.5h1M5 31.5h1M7 31.5h2M14 31.5h1M18 31.5h1M57 31.5h1M59 31.5h1M64 31.5h1M68 31.5h1M70 31.5h1M0 32.5h1M2 32.5h1M5 32.5h1M8 32.5h1M10 32.5h1M13 32.5h1M16 32.5h1M20 32.5h1M22 32.5h1M34 32.5h1M55 32.5h1M71 32.5h1M8 33.5h1M16 33.5h1M21 33.5h2M31 33.5h1M55 33.5h1M72 33.5h1M77 33.5h1M4 34.5h1M6 34.5h1M10 34.5h1M16 34.5h1M49 34.5h1M71 34.5h1M76 34.5h2M0 35.5h1M21 35.5h2M26 35.5h1M34 35.5h1M50 35.5h1M59 35.5h1M6 36.5h3M17 36.5h1M21 36.5h1M25 36.5h1M33 36.5h1M57 36.5h1M71 36.5h1M73 36.5h1M0 37.5h1M9 37.5h2M45 37.5h1M57 37.5h1M69 37.5h1M1 38.5h1M7 38.5h1M30 38.5h2M47 38.5h1M49 38.5h2M57 38.5h1M66 38.5h1M71 38.5h1M5 39.5h1M22 39.5h1M30 39.5h1M45 39.5h1M56 39.5h1M70 39.5h1M2 40.5h1M23 40.5h3M30 40.5h1M54 40.5h1M58 40.5h2M75 40.5h1M77 40.5h1M5 41.5h1M7 41.5h1M18 41.5h1M21 41.5h1M45 41.5h1M49 41.5h1M54 41.5h1M57 41.5h1M67 41.5h1M69 41.5h1M10 42.5h1M16 42.5h1M20 42.5h1M25 42.5h1M32 42.5h1M48 42.5h1M50 42.5h1M54 42.5h1M3 43.5h1M13 43.5h1M47 43.5h1M57 43.5h1M59 43.5h1M9 44.5h1M62 44.5h1M72 44.5h1M2 45.5h1M4 45.5h1M8 45.5h1M16 45.5h1M26 45.5h1M28 45.5h1M49 45.5h1M66 45.5h1M18 46.5h1M25 46.5h1M29 46.5h1M51 46.5h1M63 46.5h1M73 46.5h1M13 47.5h1M46 47.5h1M50 47.5h1M54 47.5h1M56 47.5h1M64 47.5h1M68 47.5h3M72 47.5h1M74 47.5h1M77 47.5h1M7 48.5h1M9 48.5h1M17 48.5h1M19 48.5h1M29 48.5h1M51 48.5h1M58 48.5h1M60 48.5h1M71 48.5h1M2 49.5h2M17 49.5h1M26 49.5h1M46 49.5h1M49 49.5h2M57 49.5h1M59 49.5h1M65 49.5h1M75 49.5h1M14 50.5h1M19 50.5h1M21 50.5h3M49 50.5h1M52 50.5h1M54 50.5h1M62 50.5h1M69 50.5h1M75 50.5h1M4 51.5h1M7 51.5h1M9 51.5h1M11 51.5h1M19 51.5h1M23 51.5h2M26 51.5h1M51 51.5h1M59 51.5h1M68 51.5h1M78 51.5h1M9 52.5h2M16 52.5h1M33 52.5h1M44 52.5h1M49 52.5h1M76 52.5h1M0 53.5h1M6 53.5h1M9 53.5h1M11 53.5h1M26 53.5h1M45 53.5h1M47 53.5h1M56 53.5h1M63 53.5h1M71 53.5h1M78 53.5h1M0 54.5h1M3 54.5h1M52 54.5h1M54 54.5h1M62 54.5h1M66 54.5h1M2 55.5h2M13 55.5h1M19 55.5h1M51 55.5h2M55 55.5h1M63 55.5h1M70 55.5h1M74 55.5h1M3 56.5h1M23 56.5h1M30 56.5h1M50 56.5h1M59 56.5h1M22 57.5h1M48 57.5h1M1 58.5h2M5 58.5h1M19 58.5h1M26 58.5h1M54 58.5h1M64 58.5h1M68 58.5h1M77 58.5h1M0 59.5h1M4 59.5h2M11 59.5h1M23 59.5h1M27 59.5h1M48 59.5h1M50 59.5h1M52 59.5h1M68 59.5h1M71 59.5h1M74 59.5h1M14 60.5h1M25 60.5h1M47 60.5h1M65 60.5h1M70 60.5h1M72 60.5h1M75 60.5h1M23 61.5h3M28 61.5h1M30 61.5h1M49 61.5h1M53 61.5h1M57 61.5h1M67 61.5h1M75 61.5h1M77 61.5h1M16 62.5h2M19 62.5h1M25 62.5h1M56 62.5h1M62 62.5h1M72 62.5h1M10 63.5h1M21 63.5h1M24 63.5h2M47 63.5h1M52 63.5h1M54 63.5h1M65 63.5h1M69 63.5h1M73 63.5h1M15 64.5h1M29 64.5h1M66 64.5h1M71 64.5h1M78 64.5h1M10 65.5h1M13 65.5h1M32 65.5h1M78 65.5h1M4 66.5h1M22 66.5h1M25 66.5h1M58 66.5h1M63 66.5h1M67 66.5h1M78 66.5h1M2 67.5h1M4 67.5h1M21 67.5h1M25 67.5h1M46 67.5h1M52 67.5h1M54 67.5h1M56 67.5h1M73 67.5h1M8 68.5h1M12 68.5h1M14 68.5h2M26 68.5h1M57 68.5h1M1 69.5h1M13 69.5h1M17 69.5h3M50 69.5h1M54 69.5h1M57 69.5h1M0 70.5h1M3 70.5h1M6 70.5h1M9 70.5h1M11 70.5h1M15 70.5h1M17 70.5h1M56 70.5h1M63 70.5h1M65 70.5h1M75 70.5h1M3 71.5h1M16 71.5h1M19 71.5h1M21 71.5h2M55 71.5h1M2 72.5h1M5 72.5h1M9 72.5h1M20 72.5h1M49 72.5h1M52 72.5h1M63 72.5h1M72 72.5h1M47 73.5h1M50 73.5h1M58 73.5h1M3 74.5h1M11 74.5h1M15 74.5h2M22 74.5h1M51 74.5h1M59 74.5h1M65 74.5h1M4 75.5h1M12 75.5h1M19 75.5h1M49 75.5h1M54 75.5h1M1 76.5h1M4 76.5h1M25 76.5h1M48 76.5h1M62 76.5h1M64 76.5h1M77 76.5h1M4 77.5h1M17 77.5h2M22 77.5h2M29 77.5h1M45 77.5h1M49 77.5h1M55 77.5h1M59 77.5h1M64 77.5h1M74 77.5h1M77 77.5h1M9 78.5h1M45 78.5h1M58 78.5h1M65 78.5h1M68 78.5h2M73 78.5h1M6 79.5h1M11 79.5h1M15 79.5h1M17 79.5h1M19 79.5h1M21 79.5h1M24 79.5h1M61 79.5h1M2 80.5h1M4 80.5h1M22 80.5h1M24 80.5h1M27 80.5h1M49 80.5h1M52 80.5h1M55 80.5h1M57 80.5h1M68 80.5h1M74 80.5h1M5 81.5h1M18 81.5h1M23 81.5h1M26 81.5h1M31 81.5h1M52 81.5h1M54 81.5h2M57 81.5h1M65 81.5h1M3 82.5h1M9 82.5h1M18 82.5h1M23 82.5h1M25 82.5h3M29 82.5h1M45 82.5h1M55 82.5h1M8 83.5h1M21 83.5h1M59 83.5h1M63 83.5h1M66 83.5h2M70 83.5h1M2 84.5h1M15 84.5h1M51 84.5h1M57 84.5h1M59 84.5h1M76 84.5h2M7 85.5h1M10 85.5h1M16 85.5h1M30 85.5h1M49 85.5h1M53 85.5h2M62 85.5h1M0 86.5h1M5 86.5h1M7 86.5h1M54 86.5h1M62 86.5h2M74 86.5h1M19 87.5h1M21 87.5h1M26 87.5h1M52 87.5h2M60 87.5h1M68 87.5h1M76 87.5h1M4 88.5h1M11 88.5h1M24 88.5h1M28 88.5h1M72 88.5h1M74 88.5h1M78 88.5h1M3 89.5h3M13 89.5h1M19 89.5h1M22 89.5h1M54 89.5h1M72 89.5h1M74 89.5h1M76 89.5h1M2 90.5h1M9 90.5h1M12 90.5h1M21 90.5h3M49 90.5h2M73 90.5h1M1 91.5h1M5 91.5h1M49 91.5h1M52 91.5h2M58 91.5h1M60 91.5h1M63 91.5h1M74 91.5h1M77 91.5h1M11 92.5h2M16 92.5h1M18 92.5h1M24 92.5h1M67 92.5h1M71 92.5h1M78 92.5h1M7 93.5h1M27 93.5h1M55 93.5h1M57 93.5h1M59 93.5h1M75 93.5h1M10 94.5h1M17 94.5h1M19 94.5h2M25 94.5h1M27 94.5h1M50 94.5h1M52 94.5h2M55 94.5h2M63 94.5h1M65 94.5h2M78 94.5h1M6 95.5h1M12 95.5h3M52 95.5h1M57 95.5h1M61 95.5h1M63 95.5h1M3 96.5h1M8 96.5h1M49 96.5h1M54 96.5h1M57 96.5h1M60 96.5h1M76 96.5h1M4 97.5h1M23 97.5h1M74 97.5h2M1 98.5h1M13 98.5h1M27 98.5h1M57 98.5h1M59 98.5h1M75 98.5h1M8 99.5h2M15 99.5h1M19 99.5h1M21 99.5h1M29 99.5h1M49 99.5h1M58 99.5h1M62 99.5h1M71 99.5h1M74 99.5h1M15 100.5h1M19 100.5h2M56 100.5h1M60 100.5h1M78 100.5h1M7 101.5h1M12 101.5h1M18 101.5h1M21 101.5h2M24 101.5h1M61 101.5h1M65 101.5h1M70 101.5h1M14 102.5h2M46 102.5h2M69 102.5h1M71 102.5h1M2 103.5h1M7 103.5h1M15 103.5h1M21 103.5h1M51 103.5h1M63 103.5h1M71 103.5h1M75 103.5h1M77 103.5h1M9 104.5h1M12 104.5h1M19 104.5h1M27 104.5h1M48 104.5h1M50 104.5h1M60 104.5h1M62 104.5h1M65 104.5h1M76 104.5h1M9 105.5h1M11 105.5h2M18 105.5h3M26 105.5h2M48 105.5h1M62 105.5h1M64 105.5h1M70 105.5h1M3 106.5h1M8 106.5h1M22 106.5h1M52 106.5h1M57 106.5h1M59 106.5h1M70 106.5h1M2 107.5h1M13 107.5h1M18 107.5h1M46 107.5h1M53 107.5h2M58 107.5h1M5 108.5h1M11 108.5h2M19 108.5h1M21 108.5h1M52 108.5h1M57 108.5h1M70 108.5h1M9 109.5h1M13 109.5h1M21 109.5h2M28 109.5h1M54 109.5h1M50 110.5h1M54 110.5h1M5 111.5h1M18 111.5h1M52 111.5h1M54 111.5h1M67 111.5h1M74 111.5h2M15 112.5h1M17 112.5h1M62 112.5h1M65 112.5h1M68 112.5h1M71 112.5h1M75 112.5h1M0 113.5h1M6 113.5h1M11 113.5h1M13 113.5h1M16 113.5h1M22 113.5h1M29 113.5h1M69 113.5h1M76 113.5h1M5 114.5h1M16 114.5h1M20 114.5h2M24 114.5h1M52 114.5h1M55 114.5h1M68 114.5h1M75 114.5h1M4 115.5h1M8 115.5h1M11 115.5h1M13 115.5h1M60 115.5h1M64 115.5h1M69 115.5h1M9 116.5h1M52 116.5h2M58 116.5h1M65 116.5h1M69 116.5h1M72 116.5h1M12 117.5h1M54 117.5h1M56 117.5h1M58 117.5h1M68 117.5h1M70 117.5h1M17 118.5h1M23 118.5h1M27 118.5h1M55 118.5h3M62 118.5h1M64 118.5h1M67 118.5h2M70 118.5h1M4 119.5h1M7 119.5h2M12 119.5h2M16 119.5h1M19 119.5h1M21 119.5h1M23 119.5h1M54 119.5h1M60 119.5h3M65 119.5h1M6 120.5h1M27 120.5h1M69 120.5h1M72 120.5h1M75 120.5h1M78 120.5h1M5 121.5h1M12 121.5h1M60 121.5h1M74 121.5h1M4 122.5h1M6 122.5h1M9 122.5h1M15 122.5h1M22 122.5h1M7 123.5h1M16 123.5h1M19 123.5h1M60 123.5h1M66 123.5h1M70 123.5h1M72 123.5h1M75 123.5h1M77 123.5h1M6 124.5h2M16 124.5h1M23 124.5h1M57 124.5h1M68 124.5h1M72 124.5h1M75 124.5h1M6 125.5h1M13 125.5h1M20 125.5h2M24 125.5h1M60 125.5h1M71 125.5h1M0 126.5h1M6 126.5h2M10 126.5h1M12 126.5h1M18 126.5h1M66 126.5h1"/>
<path stroke="#491078" d="M16 0.5h1M34 0.5h1M52 0.5h2M58 0.5h1M63 0.5h1M2 1.5h2M14 1.5h1M20 1.5h1M22 1.5h1M26 1.5h1M29 1.5h1M43 1.5h1M50 1.5h1M56 1.5h1M69 1.5h1M2 2.5h1M5 2.5h1M9 2.5h1M12 2.5h1M26 2.5h1M30 2.5h1M43 2.5h2M49 2.5h1M0 3.5h1M13 3.5h1M19 3.5h1M31 3.5h1M34 3.5h1M38 3.5h1M41 3.5h2M46 3.5h1M50 3.5h1M59 3.5h1M70 3.5h1M72 3.5h1M78 3.5h1M11 4.5h1M17 4.5h1M29 4.5h1M31 4.5h3M39 4.5h1M43 4.5h2M59 4.5h1M66 4.5h1M68 4.5h1M71 4.5h1M75 4.5h1M13 5.5h1M15 5.5h1M32 5.5h2M40 5.5h1M46 5.5h1M49 5.5h1M61 5.5h1M65 5.5h1M67 5.5h1M1 6.5h1M6 6.5h1M10 6.5h1M17 6.5h1M26 6.5h1M28 6.5h1M32 6.5h1M40 6.5h1M42 6.5h1M47 6.5h1M67 6.5h1M75 6.5h1M8 7.5h1M15 7.5h1M19 7.5h2M37 7.5h1M43 7.5h1M45 7.5h1M51 7.5h1M58 7.5h1M75 7.5h1M7 8.5h1M16 8.5h1M28 8.5h1M41 8.5h1M54 8.5h1M59 8.5h1M21 9.5h1M30 9.5h1M34 9.5h1M39 9.5h1M41 9.5h1M43 9.5h1M45 9.5h2M74 9.5h1M10 10.5h1M17 10.5h1M27 10.5h1M31 10.5h1M42 10.5h1M58 10.5h1M62 10.5h1M2 11.5h1M5 11.5h1M7 11.5h1M11 11.5h1M29 11.5h1M31 11.5h1M42 11.5h1M44 11.5h1M47 11.5h1M52 11.5h1M78 11.5h1M3 12.5h2M17 12.5h1M23 12.5h1M29 12.5h1M32 12.5h1M40 12.5h3M47 12.5h1M53 12.5h1M6 13.5h1M16 13.5h1M18 13.5h1M31 13.5h1M38 13.5h1M58 13.5h1M68 13.5h1M71 13.5h2M11 14.5h1M15 14.5h1M22 14.5h1M24 14.5h1M28 14.5h1M30 14.5h1M32 14.5h1M58 14.5h1M69 14.5h1M76 14.5h1M2 15.5h1M13 15.5h1M20 15.5h1M22 15.5h1M34 15.5h1M49 15.5h1M55 15.5h1M60 15.5h1M73 15.5h1M14 16.5h1M41 16.5h1M46 16.5h1M54 16.5h1M70 16.5h1M4 17.5h1M20 17.5h1M31 17.5h2M50 17.5h1M69 17.5h1M5 18.5h2M9 18.5h2M12 18.5h2M44 18.5h1M46 18.5h1M49 18.5h1M61 18.5h1M68 18.5h1M77 18.5h1M5 19.5h1M8 19.5h2M23 19.5h1M27 19.5h2M30 19.5h1M48 19.5h1M65 19.5h1M76 19.5h1M0 20.5h1M15 20.5h1M28 20.5h2M31 20.5h1M50 20.5h1M52 20.5h1M60 20.5h1M65 20.5h2M5 21.5h4M12 21.5h1M28 21.5h1M9 22.5h1M12 22.5h1M22 22.5h1M24 22.5h1M26 22.5h1M54 22.5h1M10 23.5h1M27 23.5h2M31 23.5h1M43 23.5h1M67 23.5h1M12 24.5h1M28 24.5h1M46 24.5h1M66 24.5h1M71 24.5h1M8 25.5h1M17 25.5h1M23 25.5h1M25 25.5h1M28 25.5h1M45 25.5h1M53 25.5h2M60 25.5h1M62 25.5h1M66 25.5h1M68 25.5h2M71 25.5h1M78 25.5h1M14 26.5h1M20 26.5h1M24 26.5h1M29 26.5h1M31 26.5h1M42 26.5h1M46 26.5h1M56 26.5h1M64 26.5h1M67 26.5h1M75 26.5h1M78 26.5h1M6 27.5h1M11 27.5h1M61 27.5h1M65 27.5h2M8 28.5h1M13 28.5h1M44 28.5h1M66 28.5h1M71 28.5h1M0 29.5h1M6 29.5h1M17 29.5h1M24 29.5h1M29 29.5h1M32 29.5h1M50 29.5h1M66 29.5h1M50 30.5h1M59 30.5h1M71 30.5h1M76 30.5h1M1 31.5h1M4 31.5h1M13 31.5h1M16 31.5h1M21 31.5h1M24 31.5h1M32 31.5h1M34 31.5h1M46 31.5h1M51 31.5h1M63 31.5h1M77 31.5h1M7 32.5h1M15 32.5h1M28 32.5h1M36 32.5h1M44 32.5h1M61 32.5h1M7 33.5h1M11 33.5h1M25 33.5h1M35 33.5h1M45 33.5h1M47 33.5h1M51 33.5h1M60 33.5h1M66 33.5h1M5 34.5h1M11 34.5h1M21 34.5h2M25 34.5h1M47 34.5h1M50 34.5h1M60 34.5h1M64 34.5h1M72 34.5h1M13 35.5h1M18 35.5h1M25 35.5h1M42 35.5h1M47 35.5h1M64 35.5h1M67 35.5h1M70 35.5h1M0 36.5h1M30 36.5h1M45 36.5h1M48 36.5h3M68 36.5h1M76 36.5h2M4 37.5h1M6 37.5h1M12 37.5h1M14 37.5h2M28 37.5h1M49 37.5h1M59 37.5h1M62 37.5h1M76 37.5h1M0 38.5h1M25 38.5h1M63 38.5h1M73 38.5h1M4 39.5h1M8 39.5h1M11 39.5h1M17 39.5h1M20 39.5h1M25 39.5h1M34 39.5h1M59 39.5h1M65 39.5h1M73 39.5h1M75 39.5h1M1 40.5h1M7 40.5h1M9 40.5h1M13 40.5h1M15 40.5h1M20 40.5h1M22 40.5h1M44 40.5h1M1 41.5h1M3 41.5h1M6 41.5h1M9 41.5h1M17 41.5h1M46 41.5h1M50 41.5h2M71 41.5h1M14 42.5h1M17 42.5h1M22 42.5h1M51 42.5h1M53 42.5h1M56 42.5h1M67 42.5h1M10 43.5h1M14 43.5h1M19 43.5h1M45 43.5h2M54 43.5h1M72 43.5h1M77 43.5h1M24 44.5h2M45 44.5h1M51 44.5h1M55 44.5h1M60 44.5h1M77 44.5h1M3 45.5h1M17 45.5h1M30 45.5h2M55 45.5h1M58 45.5h1M60 45.5h1M65 45.5h1M70 45.5h1M73 45.5h2M4 46.5h1M10 46.5h1M12 46.5h1M35 46.5h1M49 46.5h1M54 46.5h1M58 46.5h1M78 46.5h1M5 47.5h1M16 47.5h1M29 47.5h1M43 47.5h1M61 47.5h1M8 48.5h1M12 48.5h1M14 48.5h1M16 48.5h1M18 48.5h1M21 48.5h1M27 48.5h1M31 48.5h1M54 48.5h1M64 48.5h1M73 48.5h1M4 49.5h1M6 49.5h1M28 49.5h1M32 49.5h1M45 49.5h1M47 49.5h1M56 49.5h1M68 49.5h1M72 49.5h1M13 50.5h1M16 50.5h1M24 50.5h2M32 50.5h1M15 51.5h1M28 51.5h1M45 51.5h1M47 51.5h1M53 51.5h1M60 51.5h1M62 51.5h1M32 52.5h1M54 52.5h1M66 52.5h1M72 52.5h1M75 52.5h1M8 53.5h1M24 53.5h1M50 53.5h1M52 53.5h2M4 54.5h1M9 54.5h1M16 54.5h1M25 54.5h1M78 54.5h1M14 55.5h1M22 55.5h1M32 55.5h1M49 55.5h1M78 55.5h1M9 56.5h1M19 56.5h1M48 56.5h1M73 56.5h1M4 57.5h1M9 57.5h1M14 57.5h1M16 57.5h1M19 57.5h1M21 57.5h1M61 57.5h1M64 57.5h1M69 57.5h1M73 57.5h1M0 58.5h1M23 58.5h1M48 58.5h1M53 58.5h1M59 58.5h1M71 58.5h1M76 58.5h1M10 59.5h1M33 59.5h1M56 59.5h1M58 59.5h1M63 59.5h1M70 59.5h1M0 60.5h1M10 60.5h2M17 60.5h1M22 60.5h1M24 60.5h1M55 60.5h1M9 61.5h1M48 61.5h1M64 61.5h1M78 61.5h1M7 62.5h1M11 62.5h1M24 62.5h1M57 62.5h1M63 62.5h1M11 63.5h1M15 63.5h1M18 63.5h1M23 63.5h1M48 63.5h1M51 63.5h1M60 63.5h1M70 63.5h1M77 63.5h1M44 64.5h1M46 64.5h1M49 64.5h1M51 64.5h1M55 64.5h1M58 64.5h1M68 64.5h1M73 64.5h1M18 65.5h1M21 65.5h1M26 65.5h2M49 65.5h1M54 65.5h2M60 65.5h2M70 65.5h1M76 65.5h1M0 66.5h1M3 66.5h1M5 66.5h1M14 66.5h1M23 66.5h1M28 66.5h1M1 67.5h1M8 67.5h4M15 67.5h1M20 67.5h1M22 67.5h2M30 67.5h1M57 67.5h1M76 67.5h1M17 68.5h1M47 68.5h1M52 68.5h1M76 68.5h1M22 69.5h1M29 69.5h1M47 69.5h1M55 69.5h1M58 69.5h1M72 69.5h1M2 70.5h1M13 70.5h1M18 70.5h1M20 70.5h1M47 70.5h1M49 70.5h1M53 70.5h1M70 70.5h2M11 71.5h1M24 71.5h1M28 71.5h1M60 71.5h1M78 71.5h1M10 72.5h1M23 72.5h1M28 72.5h1M48 72.5h1M50 72.5h2M59 72.5h1M71 72.5h1M76 72.5h1M9 73.5h1M16 73.5h1M23 73.5h1M52 73.5h1M54 73.5h1M61 73.5h2M77 73.5h1M24 74.5h1M30 74.5h1M46 74.5h3M3 75.5h1M11 75.5h1M14 75.5h1M17 75.5h1M22 75.5h1M24 75.5h1M26 75.5h2M52 75.5h1M59 75.5h1M75 75.5h1M2 76.5h1M8 76.5h4M21 76.5h1M28 76.5h1M30 76.5h1M51 76.5h1M57 76.5h1M60 76.5h1M69 76.5h2M1 77.5h1M7 77.5h1M9 77.5h2M13 77.5h1M16 77.5h1M25 77.5h1M54 77.5h1M66 77.5h1M78 77.5h1M19 78.5h1M31 78.5h1M48 78.5h1M50 78.5h2M78 78.5h1M4 79.5h2M13 79.5h1M23 79.5h1M28 79.5h1M53 79.5h2M62 79.5h1M8 80.5h1M16 80.5h1M30 80.5h1M45 80.5h1M72 80.5h1M77 80.5h1M2 81.5h1M4 81.5h1M6 81.5h1M11 81.5h1M15 81.5h1M22 81.5h1M62 81.5h1M68 81.5h1M1 82.5h1M7 82.5h2M19 82.5h1M30 82.5h1M49 82.5h1M63 82.5h1M74 82.5h1M1 83.5h2M4 83.5h1M29 83.5h1M46 83.5h1M56 83.5h1M60 83.5h1M25 84.5h1M44 84.5h1M49 84.5h1M55 84.5h1M15 85.5h1M21 85.5h1M29 85.5h1M50 85.5h1M60 85.5h1M63 85.5h1M65 85.5h1M9 86.5h2M12 86.5h1M14 86.5h1M24 86.5h1M28 86.5h1M46 86.5h1M48 86.5h1M68 86.5h1M3 87.5h1M13 87.5h1M25 87.5h1M28 87.5h1M50 87.5h1M55 87.5h1M58 87.5h1M72 87.5h1M78 87.5h1M3 88.5h1M9 88.5h1M12 88.5h1M16 88.5h1M21 88.5h1M50 88.5h1M53 88.5h1M56 88.5h2M59 88.5h1M67 88.5h1M73 88.5h1M7 89.5h1M9 89.5h1M11 89.5h1M20 89.5h2M29 89.5h1M50 89.5h1M16 90.5h1M28 90.5h1M51 90.5h1M58 90.5h3M68 90.5h1M77 90.5h1M7 91.5h1M24 91.5h2M27 91.5h1M29 91.5h1M46 91.5h1M48 91.5h1M67 91.5h1M75 91.5h1M6 92.5h1M19 92.5h2M28 92.5h1M31 92.5h2M53 92.5h1M55 92.5h1M60 92.5h1M73 92.5h1M0 93.5h1M8 93.5h1M10 93.5h1M13 93.5h1M28 93.5h1M50 93.5h1M64 93.5h3M2 94.5h1M8 94.5h1M12 94.5h1M14 94.5h1M28 94.5h1M54 94.5h1M5 95.5h1M9 95.5h1M16 95.5h2M21 95.5h1M24 95.5h1M28 95.5h1M47 95.5h1M54 95.5h1M62 95.5h1M72 95.5h1M76 95.5h1M22 96.5h2M29 96.5h1M56 96.5h1M61 96.5h1M68 96.5h1M73 96.5h1M1 97.5h1M12 97.5h1M14 97.5h1M21 97.5h1M55 97.5h1M59 97.5h1M68 97.5h1M70 97.5h1M4 98.5h1M24 98.5h1M50 98.5h1M58 98.5h1M0 99.5h1M13 99.5h1M51 99.5h2M55 99.5h2M14 100.5h1M16 100.5h1M26 100.5h1M50 100.5h1M57 100.5h1M72 100.5h1M77 100.5h1M14 101.5h1M19 101.5h1M23 101.5h1M49 101.5h1M51 101.5h1M71 101.5h1M73 101.5h1M16 102.5h1M20 102.5h1M28 102.5h1M63 102.5h1M68 102.5h1M16 103.5h1M19 103.5h1M59 103.5h1M64 103.5h1M6 104.5h1M22 104.5h1M49 104.5h1M58 104.5h1M61 104.5h1M77 104.5h2M50 105.5h1M65 105.5h1M7 106.5h1M13 106.5h2M20 106.5h2M23 106.5h1M53 106.5h1M61 106.5h1M69 106.5h1M0 107.5h1M4 107.5h1M7 107.5h1M15 107.5h1M21 107.5h1M27 107.5h2M59 107.5h1M72 107.5h1M76 107.5h1M78 107.5h1M1 108.5h1M4 108.5h1M6 108.5h1M16 108.5h1M22 108.5h1M0 109.5h1M15 109.5h1M57 109.5h2M61 109.5h1M6 110.5h1M23 110.5h1M26 110.5h1M52 110.5h1M55 110.5h1M58 110.5h1M70 110.5h1M76 110.5h1M4 111.5h1M10 111.5h1M15 111.5h2M20 111.5h1M22 111.5h1M27 111.5h1M63 111.5h1M66 111.5h1M70 111.5h1M72 111.5h1M52 112.5h1M60 112.5h2M4 113.5h1M10 113.5h1M21 113.5h1M54 113.5h1M78 113.5h1M0 114.5h1M10 114.5h2M13 114.5h1M15 114.5h1M54 114.5h1M57 114.5h1M64 114.5h1M71 114.5h1M7 115.5h1M10 115.5h1M20 115.5h1M25 115.5h1M61 115.5h1M63 115.5h1M68 115.5h1M74 115.5h1M78 115.5h1M0 116.5h1M3 116.5h1M7 116.5h1M15 116.5h1M25 116.5h1M64 116.5h1M15 117.5h1M17 117.5h1M22 117.5h1M66 117.5h1M73 117.5h2M7 118.5h1M15 118.5h2M18 118.5h1M61 118.5h1M69 118.5h1M71 118.5h1M5 119.5h1M11 119.5h1M14 119.5h1M17 119.5h2M59 119.5h1M68 119.5h1M20 120.5h1M23 120.5h1M53 120.5h1M76 120.5h1M11 121.5h1M21 121.5h2M26 121.5h1M53 121.5h1M56 121.5h1M0 122.5h1M11 122.5h1M21 122.5h1M54 122.5h1M63 122.5h1M70 122.5h1M1 123.5h1M13 123.5h1M53 123.5h1M63 123.5h1M71 123.5h1M74 123.5h1M15 124.5h1M53 124.5h1M56 124.5h1M58 124.5h1M66 124.5h1M1 125.5h1M9 125.5h1M23 125.5h1M25 125.5h1M27 125.5h1M57 125.5h1M59 125.5h1M62 125.5h2M65 125.5h1M77 125.5h1M5 126.5h1M14 126.5h2M19 126.5h1M52 126.5h1M54 126.5h3M71 126.5h1"/>
<path stroke="#4c117a" d="M18 0.5h1M22 0.5h1M25 0.5h1M47 0.5h1M49 0.5h1M67 0.5h1M76 0.5h1M4 1.5h1M19 1.5h1M28 1.5h1M44 1.5h1M47 1.5h1M13 2.5h2M19 2.5h1M29 2.5h1M47 2.5h1M51 2.5h1M65 2.5h2M17 3.5h1M26 3.5h1M14 4.5h1M16 4.5h1M22 4.5h1M70 4.5h1M2 5.5h1M12 5.5h1M14 5.5h1M16 5.5h1M22 5.5h1M25 5.5h1M27 5.5h1M34 5.5h1M41 5.5h2M44 5.5h1M56 5.5h1M60 5.5h1M62 5.5h1M7 6.5h1M16 6.5h1M20 6.5h1M23 6.5h1M29 6.5h2M34 6.5h1M36 6.5h2M41 6.5h1M43 6.5h1M62 6.5h1M71 6.5h1M1 7.5h1M4 7.5h1M12 7.5h1M18 7.5h1M22 7.5h1M29 7.5h1M53 7.5h1M60 7.5h1M65 7.5h1M0 8.5h1M2 8.5h1M12 8.5h1M71 8.5h1M16 9.5h1M29 9.5h1M37 9.5h1M73 9.5h1M14 10.5h1M16 10.5h1M25 10.5h1M33 10.5h1M35 10.5h1M38 10.5h1M45 10.5h1M74 10.5h1M0 11.5h1M23 11.5h1M45 11.5h1M49 11.5h1M68 11.5h1M73 11.5h1M24 12.5h2M43 12.5h1M48 12.5h2M57 12.5h1M66 12.5h1M72 12.5h1M11 13.5h1M28 13.5h1M33 13.5h1M35 13.5h1M37 13.5h1M55 13.5h1M57 13.5h1M62 13.5h1M75 13.5h1M9 14.5h2M16 14.5h1M18 14.5h2M23 14.5h1M31 14.5h1M41 14.5h1M44 14.5h1M49 14.5h1M63 14.5h1M12 15.5h1M24 15.5h1M27 15.5h1M31 15.5h1M38 15.5h2M63 15.5h1M5 16.5h1M9 16.5h1M17 16.5h2M31 16.5h1M36 16.5h1M43 16.5h1M48 16.5h3M15 17.5h1M26 17.5h1M30 17.5h1M37 17.5h1M43 17.5h1M17 18.5h1M25 18.5h2M29 18.5h1M32 18.5h1M34 18.5h2M63 18.5h1M1 19.5h1M4 19.5h1M16 19.5h2M33 19.5h1M44 19.5h1M52 19.5h1M67 19.5h1M70 19.5h1M77 19.5h1M17 20.5h1M41 20.5h1M45 20.5h1M73 20.5h1M21 21.5h1M31 21.5h3M44 21.5h1M48 21.5h1M72 21.5h1M4 22.5h1M13 22.5h1M16 22.5h1M35 22.5h3M46 22.5h1M0 23.5h1M4 23.5h1M11 23.5h1M35 23.5h1M39 23.5h1M50 23.5h1M56 23.5h1M61 23.5h1M76 23.5h1M5 24.5h1M8 24.5h1M30 24.5h1M34 24.5h1M36 24.5h1M40 24.5h1M44 24.5h1M48 24.5h2M54 24.5h1M61 24.5h1M78 24.5h1M9 25.5h1M27 25.5h1M31 25.5h1M36 25.5h1M48 25.5h1M76 25.5h1M0 26.5h1M6 26.5h1M48 26.5h1M65 26.5h1M20 27.5h2M25 27.5h1M32 27.5h3M57 27.5h1M4 28.5h1M10 28.5h1M14 28.5h1M21 28.5h1M34 28.5h1M43 28.5h1M45 28.5h1M59 28.5h1M75 28.5h1M1 29.5h1M14 29.5h1M42 29.5h1M46 29.5h1M67 29.5h1M69 29.5h1M0 30.5h1M14 30.5h1M22 30.5h2M27 30.5h2M74 30.5h1M78 30.5h1M15 31.5h1M27 31.5h1M31 31.5h1M33 31.5h1M14 32.5h1M29 32.5h1M43 32.5h1M62 32.5h1M76 32.5h1M78 32.5h1M17 33.5h2M23 33.5h2M26 33.5h1M34 33.5h1M43 33.5h1M48 33.5h1M23 34.5h1M29 34.5h1M31 34.5h1M45 34.5h1M59 34.5h1M61 34.5h1M65 34.5h1M69 34.5h1M78 34.5h1M19 35.5h1M24 35.5h1M32 35.5h1M35 35.5h1M11 36.5h1M13 36.5h3M19 36.5h2M24 36.5h1M31 36.5h1M55 36.5h1M63 36.5h1M16 37.5h1M18 37.5h1M22 37.5h1M29 37.5h1M43 37.5h1M60 37.5h1M10 38.5h1M14 38.5h1M21 38.5h1M34 38.5h1M45 38.5h1M51 38.5h1M75 38.5h1M6 39.5h2M12 39.5h1M26 39.5h1M28 39.5h1M57 39.5h1M76 39.5h1M17 40.5h1M26 40.5h1M29 40.5h1M33 40.5h1M52 40.5h1M15 41.5h1M25 41.5h1M44 41.5h1M53 41.5h1M56 41.5h1M1 42.5h1M12 42.5h1M26 42.5h1M34 42.5h1M46 42.5h1M63 42.5h1M77 42.5h1M2 43.5h1M11 43.5h1M30 43.5h1M32 43.5h1M50 43.5h1M60 43.5h1M2 44.5h1M8 44.5h1M15 44.5h2M20 44.5h1M28 44.5h2M31 44.5h1M44 44.5h1M46 44.5h1M57 44.5h1M68 44.5h1M73 44.5h1M78 44.5h1M9 45.5h1M18 45.5h1M34 45.5h1M47 45.5h1M50 45.5h1M59 45.5h1M13 46.5h1M19 46.5h1M23 46.5h1M59 46.5h1M66 46.5h1M4 47.5h1M14 47.5h1M18 47.5h2M24 47.5h1M28 47.5h1M34 47.5h1M51 47.5h1M71 47.5h1M32 48.5h1M46 48.5h2M52 48.5h1M59 48.5h1M70 48.5h1M9 49.5h3M13 49.5h1M25 49.5h1M29 49.5h1M51 49.5h2M64 49.5h1M67 49.5h1M74 49.5h1M4 50.5h1M10 50.5h1M18 50.5h1M20 50.5h1M27 50.5h2M1 51.5h1M21 51.5h1M29 51.5h1M44 51.5h1M49 51.5h2M7 52.5h1M11 52.5h1M26 52.5h1M47 52.5h2M57 52.5h1M65 52.5h1M67 52.5h1M2 53.5h1M19 53.5h1M22 53.5h2M28 53.5h1M30 53.5h1M69 53.5h1M8 54.5h1M13 54.5h1M15 54.5h1M18 54.5h1M28 54.5h1M30 54.5h2M61 54.5h1M74 54.5h1M31 55.5h1M44 55.5h1M47 55.5h1M10 56.5h1M14 56.5h1M18 56.5h1M29 56.5h1M31 56.5h1M49 56.5h1M60 56.5h1M11 57.5h2M27 57.5h1M29 57.5h1M46 57.5h2M58 57.5h1M62 57.5h1M11 58.5h1M14 58.5h2M21 58.5h1M25 58.5h1M45 58.5h1M47 58.5h1M56 58.5h1M7 59.5h1M49 59.5h1M27 60.5h1M33 60.5h1M46 60.5h1M49 60.5h1M61 60.5h1M1 61.5h1M3 61.5h1M6 61.5h1M16 61.5h1M19 61.5h1M29 61.5h1M33 61.5h1M47 61.5h1M50 61.5h1M54 61.5h1M22 62.5h1M52 62.5h1M28 63.5h1M46 63.5h1M53 63.5h1M63 63.5h1M66 63.5h1M72 63.5h1M74 63.5h1M5 64.5h1M13 64.5h1M14 65.5h2M25 65.5h1M28 65.5h1M47 65.5h2M1 66.5h1M17 66.5h1M51 66.5h1M55 66.5h1M59 66.5h1M71 66.5h1M77 66.5h1M16 67.5h1M24 67.5h1M26 67.5h1M28 67.5h1M53 67.5h1M67 67.5h1M7 68.5h1M20 68.5h1M25 68.5h1M30 68.5h1M50 68.5h1M58 68.5h1M66 68.5h1M12 69.5h1M15 69.5h1M21 69.5h1M23 69.5h2M28 69.5h1M30 69.5h1M46 69.5h1M49 69.5h1M60 69.5h1M69 69.5h1M71 69.5h1M4 70.5h1M21 70.5h1M26 70.5h1M30 70.5h1M45 70.5h1M55 70.5h1M59 70.5h1M77 70.5h2M4 71.5h1M9 71.5h1M23 71.5h1M27 71.5h1M31 71.5h1M44 71.5h1M46 71.5h1M52 71.5h2M58 71.5h2M25 72.5h2M46 72.5h1M75 72.5h1M1 73.5h1M3 73.5h1M17 73.5h1M19 73.5h2M22 73.5h1M25 73.5h1M45 73.5h1M55 73.5h2M63 73.5h1M71 73.5h1M1 74.5h1M26 74.5h1M52 74.5h1M60 74.5h1M64 74.5h1M13 75.5h1M20 75.5h1M48 75.5h1M57 75.5h1M3 76.5h1M14 76.5h1M22 76.5h1M46 76.5h2M52 76.5h1M11 77.5h1M31 77.5h1M44 77.5h1M57 77.5h1M63 77.5h1M65 77.5h1M10 78.5h2M14 78.5h1M57 78.5h1M66 78.5h1M0 79.5h1M22 79.5h1M25 79.5h1M27 79.5h1M45 79.5h1M75 79.5h1M29 80.5h1M48 80.5h1M19 81.5h1M24 81.5h1M32 81.5h1M71 81.5h1M76 81.5h1M78 81.5h1M15 82.5h1M24 82.5h1M28 82.5h1M32 82.5h1M48 82.5h1M70 82.5h1M0 83.5h1M3 83.5h1M15 83.5h1M45 83.5h1M48 83.5h1M73 83.5h1M75 83.5h1M78 83.5h1M3 84.5h1M21 84.5h1M54 84.5h1M67 84.5h1M69 84.5h1M78 84.5h1M0 85.5h1M25 85.5h1M69 85.5h1M4 86.5h1M17 86.5h1M27 86.5h1M31 86.5h1M50 86.5h1M52 86.5h1M64 86.5h1M78 86.5h1M23 87.5h1M30 87.5h1M45 87.5h1M48 87.5h1M57 87.5h1M0 88.5h1M10 88.5h1M13 88.5h1M29 88.5h1M46 88.5h1M49 88.5h1M76 88.5h1M8 89.5h1M24 89.5h1M31 89.5h2M48 89.5h2M57 89.5h1M61 89.5h1M73 89.5h1M6 90.5h2M26 90.5h1M45 90.5h1M52 90.5h1M2 91.5h2M8 91.5h1M54 91.5h1M4 92.5h1M9 92.5h1M22 92.5h2M29 92.5h1M56 92.5h1M11 93.5h1M16 93.5h1M19 93.5h1M47 93.5h1M16 94.5h1M29 94.5h1M49 94.5h1M59 94.5h1M72 94.5h1M8 95.5h1M20 95.5h1M29 95.5h1M49 95.5h1M70 95.5h1M0 96.5h1M7 96.5h1M9 96.5h1M12 96.5h1M17 96.5h1M19 96.5h1M25 96.5h1M28 96.5h1M51 96.5h1M53 96.5h1M62 96.5h1M69 96.5h1M3 97.5h1M22 97.5h1M24 97.5h2M51 97.5h1M54 97.5h1M58 97.5h1M64 97.5h1M0 98.5h1M2 98.5h1M5 98.5h1M14 98.5h1M22 98.5h1M26 98.5h1M48 98.5h1M52 98.5h1M56 98.5h1M69 98.5h1M71 98.5h1M2 99.5h1M11 99.5h1M16 99.5h1M67 99.5h2M49 100.5h1M52 100.5h1M54 100.5h1M75 100.5h1M0 101.5h1M10 101.5h2M15 101.5h1M54 101.5h1M57 101.5h1M3 102.5h1M12 102.5h1M21 102.5h1M30 102.5h1M58 102.5h1M0 103.5h1M11 103.5h1M17 103.5h2M22 103.5h2M26 103.5h2M49 103.5h2M55 103.5h1M10 104.5h1M21 104.5h1M25 104.5h1M29 104.5h2M52 104.5h1M75 104.5h1M7 105.5h1M13 105.5h1M17 105.5h1M22 105.5h1M49 105.5h1M51 105.5h1M71 105.5h1M6 106.5h1M15 106.5h1M19 106.5h1M50 106.5h2M64 106.5h1M6 107.5h1M17 107.5h1M20 107.5h1M51 107.5h1M57 107.5h1M61 107.5h2M9 108.5h1M26 108.5h1M54 108.5h1M65 108.5h1M1 109.5h1M19 109.5h1M26 109.5h2M48 109.5h1M70 109.5h1M15 110.5h1M28 110.5h1M31 110.5h1M59 110.5h1M19 111.5h1M21 111.5h1M48 111.5h1M50 111.5h2M65 111.5h1M1 112.5h1M10 112.5h1M18 112.5h1M22 112.5h1M49 112.5h1M54 112.5h1M56 112.5h2M74 112.5h1M9 113.5h1M17 113.5h1M23 113.5h1M25 113.5h1M27 113.5h1M71 113.5h1M8 114.5h1M12 114.5h1M22 114.5h1M62 114.5h1M69 114.5h2M0 115.5h1M17 115.5h1M19 115.5h1M52 115.5h1M56 115.5h1M66 115.5h1M76 115.5h1M10 116.5h1M13 116.5h1M18 116.5h1M21 116.5h1M23 116.5h1M54 116.5h1M5 117.5h1M8 117.5h1M13 117.5h1M18 117.5h1M21 117.5h1M10 118.5h1M1 119.5h1M20 119.5h1M50 119.5h1M53 119.5h1M55 119.5h1M63 120.5h1M77 120.5h1M1 121.5h1M14 121.5h2M17 121.5h1M62 121.5h1M1 122.5h1M16 122.5h1M68 122.5h1M73 122.5h1M20 123.5h1M52 123.5h1M12 124.5h2M17 124.5h2M15 125.5h1M55 125.5h1M61 125.5h1M64 125.5h1M70 125.5h1M22 126.5h3M51 126.5h1M58 126.5h1M70 126.5h1M77 126.5h1"/>
<path stroke="#51127c" d="M29 0.5h1M32 0.5h2M35 0.5h1M40 0.5h1M46 0.5h1M72 0.5h1M1 1.5h1M9 1.5h1M18 1.5h1M24 1.5h1M36 1.5h1M51 1.5h1M55 1.5h1M7 2.5h1M22 2.5h1M27 2.5h1M38 2.5h1M40 2.5h2M5 3.5h1M27 3.5h2M30 3.5h1M32 3.5h2M35 3.5h1M37 3.5h1M44 3.5h1M47 3.5h1M49 3.5h1M73 3.5h1M19 4.5h1M34 4.5h1M36 4.5h1M45 4.5h1M50 4.5h1M61 4.5h1M7 5.5h1M10 5.5h2M23 5.5h1M26 5.5h1M38 5.5h1M72 5.5h1M21 6.5h1M25 6.5h1M38 6.5h1M52 6.5h1M63 6.5h1M69 6.5h1M7 7.5h1M46 7.5h1M61 7.5h1M5 8.5h1M26 8.5h1M34 8.5h1M42 8.5h1M44 8.5h1M48 8.5h1M63 8.5h1M4 9.5h1M11 9.5h1M22 9.5h1M27 9.5h1M32 9.5h1M52 9.5h1M55 9.5h1M21 10.5h1M55 10.5h2M15 11.5h1M26 11.5h3M37 11.5h1M69 11.5h1M10 12.5h1M14 12.5h1M20 12.5h1M28 12.5h1M35 12.5h1M37 12.5h1M10 13.5h1M27 13.5h1M42 13.5h1M45 13.5h1M17 14.5h1M39 14.5h1M54 14.5h1M15 15.5h1M18 15.5h1M21 15.5h1M23 15.5h1M25 15.5h1M29 15.5h1M33 15.5h1M35 15.5h1M46 15.5h1M70 15.5h1M8 16.5h1M22 16.5h1M25 16.5h1M33 16.5h1M42 16.5h1M53 16.5h1M57 16.5h1M65 16.5h1M21 17.5h1M23 17.5h1M35 17.5h1M39 17.5h1M44 17.5h1M55 17.5h1M73 17.5h1M24 18.5h1M37 18.5h1M45 18.5h1M55 18.5h1M59 18.5h1M11 19.5h1M24 19.5h1M31 19.5h1M46 19.5h1M56 19.5h1M62 19.5h1M68 19.5h2M16 20.5h1M37 20.5h1M51 20.5h1M37 21.5h1M59 21.5h1M27 22.5h1M41 22.5h1M49 22.5h1M51 22.5h1M22 23.5h1M40 23.5h1M42 23.5h1M24 24.5h1M29 24.5h1M31 24.5h1M42 24.5h1M53 24.5h1M57 24.5h1M67 24.5h1M75 24.5h1M33 25.5h1M50 25.5h1M19 26.5h1M44 26.5h1M10 27.5h1M27 27.5h1M30 27.5h1M35 27.5h2M44 27.5h1M26 28.5h1M32 28.5h1M35 28.5h1M47 28.5h1M30 29.5h1M49 29.5h1M63 29.5h1M71 29.5h1M6 30.5h1M13 30.5h1M29 30.5h1M34 30.5h1M42 30.5h1M44 30.5h1M25 31.5h2M28 31.5h1M30 31.5h1M47 31.5h1M6 32.5h1M18 32.5h1M23 32.5h2M31 32.5h1M35 32.5h1M58 32.5h1M63 32.5h1M1 33.5h2M14 33.5h1M67 33.5h1M78 33.5h1M1 34.5h1M8 34.5h1M33 34.5h1M43 34.5h1M46 34.5h1M52 34.5h1M5 35.5h1M10 35.5h1M20 35.5h1M29 35.5h1M43 35.5h1M12 36.5h1M56 36.5h1M5 37.5h1M17 37.5h1M21 37.5h1M25 37.5h1M27 37.5h1M47 37.5h1M50 37.5h1M56 37.5h1M58 37.5h1M64 37.5h1M29 38.5h1M43 38.5h1M58 38.5h1M29 39.5h1M46 39.5h1M52 39.5h1M55 39.5h1M16 40.5h1M18 40.5h1M28 40.5h1M45 40.5h1M66 40.5h1M0 41.5h1M23 41.5h1M28 41.5h1M31 41.5h1M52 41.5h1M55 41.5h1M70 41.5h1M2 42.5h1M29 42.5h1M45 42.5h1M72 42.5h1M24 43.5h1M27 43.5h1M33 43.5h2M49 43.5h1M55 43.5h1M65 43.5h1M74 43.5h1M6 44.5h1M23 44.5h1M26 44.5h1M33 44.5h2M63 44.5h1M23 45.5h1M29 45.5h1M33 45.5h1M46 45.5h1M61 45.5h1M0 46.5h1M28 46.5h1M32 46.5h1M48 46.5h1M57 46.5h1M76 46.5h1M30 47.5h1M33 47.5h1M49 47.5h1M22 48.5h1M26 48.5h1M43 48.5h1M45 48.5h1M50 48.5h1M23 49.5h1M12 50.5h1M17 50.5h1M45 50.5h2M13 51.5h1M20 51.5h1M32 51.5h1M12 52.5h1M30 52.5h1M73 52.5h1M10 53.5h1M32 53.5h2M46 53.5h1M66 53.5h1M11 54.5h1M23 54.5h2M27 54.5h1M33 54.5h1M46 54.5h1M59 54.5h1M25 55.5h1M28 55.5h2M48 55.5h1M50 55.5h1M57 55.5h1M71 55.5h1M22 56.5h1M25 56.5h1M27 56.5h1M5 57.5h1M15 57.5h1M25 57.5h1M30 57.5h1M45 57.5h1M53 57.5h1M20 58.5h1M27 58.5h1M29 58.5h2M44 58.5h1M46 58.5h1M2 59.5h1M13 59.5h1M17 59.5h2M22 59.5h1M24 59.5h1M45 59.5h1M65 59.5h1M5 60.5h1M16 60.5h1M23 60.5h1M32 60.5h1M45 60.5h1M74 60.5h1M77 60.5h1M17 61.5h1M22 61.5h1M46 61.5h1M56 61.5h1M58 61.5h1M18 62.5h1M20 62.5h1M44 62.5h1M60 62.5h1M7 63.5h1M12 63.5h1M22 63.5h1M56 63.5h2M7 64.5h1M27 64.5h2M5 65.5h1M29 65.5h1M31 65.5h1M33 65.5h1M50 65.5h1M56 65.5h1M15 66.5h1M47 66.5h1M52 66.5h1M45 67.5h1M49 67.5h2M31 68.5h1M54 68.5h1M14 69.5h1M27 69.5h1M53 69.5h1M7 70.5h1M25 70.5h1M15 71.5h1M32 71.5h1M45 71.5h1M50 71.5h1M0 72.5h1M19 72.5h1M21 72.5h1M29 72.5h2M33 72.5h1M47 72.5h1M67 72.5h1M4 73.5h1M28 73.5h2M31 73.5h1M44 73.5h1M53 73.5h1M5 74.5h1M12 74.5h1M28 74.5h1M44 74.5h1M30 75.5h1M44 75.5h1M55 75.5h1M66 75.5h1M50 76.5h1M63 76.5h1M20 77.5h1M46 77.5h1M51 77.5h1M75 77.5h1M3 78.5h1M72 78.5h1M7 79.5h1M20 79.5h1M32 79.5h1M48 79.5h1M52 79.5h1M60 79.5h1M26 80.5h1M28 80.5h1M63 80.5h1M1 81.5h1M60 81.5h1M2 82.5h1M22 82.5h1M50 82.5h2M11 83.5h2M25 83.5h3M30 83.5h1M55 83.5h1M58 83.5h1M45 84.5h1M50 84.5h1M72 84.5h1M45 85.5h2M48 85.5h1M74 85.5h1M3 86.5h1M18 86.5h1M20 86.5h1M29 86.5h1M67 86.5h1M5 87.5h1M20 87.5h1M47 87.5h1M51 87.5h1M8 88.5h1M26 88.5h1M30 88.5h1M45 88.5h1M47 88.5h1M14 89.5h1M26 89.5h1M30 89.5h1M58 89.5h1M17 90.5h1M19 90.5h1M25 90.5h1M46 90.5h2M15 91.5h2M22 91.5h1M7 92.5h1M14 92.5h2M27 92.5h1M49 92.5h1M59 92.5h1M12 93.5h1M25 93.5h1M46 93.5h1M49 93.5h1M51 93.5h1M10 95.5h1M23 95.5h1M48 95.5h1M69 95.5h1M13 96.5h1M26 96.5h1M48 96.5h1M17 97.5h2M48 97.5h1M52 97.5h1M6 98.5h1M8 98.5h1M19 98.5h2M23 98.5h1M47 98.5h1M49 98.5h1M73 98.5h2M12 99.5h1M18 99.5h1M45 99.5h1M48 99.5h1M53 99.5h1M73 99.5h1M23 100.5h1M5 101.5h1M27 101.5h1M47 101.5h1M23 102.5h1M26 102.5h1M53 102.5h1M70 102.5h1M24 103.5h2M47 103.5h1M15 104.5h1M56 104.5h1M21 105.5h1M28 105.5h1M46 105.5h1M52 105.5h1M16 106.5h1M29 106.5h1M68 106.5h1M22 107.5h1M50 107.5h1M67 107.5h1M30 108.5h1M49 108.5h1M56 108.5h1M63 108.5h1M20 109.5h1M25 109.5h1M49 109.5h1M8 110.5h1M18 110.5h1M21 110.5h2M24 110.5h1M47 110.5h1M49 110.5h1M51 110.5h1M24 111.5h2M28 111.5h1M55 111.5h2M58 111.5h1M78 111.5h1M6 112.5h1M55 112.5h1M3 113.5h1M50 113.5h3M55 113.5h1M61 113.5h1M64 113.5h1M72 113.5h1M27 114.5h1M18 115.5h1M16 116.5h1M22 116.5h1M27 116.5h1M51 116.5h1M63 116.5h1M77 116.5h1M55 117.5h1M22 118.5h1M51 118.5h1M27 119.5h1M67 119.5h1M22 120.5h1M56 120.5h1M16 121.5h1M18 121.5h1M55 121.5h1M58 121.5h1M20 122.5h1M23 122.5h2M52 122.5h1M8 123.5h1M12 123.5h1M21 123.5h1M23 123.5h1M26 123.5h1M58 123.5h1M22 124.5h1M52 124.5h1M71 124.5h1M76 124.5h1M8 125.5h1M16 125.5h1M53 125.5h1M3 126.5h1M9 126.5h1M20 126.5h1M53 126.5h1M76 126.5h1"/>
<path stroke="#56147d" d="M0 0.5h1M21 0.5h1M41 0.5h1M49 1.5h1M16 2.5h1M33 2.5h1M29 3.5h1M39 3.5h1M55 3.5h1M57 3.5h1M24 4.5h1M37 4.5h1M41 4.5h1M18 5.5h1M30 5.5h2M35 5.5h1M18 6.5h2M22 6.5h1M24 7.5h1M30 7.5h2M34 7.5h1M38 7.5h4M27 8.5h1M36 8.5h1M38 8.5h1M40 8.5h1M49 8.5h1M7 9.5h1M44 9.5h1M61 9.5h1M19 10.5h1M29 10.5h1M44 10.5h1M20 11.5h1M24 11.5h1M34 11.5h1M39 11.5h1M57 11.5h1M15 12.5h1M22 12.5h1M36 12.5h1M23 13.5h2M30 13.5h1M34 13.5h1M43 13.5h2M7 14.5h1M36 14.5h1M40 14.5h1M66 14.5h1M14 15.5h1M17 15.5h1M42 15.5h1M20 16.5h1M28 16.5h1M32 16.5h1M41 17.5h1M14 18.5h1M30 18.5h1M70 18.5h1M19 19.5h1M34 19.5h1M40 19.5h2M50 19.5h1M22 20.5h1M39 20.5h1M42 20.5h2M46 20.5h1M49 20.5h1M56 20.5h1M4 21.5h1M17 21.5h2M42 21.5h1M25 22.5h1M38 22.5h1M50 22.5h1M60 22.5h1M1 23.5h1M45 23.5h1M48 23.5h2M39 24.5h1M41 24.5h1M15 25.5h1M30 25.5h1M34 25.5h1M63 25.5h2M9 26.5h1M26 26.5h1M33 26.5h2M41 26.5h1M5 27.5h1M26 27.5h1M29 27.5h1M45 27.5h1M76 27.5h1M7 28.5h1M16 28.5h1M28 28.5h1M68 28.5h1M26 29.5h2M33 29.5h2M36 29.5h1M41 29.5h1M43 29.5h1M77 29.5h1M24 30.5h1M32 30.5h1M41 30.5h1M47 30.5h1M36 31.5h2M43 31.5h1M48 31.5h1M21 32.5h1M26 32.5h1M30 32.5h1M57 32.5h1M27 33.5h1M32 33.5h1M42 33.5h1M49 33.5h1M19 34.5h1M27 34.5h1M44 34.5h1M27 35.5h1M36 35.5h1M61 35.5h1M18 36.5h1M72 36.5h1M44 37.5h1M46 37.5h1M63 37.5h1M13 38.5h1M32 38.5h1M48 38.5h1M54 38.5h1M74 38.5h1M16 39.5h1M11 40.5h1M14 41.5h1M24 41.5h1M26 41.5h1M29 41.5h1M47 41.5h1M28 42.5h1M30 42.5h2M43 42.5h1M66 42.5h1M20 43.5h2M12 44.5h1M22 44.5h1M27 44.5h1M30 44.5h1M66 44.5h1M5 45.5h1M27 45.5h1M16 46.5h1M27 46.5h1M43 46.5h2M52 46.5h1M20 47.5h2M25 47.5h1M48 47.5h1M11 48.5h1M28 48.5h1M30 48.5h1M34 48.5h1M74 48.5h1M30 49.5h1M33 49.5h1M53 49.5h1M26 50.5h1M30 50.5h1M10 51.5h1M21 52.5h1M28 52.5h1M63 52.5h1M15 53.5h1M27 53.5h1M48 53.5h1M55 53.5h1M29 54.5h1M45 54.5h1M11 55.5h1M17 55.5h1M30 55.5h1M53 55.5h1M62 55.5h1M16 56.5h1M21 56.5h1M45 56.5h2M52 56.5h1M69 56.5h1M6 57.5h1M31 57.5h1M44 57.5h1M52 57.5h1M31 58.5h1M33 58.5h1M9 59.5h1M26 59.5h1M30 59.5h1M1 60.5h1M21 60.5h1M29 60.5h1M31 60.5h1M44 60.5h1M48 60.5h1M68 60.5h1M51 61.5h1M15 62.5h1M27 62.5h2M53 62.5h1M75 62.5h1M9 63.5h1M14 63.5h1M29 63.5h2M17 64.5h1M23 64.5h1M30 64.5h1M48 64.5h1M3 65.5h1M8 65.5h1M22 65.5h1M45 65.5h1M26 66.5h1M29 66.5h2M32 66.5h1M7 67.5h1M27 67.5h1M29 67.5h1M32 67.5h2M48 67.5h1M19 68.5h1M29 68.5h1M34 68.5h1M48 68.5h1M16 69.5h1M25 69.5h1M62 69.5h1M75 69.5h1M23 70.5h1M27 70.5h2M33 70.5h1M46 70.5h1M48 70.5h1M52 70.5h1M67 70.5h1M25 71.5h1M30 71.5h1M73 71.5h1M22 72.5h1M31 72.5h1M43 72.5h1M57 73.5h1M18 74.5h1M29 74.5h1M45 74.5h1M50 74.5h1M57 74.5h1M77 74.5h1M29 75.5h1M46 75.5h1M50 75.5h1M32 76.5h1M53 76.5h1M8 77.5h1M15 77.5h1M24 77.5h1M27 77.5h1M47 77.5h2M22 78.5h1M56 78.5h1M74 78.5h1M1 79.5h1M16 79.5h1M26 79.5h1M29 79.5h1M31 79.5h1M31 80.5h1M47 80.5h1M0 81.5h1M25 81.5h1M28 81.5h1M72 81.5h1M13 82.5h2M20 82.5h1M73 82.5h1M10 83.5h1M47 83.5h1M26 84.5h2M46 84.5h1M32 85.5h1M44 85.5h1M52 85.5h1M13 86.5h1M26 86.5h1M4 87.5h1M46 87.5h1M49 87.5h1M31 88.5h1M51 88.5h1M46 89.5h2M51 89.5h1M29 90.5h1M71 90.5h1M10 91.5h1M26 91.5h1M50 91.5h1M47 92.5h1M54 92.5h1M18 93.5h1M30 93.5h1M24 94.5h1M31 94.5h1M1 95.5h1M15 95.5h1M26 95.5h1M6 96.5h1M15 96.5h1M21 96.5h1M45 96.5h1M5 97.5h1M19 97.5h1M29 97.5h1M31 97.5h1M47 97.5h1M72 98.5h1M14 99.5h1M24 99.5h2M24 100.5h1M51 100.5h1M26 101.5h1M50 101.5h1M5 102.5h1M22 102.5h1M31 102.5h1M50 102.5h1M59 102.5h1M64 102.5h2M20 103.5h1M28 103.5h1M48 103.5h1M11 104.5h1M16 104.5h1M18 104.5h1M26 104.5h1M6 105.5h1M25 105.5h1M53 105.5h1M27 106.5h1M48 106.5h2M56 106.5h1M77 106.5h1M10 107.5h2M14 107.5h1M47 107.5h1M49 107.5h1M52 107.5h1M68 107.5h1M10 108.5h1M17 108.5h1M27 108.5h1M47 108.5h1M50 108.5h1M59 108.5h1M62 108.5h1M64 108.5h1M52 109.5h1M76 109.5h1M27 110.5h1M29 110.5h1M32 111.5h1M24 112.5h2M29 112.5h2M48 112.5h1M50 112.5h2M26 113.5h1M49 113.5h1M28 114.5h1M30 114.5h1M50 114.5h2M53 114.5h1M21 115.5h1M26 115.5h1M47 115.5h1M57 115.5h1M72 115.5h1M19 116.5h1M24 116.5h1M26 116.5h1M50 116.5h1M9 117.5h1M20 117.5h1M23 117.5h2M14 118.5h1M19 118.5h1M50 118.5h1M52 118.5h1M54 118.5h1M25 119.5h1M49 119.5h1M51 119.5h2M64 119.5h1M72 119.5h1M11 120.5h1M19 120.5h1M25 120.5h1M6 121.5h1M23 121.5h1M25 121.5h1M29 121.5h1M54 121.5h1M59 121.5h1M28 122.5h1M49 122.5h1M61 122.5h1M22 123.5h1M55 123.5h2M59 123.5h1M21 124.5h1M49 124.5h1M29 125.5h1M74 125.5h1M25 126.5h1M27 126.5h1M57 126.5h1M69 126.5h1"/>
<path stroke="#5a167e" d="M37 0.5h1M31 1.5h2M38 1.5h2M45 1.5h1M63 1.5h1M31 2.5h1M39 2.5h1M42 2.5h1M10 3.5h1M15 3.5h1M21 3.5h1M36 3.5h1M27 4.5h1M30 4.5h1M20 5.5h1M73 5.5h1M27 6.5h1M31 6.5h1M36 7.5h1M64 7.5h1M25 8.5h1M35 9.5h1M32 10.5h1M30 11.5h1M32 11.5h1M48 11.5h1M19 12.5h1M38 12.5h1M32 13.5h1M39 13.5h1M33 14.5h1M46 14.5h1M32 15.5h1M40 15.5h1M57 15.5h1M62 15.5h1M19 16.5h1M38 16.5h2M28 18.5h1M39 18.5h2M22 19.5h1M32 19.5h1M35 19.5h1M49 19.5h1M23 20.5h1M35 20.5h1M53 20.5h2M10 21.5h1M23 21.5h1M27 21.5h1M29 21.5h1M41 21.5h1M45 21.5h1M0 22.5h1M29 22.5h1M25 23.5h2M36 23.5h1M41 23.5h1M15 24.5h1M26 24.5h1M38 24.5h1M20 25.5h1M40 25.5h3M9 27.5h1M15 27.5h1M22 27.5h1M31 27.5h1M37 27.5h1M56 29.5h1M15 30.5h1M30 30.5h1M36 30.5h1M38 30.5h1M19 31.5h1M42 31.5h1M49 31.5h1M33 32.5h1M40 32.5h1M28 33.5h1M44 33.5h1M52 33.5h1M34 34.5h2M42 34.5h1M17 35.5h1M35 36.5h1M32 37.5h2M75 37.5h1M28 38.5h1M46 38.5h1M76 38.5h1M42 39.5h1M21 40.5h1M27 40.5h1M34 40.5h2M22 41.5h1M35 41.5h1M44 42.5h1M58 42.5h1M44 43.5h1M1 44.5h1M32 44.5h1M43 44.5h1M32 45.5h1M48 45.5h1M30 46.5h1M27 47.5h1M45 47.5h1M33 48.5h1M44 48.5h1M12 49.5h1M31 49.5h1M44 49.5h1M0 50.5h1M29 50.5h1M47 50.5h1M31 51.5h1M48 51.5h1M14 52.5h1M20 52.5h1M24 52.5h1M21 53.5h1M31 53.5h1M44 53.5h1M15 55.5h1M23 55.5h1M8 56.5h1M70 57.5h1M28 58.5h1M16 59.5h1M7 60.5h2M19 60.5h2M34 60.5h1M14 61.5h1M43 61.5h1M2 62.5h1M29 62.5h1M31 62.5h3M20 63.5h1M27 63.5h1M31 63.5h2M44 63.5h2M19 64.5h1M45 64.5h1M16 65.5h1M23 65.5h2M52 65.5h1M24 66.5h1M34 66.5h1M44 66.5h1M17 67.5h1M44 67.5h1M47 67.5h1M23 68.5h1M28 68.5h1M33 68.5h1M44 68.5h1M46 68.5h1M53 68.5h1M31 69.5h1M51 70.5h1M10 71.5h1M14 71.5h1M20 71.5h1M29 71.5h1M44 72.5h1M6 73.5h1M33 73.5h1M48 73.5h1M31 74.5h1M23 75.5h1M33 75.5h1M77 75.5h1M27 76.5h1M33 76.5h1M45 76.5h1M32 77.5h1M60 77.5h1M0 78.5h1M23 78.5h1M29 78.5h2M47 78.5h1M10 79.5h1M14 79.5h1M18 79.5h1M33 79.5h1M18 80.5h1M32 80.5h1M44 80.5h1M46 80.5h1M50 80.5h1M44 81.5h1M31 82.5h1M54 82.5h1M18 83.5h1M50 83.5h1M16 84.5h1M28 84.5h1M28 85.5h1M21 86.5h2M25 86.5h1M47 86.5h1M70 86.5h1M24 87.5h1M31 87.5h1M27 88.5h1M18 89.5h1M24 90.5h1M27 90.5h1M17 91.5h1M31 91.5h2M45 92.5h2M3 93.5h1M32 93.5h1M44 93.5h2M21 94.5h1M45 94.5h1M25 95.5h1M27 95.5h1M59 95.5h1M16 96.5h1M47 96.5h1M26 97.5h1M30 97.5h1M46 97.5h1M57 97.5h1M28 98.5h2M31 98.5h1M67 98.5h1M6 99.5h1M28 99.5h1M47 99.5h1M27 100.5h4M46 100.5h1M25 101.5h1M66 101.5h1M24 102.5h2M27 102.5h1M29 102.5h1M48 102.5h1M62 102.5h1M72 102.5h1M3 104.5h1M23 105.5h1M29 105.5h2M26 106.5h1M30 106.5h2M14 108.5h1M24 108.5h1M48 108.5h1M17 109.5h1M24 109.5h1M47 109.5h1M13 110.5h1M25 110.5h1M14 111.5h1M14 113.5h1M19 113.5h1M53 113.5h1M56 113.5h1M25 114.5h1M48 114.5h1M30 115.5h1M54 115.5h2M78 116.5h1M30 117.5h1M50 117.5h1M24 118.5h1M49 118.5h1M16 120.5h1M26 120.5h1M4 121.5h1M24 121.5h1M52 121.5h1M57 121.5h1M26 122.5h1M29 122.5h1M14 123.5h1M17 123.5h1M24 123.5h2M19 124.5h1M25 124.5h1M27 124.5h1M26 125.5h1M30 125.5h1M51 125.5h1M62 126.5h1"/>
<path stroke="#5d177f" d="M26 0.5h1M21 2.5h1M23 2.5h1M35 8.5h1M45 8.5h1M30 10.5h1M37 10.5h1M41 11.5h1M71 11.5h1M31 12.5h1M37 14.5h2M40 16.5h1M60 16.5h1M36 17.5h1M47 17.5h1M38 18.5h1M38 20.5h1M40 20.5h1M40 21.5h1M31 22.5h1M42 22.5h1M21 23.5h1M33 23.5h1M37 23.5h1M69 23.5h1M38 25.5h1M72 26.5h1M23 27.5h1M42 27.5h1M27 28.5h1M29 28.5h1M31 28.5h1M33 28.5h1M39 28.5h1M37 29.5h1M35 30.5h1M70 30.5h1M25 32.5h1M41 32.5h1M46 32.5h1M41 33.5h1M33 35.5h1M29 36.5h1M42 36.5h1M36 38.5h1M32 39.5h1M35 39.5h1M44 39.5h1M43 45.5h1M42 47.5h1M44 47.5h1M42 48.5h1M11 50.5h1M31 50.5h1M34 50.5h1M43 50.5h1M14 51.5h1M25 51.5h1M33 51.5h1M6 52.5h1M29 52.5h1M45 52.5h1M25 53.5h1M34 54.5h2M43 54.5h1M24 55.5h1M33 55.5h1M46 55.5h1M66 55.5h1M34 56.5h1M47 56.5h1M32 57.5h2M32 58.5h1M12 59.5h1M46 59.5h1M54 59.5h1M13 61.5h1M34 61.5h1M45 61.5h1M43 62.5h1M45 62.5h1M32 64.5h1M34 64.5h1M30 65.5h1M46 65.5h1M45 66.5h1M31 67.5h1M27 68.5h1M45 68.5h1M33 69.5h1M44 69.5h1M19 70.5h1M22 70.5h1M32 72.5h1M45 72.5h1M21 74.5h1M49 74.5h1M44 76.5h1M70 77.5h1M28 78.5h1M11 80.5h1M30 81.5h1M46 81.5h2M19 83.5h1M28 83.5h1M33 83.5h1M49 83.5h1M23 84.5h1M30 84.5h2M47 84.5h2M31 85.5h1M43 85.5h1M47 85.5h1M30 86.5h1M32 86.5h1M15 87.5h1M44 87.5h1M44 88.5h1M27 89.5h1M33 89.5h1M45 89.5h1M31 90.5h1M33 90.5h1M30 91.5h1M33 91.5h1M69 91.5h1M31 93.5h1M45 95.5h1M31 96.5h2M50 96.5h1M45 98.5h2M25 100.5h1M31 100.5h1M47 100.5h1M29 101.5h1M44 101.5h3M55 101.5h1M45 102.5h1M30 103.5h1M46 104.5h1M51 104.5h1M28 106.5h1M23 107.5h1M29 107.5h2M48 107.5h1M29 108.5h1M23 109.5h1M30 109.5h1M51 109.5h1M53 109.5h1M60 109.5h1M20 110.5h1M48 110.5h1M28 112.5h1M30 113.5h1M26 114.5h1M14 115.5h1M23 115.5h1M31 115.5h1M49 115.5h2M29 116.5h1M26 117.5h1M28 117.5h1M25 118.5h1M28 118.5h1M53 118.5h1M10 119.5h1M22 119.5h1M26 119.5h1M28 119.5h1M24 120.5h1M13 121.5h1M27 121.5h1M50 121.5h2M25 122.5h1M27 122.5h1M51 122.5h1M53 122.5h1M57 122.5h1M20 124.5h1M48 124.5h1M51 124.5h1M54 124.5h1M49 125.5h1M52 125.5h1M69 125.5h1M21 126.5h1M29 126.5h1M50 126.5h1"/>
<path stroke="#621980" d="M40 3.5h1M13 4.5h1M39 6.5h1M25 7.5h1M43 8.5h1M34 10.5h1M38 17.5h1M39 19.5h1M44 20.5h1M36 21.5h1M38 21.5h1M39 22.5h2M37 24.5h1M35 26.5h2M40 28.5h1M42 28.5h1M20 29.5h1M39 29.5h1M39 30.5h1M35 31.5h1M32 32.5h1M42 32.5h1M30 33.5h1M41 34.5h1M73 34.5h1M45 35.5h1M16 36.5h1M34 36.5h1M26 37.5h1M33 38.5h1M35 38.5h1M44 38.5h1M43 39.5h1M43 40.5h1M32 41.5h1M43 41.5h1M28 43.5h1M42 43.5h1M44 45.5h1M45 46.5h1M35 48.5h1M22 49.5h1M35 50.5h1M43 51.5h1M27 52.5h1M34 52.5h2M43 52.5h1M34 53.5h1M43 53.5h1M32 54.5h1M34 55.5h1M34 58.5h1M43 58.5h1M31 59.5h1M44 59.5h1M44 61.5h1M30 62.5h1M50 62.5h1M34 63.5h1M31 64.5h1M33 64.5h1M44 65.5h1M33 66.5h1M43 68.5h1M32 69.5h1M32 70.5h1M33 71.5h1M32 73.5h1M25 74.5h1M28 77.5h1M30 77.5h1M33 77.5h1M32 78.5h1M30 79.5h1M34 80.5h1M29 81.5h1M45 81.5h1M33 82.5h1M44 82.5h1M46 82.5h2M43 83.5h2M33 85.5h1M53 86.5h1M32 88.5h1M45 91.5h1M47 91.5h1M30 95.5h1M44 95.5h1M50 95.5h1M46 96.5h1M28 97.5h1M30 99.5h1M45 100.5h1M31 101.5h1M32 103.5h1M46 103.5h1M28 104.5h1M47 104.5h1M24 105.5h1M31 105.5h1M45 105.5h1M24 107.5h3M55 107.5h1M61 108.5h1M50 109.5h1M30 110.5h1M49 111.5h1M47 112.5h1M28 113.5h1M48 113.5h1M49 114.5h1M22 115.5h1M28 116.5h1M48 116.5h1M27 117.5h1M26 118.5h1M30 118.5h1M29 119.5h1M48 119.5h1M57 119.5h1M21 120.5h1M28 120.5h1M49 121.5h1M27 123.5h1M30 123.5h1M49 123.5h2M62 123.5h1M24 124.5h1M26 124.5h1M50 124.5h1M28 125.5h1M26 126.5h1"/>
<path stroke="#671b80" d="M9 0.5h1M30 1.5h1M38 4.5h1M45 12.5h1M37 16.5h1M38 19.5h1M34 21.5h1M39 21.5h1M35 25.5h1M37 25.5h1M39 25.5h1M38 26.5h1M40 26.5h1M19 28.5h1M37 28.5h2M41 28.5h1M38 29.5h1M37 30.5h1M39 31.5h1M44 31.5h1M36 36.5h1M33 39.5h1M38 39.5h1M42 40.5h1M33 41.5h2M41 41.5h1M35 42.5h1M35 43.5h1M35 44.5h1M24 45.5h1M36 46.5h1M35 47.5h1M34 49.5h1M33 50.5h1M44 50.5h1M34 51.5h1M35 53.5h1M43 55.5h1M32 56.5h1M43 56.5h1M34 59.5h2M43 59.5h1M31 61.5h1M32 68.5h1M45 69.5h1M31 70.5h1M43 70.5h1M24 72.5h1M34 72.5h1M30 73.5h1M34 73.5h1M46 73.5h1M33 74.5h1M32 75.5h1M5 77.5h1M33 78.5h1M44 78.5h1M31 83.5h2M33 87.5h1M44 89.5h1M30 90.5h1M21 91.5h1M26 93.5h1M32 94.5h1M46 94.5h1M51 94.5h1M30 96.5h1M45 97.5h1M32 98.5h1M31 99.5h2M46 99.5h1M48 100.5h1M30 101.5h1M32 102.5h1M45 103.5h1M31 104.5h1M32 105.5h1M47 105.5h1M24 106.5h1M32 106.5h1M45 106.5h1M31 107.5h2M32 108.5h1M46 110.5h1M30 111.5h1M46 111.5h1M29 115.5h1M48 115.5h1M30 116.5h1M29 117.5h1M49 117.5h1M17 120.5h1M29 120.5h1M51 120.5h1M28 121.5h1M48 121.5h1M31 125.5h1M54 125.5h1M28 126.5h1M30 126.5h1"/>
<path stroke="#6a1c81" d="M35 21.5h1M70 24.5h1M37 26.5h1M38 27.5h2M41 27.5h1M36 28.5h1M40 30.5h1M38 31.5h1M40 31.5h1M38 32.5h1M35 37.5h1M40 37.5h1M39 38.5h1M42 38.5h1M27 39.5h1M32 40.5h1M36 41.5h1M42 41.5h1M33 42.5h1M43 43.5h1M42 44.5h1M42 55.5h1M33 56.5h1M44 56.5h1M34 57.5h1M51 58.5h1M33 63.5h1M43 65.5h1M34 67.5h1M34 70.5h1M44 70.5h1M31 76.5h1M34 77.5h1M33 80.5h1M27 81.5h1M33 81.5h1M43 81.5h1M33 84.5h1M43 84.5h1M22 87.5h1M27 87.5h1M43 88.5h1M28 89.5h1M43 90.5h2M34 92.5h1M29 93.5h1M44 94.5h1M32 95.5h1M49 97.5h1M30 98.5h1M32 101.5h1M31 103.5h1M47 106.5h1M25 108.5h1M28 108.5h1M31 108.5h1M31 109.5h1M29 111.5h1M47 111.5h1M23 112.5h1M46 112.5h1M32 113.5h1M47 113.5h1M46 115.5h1M25 117.5h1M47 117.5h1M29 118.5h1M30 119.5h1M30 120.5h1M31 121.5h1M48 122.5h1M28 123.5h1M31 123.5h1M51 123.5h1M28 124.5h1M48 125.5h1"/>
<path stroke="#6e1e81" d="M38 23.5h1M39 26.5h1M43 30.5h1M39 32.5h1M36 33.5h1M38 33.5h1M37 34.5h1M41 35.5h1M41 36.5h1M43 36.5h1M36 37.5h1M42 37.5h1M38 38.5h1M41 38.5h1M36 40.5h1M36 43.5h1M35 45.5h1M37 47.5h1M35 49.5h1M43 49.5h1M42 51.5h1M43 57.5h1M43 63.5h1M34 76.5h1M43 76.5h1M42 78.5h2M42 82.5h2M34 83.5h1M32 84.5h1M44 86.5h1M32 87.5h1M33 88.5h1M44 91.5h1M30 94.5h1M32 97.5h1M33 98.5h1M32 100.5h1M44 100.5h1M33 103.5h1M33 104.5h1M33 106.5h1M46 106.5h1M29 109.5h1M32 110.5h1M31 112.5h1M46 114.5h1M28 115.5h1M46 116.5h1M49 116.5h1M48 117.5h1M31 120.5h1M50 120.5h1M50 122.5h1M55 122.5h1M48 123.5h1M54 123.5h1M50 125.5h1"/>
<path stroke="#732081" d="M40 27.5h1M40 29.5h1M41 31.5h1M37 33.5h1M39 33.5h2M36 34.5h1M41 37.5h1M37 40.5h1M36 45.5h1M35 51.5h1M42 54.5h1M35 56.5h1M42 56.5h1M35 57.5h1M35 60.5h1M42 60.5h2M35 63.5h1M42 65.5h1M43 67.5h1M43 69.5h1M34 75.5h1M42 77.5h1M34 82.5h1M34 85.5h1M45 86.5h1M32 90.5h1M34 90.5h1M30 92.5h1M33 92.5h1M33 94.5h1M43 95.5h1M44 97.5h1M44 99.5h1M28 101.5h1M44 103.5h1M32 104.5h1M44 104.5h1M46 109.5h1M29 114.5h1M31 114.5h1M47 114.5h1M47 116.5h1M48 118.5h1M32 119.5h1M47 120.5h1M49 120.5h1M30 121.5h1M31 122.5h1M29 123.5h1M30 124.5h2M48 126.5h1"/>
<path stroke="#762181" d="M38 37.5h1M37 38.5h1M36 39.5h2M37 41.5h1M36 42.5h1M42 42.5h1M42 45.5h1M34 46.5h1M36 47.5h1M42 49.5h1M42 50.5h1M35 58.5h1M42 63.5h1M43 64.5h1M34 69.5h1M43 71.5h1M34 74.5h1M43 77.5h1M34 78.5h1M34 79.5h1M44 79.5h1M43 80.5h1M34 88.5h1M43 91.5h1M43 92.5h1M43 93.5h1M34 94.5h1M43 94.5h1M33 95.5h1M33 97.5h1M43 99.5h1M44 102.5h1M45 104.5h1M46 108.5h1M45 109.5h1M33 110.5h1M31 111.5h1M46 113.5h1M31 116.5h1M31 117.5h1M32 118.5h1M47 119.5h1M30 122.5h1M32 122.5h1M47 122.5h1M32 123.5h1M47 123.5h1M29 124.5h1M49 126.5h1"/>
<path stroke="#7b2382" d="M37 32.5h1M38 34.5h2M38 35.5h2M40 36.5h1M37 37.5h1M40 38.5h1M40 39.5h2M40 40.5h2M40 41.5h1M41 42.5h1M41 44.5h1M40 47.5h1M41 50.5h1M36 53.5h1M36 56.5h1M34 62.5h1M42 64.5h1M43 66.5h1M42 69.5h1M43 73.5h1M43 74.5h1M43 75.5h1M33 86.5h1M34 87.5h1M34 89.5h1M44 92.5h1M31 95.5h1M33 96.5h1M44 96.5h1M44 98.5h1M33 100.5h2M33 101.5h2M44 106.5h1M32 109.5h1M31 113.5h1M32 117.5h1M31 118.5h1M47 118.5h1M48 120.5h1M32 121.5h1M31 126.5h1M47 126.5h1"/>
<path stroke="#802582" d="M39 37.5h1M39 41.5h1M37 42.5h1M38 44.5h1M37 45.5h1M41 45.5h1M37 46.5h1M41 46.5h1M41 47.5h1M41 48.5h1M36 49.5h1M36 50.5h1M42 52.5h1M42 57.5h1M42 58.5h1M42 59.5h1M35 61.5h1M35 66.5h1M35 67.5h1M42 70.5h1M34 71.5h1M45 75.5h1M43 79.5h1M34 81.5h1M34 84.5h1M43 89.5h1M33 93.5h2M34 95.5h1M33 102.5h1M33 107.5h1M45 110.5h1M32 112.5h1M32 114.5h1M32 116.5h1M46 117.5h1M31 119.5h1M46 120.5h1M46 124.5h1M32 125.5h1"/>
<path stroke="#842681" d="M37 35.5h1M37 36.5h1M39 36.5h1M38 40.5h1M39 42.5h2M39 43.5h1M41 43.5h1M36 44.5h1M36 48.5h1M41 52.5h1M42 53.5h1M36 54.5h1M35 55.5h2M36 57.5h1M42 67.5h1M42 71.5h1M42 75.5h1M35 76.5h1M42 76.5h1M42 79.5h1M42 80.5h1M42 81.5h1M42 83.5h1M34 96.5h1M34 97.5h1M43 97.5h1M34 102.5h1M34 103.5h1M34 104.5h1M33 105.5h1M45 107.5h1M33 109.5h1M33 111.5h1M44 111.5h1M33 113.5h1M32 115.5h2M33 116.5h1M33 118.5h1M46 125.5h1"/>
<path stroke="#882781" d="M40 34.5h1M37 43.5h1M40 44.5h1M40 45.5h1M42 46.5h1M37 50.5h1M36 52.5h1M41 55.5h1M36 61.5h1M42 61.5h1M35 62.5h1M35 70.5h1M35 72.5h1M42 72.5h1M35 73.5h1M35 84.5h1M42 84.5h1M42 85.5h1M42 93.5h1M35 94.5h1M42 96.5h1M34 98.5h1M33 99.5h1M34 105.5h1M44 105.5h1M33 108.5h2M45 111.5h1M33 112.5h1M45 112.5h1M45 113.5h1M32 120.5h1M47 121.5h1M47 124.5h1"/>
<path stroke="#8c2981" d="M40 35.5h1M38 42.5h1M38 43.5h1M40 43.5h1M38 45.5h1M37 48.5h1M40 49.5h1M41 51.5h1M41 60.5h1M42 62.5h1M34 65.5h1M41 65.5h1M35 69.5h1M42 86.5h2M43 87.5h1M34 91.5h1M43 96.5h1M34 99.5h1M43 100.5h1M45 108.5h1M44 109.5h1M33 114.5h1M45 114.5h1M45 115.5h1M46 118.5h1M33 119.5h1M32 126.5h1"/>
<path stroke="#912b81" d="M38 36.5h1M39 39.5h1M38 47.5h1M40 48.5h1M36 51.5h1M36 59.5h1M41 59.5h1M36 62.5h1M35 64.5h1M35 65.5h1M42 66.5h1M42 68.5h1M35 71.5h1M35 74.5h1M34 86.5h1M42 92.5h1M43 98.5h1M35 101.5h1M43 106.5h1M44 107.5h1M44 108.5h1M34 109.5h1M44 110.5h1M45 118.5h1M46 122.5h1M33 123.5h1M32 124.5h1"/>
<path stroke="#942c80" d="M38 41.5h1M37 44.5h1M40 46.5h1M37 49.5h1M41 58.5h1M41 64.5h1M35 75.5h1M35 82.5h1M35 92.5h1M42 99.5h1M43 101.5h1M43 103.5h1M46 119.5h1M33 120.5h1M47 125.5h1"/>
<path stroke="#992d80" d="M39 40.5h1M39 44.5h1M39 49.5h1M37 52.5h1M41 54.5h1M41 56.5h1M35 68.5h1M35 78.5h1M35 90.5h1M42 91.5h1M35 98.5h1M44 112.5h1M34 113.5h1M33 117.5h1"/>
<path stroke="#9e2f7f" d="M39 45.5h1M41 49.5h1M38 50.5h1M37 54.5h1M41 57.5h1M36 63.5h1M36 65.5h1M36 70.5h1M42 73.5h1M42 74.5h1M41 75.5h1M35 83.5h1M42 87.5h1M42 90.5h1M35 96.5h1M42 97.5h1M35 99.5h1M35 100.5h1M43 104.5h1M34 106.5h1M34 110.5h1M34 112.5h1M45 116.5h1M45 117.5h1M33 124.5h1M46 126.5h1"/>
<path stroke="#a1307e" d="M38 46.5h1M39 47.5h1M40 52.5h1M37 53.5h1M41 53.5h1M37 57.5h1M36 58.5h1M41 62.5h1M36 66.5h1M41 70.5h1M41 72.5h1M35 81.5h1M41 81.5h1M35 85.5h1M35 86.5h1M35 87.5h1M42 95.5h1M42 98.5h1M43 102.5h1M42 103.5h1M43 105.5h1M34 107.5h1M43 110.5h1M44 114.5h1M33 122.5h1"/>
<path stroke="#a6317d" d="M39 46.5h1M39 50.5h1M38 51.5h1M38 52.5h1M40 54.5h1M41 61.5h1M41 63.5h1M36 64.5h1M36 67.5h1M41 73.5h1M35 77.5h1M35 80.5h1M41 85.5h1M35 88.5h1M35 89.5h1M42 89.5h1M35 91.5h1M35 93.5h1M42 94.5h1M35 110.5h1M34 111.5h1M46 121.5h1M34 123.5h1M46 123.5h1M33 125.5h1M33 126.5h1"/>
<path stroke="#ab337c" d="M38 48.5h1M40 50.5h1M37 51.5h1M38 53.5h1M40 56.5h1M40 58.5h1M37 59.5h1M36 60.5h1M41 67.5h1M37 70.5h1M36 72.5h1M41 76.5h1M35 79.5h1M36 81.5h1M42 88.5h1M35 97.5h1M35 102.5h1M35 104.5h1M35 107.5h1M43 108.5h1M35 112.5h1M34 115.5h1M44 115.5h1M34 116.5h1M34 120.5h1M33 121.5h1M45 122.5h1M34 124.5h1"/>
<path stroke="#ae347b" d="M38 49.5h1M39 51.5h2M37 56.5h1M40 60.5h1M41 71.5h1M36 74.5h1M36 79.5h1M36 88.5h1M42 102.5h1M34 114.5h1M44 116.5h1M45 121.5h1"/>
<path stroke="#b3367a" d="M40 53.5h1M38 54.5h1M37 55.5h1M37 58.5h1M37 62.5h1M37 64.5h1M36 68.5h1M36 71.5h1M36 73.5h1M36 75.5h1M41 80.5h1M41 83.5h1M41 86.5h1M35 103.5h1M42 104.5h1M43 107.5h1M43 109.5h1M35 111.5h1M45 119.5h1M34 121.5h1"/>
<path stroke="#b83779" d="M39 52.5h1M39 56.5h1M40 59.5h1M41 66.5h1M36 69.5h1M41 69.5h1M41 74.5h1M41 78.5h1M41 84.5h1M35 95.5h1M42 100.5h1M35 105.5h1M35 106.5h1M43 112.5h1M45 120.5h1M45 124.5h1M45 125.5h1"/>
<path stroke="#bd3977" d="M39 53.5h1M38 57.5h1M39 59.5h1M37 60.5h1M37 61.5h1M37 63.5h1M39 64.5h1M41 68.5h1M41 79.5h1M41 82.5h1M36 91.5h1M36 97.5h1M36 99.5h1M36 100.5h1M42 105.5h1M42 106.5h1M44 113.5h1M34 117.5h1M34 119.5h1M34 122.5h1M34 125.5h1M45 126.5h1"/>
<path stroke="#c03a76" d="M39 48.5h1M39 54.5h1M40 57.5h1M40 66.5h1M37 68.5h1M40 69.5h1M36 76.5h1M41 77.5h1M36 80.5h1M41 87.5h1M36 90.5h1M36 96.5h1M36 98.5h1M42 101.5h1M42 107.5h1M35 108.5h1M43 111.5h1M44 118.5h1M45 123.5h1M34 126.5h1"/>
<path stroke="#c53c74" d="M40 55.5h1M39 58.5h1M38 61.5h1M40 61.5h1M37 65.5h1M37 67.5h1M37 72.5h1M40 73.5h1M36 77.5h1M36 83.5h1M41 90.5h1M36 92.5h1M41 94.5h1M41 96.5h1M41 97.5h1M36 103.5h1M35 109.5h1M35 113.5h1M44 117.5h1"/>
<path stroke="#ca3e72" d="M39 57.5h1M39 61.5h1M40 64.5h1M40 65.5h1M40 70.5h1M37 71.5h1M40 71.5h1M41 88.5h1M41 92.5h1M36 95.5h1M41 100.5h1M36 102.5h1M43 113.5h1M35 118.5h1M44 123.5h1"/>
<path stroke="#cd4071" d="M38 55.5h1M38 56.5h1M38 58.5h1M38 59.5h1M38 60.5h1M38 62.5h2M40 63.5h1M37 66.5h1M40 74.5h1M37 75.5h1M37 76.5h1M40 77.5h1M36 78.5h1M36 82.5h1M36 84.5h1M36 85.5h1M36 87.5h1M41 89.5h1M36 93.5h1M41 93.5h1M41 95.5h1M41 99.5h1M41 105.5h1M36 108.5h1M42 109.5h1M35 115.5h1M43 115.5h1M35 117.5h1M34 118.5h1M44 119.5h1M44 121.5h1M44 122.5h1M44 124.5h1"/>
<path stroke="#d2426f" d="M40 62.5h1M38 64.5h1M39 66.5h1M40 67.5h1M40 68.5h1M40 79.5h1M40 82.5h1M40 84.5h1M36 89.5h1M41 91.5h1M41 98.5h1M36 105.5h1M42 108.5h1M36 109.5h1M42 110.5h1M43 114.5h1M43 116.5h1M35 119.5h1"/>
<path stroke="#d6456c" d="M39 55.5h1M39 71.5h1M37 73.5h1M38 75.5h1M40 75.5h1M40 83.5h1M40 85.5h1M36 86.5h1M40 86.5h1M36 94.5h1M37 101.5h1M41 101.5h1M41 103.5h1M36 107.5h1M35 116.5h1M44 125.5h1M35 126.5h1"/>
<path stroke="#d9466b" d="M39 60.5h1M38 63.5h1M39 70.5h1M38 71.5h1M40 72.5h1M40 90.5h1M37 98.5h1M41 102.5h1M36 104.5h1M36 106.5h1M35 114.5h1M44 120.5h1M35 123.5h1"/>
<path stroke="#de4968" d="M37 69.5h1M39 72.5h1M40 76.5h1M37 78.5h1M37 81.5h1M37 82.5h1M37 84.5h1M36 101.5h1M35 120.5h1M35 122.5h1"/>
<path stroke="#e24d66" d="M39 65.5h1M39 69.5h1M40 80.5h1M40 81.5h1M39 82.5h1M37 87.5h1M37 88.5h1M40 89.5h1M37 92.5h1M37 94.5h1M37 99.5h1M41 106.5h1M35 121.5h1M44 126.5h1"/>
<path stroke="#e44f64" d="M39 63.5h1M38 65.5h1M38 68.5h1M39 75.5h1M37 77.5h2M39 78.5h2M37 80.5h1M39 80.5h1M40 87.5h1M40 88.5h1M37 89.5h1M37 95.5h1M37 100.5h1M41 104.5h1M36 110.5h1M42 111.5h1M36 115.5h1M43 121.5h1M35 124.5h1M35 125.5h1"/>
<path stroke="#e85362" d="M39 68.5h1M38 72.5h1M37 74.5h1M39 79.5h1M37 83.5h1M37 86.5h1M37 91.5h1M40 99.5h1M43 117.5h1"/>
<path stroke="#eb5760" d="M38 66.5h1M39 67.5h1M38 69.5h1M38 70.5h1M37 79.5h1M37 90.5h1M40 92.5h1M40 94.5h1M37 97.5h1M36 114.5h1M43 119.5h1M36 120.5h1"/>
<path stroke="#ee5b5e" d="M38 78.5h1M38 79.5h1M37 85.5h1M39 86.5h1M39 87.5h1M37 96.5h1M40 96.5h1M40 101.5h1M37 104.5h1M36 112.5h1M42 112.5h1M42 113.5h1"/>
<path stroke="#f05f5e" d="M38 67.5h1M39 73.5h1M38 74.5h1M38 76.5h1M39 77.5h1M38 85.5h1M38 86.5h1M39 88.5h1M39 89.5h1M39 91.5h2M39 93.5h1M36 111.5h1M36 116.5h1M36 117.5h1M36 118.5h1M43 120.5h1M36 124.5h1M43 126.5h1"/>
<path stroke="#f2645c" d="M38 73.5h1M39 74.5h1M39 76.5h1M38 83.5h2M39 92.5h1M37 93.5h1M40 93.5h1M37 102.5h1M37 103.5h1M37 105.5h1M41 107.5h1M37 111.5h1M36 113.5h2M42 114.5h1M36 122.5h1M36 126.5h1"/>
<path stroke="#f4695c" d="M38 80.5h1M38 81.5h1M39 90.5h1M39 96.5h1M38 97.5h1M38 100.5h1M38 101.5h1M40 104.5h1M38 107.5h1M38 108.5h1M41 108.5h1M36 119.5h1M43 123.5h1"/>
<path stroke="#f66c5c" d="M39 81.5h1M38 84.5h1M38 87.5h1M39 95.5h2M38 98.5h1M38 99.5h1M40 100.5h1M37 107.5h1M37 110.5h1M43 118.5h1M43 125.5h1"/>
<path stroke="#f7725c" d="M38 88.5h1M38 89.5h1M38 94.5h2M40 98.5h1M38 103.5h1M39 106.5h1M36 121.5h1M43 122.5h1M43 124.5h1"/>
<path stroke="#f9785d" d="M38 82.5h1M39 84.5h1M38 96.5h1M40 97.5h1M37 106.5h1M37 108.5h1M40 112.5h1M37 115.5h1M42 115.5h1M42 121.5h1M37 126.5h1"/>
<path stroke="#f97b5d" d="M40 102.5h1M39 103.5h1M39 104.5h1M39 105.5h1M38 106.5h1M40 111.5h1M37 112.5h1M42 116.5h1"/>
<path stroke="#fa815f" d="M39 85.5h1M38 90.5h1M37 114.5h1"/>
<path stroke="#fb8761" d="M38 93.5h1M38 95.5h1M39 97.5h1M39 99.5h1M39 102.5h1M38 104.5h1M38 105.5h1M39 107.5h1M37 109.5h1M41 109.5h1M42 118.5h1M36 123.5h1M36 125.5h2"/>
<path stroke="#fc8c63" d="M38 92.5h1M38 102.5h1M40 103.5h1M40 105.5h1M40 107.5h1M38 109.5h1M41 110.5h1M39 112.5h1M41 112.5h1M42 117.5h1M37 118.5h1M42 125.5h1"/>
<path stroke="#fc9065" d="M38 91.5h1M39 101.5h1M40 106.5h1M40 108.5h1M39 109.5h1M38 111.5h1M38 112.5h1M39 113.5h1M37 117.5h1M41 117.5h1M37 123.5h1M37 124.5h1M42 124.5h1"/>
<path stroke="#fd9668" d="M39 98.5h1M38 110.5h2M39 111.5h1M37 116.5h1M42 123.5h1"/>
<path stroke="#fd9b6b" d="M40 109.5h1M41 111.5h1M40 113.5h1M37 120.5h1M37 121.5h1M37 122.5h1"/>
<path stroke="#fe9f6d" d="M39 100.5h1M38 113.5h1M41 113.5h1M38 115.5h1M39 117.5h1M42 120.5h1M42 126.5h1"/>
<path stroke="#fea571" d="M40 110.5h1M40 115.5h2M38 118.5h1M40 118.5h1M37 119.5h1M41 122.5h1M38 126.5h1"/>
<path stroke="#feaa74" d="M40 116.5h2M41 118.5h1M42 122.5h1M41 124.5h1M38 125.5h1M40 125.5h1"/>
<path stroke="#feae77" d="M39 108.5h1M39 114.5h1M42 119.5h1M41 126.5h1"/>
<path stroke="#feb47b" d="M40 114.5h2M41 119.5h1M39 122.5h1M41 123.5h1"/>
<path stroke="#feb97f" d="M38 117.5h1M39 118.5h1M38 123.5h1M39 126.5h1"/>
<path stroke="#febd82" d="M38 114.5h1M39 115.5h1M38 116.5h1M40 117.5h1M38 119.5h1M38 120.5h1M41 121.5h1M38 122.5h1M39 123.5h1"/>
<path stroke="#fec287" d="M39 116.5h1M39 119.5h1M41 120.5h1M41 125.5h1"/>
<path stroke="#fec88c" d="M40 123.5h1M40 124.5h1M39 125.5h1"/>
<path stroke="#fecd90" d="M40 119.5h1M40 122.5h1M38 124.5h1"/>
<path stroke="#fed194" d="M38 121.5h1M40 126.5h1"/>
<path stroke="#fed799" d="M40 120.5h1M39 121.5h1"/>
<path stroke="#fddc9e" d="M40 121.5h1M39 124.5h1"/>
<path stroke="#fde5a7" d="M39 120.5h1"/>
</g>
</g></g>
<rect x="93.5" y="638.5" width="237.0" height="190.0" fill="none" stroke="#231f20" stroke-width="0.8"/>
<line x1="88.20" y1="638.40" x2="93.50" y2="638.40" stroke="#231f20" stroke-width="0.8" />
<text x="83.0" y="642.0" font-size="10.5" text-anchor="end" fill="#231f20" textLength="20.1" lengthAdjust="spacingAndGlyphs" >600</text>
<line x1="88.20" y1="701.70" x2="93.50" y2="701.70" stroke="#231f20" stroke-width="0.8" />
<text x="83.0" y="705.3" font-size="10.5" text-anchor="end" fill="#231f20" textLength="20.1" lengthAdjust="spacingAndGlyphs" >400</text>
<line x1="88.20" y1="765.00" x2="93.50" y2="765.00" stroke="#231f20" stroke-width="0.8" />
<text x="83.0" y="768.6" font-size="10.5" text-anchor="end" fill="#231f20" textLength="20.1" lengthAdjust="spacingAndGlyphs" >200</text>
<line x1="88.20" y1="828.30" x2="93.50" y2="828.30" stroke="#231f20" stroke-width="0.8" />
<text x="83.0" y="831.9" font-size="10.5" text-anchor="end" fill="#231f20" textLength="6.7" lengthAdjust="spacingAndGlyphs" >0</text>
<line x1="138.90" y1="828.50" x2="138.90" y2="833.50" stroke="#231f20" stroke-width="0.8" />
<text x="138.9" y="848.0" font-size="10.5" text-anchor="middle" fill="#231f20" textLength="21.3" lengthAdjust="spacingAndGlyphs" >−0.2</text>
<line x1="211.40" y1="828.50" x2="211.40" y2="833.50" stroke="#231f20" stroke-width="0.8" />
<text x="211.4" y="848.0" font-size="10.5" text-anchor="middle" fill="#231f20" textLength="6.7" lengthAdjust="spacingAndGlyphs" >0</text>
<line x1="283.90" y1="828.50" x2="283.90" y2="833.50" stroke="#231f20" stroke-width="0.8" />
<text x="283.9" y="848.0" font-size="10.5" text-anchor="middle" fill="#231f20" textLength="16.0" lengthAdjust="spacingAndGlyphs" >0.2</text>
<text x="211.4" y="867" font-size="12.5" text-anchor="middle" fill="#231f20">Detuning, <tspan font-style="italic">ε</tspan> (meV)</text>
<text transform="translate(51.5,734) rotate(-90)" font-size="12.5" text-anchor="middle" fill="#231f20"><tspan font-style="italic">B</tspan> (mT)</text>
<text x="139.0" y="738.5" font-size="12" text-anchor="middle" fill="#fff" textLength="27.1" lengthAdjust="spacingAndGlyphs" >(0,2)</text>
<text x="269.5" y="738.5" font-size="12" text-anchor="middle" fill="#fff" textLength="21.4" lengthAdjust="spacingAndGlyphs" >(1,1)</text>
<text x="26" y="586.6" font-size="17.5" font-weight="bold" fill="#000">c</text>
<defs><clipPath id="cld"><rect x="394.5" y="65.5" width="281.0" height="174.0"/></clipPath></defs>
<g clip-path="url(#cld)">
<line x1="535.3" y1="65.5" x2="535.3" y2="239.5" stroke="#7a7a7a" stroke-width="1.6" stroke-dasharray="7 4.5"/>
<path d="M388.5 59.4 L389.5 60.0 L390.5 60.6 L391.5 61.2 L392.4 61.8 L393.4 62.4 L394.4 63.0 L395.4 63.6 L396.4 64.2 L397.3 64.8 L398.3 65.4 L399.3 66.0 L400.3 66.6 L401.3 67.2 L402.3 67.8 L403.2 68.4 L404.2 69.0 L405.2 69.6 L406.2 70.2 L407.2 70.8 L408.1 71.4 L409.1 72.0 L410.1 72.6 L411.1 73.2 L412.1 73.8 L413.1 74.4 L414.0 75.0 L415.0 75.6 L416.0 76.1 L417.0 76.7 L418.0 77.3 L418.9 77.9 L419.9 78.5 L420.9 79.1 L421.9 79.7 L422.9 80.3 L423.9 80.9 L424.8 81.5 L425.8 82.1 L426.8 82.7 L427.8 83.3 L428.8 83.9 L429.7 84.4 L430.7 85.0 L431.7 85.6 L432.7 86.2 L433.7 86.8 L434.7 87.4 L435.6 88.0 L436.6 88.6 L437.6 89.2 L438.6 89.7 L439.6 90.3 L440.5 90.9 L441.5 91.5 L442.5 92.1 L443.5 92.7 L444.5 93.3 L445.5 93.8 L446.4 94.4 L447.4 95.0 L448.4 95.6 L449.4 96.2 L450.4 96.8 L451.3 97.3 L452.3 97.9 L453.3 98.5 L454.3 99.1 L455.3 99.6 L456.3 100.2 L457.2 100.8 L458.2 101.4 L459.2 101.9 L460.2 102.5 L461.2 103.1 L462.2 103.7 L463.1 104.2 L464.1 104.8 L465.1 105.4 L466.1 105.9 L467.1 106.5 L468.0 107.1 L469.0 107.6 L470.0 108.2 L471.0 108.8 L472.0 109.3 L473.0 109.9 L473.9 110.4 L474.9 111.0 L475.9 111.5 L476.9 112.1 L477.9 112.6 L478.8 113.2 L479.8 113.7 L480.8 114.3 L481.8 114.8 L482.8 115.4 L483.8 115.9 L484.7 116.4 L485.7 117.0 L486.7 117.5 L487.7 118.0 L488.7 118.6 L489.6 119.1 L490.6 119.6 L491.6 120.1 L492.6 120.6 L493.6 121.1 L494.6 121.6 L495.5 122.1 L496.5 122.6 L497.5 123.1 L498.5 123.6 L499.5 124.1 L500.4 124.6 L501.4 125.1 L502.4 125.5 L503.4 126.0 L504.4 126.5 L505.4 126.9 L506.3 127.3 L507.3 127.8 L508.3 128.2 L509.3 128.6 L510.3 129.0 L511.2 129.4 L512.2 129.8 L513.2 130.2 L514.2 130.6 L515.2 131.0 L516.2 131.3 L517.1 131.7 L518.1 132.0 L519.1 132.3 L520.1 132.6 L521.1 132.9 L522.0 133.1 L523.0 133.4 L524.0 133.6 L525.0 133.9 L526.0 134.1 L527.0 134.2 L527.9 134.4 L528.9 134.6 L529.9 134.7 L530.9 134.8 L531.9 134.9 L532.8 134.9 L533.8 135.0 L534.8 135.0 L535.8 135.0 L536.8 135.0 L537.8 134.9 L538.7 134.9 L539.7 134.8 L540.7 134.7 L541.7 134.6 L542.7 134.4 L543.6 134.2 L544.6 134.1 L545.6 133.9 L546.6 133.6 L547.6 133.4 L548.6 133.1 L549.5 132.9 L550.5 132.6 L551.5 132.3 L552.5 132.0 L553.5 131.7 L554.4 131.3 L555.4 131.0 L556.4 130.6 L557.4 130.2 L558.4 129.8 L559.4 129.4 L560.3 129.0 L561.3 128.6 L562.3 128.2 L563.3 127.8 L564.3 127.3 L565.2 126.9 L566.2 126.5 L567.2 126.0 L568.2 125.5 L569.2 125.1 L570.2 124.6 L571.1 124.1 L572.1 123.6 L573.1 123.1 L574.1 122.6 L575.1 122.1 L576.0 121.6 L577.0 121.1 L578.0 120.6 L579.0 120.1 L580.0 119.6 L581.0 119.1 L581.9 118.6 L582.9 118.0 L583.9 117.5 L584.9 117.0 L585.9 116.4 L586.8 115.9 L587.8 115.4 L588.8 114.8 L589.8 114.3 L590.8 113.7 L591.8 113.2 L592.7 112.6 L593.7 112.1 L594.7 111.5 L595.7 111.0 L596.7 110.4 L597.6 109.9 L598.6 109.3 L599.6 108.8 L600.6 108.2 L601.6 107.6 L602.6 107.1 L603.5 106.5 L604.5 105.9 L605.5 105.4 L606.5 104.8 L607.5 104.2 L608.4 103.7 L609.4 103.1 L610.4 102.5 L611.4 101.9 L612.4 101.4 L613.4 100.8 L614.3 100.2 L615.3 99.6 L616.3 99.1 L617.3 98.5 L618.3 97.9 L619.3 97.3 L620.2 96.8 L621.2 96.2 L622.2 95.6 L623.2 95.0 L624.2 94.4 L625.1 93.8 L626.1 93.3 L627.1 92.7 L628.1 92.1 L629.1 91.5 L630.1 90.9 L631.0 90.3 L632.0 89.7 L633.0 89.2 L634.0 88.6 L635.0 88.0 L635.9 87.4 L636.9 86.8 L637.9 86.2 L638.9 85.6 L639.9 85.0 L640.9 84.4 L641.8 83.9 L642.8 83.3 L643.8 82.7 L644.8 82.1 L645.8 81.5 L646.7 80.9 L647.7 80.3 L648.7 79.7 L649.7 79.1 L650.7 78.5 L651.7 77.9 L652.6 77.3 L653.6 76.7 L654.6 76.1 L655.6 75.6 L656.6 75.0 L657.5 74.4 L658.5 73.8 L659.5 73.2 L660.5 72.6 L661.5 72.0 L662.5 71.4 L663.4 70.8 L664.4 70.2 L665.4 69.6 L666.4 69.0 L667.4 68.4 L668.3 67.8 L669.3 67.2 L670.3 66.6 L671.3 66.0 L672.3 65.4 L673.3 64.8 L674.2 64.2 L675.2 63.6 L676.2 63.0 L677.2 62.4 L678.2 61.8 L679.1 61.2 L680.1 60.6 L681.1 60.0 L682.1 59.4" fill="none" stroke="#f98b5e" stroke-width="4.2" />
<path d="M388.5 245.4 L389.5 244.8 L390.5 244.2 L391.5 243.6 L392.4 243.0 L393.4 242.4 L394.4 241.8 L395.4 241.2 L396.4 240.6 L397.3 240.0 L398.3 239.4 L399.3 238.8 L400.3 238.2 L401.3 237.6 L402.3 237.0 L403.2 236.4 L404.2 235.8 L405.2 235.2 L406.2 234.6 L407.2 234.0 L408.1 233.4 L409.1 232.8 L410.1 232.2 L411.1 231.6 L412.1 231.0 L413.1 230.4 L414.0 229.8 L415.0 229.2 L416.0 228.7 L417.0 228.1 L418.0 227.5 L418.9 226.9 L419.9 226.3 L420.9 225.7 L421.9 225.1 L422.9 224.5 L423.9 223.9 L424.8 223.3 L425.8 222.7 L426.8 222.1 L427.8 221.5 L428.8 220.9 L429.7 220.4 L430.7 219.8 L431.7 219.2 L432.7 218.6 L433.7 218.0 L434.7 217.4 L435.6 216.8 L436.6 216.2 L437.6 215.6 L438.6 215.1 L439.6 214.5 L440.5 213.9 L441.5 213.3 L442.5 212.7 L443.5 212.1 L444.5 211.5 L445.5 211.0 L446.4 210.4 L447.4 209.8 L448.4 209.2 L449.4 208.6 L450.4 208.0 L451.3 207.5 L452.3 206.9 L453.3 206.3 L454.3 205.7 L455.3 205.2 L456.3 204.6 L457.2 204.0 L458.2 203.4 L459.2 202.9 L460.2 202.3 L461.2 201.7 L462.2 201.1 L463.1 200.6 L464.1 200.0 L465.1 199.4 L466.1 198.9 L467.1 198.3 L468.0 197.7 L469.0 197.2 L470.0 196.6 L471.0 196.0 L472.0 195.5 L473.0 194.9 L473.9 194.4 L474.9 193.8 L475.9 193.3 L476.9 192.7 L477.9 192.2 L478.8 191.6 L479.8 191.1 L480.8 190.5 L481.8 190.0 L482.8 189.4 L483.8 188.9 L484.7 188.4 L485.7 187.8 L486.7 187.3 L487.7 186.8 L488.7 186.2 L489.6 185.7 L490.6 185.2 L491.6 184.7 L492.6 184.2 L493.6 183.7 L494.6 183.2 L495.5 182.7 L496.5 182.2 L497.5 181.7 L498.5 181.2 L499.5 180.7 L500.4 180.2 L501.4 179.7 L502.4 179.3 L503.4 178.8 L504.4 178.3 L505.4 177.9 L506.3 177.5 L507.3 177.0 L508.3 176.6 L509.3 176.2 L510.3 175.8 L511.2 175.4 L512.2 175.0 L513.2 174.6 L514.2 174.2 L515.2 173.8 L516.2 173.5 L517.1 173.1 L518.1 172.8 L519.1 172.5 L520.1 172.2 L521.1 171.9 L522.0 171.7 L523.0 171.4 L524.0 171.2 L525.0 170.9 L526.0 170.7 L527.0 170.6 L527.9 170.4 L528.9 170.2 L529.9 170.1 L530.9 170.0 L531.9 169.9 L532.8 169.9 L533.8 169.8 L534.8 169.8 L535.8 169.8 L536.8 169.8 L537.8 169.9 L538.7 169.9 L539.7 170.0 L540.7 170.1 L541.7 170.2 L542.7 170.4 L543.6 170.6 L544.6 170.7 L545.6 170.9 L546.6 171.2 L547.6 171.4 L548.6 171.7 L549.5 171.9 L550.5 172.2 L551.5 172.5 L552.5 172.8 L553.5 173.1 L554.4 173.5 L555.4 173.8 L556.4 174.2 L557.4 174.6 L558.4 175.0 L559.4 175.4 L560.3 175.8 L561.3 176.2 L562.3 176.6 L563.3 177.0 L564.3 177.5 L565.2 177.9 L566.2 178.3 L567.2 178.8 L568.2 179.3 L569.2 179.7 L570.2 180.2 L571.1 180.7 L572.1 181.2 L573.1 181.7 L574.1 182.2 L575.1 182.7 L576.0 183.2 L577.0 183.7 L578.0 184.2 L579.0 184.7 L580.0 185.2 L581.0 185.7 L581.9 186.2 L582.9 186.8 L583.9 187.3 L584.9 187.8 L585.9 188.4 L586.8 188.9 L587.8 189.4 L588.8 190.0 L589.8 190.5 L590.8 191.1 L591.8 191.6 L592.7 192.2 L593.7 192.7 L594.7 193.3 L595.7 193.8 L596.7 194.4 L597.6 194.9 L598.6 195.5 L599.6 196.0 L600.6 196.6 L601.6 197.2 L602.6 197.7 L603.5 198.3 L604.5 198.9 L605.5 199.4 L606.5 200.0 L607.5 200.6 L608.4 201.1 L609.4 201.7 L610.4 202.3 L611.4 202.9 L612.4 203.4 L613.4 204.0 L614.3 204.6 L615.3 205.2 L616.3 205.7 L617.3 206.3 L618.3 206.9 L619.3 207.5 L620.2 208.0 L621.2 208.6 L622.2 209.2 L623.2 209.8 L624.2 210.4 L625.1 211.0 L626.1 211.5 L627.1 212.1 L628.1 212.7 L629.1 213.3 L630.1 213.9 L631.0 214.5 L632.0 215.1 L633.0 215.6 L634.0 216.2 L635.0 216.8 L635.9 217.4 L636.9 218.0 L637.9 218.6 L638.9 219.2 L639.9 219.8 L640.9 220.4 L641.8 220.9 L642.8 221.5 L643.8 222.1 L644.8 222.7 L645.8 223.3 L646.7 223.9 L647.7 224.5 L648.7 225.1 L649.7 225.7 L650.7 226.3 L651.7 226.9 L652.6 227.5 L653.6 228.1 L654.6 228.7 L655.6 229.2 L656.6 229.8 L657.5 230.4 L658.5 231.0 L659.5 231.6 L660.5 232.2 L661.5 232.8 L662.5 233.4 L663.4 234.0 L664.4 234.6 L665.4 235.2 L666.4 235.8 L667.4 236.4 L668.3 237.0 L669.3 237.6 L670.3 238.2 L671.3 238.8 L672.3 239.4 L673.3 240.0 L674.2 240.6 L675.2 241.2 L676.2 241.8 L677.2 242.4 L678.2 243.0 L679.1 243.6 L680.1 244.2 L681.1 244.8 L682.1 245.4" fill="none" stroke="#f98b5e" stroke-width="4.2" />
<line x1="381.52" y1="6.24" x2="689.08" y2="197.64" stroke="#4a0f83" stroke-width="4.4" />
<line x1="381.52" y1="56.70" x2="689.08" y2="248.10" stroke="#4a0f83" stroke-width="4.4" />
<line x1="381.52" y1="107.16" x2="689.08" y2="298.56" stroke="#4a0f83" stroke-width="4.4" />
</g>
<rect x="394.5" y="65.5" width="281.0" height="174.0" fill="none" stroke="#6a6a6a" stroke-width="1"/>
<line x1="389.60" y1="82.80" x2="394.50" y2="82.80" stroke="#555" stroke-width="0.9" />
<text x="385.6" y="86.5" font-size="10.5" text-anchor="end" fill="#231f20" textLength="6.7" lengthAdjust="spacingAndGlyphs" >4</text>
<line x1="389.60" y1="117.60" x2="394.50" y2="117.60" stroke="#555" stroke-width="0.9" />
<text x="385.6" y="121.3" font-size="10.5" text-anchor="end" fill="#231f20" textLength="6.7" lengthAdjust="spacingAndGlyphs" >2</text>
<line x1="389.60" y1="152.40" x2="394.50" y2="152.40" stroke="#555" stroke-width="0.9" />
<text x="385.6" y="156.1" font-size="10.5" text-anchor="end" fill="#231f20" textLength="6.7" lengthAdjust="spacingAndGlyphs" >0</text>
<line x1="389.60" y1="187.20" x2="394.50" y2="187.20" stroke="#555" stroke-width="0.9" />
<text x="385.6" y="190.9" font-size="10.5" text-anchor="end" fill="#231f20" textLength="11.9" lengthAdjust="spacingAndGlyphs" >−2</text>
<line x1="389.60" y1="222.00" x2="394.50" y2="222.00" stroke="#555" stroke-width="0.9" />
<text x="385.6" y="225.7" font-size="10.5" text-anchor="end" fill="#231f20" textLength="11.9" lengthAdjust="spacingAndGlyphs" >−4</text>
<line x1="423.46" y1="239.50" x2="423.46" y2="244.50" stroke="#555" stroke-width="0.9" />
<text x="423.5" y="259.2" font-size="10.5" text-anchor="middle" fill="#231f20" textLength="11.9" lengthAdjust="spacingAndGlyphs" >−8</text>
<line x1="479.38" y1="239.50" x2="479.38" y2="244.50" stroke="#555" stroke-width="0.9" />
<text x="479.4" y="259.2" font-size="10.5" text-anchor="middle" fill="#231f20" textLength="11.9" lengthAdjust="spacingAndGlyphs" >−4</text>
<line x1="535.30" y1="239.50" x2="535.30" y2="244.50" stroke="#555" stroke-width="0.9" />
<text x="535.3" y="259.2" font-size="10.5" text-anchor="middle" fill="#231f20" textLength="6.7" lengthAdjust="spacingAndGlyphs" >0</text>
<line x1="591.22" y1="239.50" x2="591.22" y2="244.50" stroke="#555" stroke-width="0.9" />
<text x="591.2" y="259.2" font-size="10.5" text-anchor="middle" fill="#231f20" textLength="6.7" lengthAdjust="spacingAndGlyphs" >4</text>
<line x1="647.14" y1="239.50" x2="647.14" y2="244.50" stroke="#555" stroke-width="0.9" />
<text x="647.1" y="259.2" font-size="10.5" text-anchor="middle" fill="#231f20" textLength="6.7" lengthAdjust="spacingAndGlyphs" >8</text>
<text x="535.3" y="279.3" font-size="12.5" text-anchor="middle" fill="#231f20">Detuning, <tspan font-style="italic">ε</tspan>/t<tspan font-size="8.5" dy="3">c</tspan></text>
<text transform="translate(360.2,153.3) rotate(-90)" font-size="12.5" text-anchor="middle" fill="#231f20">Energy, <tspan font-style="italic">E</tspan>/t<tspan font-size="8.5" dy="3">c</tspan></text>
<text transform="translate(444.8,84.5) rotate(29.0)" font-size="12" text-anchor="middle" fill="#f98b5e">S(1,1)</text>
<text transform="translate(412.2,117) rotate(31.7)" font-size="12" text-anchor="middle" fill="#4a0f83"><tspan font-style="italic">T</tspan><tspan font-size="8" dy="2.5">−</tspan><tspan dy="-2.5">(1,1)</tspan></text>
<text transform="translate(606,96) rotate(-28.0)" font-size="12" text-anchor="middle" fill="#f98b5e">S(0,2)</text>
<text transform="translate(558.6,155) rotate(31.7)" font-size="12" text-anchor="middle" fill="#4a0f83"><tspan font-style="italic">T</tspan><tspan font-size="8" dy="2.5">0</tspan><tspan dy="-2.5">(1,1)</tspan></text>
<text transform="translate(631.4,151.8) rotate(31.7)" font-size="12" text-anchor="middle" fill="#4a0f83"><tspan font-style="italic">T</tspan><tspan font-size="8" dy="2.5">+</tspan><tspan dy="-2.5">(1,1)</tspan></text>
<text transform="translate(418.6,215.5) rotate(-29.0)" font-size="12" text-anchor="middle" fill="#f98b5e">S(0,2)</text>
<text transform="translate(600.9,217.6) rotate(29.0)" font-size="12" text-anchor="middle" fill="#f98b5e">S(1,1)</text>
<line x1="417.3" y1="239.3" x2="457.2" y2="216.3" stroke="#000" stroke-width="1.7"/><path d="M462.0 213.6 L457.8 219.3 L455.0 214.4 Z" fill="#000"/>
<line x1="481.7" y1="185.0" x2="515.7" y2="168.2" stroke="#000" stroke-width="1.7"/><path d="M520.6 165.8 L516.0 171.2 L513.5 166.2 Z" fill="#000"/>
<path d="M547.7 170.5 C556 175, 556.5 185, 549 191 C541.5 197, 540 203, 545.5 209.5" fill="none" stroke="#ee1c1c" stroke-width="1.8"/>
<path d="M548.6 212.8 L541.6 210.2 L547 205.8 Z" fill="#ee1c1c"/>
<circle cx="535.6" cy="169.7" r="9.0" fill="#fff" stroke="#000" stroke-width="1.8"/>
<text x="535.6" y="173.6" font-size="11" text-anchor="middle" fill="#000" >M</text>
<circle cx="468.6" cy="197.3" r="9.0" fill="#fff" stroke="#000" stroke-width="1.8"/>
<text x="468.6" y="201.2" font-size="11" text-anchor="middle" fill="#000" >I</text>
<text x="347.5" y="61" font-size="17.5" font-weight="bold" fill="#000">d</text>
<defs><clipPath id="cle"><rect x="395.5" y="327.5" width="280.0" height="139.0"/></clipPath></defs>
<g clip-path="url(#cle)">
<path d="M384.3 341.0 L385.4 341.0 L386.6 341.0 L387.7 341.0 L388.9 341.0 L390.0 341.0 L391.1 341.0 L392.3 341.0 L393.4 341.0 L394.5 341.0 L395.7 341.0 L396.8 341.0 L398.0 341.0 L399.1 341.0 L400.2 341.0 L401.4 341.0 L402.5 341.0 L403.7 341.0 L404.8 341.0 L405.9 341.0 L407.1 341.0 L408.2 341.1 L409.3 341.1 L410.5 341.1 L411.6 341.1 L412.8 341.1 L413.9 341.1 L415.0 341.1 L416.2 341.1 L417.3 341.1 L418.5 341.1 L419.6 341.1 L420.7 341.1 L421.9 341.1 L423.0 341.1 L424.1 341.1 L425.3 341.1 L426.4 341.1 L427.6 341.1 L428.7 341.1 L429.8 341.1 L431.0 341.1 L432.1 341.1 L433.3 341.1 L434.4 341.2 L435.5 341.2 L436.7 341.2 L437.8 341.2 L438.9 341.2 L440.1 341.2 L441.2 341.2 L442.4 341.2 L443.5 341.2 L444.6 341.2 L445.8 341.2 L446.9 341.2 L448.0 341.2 L449.2 341.3 L450.3 341.3 L451.5 341.3 L452.6 341.3 L453.7 341.3 L454.9 341.3 L456.0 341.3 L457.2 341.3 L458.3 341.3 L459.4 341.4 L460.6 341.4 L461.7 341.4 L462.8 341.4 L464.0 341.4 L465.1 341.4 L466.3 341.5 L467.4 341.5 L468.5 341.5 L469.7 341.5 L470.8 341.5 L472.0 341.5 L473.1 341.6 L474.2 341.6 L475.4 341.6 L476.5 341.6 L477.6 341.7 L478.8 341.7 L479.9 341.7 L481.1 341.7 L482.2 341.8 L483.3 341.8 L484.5 341.8 L485.6 341.9 L486.8 341.9 L487.9 341.9 L489.0 342.0 L490.2 342.0 L491.3 342.0 L492.4 342.1 L493.6 342.1 L494.7 342.1 L495.9 342.2 L497.0 342.2 L498.1 342.3 L499.3 342.3 L500.4 342.4 L501.6 342.4 L502.7 342.5 L503.8 342.5 L505.0 342.6 L506.1 342.6 L507.2 342.7 L508.4 342.8 L509.5 342.8 L510.7 342.9 L511.8 343.0 L512.9 343.0 L514.1 343.1 L515.2 343.2 L516.4 343.3 L517.5 343.4 L518.6 343.4 L519.8 343.5 L520.9 343.6 L522.0 343.7 L523.2 343.8 L524.3 343.9 L525.5 344.0 L526.6 344.1 L527.7 344.3 L528.9 344.4 L530.0 344.5 L531.2 344.6 L532.3 344.8 L533.4 344.9 L534.6 345.0 L535.7 345.2 L536.8 345.3 L538.0 345.5 L539.1 345.6 L540.3 345.8 L541.4 346.0 L542.5 346.2 L543.7 346.3 L544.8 346.5 L545.9 346.7 L547.1 346.9 L548.2 347.2 L549.4 347.4 L550.5 347.6 L551.6 347.8 L552.8 348.1 L553.9 348.3 L555.1 348.6 L556.2 348.9 L557.3 349.1 L558.5 349.4 L559.6 349.7 L560.7 350.0 L561.9 350.3 L563.0 350.7 L564.2 351.0 L565.3 351.3 L566.4 351.7 L567.6 352.1 L568.7 352.4 L569.9 352.8 L571.0 353.2 L572.1 353.7 L573.3 354.1 L574.4 354.5 L575.5 355.0 L576.7 355.5 L577.8 356.0 L579.0 356.5 L580.1 357.0 L581.2 357.5 L582.4 358.1 L583.5 358.6 L584.7 359.2 L585.8 359.8 L586.9 360.4 L588.1 361.1 L589.2 361.7 L590.3 362.4 L591.5 363.1 L592.6 363.8 L593.8 364.5 L594.9 365.2 L596.0 366.0 L597.2 366.8 L598.3 367.6 L599.5 368.4 L600.6 369.3 L601.7 370.1 L602.9 371.0 L604.0 371.9 L605.1 372.8 L606.3 373.8 L607.4 374.7 L608.6 375.7 L609.7 376.7 L610.8 377.7 L612.0 378.8 L613.1 379.8 L614.3 380.9 L615.4 382.0 L616.5 383.1 L617.7 384.3 L618.8 385.4 L619.9 386.6 L621.1 387.8 L622.2 388.9 L623.4 390.2 L624.5 391.4 L625.6 392.6 L626.8 393.9 L627.9 395.1 L629.1 396.4 L630.2 397.6 L631.3 398.9 L632.5 400.2 L633.6 401.5 L634.7 402.7 L635.9 404.0 L637.0 405.3 L638.2 406.6 L639.3 407.8 L640.4 409.1 L641.6 410.3 L642.7 411.6 L643.9 412.8 L645.0 414.0 L646.1 415.2 L647.3 416.3 L648.4 417.5 L649.5 418.6 L650.7 419.7 L651.8 420.8 L653.0 421.8 L654.1 422.8 L655.2 423.8 L656.4 424.8 L657.5 425.7 L658.6 426.6 L659.8 427.4 L660.9 428.2 L662.1 429.0 L663.2 429.7 L664.3 430.4 L665.5 431.0 L666.6 431.6 L667.8 432.2 L668.9 432.8 L670.0 433.3 L671.2 433.7 L672.3 434.1 L673.4 434.5 L674.6 434.9 L675.7 435.2 L676.9 435.5 L678.0 435.8 L679.1 436.0 L679.1 466.3 L678.0 466.3 L676.9 466.3 L675.7 466.2 L674.6 466.2 L673.4 466.2 L672.3 466.1 L671.2 466.0 L670.0 466.0 L668.9 465.9 L667.8 465.8 L666.6 465.6 L665.5 465.5 L664.3 465.3 L663.2 465.2 L662.1 465.0 L660.9 464.7 L659.8 464.5 L658.6 464.2 L657.5 463.9 L656.4 463.5 L655.2 463.2 L654.1 462.7 L653.0 462.3 L651.8 461.8 L650.7 461.3 L649.5 460.7 L648.4 460.1 L647.3 459.5 L646.1 458.8 L645.0 458.1 L643.9 457.4 L642.7 456.6 L641.6 455.8 L640.4 454.9 L639.3 454.0 L638.2 453.1 L637.0 452.1 L635.9 451.1 L634.7 450.1 L633.6 449.0 L632.5 447.9 L631.3 446.8 L630.2 445.7 L629.1 444.5 L627.9 443.3 L626.8 442.1 L625.6 440.9 L624.5 439.7 L623.4 438.4 L622.2 437.2 L621.1 435.9 L619.9 434.7 L618.8 433.4 L617.7 432.1 L616.5 430.8 L615.4 429.6 L614.3 428.3 L613.1 427.0 L612.0 425.7 L610.8 424.5 L609.7 423.2 L608.6 422.0 L607.4 420.7 L606.3 419.5 L605.1 418.3 L604.0 417.1 L602.9 415.9 L601.7 414.7 L600.6 413.6 L599.5 412.4 L598.3 411.3 L597.2 410.2 L596.0 409.1 L594.9 408.1 L593.8 407.0 L592.6 406.0 L591.5 405.0 L590.3 404.0 L589.2 403.0 L588.1 402.1 L586.9 401.1 L585.8 400.2 L584.7 399.3 L583.5 398.5 L582.4 397.6 L581.2 396.8 L580.1 396.0 L579.0 395.2 L577.8 394.4 L576.7 393.6 L575.5 392.9 L574.4 392.2 L573.3 391.5 L572.1 390.8 L571.0 390.2 L569.9 389.5 L568.7 388.9 L567.6 388.3 L566.4 387.7 L565.3 387.1 L564.2 386.6 L563.0 386.0 L561.9 385.5 L560.7 385.0 L559.6 384.5 L558.5 384.0 L557.3 383.6 L556.2 383.1 L555.1 382.7 L553.9 382.3 L552.8 381.8 L551.6 381.5 L550.5 381.1 L549.4 380.7 L548.2 380.3 L547.1 380.0 L545.9 379.6 L544.8 379.3 L543.7 379.0 L542.5 378.7 L541.4 378.4 L540.3 378.1 L539.1 377.8 L538.0 377.5 L536.8 377.3 L535.7 377.0 L534.6 376.8 L533.4 376.5 L532.3 376.3 L531.2 376.1 L530.0 375.9 L528.9 375.7 L527.7 375.5 L526.6 375.3 L525.5 375.1 L524.3 374.9 L523.2 374.7 L522.0 374.6 L520.9 374.4 L519.8 374.2 L518.6 374.1 L517.5 373.9 L516.4 373.8 L515.2 373.7 L514.1 373.5 L512.9 373.4 L511.8 373.3 L510.7 373.2 L509.5 373.0 L508.4 372.9 L507.2 372.8 L506.1 372.7 L505.0 372.6 L503.8 372.5 L502.7 372.4 L501.6 372.3 L500.4 372.2 L499.3 372.2 L498.1 372.1 L497.0 372.0 L495.9 371.9 L494.7 371.8 L493.6 371.8 L492.4 371.7 L491.3 371.6 L490.2 371.6 L489.0 371.5 L487.9 371.5 L486.8 371.4 L485.6 371.3 L484.5 371.3 L483.3 371.2 L482.2 371.2 L481.1 371.1 L479.9 371.1 L478.8 371.1 L477.6 371.0 L476.5 371.0 L475.4 370.9 L474.2 370.9 L473.1 370.8 L472.0 370.8 L470.8 370.8 L469.7 370.7 L468.5 370.7 L467.4 370.7 L466.3 370.7 L465.1 370.6 L464.0 370.6 L462.8 370.6 L461.7 370.5 L460.6 370.5 L459.4 370.5 L458.3 370.5 L457.2 370.4 L456.0 370.4 L454.9 370.4 L453.7 370.4 L452.6 370.4 L451.5 370.3 L450.3 370.3 L449.2 370.3 L448.0 370.3 L446.9 370.3 L445.8 370.3 L444.6 370.2 L443.5 370.2 L442.4 370.2 L441.2 370.2 L440.1 370.2 L438.9 370.2 L437.8 370.2 L436.7 370.1 L435.5 370.1 L434.4 370.1 L433.3 370.1 L432.1 370.1 L431.0 370.1 L429.8 370.1 L428.7 370.1 L427.6 370.1 L426.4 370.1 L425.3 370.0 L424.1 370.0 L423.0 370.0 L421.9 370.0 L420.7 370.0 L419.6 370.0 L418.5 370.0 L417.3 370.0 L416.2 370.0 L415.0 370.0 L413.9 370.0 L412.8 370.0 L411.6 370.0 L410.5 370.0 L409.3 370.0 L408.2 370.0 L407.1 369.9 L405.9 369.9 L404.8 369.9 L403.7 369.9 L402.5 369.9 L401.4 369.9 L400.2 369.9 L399.1 369.9 L398.0 369.9 L396.8 369.9 L395.7 369.9 L394.5 369.9 L393.4 369.9 L392.3 369.9 L391.1 369.9 L390.0 369.9 L388.9 369.9 L387.7 369.9 L386.6 369.9 L385.4 369.9 L384.3 369.9 Z" fill="#c45c90" stroke="#b8467f" stroke-width="0.8"/>
<path d="M384.3 355.4 L385.4 355.4 L386.6 355.5 L387.7 355.5 L388.9 355.5 L390.0 355.5 L391.1 355.5 L392.3 355.5 L393.4 355.5 L394.5 355.5 L395.7 355.5 L396.8 355.5 L398.0 355.5 L399.1 355.5 L400.2 355.5 L401.4 355.5 L402.5 355.5 L403.7 355.5 L404.8 355.5 L405.9 355.5 L407.1 355.5 L408.2 355.5 L409.3 355.5 L410.5 355.5 L411.6 355.5 L412.8 355.5 L413.9 355.5 L415.0 355.5 L416.2 355.5 L417.3 355.5 L418.5 355.5 L419.6 355.5 L420.7 355.6 L421.9 355.6 L423.0 355.6 L424.1 355.6 L425.3 355.6 L426.4 355.6 L427.6 355.6 L428.7 355.6 L429.8 355.6 L431.0 355.6 L432.1 355.6 L433.3 355.6 L434.4 355.6 L435.5 355.6 L436.7 355.7 L437.8 355.7 L438.9 355.7 L440.1 355.7 L441.2 355.7 L442.4 355.7 L443.5 355.7 L444.6 355.7 L445.8 355.7 L446.9 355.7 L448.0 355.8 L449.2 355.8 L450.3 355.8 L451.5 355.8 L452.6 355.8 L453.7 355.8 L454.9 355.8 L456.0 355.9 L457.2 355.9 L458.3 355.9 L459.4 355.9 L460.6 355.9 L461.7 356.0 L462.8 356.0 L464.0 356.0 L465.1 356.0 L466.3 356.0 L467.4 356.1 L468.5 356.1 L469.7 356.1 L470.8 356.1 L472.0 356.2 L473.1 356.2 L474.2 356.2 L475.4 356.3 L476.5 356.3 L477.6 356.3 L478.8 356.4 L479.9 356.4 L481.1 356.4 L482.2 356.5 L483.3 356.5 L484.5 356.5 L485.6 356.6 L486.8 356.6 L487.9 356.7 L489.0 356.7 L490.2 356.8 L491.3 356.8 L492.4 356.9 L493.6 356.9 L494.7 357.0 L495.9 357.0 L497.0 357.1 L498.1 357.2 L499.3 357.2 L500.4 357.3 L501.6 357.3 L502.7 357.4 L503.8 357.5 L505.0 357.6 L506.1 357.6 L507.2 357.7 L508.4 357.8 L509.5 357.9 L510.7 358.0 L511.8 358.1 L512.9 358.2 L514.1 358.3 L515.2 358.4 L516.4 358.5 L517.5 358.6 L518.6 358.7 L519.8 358.8 L520.9 359.0 L522.0 359.1 L523.2 359.2 L524.3 359.4 L525.5 359.5 L526.6 359.7 L527.7 359.8 L528.9 360.0 L530.0 360.1 L531.2 360.3 L532.3 360.5 L533.4 360.6 L534.6 360.8 L535.7 361.0 L536.8 361.2 L538.0 361.4 L539.1 361.7 L540.3 361.9 L541.4 362.1 L542.5 362.3 L543.7 362.6 L544.8 362.8 L545.9 363.1 L547.1 363.4 L548.2 363.6 L549.4 363.9 L550.5 364.2 L551.6 364.5 L552.8 364.9 L553.9 365.2 L555.1 365.5 L556.2 365.9 L557.3 366.2 L558.5 366.6 L559.6 367.0 L560.7 367.4 L561.9 367.8 L563.0 368.2 L564.2 368.7 L565.3 369.1 L566.4 369.6 L567.6 370.1 L568.7 370.6 L569.9 371.1 L571.0 371.6 L572.1 372.1 L573.3 372.7 L574.4 373.2 L575.5 373.8 L576.7 374.4 L577.8 375.1 L579.0 375.7 L580.1 376.4 L581.2 377.0 L582.4 377.7 L583.5 378.4 L584.7 379.2 L585.8 379.9 L586.9 380.7 L588.1 381.5 L589.2 382.3 L590.3 383.1 L591.5 384.0 L592.6 384.8 L593.8 385.7 L594.9 386.6 L596.0 387.6 L597.2 388.5 L598.3 389.5 L599.5 390.5 L600.6 391.5 L601.7 392.5 L602.9 393.6 L604.0 394.6 L605.1 395.7 L606.3 396.8 L607.4 397.9 L608.6 399.1 L609.7 400.2 L610.8 401.4 L612.0 402.6 L613.1 403.8 L614.3 405.0 L615.4 406.2 L616.5 407.4 L617.7 408.7 L618.8 409.9 L619.9 411.2 L621.1 412.5 L622.2 413.8 L623.4 415.0 L624.5 416.3 L625.6 417.6 L626.8 418.9 L627.9 420.1 L629.1 421.4 L630.2 422.7 L631.3 423.9 L632.5 425.2 L633.6 426.4 L634.7 427.6 L635.9 428.8 L637.0 430.0 L638.2 431.2 L639.3 432.3 L640.4 433.4 L641.6 434.5 L642.7 435.6 L643.9 436.6 L645.0 437.6 L646.1 438.6 L647.3 439.5 L648.4 440.4 L649.5 441.3 L650.7 442.1 L651.8 442.9 L653.0 443.6 L654.1 444.4 L655.2 445.0 L656.4 445.7 L657.5 446.3 L658.6 446.8 L659.8 447.4 L660.9 447.8 L662.1 448.3 L663.2 448.7 L664.3 449.1 L665.5 449.4 L666.6 449.7 L667.8 450.0 L668.9 450.3 L670.0 450.5 L671.2 450.7 L672.3 450.9 L673.4 451.1 L674.6 451.2 L675.7 451.3 L676.9 451.4 L678.0 451.5 L679.1 451.6" fill="none" stroke="#fb8a5a" stroke-width="5.0" />
<circle cx="399.9" cy="365.2" r="4.1" fill="#4f1085"/>
<circle cx="421.7" cy="378" r="4.1" fill="#4f1085"/>
<circle cx="434.6" cy="356" r="4.1" fill="#4f1085"/>
<circle cx="443.8" cy="361.5" r="4.1" fill="#4f1085"/>
<circle cx="450.4" cy="363" r="4.1" fill="#4f1085"/>
<circle cx="456.4" cy="362.3" r="4.1" fill="#4f1085"/>
<circle cx="461.4" cy="359.6" r="4.1" fill="#4f1085"/>
<circle cx="465.6" cy="349.9" r="4.1" fill="#4f1085"/>
<circle cx="472.4" cy="363.3" r="4.1" fill="#4f1085"/>
<circle cx="477.9" cy="346.8" r="4.1" fill="#4f1085"/>
<circle cx="483.2" cy="344.9" r="4.1" fill="#4f1085"/>
<circle cx="489" cy="353.6" r="4.1" fill="#4f1085"/>
<circle cx="494.5" cy="354.6" r="4.1" fill="#4f1085"/>
<circle cx="500" cy="363.8" r="4.1" fill="#4f1085"/>
<circle cx="505.8" cy="363.8" r="4.1" fill="#4f1085"/>
<circle cx="511" cy="345.4" r="4.1" fill="#4f1085"/>
<circle cx="516.8" cy="361.3" r="4.1" fill="#4f1085"/>
<circle cx="522.1" cy="364" r="4.1" fill="#4f1085"/>
<circle cx="527.5" cy="365.9" r="4.1" fill="#4f1085"/>
<circle cx="532.9" cy="360" r="4.1" fill="#4f1085"/>
<circle cx="538.6" cy="361.9" r="4.1" fill="#4f1085"/>
<circle cx="544" cy="345.7" r="4.1" fill="#4f1085"/>
<circle cx="549.4" cy="355.9" r="4.1" fill="#4f1085"/>
<circle cx="555.1" cy="350.2" r="4.1" fill="#4f1085"/>
<circle cx="560.8" cy="355.6" r="4.1" fill="#4f1085"/>
<circle cx="566.2" cy="357.8" r="4.1" fill="#4f1085"/>
<circle cx="571.6" cy="365.4" r="4.1" fill="#4f1085"/>
<circle cx="577" cy="348.4" r="4.1" fill="#4f1085"/>
<circle cx="582.6" cy="357.8" r="4.1" fill="#4f1085"/>
<circle cx="587.8" cy="373.5" r="4.1" fill="#4f1085"/>
<circle cx="593.4" cy="382.9" r="4.1" fill="#4f1085"/>
<circle cx="599.1" cy="388.3" r="4.1" fill="#4f1085"/>
<circle cx="604.5" cy="391.8" r="4.1" fill="#4f1085"/>
<circle cx="609.9" cy="396.4" r="4.1" fill="#4f1085"/>
<circle cx="615.3" cy="415.9" r="4.1" fill="#4f1085"/>
<circle cx="621" cy="411.3" r="4.1" fill="#4f1085"/>
<circle cx="626.4" cy="424.5" r="4.1" fill="#4f1085"/>
<circle cx="631.8" cy="417.2" r="4.1" fill="#4f1085"/>
<circle cx="637.5" cy="423.4" r="4.1" fill="#4f1085"/>
<circle cx="643.1" cy="421.5" r="4.1" fill="#4f1085"/>
<circle cx="653.7" cy="431.5" r="4.1" fill="#4f1085"/>
<circle cx="648" cy="444.2" r="4.1" fill="#4f1085"/>
</g>
<rect x="395.5" y="327.5" width="280.0" height="139.0" fill="none" stroke="#6a6a6a" stroke-width="1"/>
<line x1="389.80" y1="342.40" x2="395.50" y2="342.40" stroke="#555" stroke-width="0.9" />
<text x="385.8" y="346.1" font-size="10.5" text-anchor="end" fill="#231f20" textLength="13.4" lengthAdjust="spacingAndGlyphs" >20</text>
<line x1="389.80" y1="373.35" x2="395.50" y2="373.35" stroke="#555" stroke-width="0.9" />
<text x="385.8" y="377.0" font-size="10.5" text-anchor="end" fill="#231f20" textLength="10.9" lengthAdjust="spacingAndGlyphs" >15</text>
<line x1="389.80" y1="404.30" x2="395.50" y2="404.30" stroke="#555" stroke-width="0.9" />
<text x="385.8" y="408.0" font-size="10.5" text-anchor="end" fill="#231f20" textLength="10.9" lengthAdjust="spacingAndGlyphs" >10</text>
<line x1="389.80" y1="435.25" x2="395.50" y2="435.25" stroke="#555" stroke-width="0.9" />
<text x="385.8" y="438.9" font-size="10.5" text-anchor="end" fill="#231f20" textLength="6.7" lengthAdjust="spacingAndGlyphs" >5</text>
<line x1="389.80" y1="466.20" x2="395.50" y2="466.20" stroke="#555" stroke-width="0.9" />
<text x="385.8" y="469.9" font-size="10.5" text-anchor="end" fill="#231f20" textLength="6.7" lengthAdjust="spacingAndGlyphs" >0</text>
<line x1="457.10" y1="466.50" x2="457.10" y2="471.50" stroke="#555" stroke-width="0.9" />
<text x="457.1" y="488.9" font-size="10.5" text-anchor="middle" fill="#231f20">10<tspan font-size="7.5" dy="-4.5">−7</tspan></text>
<line x1="529.90" y1="466.50" x2="529.90" y2="471.50" stroke="#555" stroke-width="0.9" />
<text x="529.9" y="488.9" font-size="10.5" text-anchor="middle" fill="#231f20">10<tspan font-size="7.5" dy="-4.5">−6</tspan></text>
<line x1="602.70" y1="466.50" x2="602.70" y2="471.50" stroke="#555" stroke-width="0.9" />
<text x="602.7" y="488.9" font-size="10.5" text-anchor="middle" fill="#231f20">10<tspan font-size="7.5" dy="-4.5">−5</tspan></text>
<line x1="675.50" y1="466.50" x2="675.50" y2="471.50" stroke="#555" stroke-width="0.9" />
<text x="675.5" y="488.9" font-size="10.5" text-anchor="middle" fill="#231f20">10<tspan font-size="7.5" dy="-4.5">−4</tspan></text>
<line x1="406.21" y1="466.50" x2="406.21" y2="470.10" stroke="#555" stroke-width="0.8" />
<line x1="419.03" y1="466.50" x2="419.03" y2="470.10" stroke="#555" stroke-width="0.8" />
<line x1="428.13" y1="466.50" x2="428.13" y2="470.10" stroke="#555" stroke-width="0.8" />
<line x1="435.19" y1="466.50" x2="435.19" y2="470.10" stroke="#555" stroke-width="0.8" />
<line x1="440.95" y1="466.50" x2="440.95" y2="470.10" stroke="#555" stroke-width="0.8" />
<line x1="445.82" y1="466.50" x2="445.82" y2="470.10" stroke="#555" stroke-width="0.8" />
<line x1="450.04" y1="466.50" x2="450.04" y2="470.10" stroke="#555" stroke-width="0.8" />
<line x1="453.77" y1="466.50" x2="453.77" y2="470.10" stroke="#555" stroke-width="0.8" />
<line x1="479.01" y1="466.50" x2="479.01" y2="470.10" stroke="#555" stroke-width="0.8" />
<line x1="491.83" y1="466.50" x2="491.83" y2="470.10" stroke="#555" stroke-width="0.8" />
<line x1="500.93" y1="466.50" x2="500.93" y2="470.10" stroke="#555" stroke-width="0.8" />
<line x1="507.99" y1="466.50" x2="507.99" y2="470.10" stroke="#555" stroke-width="0.8" />
<line x1="513.75" y1="466.50" x2="513.75" y2="470.10" stroke="#555" stroke-width="0.8" />
<line x1="518.62" y1="466.50" x2="518.62" y2="470.10" stroke="#555" stroke-width="0.8" />
<line x1="522.84" y1="466.50" x2="522.84" y2="470.10" stroke="#555" stroke-width="0.8" />
<line x1="526.57" y1="466.50" x2="526.57" y2="470.10" stroke="#555" stroke-width="0.8" />
<line x1="551.81" y1="466.50" x2="551.81" y2="470.10" stroke="#555" stroke-width="0.8" />
<line x1="564.63" y1="466.50" x2="564.63" y2="470.10" stroke="#555" stroke-width="0.8" />
<line x1="573.73" y1="466.50" x2="573.73" y2="470.10" stroke="#555" stroke-width="0.8" />
<line x1="580.79" y1="466.50" x2="580.79" y2="470.10" stroke="#555" stroke-width="0.8" />
<line x1="586.55" y1="466.50" x2="586.55" y2="470.10" stroke="#555" stroke-width="0.8" />
<line x1="591.42" y1="466.50" x2="591.42" y2="470.10" stroke="#555" stroke-width="0.8" />
<line x1="595.64" y1="466.50" x2="595.64" y2="470.10" stroke="#555" stroke-width="0.8" />
<line x1="599.37" y1="466.50" x2="599.37" y2="470.10" stroke="#555" stroke-width="0.8" />
<line x1="624.61" y1="466.50" x2="624.61" y2="470.10" stroke="#555" stroke-width="0.8" />
<line x1="637.43" y1="466.50" x2="637.43" y2="470.10" stroke="#555" stroke-width="0.8" />
<line x1="646.53" y1="466.50" x2="646.53" y2="470.10" stroke="#555" stroke-width="0.8" />
<line x1="653.59" y1="466.50" x2="653.59" y2="470.10" stroke="#555" stroke-width="0.8" />
<line x1="659.35" y1="466.50" x2="659.35" y2="470.10" stroke="#555" stroke-width="0.8" />
<line x1="664.22" y1="466.50" x2="664.22" y2="470.10" stroke="#555" stroke-width="0.8" />
<line x1="668.44" y1="466.50" x2="668.44" y2="470.10" stroke="#555" stroke-width="0.8" />
<line x1="672.17" y1="466.50" x2="672.17" y2="470.10" stroke="#555" stroke-width="0.8" />
<text x="534" y="509" font-size="12.5" text-anchor="middle" fill="#231f20"><tspan font-style="italic">τ</tspan><tspan font-size="8.5" dy="3">M</tspan><tspan dy="-3"> (s)</tspan></text>
<text transform="translate(360.2,397) rotate(-90)" font-size="12.5" text-anchor="middle" fill="#231f20"><tspan font-style="italic">V</tspan><tspan font-size="8.5" dy="3">rf</tspan><tspan dy="-3"> (mV)</tspan></text>
<text x="405.2" y="417.6" font-size="11" fill="#231f20">|S⟩</text>
<line x1="423.7" y1="413.3" x2="472" y2="413.3" stroke="#ee1c1c" stroke-width="2.2"/>
<path d="M478.4 413.3 L471 409.6 L471 417 Z" fill="#ee1c1c"/>
<text x="482" y="417.6" font-size="11" fill="#231f20">|T<tspan font-size="8" dy="2.5">−</tspan><tspan dy="-2.5">(1,1)⟩</tspan></text>
<text x="406" y="449.3" font-size="11.5" fill="#fb8a5a"><tspan font-style="italic">T</tspan><tspan font-size="8" dy="3">1</tspan><tspan dy="-3"> = 24 ± 7 μs</tspan></text>
<text x="347.5" y="323.6" font-size="17.5" font-weight="bold" fill="#000">e</text>
<defs><clipPath id="clf"><rect x="408.5" y="546.5" width="239.0" height="285.0"/></clipPath></defs>
<g clip-path="url(#clf)" fill="none" stroke-linecap="butt">
<path d="M393.7 558.8 L394.1 559.0 L394.4 559.1 L394.8 559.2 L395.2 559.4 L395.6 559.5 L395.9 559.6 L396.3 559.8 L396.7 559.9 L397.0 560.1 L397.4 560.2 L397.8 560.4 L398.2 560.5 L398.5 560.7 L398.9 560.8 L399.3 561.0 L399.7 561.1 L400.0 561.3 L400.4 561.5 L400.8 561.6 L401.2 561.8 L401.5 562.0 L401.9 562.2 L402.3 562.3 L402.6 562.5 L403.0 562.7 L403.4 562.9 L403.8 563.1 L404.1 563.2 L404.5 563.4 L404.9 563.6 L405.3 563.8 L405.6 564.0 L406.0 564.2 L406.4 564.4 L406.8 564.7 L407.1 564.9 L407.5 565.1 L407.9 565.3 L408.2 565.5 L408.6 565.8 L409.0 566.0 L409.4 566.2 L409.7 566.5 L410.1 566.7 L410.5 566.9 L410.9 567.2 L411.2 567.4 L411.6 567.7 L412.0 568.0 L412.4 568.2 L412.7 568.5 L413.1 568.8 L413.5 569.0 L413.8 569.3 L414.2 569.6 L414.6 569.9 L415.0 570.2 L415.3 570.5 L415.7 570.8 L416.1 571.1 L416.5 571.4 L416.8 571.7 L417.2 572.0 L417.6 572.3 L418.0 572.7 L418.3 573.0 L418.7 573.4 L419.1 573.7 L419.4 574.0 L419.8 574.4 L420.2 574.8 L420.6 575.1 L420.9 575.5 L421.3 575.9 L421.7 576.3 L422.1 576.7 L422.4 577.1 L422.8 577.5 L423.2 577.9 L423.6 578.3 L423.9 578.7 L424.3 579.2 L424.7 579.6 L425.0 580.0 L425.4 580.5 L425.8 581.0 L426.2 581.4 L426.5 581.9 L426.9 582.4 L427.3 582.9 L427.7 583.4 L428.0 583.9 L428.4 584.4 L428.8 584.9 L429.2 585.5 L429.5 586.0 L429.9 586.6 L430.3 587.1 L430.6 587.7 L431.0 588.3 L431.4 588.9 L431.8 589.5 L432.1 590.1 L432.5 590.7 L432.9 591.3 L433.3 592.0 L433.6 592.6 L434.0 593.3 L434.4 594.0 L434.8 594.7 L435.1 595.3 L435.5 596.1 L435.9 596.8 L436.2 597.5 L436.6 598.3 L437.0 599.0 L437.4 599.8 L437.7 600.6 L438.1 601.4 L438.5 602.2 L438.9 603.1 L439.2 603.9 L439.6 604.8 L440.0 605.6 L440.4 606.5 L440.7 607.4 L441.1 608.4 L441.5 609.3 L441.8 610.3 L442.2 611.2 L442.6 612.2 L443.0 613.2 L443.3 614.3 L443.7 615.3 L444.1 616.4 L444.5 617.5 L444.8 618.6 L445.2 619.7 L445.6 620.8 L445.9 622.0 L446.3 623.2 L446.7 624.4 L447.1 625.6 L447.4 626.9 L447.8 628.2 L448.2 629.5 L448.6 630.8 L448.9 632.2 L449.3 633.5 L449.7 634.9 L450.1 636.4 L450.4 637.8 L450.8 639.3 L451.2 640.8 L451.5 642.3 L451.9 643.9 L452.3 645.5 L452.7 647.1 L453.0 648.7 L453.4 650.4 L453.8 652.1 L454.2 653.9 L454.5 655.6 L454.9 657.4 L455.3 659.3 L455.7 661.1 L456.0 663.0 L456.4 665.0 L456.8 666.9 L457.1 668.9 L457.5 671.0 L457.9 673.0 L458.3 675.1 L458.6 677.3 L459.0 679.4 L459.4 681.6 L459.8 683.9 L460.1 686.2 L460.5 688.5 L460.9 690.8 L461.3 693.2 L461.6 695.6 L462.0 698.1 L462.4 700.5 L462.7 703.0 L463.1 705.6 L463.5 708.1 L463.9 710.7 L464.2 713.4 L464.6 716.0 L465.0 718.7 L465.4 721.3 L465.7 724.0 L466.1 726.7 L466.5 729.4 L466.9 732.2 L467.2 734.9 L467.6 737.6 L468.0 740.3 L468.3 743.0 L468.7 745.6 L469.1 748.3 L469.5 750.9 L469.8 753.4 L470.2 755.9 L470.6 758.3 L471.0 760.7 L471.3 763.0 L471.7 765.2 L472.1 767.3 L472.5 769.4 L472.8 771.3 L473.2 773.0 L473.6 774.7 L473.9 776.2 L474.3 777.6 L474.7 778.9 L475.1 780.0 L475.4 781.0 L475.8 781.8 L476.2 782.5 L476.6 783.0 L476.9 783.4 L477.3 783.7 L477.7 783.8 L478.1 783.7 L478.4 783.6 L478.8 783.4 L479.2 783.0 L479.5 782.5 L479.9 781.9 L480.3 781.3 L480.7 780.6 L481.0 779.7 L481.4 778.9 L481.8 777.9 L482.2 776.9 L482.5 775.9 L482.9 774.8 L483.3 773.6 L483.7 772.5 L484.0 771.3 L484.4 770.1 L484.8 768.8 L485.1 767.6 L485.5 766.3 L485.9 765.0 L486.3 763.7 L486.6 762.4 L487.0 761.0 L487.4 759.7 L487.8 758.4 L488.1 757.0 L488.5 755.7 L488.9 754.3 L489.3 753.0 L489.6 751.6 L490.0 750.3 L490.4 748.9 L490.7 747.5 L491.1 746.2 L491.5 744.8 L491.9 743.5 L492.2 742.1 L492.6 740.7 L493.0 739.4 L493.4 738.0 L493.7 736.7 L494.1 735.3 L494.5 734.0 L494.8 732.6 L495.2 731.3 L495.6 729.9 L496.0 728.5 L496.3 727.2 L496.7 725.8 L497.1 724.5 L497.5 723.1 L497.8 721.8 L498.2 720.5 L498.6 719.1 L499.0 717.8 L499.3 716.4 L499.7 715.1 L500.1 713.7 L500.4 712.4 L500.8 711.1 L501.2 709.7 L501.6 708.4 L501.9 707.1 L502.3 705.7 L502.7 704.4 L503.1 703.1 L503.4 701.7 L503.8 700.4 L504.2 699.1 L504.6 697.7 L504.9 696.4 L505.3 695.1 L505.7 693.8 L506.0 692.5 L506.4 691.1 L506.8 689.8 L507.2 688.5 L507.5 687.2 L507.9 685.9 L508.3 684.6 L508.7 683.3 L509.0 682.0 L509.4 680.7 L509.8 679.4 L510.2 678.1 L510.5 676.8 L510.9 675.5 L511.3 674.2 L511.6 672.9 L512.0 671.6 L512.4 670.3 L512.8 669.0 L513.1 667.8 L513.5 666.5 L513.9 665.2 L514.3 663.9 L514.6 662.7 L515.0 661.4 L515.4 660.1 L515.8 658.9 L516.1 657.6 L516.5 656.3 L516.9 655.1 L517.2 653.8 L517.6 652.6 L518.0 651.3 L518.4 650.1 L518.7 648.9 L519.1 647.6 L519.5 646.4 L519.9 645.2 L520.2 643.9 L520.6 642.7 L521.0 641.5 L521.4 640.3 L521.7 639.1 L522.1 637.9 L522.5 636.7 L522.8 635.5 L523.2 634.3 L523.6 633.1 L524.0 631.9 L524.3 630.7 L524.7 629.5 L525.1 628.4 L525.5 627.2 L525.8 626.0 L526.2 624.9 L526.6 623.7 L527.0 622.6 L527.3 621.4 L527.7 620.3 L528.1 619.2 L528.4 618.0 L528.8 616.9 L529.2 615.8 L529.6 614.7 L529.9 613.6 L530.3 612.5 L530.7 611.4 L531.1 610.3 L531.4 609.2 L531.8 608.1 L532.2 607.1 L532.6 606.0 L532.9 604.9 L533.3 603.9 L533.7 602.8 L534.0 601.8 L534.4 600.8 L534.8 599.8 L535.2 598.7 L535.5 597.7 L535.9 596.7 L536.3 595.8 L536.7 594.8 L537.0 593.8 L537.4 592.8 L537.8 591.9 L538.2 590.9 L538.5 590.0 L538.9 589.0 L539.3 588.1 L539.6 587.2 L540.0 586.3 L540.4 585.4 L540.8 584.5 L541.1 583.6 L541.5 582.8 L541.9 581.9 L542.3 581.0 L542.6 580.2 L543.0 579.4 L543.4 578.6 L543.7 577.7 L544.1 576.9 L544.5 576.2 L544.9 575.4 L545.2 574.6 L545.6 573.9 L546.0 573.1 L546.4 572.4 L546.7 571.7 L547.1 570.9 L547.5 570.2 L547.9 569.6 L548.2 568.9 L548.6 568.2 L549.0 567.6 L549.3 566.9 L549.7 566.3 L550.1 565.7 L550.5 565.1 L550.8 564.5 L551.2 563.9 L551.6 563.3 L552.0 562.8 L552.3 562.2 L552.7 561.7 L553.1 561.2 L553.5 560.7 L553.8 560.2 L554.2 559.7 L554.6 559.2 L554.9 558.8 L555.3 558.3 L555.7 557.9 L556.1 557.5 L556.4 557.1 L556.8 556.7 L557.2 556.3 L557.6 555.9 L557.9 555.6 L558.3 555.2 L558.7 554.9 L559.1 554.6 L559.4 554.3 L559.8 554.0 L560.2 553.7 L560.5 553.4 L560.9 553.2 L561.3 552.9 L561.7 552.7 L562.0 552.4 L562.4 552.2 L562.8 552.0 L563.2 551.8 L563.5 551.6 L563.9 551.4 L564.3 551.3 L564.7 551.1 L565.0 551.0 L565.4 550.8 L565.8 550.7 L566.1 550.5 L566.5 550.4 L566.9 550.3 L567.3 550.2 L567.6 550.1 L568.0 550.0 L568.4 549.9 L568.8 549.9 L569.1 549.8 L569.5 549.7 L569.9 549.6 L570.3 549.6 L570.6 549.5 L571.0 549.5 L571.4 549.4 L571.7 549.4 L572.1 549.4 L572.5 549.3 L572.9 549.3 L573.2 549.3 L573.6 549.2 L574.0 549.2 L574.4 549.2 L574.7 549.2 L575.1 549.2 L575.5 549.2 L575.9 549.1 L576.2 549.1 L576.6 549.1 L577.0 549.1 L577.3 549.1 L577.7 549.1 L578.1 549.1 L578.5 549.1 L578.8 549.1 L579.2 549.1 L579.6 549.1 L580.0 549.1 L580.3 549.1 L580.7 549.1 L581.1 549.1 L581.5 549.1 L581.8 549.1 L582.2 549.1 L582.6 549.1 L582.9 549.1 L583.3 549.1 L583.7 549.1 L584.1 549.1 L584.4 549.1 L584.8 549.1 L585.2 549.1 L585.6 549.1 L585.9 549.1 L586.3 549.1 L586.7 549.1 L587.1 549.1 L587.4 549.1 L587.8 549.1 L588.2 549.1 L588.5 549.1 L588.9 549.1 L589.3 549.1 L589.7 549.1 L590.0 549.1 L590.4 549.1 L590.8 549.1 L591.2 549.1 L591.5 549.1 L591.9 549.1 L592.3 549.1 L592.6 549.1 L593.0 549.1 L593.4 549.1 L593.8 549.1 L594.1 549.1 L594.5 549.1 L594.9 549.1 L595.3 549.1 L595.6 549.1 L596.0 549.1 L596.4 549.1 L596.8 549.1 L597.1 549.1 L597.5 549.1 L597.9 549.1 L598.2 549.1 L598.6 549.1 L599.0 549.1 L599.4 549.1 L599.7 549.1 L600.1 549.1 L600.5 549.1 L600.9 549.1 L601.2 549.1 L601.6 549.1 L602.0 549.1 L602.4 549.1 L602.7 549.1 L603.1 549.1 L603.5 549.1 L603.8 549.1 L604.2 549.1 L604.6 549.1 L605.0 549.1 L605.3 549.1 L605.7 549.1 L606.1 549.1 L606.5 549.1 L606.8 549.1 L607.2 549.1 L607.6 549.1 L608.0 549.1 L608.3 549.1 L608.7 549.1 L609.1 549.1 L609.4 549.1 L609.8 549.1 L610.2 549.1 L610.6 549.1 L610.9 549.1 L611.3 549.1 L611.7 549.1 L612.1 549.1 L612.4 549.1 L612.8 549.1 L613.2 549.1 L613.6 549.1 L613.9 549.1 L614.3 549.1 L614.7 549.1 L615.0 549.1 L615.4 549.1 L615.8 549.1 L616.2 549.1 L616.5 549.1 L616.9 549.1 L617.3 549.1 L617.7 549.1 L618.0 549.1 L618.4 549.1 L618.8 549.1 L619.2 549.1 L619.5 549.1 L619.9 549.1 L620.3 549.1 L620.6 549.1 L621.0 549.1 L621.4 549.1 L621.8 549.1 L622.1 549.1 L622.5 549.1 L622.9 549.1 L623.3 549.1 L623.6 549.1 L624.0 549.1 L624.4 549.1 L624.8 549.1 L625.1 549.1 L625.5 549.1 L625.9 549.1 L626.2 549.1 L626.6 549.1 L627.0 549.1 L627.4 549.1 L627.7 549.1 L628.1 549.1 L628.5 549.1 L628.9 549.1 L629.2 549.1 L629.6 549.1 L630.0 549.1 L630.4 549.1 L630.7 549.1 L631.1 549.1 L631.5 549.1 L631.8 549.1 L632.2 549.1 L632.6 549.1 L633.0 549.1 L633.3 549.1 L633.7 549.1 L634.1 549.1 L634.5 549.1 L634.8 549.1 L635.2 549.1 L635.6 549.1 L636.0 549.1 L636.3 549.1 L636.7 549.1 L637.1 549.1 L637.4 549.1 L637.8 549.1 L638.2 549.1 L638.6 549.1 L638.9 549.1 L639.3 549.1 L639.7 549.1 L640.1 549.1 L640.4 549.1 L640.8 549.1 L641.2 549.1 L641.6 549.1 L641.9 549.1 L642.3 549.1 L642.7 549.1 L643.0 549.1 L643.4 549.1 L643.8 549.1 L644.2 549.1 L644.5 549.1 L644.9 549.1 L645.3 549.1 L645.7 549.1 L646.0 549.1 L646.4 549.1 L646.8 549.1 L647.1 549.1 L647.5 549.1 L647.9 549.1 L648.3 549.1 L648.6 549.1 L649.0 549.1 L649.4 549.1 L649.8 549.1 L650.1 549.1 L650.5 549.1 L650.9 549.1 L651.3 549.1 L651.6 549.1 L652.0 549.1 L652.4 549.1 L652.7 549.1 L653.1 549.1 L653.5 549.1 L653.9 549.1 L654.2 549.1 L654.6 549.1 L654.6 549.1 L654.2 549.1 L653.9 549.1 L653.5 549.1 L653.1 549.1 L652.7 549.1 L652.4 549.1 L652.0 549.1 L651.6 549.1 L651.3 549.1 L650.9 549.1 L650.5 549.1 L650.1 549.1 L649.8 549.1 L649.4 549.1 L649.0 549.1 L648.6 549.1 L648.3 549.1 L647.9 549.1 L647.5 549.1 L647.1 549.1 L646.8 549.1 L646.4 549.1 L646.0 549.1 L645.7 549.1 L645.3 549.1 L644.9 549.1 L644.5 549.1 L644.2 549.1 L643.8 549.1 L643.4 549.1 L643.0 549.1 L642.7 549.1 L642.3 549.1 L641.9 549.1 L641.6 549.1 L641.2 549.1 L640.8 549.1 L640.4 549.1 L640.1 549.1 L639.7 549.1 L639.3 549.1 L638.9 549.1 L638.6 549.1 L638.2 549.1 L637.8 549.1 L637.4 549.1 L637.1 549.1 L636.7 549.1 L636.3 549.1 L636.0 549.1 L635.6 549.1 L635.2 549.1 L634.8 549.1 L634.5 549.1 L634.1 549.1 L633.7 549.1 L633.3 549.1 L633.0 549.1 L632.6 549.1 L632.2 549.1 L631.8 549.1 L631.5 549.1 L631.1 549.1 L630.7 549.1 L630.4 549.1 L630.0 549.1 L629.6 549.1 L629.2 549.1 L628.9 549.1 L628.5 549.1 L628.1 549.1 L627.7 549.1 L627.4 549.1 L627.0 549.1 L626.6 549.1 L626.2 549.1 L625.9 549.1 L625.5 549.1 L625.1 549.1 L624.8 549.1 L624.4 549.1 L624.0 549.1 L623.6 549.1 L623.3 549.1 L622.9 549.1 L622.5 549.1 L622.1 549.1 L621.8 549.1 L621.4 549.1 L621.0 549.1 L620.6 549.1 L620.3 549.1 L619.9 549.1 L619.5 549.1 L619.2 549.1 L618.8 549.1 L618.4 549.1 L618.0 549.1 L617.7 549.1 L617.3 549.1 L616.9 549.1 L616.5 549.1 L616.2 549.1 L615.8 549.1 L615.4 549.1 L615.0 549.1 L614.7 549.1 L614.3 549.1 L613.9 549.1 L613.6 549.1 L613.2 549.1 L612.8 549.1 L612.4 549.1 L612.1 549.1 L611.7 549.1 L611.3 549.1 L610.9 549.1 L610.6 549.1 L610.2 549.1 L609.8 549.1 L609.4 549.1 L609.1 549.1 L608.7 549.1 L608.3 549.1 L608.0 549.1 L607.6 549.1 L607.2 549.1 L606.8 549.1 L606.5 549.1 L606.1 549.1 L605.7 549.1 L605.3 549.1 L605.0 549.1 L604.6 549.1 L604.2 549.1 L603.8 549.1 L603.5 549.1 L603.1 549.1 L602.7 549.1 L602.4 549.1 L602.0 549.1 L601.6 549.1 L601.2 549.1 L600.9 549.1 L600.5 549.1 L600.1 549.1 L599.7 549.1 L599.4 549.1 L599.0 549.1 L598.6 549.1 L598.2 549.1 L597.9 549.1 L597.5 549.1 L597.1 549.1 L596.8 549.1 L596.4 549.1 L596.0 549.1 L595.6 549.1 L595.3 549.1 L594.9 549.1 L594.5 549.1 L594.1 549.1 L593.8 549.1 L593.4 549.1 L593.0 549.1 L592.6 549.1 L592.3 549.1 L591.9 549.1 L591.5 549.1 L591.2 549.1 L590.8 549.1 L590.4 549.1 L590.0 549.1 L589.7 549.1 L589.3 549.1 L588.9 549.1 L588.5 549.1 L588.2 549.1 L587.8 549.1 L587.4 549.1 L587.1 549.1 L586.7 549.1 L586.3 549.1 L585.9 549.1 L585.6 549.1 L585.2 549.1 L584.8 549.1 L584.4 549.1 L584.1 549.1 L583.7 549.1 L583.3 549.1 L582.9 549.1 L582.6 549.1 L582.2 549.1 L581.8 549.1 L581.5 549.2 L581.1 549.2 L580.7 549.2 L580.3 549.2 L580.0 549.2 L579.6 549.2 L579.2 549.3 L578.8 549.3 L578.5 549.3 L578.1 549.4 L577.7 549.4 L577.3 549.4 L577.0 549.5 L576.6 549.5 L576.2 549.6 L575.9 549.6 L575.5 549.7 L575.1 549.8 L574.7 549.8 L574.4 549.9 L574.0 550.0 L573.6 550.1 L573.2 550.2 L572.9 550.3 L572.5 550.4 L572.1 550.5 L571.7 550.7 L571.4 550.8 L571.0 550.9 L570.6 551.1 L570.3 551.3 L569.9 551.4 L569.5 551.6 L569.1 551.8 L568.8 552.0 L568.4 552.2 L568.0 552.4 L567.6 552.6 L567.3 552.9 L566.9 553.1 L566.5 553.4 L566.1 553.7 L565.8 554.0 L565.4 554.3 L565.0 554.6 L564.7 554.9 L564.3 555.2 L563.9 555.6 L563.5 555.9 L563.2 556.3 L562.8 556.7 L562.4 557.0 L562.0 557.5 L561.7 557.9 L561.3 558.3 L560.9 558.7 L560.5 559.2 L560.2 559.7 L559.8 560.1 L559.4 560.6 L559.1 561.1 L558.7 561.7 L558.3 562.2 L557.9 562.7 L557.6 563.3 L557.2 563.9 L556.8 564.4 L556.4 565.0 L556.1 565.6 L555.7 566.2 L555.3 566.9 L554.9 567.5 L554.6 568.2 L554.2 568.8 L553.8 569.5 L553.5 570.2 L553.1 570.9 L552.7 571.6 L552.3 572.3 L552.0 573.1 L551.6 573.8 L551.2 574.6 L550.8 575.3 L550.5 576.1 L550.1 576.9 L549.7 577.7 L549.3 578.5 L549.0 579.3 L548.6 580.1 L548.2 581.0 L547.9 581.8 L547.5 582.7 L547.1 583.6 L546.7 584.4 L546.4 585.3 L546.0 586.2 L545.6 587.1 L545.2 588.0 L544.9 589.0 L544.5 589.9 L544.1 590.8 L543.7 591.8 L543.4 592.8 L543.0 593.7 L542.6 594.7 L542.3 595.7 L541.9 596.7 L541.5 597.7 L541.1 598.7 L540.8 599.7 L540.4 600.7 L540.0 601.7 L539.6 602.8 L539.3 603.8 L538.9 604.9 L538.5 605.9 L538.2 607.0 L537.8 608.0 L537.4 609.1 L537.0 610.2 L536.7 611.3 L536.3 612.4 L535.9 613.5 L535.5 614.6 L535.2 615.7 L534.8 616.8 L534.4 617.9 L534.0 619.1 L533.7 620.2 L533.3 621.3 L532.9 622.5 L532.6 623.6 L532.2 624.8 L531.8 625.9 L531.4 627.1 L531.1 628.3 L530.7 629.4 L530.3 630.6 L529.9 631.8 L529.6 633.0 L529.2 634.2 L528.8 635.4 L528.4 636.6 L528.1 637.8 L527.7 639.0 L527.3 640.2 L527.0 641.4 L526.6 642.6 L526.2 643.8 L525.8 645.1 L525.5 646.3 L525.1 647.5 L524.7 648.8 L524.3 650.0 L524.0 651.3 L523.6 652.5 L523.2 653.7 L522.8 655.0 L522.5 656.2 L522.1 657.5 L521.7 658.8 L521.4 660.0 L521.0 661.3 L520.6 662.6 L520.2 663.8 L519.9 665.1 L519.5 666.4 L519.1 667.7 L518.7 668.9 L518.4 670.2 L518.0 671.5 L517.6 672.8 L517.2 674.1 L516.9 675.4 L516.5 676.7 L516.1 678.0 L515.8 679.3 L515.4 680.6 L515.0 681.9 L514.6 683.2 L514.3 684.5 L513.9 685.8 L513.5 687.1 L513.1 688.4 L512.8 689.7 L512.4 691.0 L512.0 692.4 L511.6 693.7 L511.3 695.0 L510.9 696.3 L510.5 697.6 L510.2 699.0 L509.8 700.3 L509.4 701.6 L509.0 703.0 L508.7 704.3 L508.3 705.6 L507.9 707.0 L507.5 708.3 L507.2 709.6 L506.8 711.0 L506.4 712.3 L506.0 713.6 L505.7 715.0 L505.3 716.3 L504.9 717.7 L504.6 719.0 L504.2 720.4 L503.8 721.7 L503.4 723.0 L503.1 724.4 L502.7 725.7 L502.3 727.1 L501.9 728.4 L501.6 729.8 L501.2 731.2 L500.8 732.5 L500.4 733.9 L500.1 735.2 L499.7 736.6 L499.3 737.9 L499.0 739.3 L498.6 740.6 L498.2 742.0 L497.8 743.4 L497.5 744.7 L497.1 746.1 L496.7 747.4 L496.3 748.8 L496.0 750.2 L495.6 751.5 L495.2 752.9 L494.8 754.3 L494.5 755.6 L494.1 757.0 L493.7 758.4 L493.4 759.7 L493.0 761.1 L492.6 762.5 L492.2 763.8 L491.9 765.2 L491.5 766.6 L491.1 767.9 L490.7 769.3 L490.4 770.7 L490.0 772.0 L489.6 773.4 L489.3 774.8 L488.9 776.1 L488.5 777.5 L488.1 778.8 L487.8 780.2 L487.4 781.5 L487.0 782.8 L486.6 784.1 L486.3 785.4 L485.9 786.7 L485.5 788.0 L485.1 789.2 L484.8 790.5 L484.4 791.7 L484.0 792.8 L483.7 794.0 L483.3 795.0 L482.9 796.1 L482.5 797.1 L482.2 798.0 L481.8 798.8 L481.4 799.6 L481.0 800.3 L480.7 800.9 L480.3 801.4 L479.9 801.8 L479.5 802.1 L479.2 802.2 L478.8 802.2 L478.4 802.1 L478.1 801.8 L477.7 801.4 L477.3 800.8 L476.9 800.0 L476.6 799.1 L476.2 798.0 L475.8 796.8 L475.4 795.4 L475.1 793.8 L474.7 792.1 L474.3 790.3 L473.9 788.3 L473.6 786.1 L473.2 783.9 L472.8 781.5 L472.5 779.0 L472.1 776.5 L471.7 773.8 L471.3 771.1 L471.0 768.3 L470.6 765.4 L470.2 762.6 L469.8 759.6 L469.5 756.7 L469.1 753.7 L468.7 750.7 L468.3 747.7 L468.0 744.7 L467.6 741.7 L467.2 738.7 L466.9 735.8 L466.5 732.8 L466.1 729.9 L465.7 727.0 L465.4 724.1 L465.0 721.2 L464.6 718.4 L464.2 715.6 L463.9 712.8 L463.5 710.1 L463.1 707.4 L462.7 704.7 L462.4 702.1 L462.0 699.6 L461.6 697.0 L461.3 694.5 L460.9 692.1 L460.5 689.6 L460.1 687.2 L459.8 684.9 L459.4 682.6 L459.0 680.3 L458.6 678.1 L458.3 675.9 L457.9 673.8 L457.5 671.7 L457.1 669.6 L456.8 667.6 L456.4 665.6 L456.0 663.6 L455.7 661.7 L455.3 659.8 L454.9 657.9 L454.5 656.1 L454.2 654.3 L453.8 652.5 L453.4 650.8 L453.0 649.1 L452.7 647.4 L452.3 645.8 L451.9 644.2 L451.5 642.6 L451.2 641.1 L450.8 639.5 L450.4 638.0 L450.1 636.6 L449.7 635.1 L449.3 633.7 L448.9 632.4 L448.6 631.0 L448.2 629.7 L447.8 628.3 L447.4 627.1 L447.1 625.8 L446.7 624.6 L446.3 623.3 L445.9 622.1 L445.6 621.0 L445.2 619.8 L444.8 618.7 L444.5 617.6 L444.1 616.5 L443.7 615.4 L443.3 614.4 L443.0 613.3 L442.6 612.3 L442.2 611.3 L441.8 610.3 L441.5 609.4 L441.1 608.4 L440.7 607.5 L440.4 606.6 L440.0 605.7 L439.6 604.8 L439.2 604.0 L438.9 603.1 L438.5 602.3 L438.1 601.5 L437.7 600.6 L437.4 599.9 L437.0 599.1 L436.6 598.3 L436.2 597.6 L435.9 596.8 L435.5 596.1 L435.1 595.4 L434.8 594.7 L434.4 594.0 L434.0 593.3 L433.6 592.7 L433.3 592.0 L432.9 591.4 L432.5 590.7 L432.1 590.1 L431.8 589.5 L431.4 588.9 L431.0 588.3 L430.6 587.7 L430.3 587.1 L429.9 586.6 L429.5 586.0 L429.2 585.5 L428.8 584.9 L428.4 584.4 L428.0 583.9 L427.7 583.4 L427.3 582.9 L426.9 582.4 L426.5 581.9 L426.2 581.4 L425.8 581.0 L425.4 580.5 L425.0 580.1 L424.7 579.6 L424.3 579.2 L423.9 578.7 L423.6 578.3 L423.2 577.9 L422.8 577.5 L422.4 577.1 L422.1 576.7 L421.7 576.3 L421.3 575.9 L420.9 575.5 L420.6 575.1 L420.2 574.8 L419.8 574.4 L419.4 574.1 L419.1 573.7 L418.7 573.4 L418.3 573.0 L418.0 572.7 L417.6 572.3 L417.2 572.0 L416.8 571.7 L416.5 571.4 L416.1 571.1 L415.7 570.8 L415.3 570.5 L415.0 570.2 L414.6 569.9 L414.2 569.6 L413.8 569.3 L413.5 569.0 L413.1 568.8 L412.7 568.5 L412.4 568.2 L412.0 568.0 L411.6 567.7 L411.2 567.4 L410.9 567.2 L410.5 566.9 L410.1 566.7 L409.7 566.5 L409.4 566.2 L409.0 566.0 L408.6 565.8 L408.2 565.5 L407.9 565.3 L407.5 565.1 L407.1 564.9 L406.8 564.7 L406.4 564.5 L406.0 564.2 L405.6 564.0 L405.3 563.8 L404.9 563.6 L404.5 563.4 L404.1 563.3 L403.8 563.1 L403.4 562.9 L403.0 562.7 L402.6 562.5 L402.3 562.3 L401.9 562.2 L401.5 562.0 L401.2 561.8 L400.8 561.6 L400.4 561.5 L400.0 561.3 L399.7 561.1 L399.3 561.0 L398.9 560.8 L398.5 560.7 L398.2 560.5 L397.8 560.4 L397.4 560.2 L397.0 560.1 L396.7 559.9 L396.3 559.8 L395.9 559.6 L395.6 559.5 L395.2 559.4 L394.8 559.2 L394.4 559.1 L394.1 559.0 L393.7 558.8 Z" fill="#dc9cc2" stroke="#dc9cc2" stroke-width="2.6" stroke-linejoin="round"/>
<path d="M393.7 549.9 L394.1 549.9 L394.4 549.9 L394.8 549.9 L395.2 550.0 L395.6 550.0 L395.9 550.0 L396.3 550.0 L396.7 550.0 L397.0 550.0 L397.4 550.0 L397.8 550.0 L398.2 550.0 L398.5 550.0 L398.9 550.1 L399.3 550.1 L399.7 550.1 L400.0 550.1 L400.4 550.1 L400.8 550.1 L401.2 550.1 L401.5 550.1 L401.9 550.1 L402.3 550.2 L402.6 550.2 L403.0 550.2 L403.4 550.2 L403.8 550.2 L404.1 550.2 L404.5 550.2 L404.9 550.2 L405.3 550.3 L405.6 550.3 L406.0 550.3 L406.4 550.3 L406.8 550.3 L407.1 550.3 L407.5 550.3 L407.9 550.3 L408.2 550.4 L408.6 550.4 L409.0 550.4 L409.4 550.4 L409.7 550.4 L410.1 550.4 L410.5 550.4 L410.9 550.5 L411.2 550.5 L411.6 550.5 L412.0 550.5 L412.4 550.5 L412.7 550.5 L413.1 550.6 L413.5 550.6 L413.8 550.6 L414.2 550.6 L414.6 550.6 L415.0 550.6 L415.3 550.7 L415.7 550.7 L416.1 550.7 L416.5 550.7 L416.8 550.7 L417.2 550.7 L417.6 550.8 L418.0 550.8 L418.3 550.8 L418.7 550.8 L419.1 550.8 L419.4 550.9 L419.8 550.9 L420.2 550.9 L420.6 550.9 L420.9 550.9 L421.3 550.9 L421.7 551.0 L422.1 551.0 L422.4 551.0 L422.8 551.0 L423.2 551.1 L423.6 551.1 L423.9 551.1 L424.3 551.1 L424.7 551.1 L425.0 551.2 L425.4 551.2 L425.8 551.2 L426.2 551.2 L426.5 551.3 L426.9 551.3 L427.3 551.3 L427.7 551.3 L428.0 551.4 L428.4 551.4 L428.8 551.4 L429.2 551.4 L429.5 551.5 L429.9 551.5 L430.3 551.5 L430.6 551.5 L431.0 551.6 L431.4 551.6 L431.8 551.6 L432.1 551.6 L432.5 551.7 L432.9 551.7 L433.3 551.7 L433.6 551.7 L434.0 551.8 L434.4 551.8 L434.8 551.8 L435.1 551.9 L435.5 551.9 L435.9 551.9 L436.2 552.0 L436.6 552.0 L437.0 552.0 L437.4 552.1 L437.7 552.1 L438.1 552.1 L438.5 552.2 L438.9 552.2 L439.2 552.2 L439.6 552.3 L440.0 552.3 L440.4 552.3 L440.7 552.4 L441.1 552.4 L441.5 552.4 L441.8 552.5 L442.2 552.5 L442.6 552.5 L443.0 552.6 L443.3 552.6 L443.7 552.7 L444.1 552.7 L444.5 552.7 L444.8 552.8 L445.2 552.8 L445.6 552.9 L445.9 552.9 L446.3 552.9 L446.7 553.0 L447.1 553.0 L447.4 553.1 L447.8 553.1 L448.2 553.2 L448.6 553.2 L448.9 553.2 L449.3 553.3 L449.7 553.3 L450.1 553.4 L450.4 553.4 L450.8 553.5 L451.2 553.5 L451.5 553.6 L451.9 553.6 L452.3 553.7 L452.7 553.7 L453.0 553.8 L453.4 553.8 L453.8 553.9 L454.2 553.9 L454.5 554.0 L454.9 554.0 L455.3 554.1 L455.7 554.1 L456.0 554.2 L456.4 554.3 L456.8 554.3 L457.1 554.4 L457.5 554.4 L457.9 554.5 L458.3 554.5 L458.6 554.6 L459.0 554.7 L459.4 554.7 L459.8 554.8 L460.1 554.8 L460.5 554.9 L460.9 555.0 L461.3 555.0 L461.6 555.1 L462.0 555.2 L462.4 555.2 L462.7 555.3 L463.1 555.4 L463.5 555.4 L463.9 555.5 L464.2 555.6 L464.6 555.7 L465.0 555.7 L465.4 555.8 L465.7 555.9 L466.1 555.9 L466.5 556.0 L466.9 556.1 L467.2 556.2 L467.6 556.2 L468.0 556.3 L468.3 556.4 L468.7 556.5 L469.1 556.6 L469.5 556.6 L469.8 556.7 L470.2 556.8 L470.6 556.9 L471.0 557.0 L471.3 557.1 L471.7 557.2 L472.1 557.2 L472.5 557.3 L472.8 557.4 L473.2 557.5 L473.6 557.6 L473.9 557.7 L474.3 557.8 L474.7 557.9 L475.1 558.0 L475.4 558.1 L475.8 558.2 L476.2 558.3 L476.6 558.4 L476.9 558.5 L477.3 558.6 L477.7 558.7 L478.1 558.8 L478.4 558.9 L478.8 559.0 L479.2 559.1 L479.5 559.2 L479.9 559.3 L480.3 559.4 L480.7 559.5 L481.0 559.7 L481.4 559.8 L481.8 559.9 L482.2 560.0 L482.5 560.1 L482.9 560.2 L483.3 560.4 L483.7 560.5 L484.0 560.6 L484.4 560.7 L484.8 560.9 L485.1 561.0 L485.5 561.1 L485.9 561.2 L486.3 561.4 L486.6 561.5 L487.0 561.6 L487.4 561.8 L487.8 561.9 L488.1 562.0 L488.5 562.2 L488.9 562.3 L489.3 562.5 L489.6 562.6 L490.0 562.7 L490.4 562.9 L490.7 563.0 L491.1 563.2 L491.5 563.3 L491.9 563.5 L492.2 563.6 L492.6 563.8 L493.0 563.9 L493.4 564.1 L493.7 564.2 L494.1 564.4 L494.5 564.5 L494.8 564.7 L495.2 564.9 L495.6 565.0 L496.0 565.2 L496.3 565.4 L496.7 565.5 L497.1 565.7 L497.5 565.9 L497.8 566.0 L498.2 566.2 L498.6 566.4 L499.0 566.5 L499.3 566.7 L499.7 566.9 L500.1 567.1 L500.4 567.2 L500.8 567.4 L501.2 567.6 L501.6 567.8 L501.9 567.9 L502.3 568.1 L502.7 568.3 L503.1 568.5 L503.4 568.7 L503.8 568.9 L504.2 569.0 L504.6 569.2 L504.9 569.4 L505.3 569.6 L505.7 569.8 L506.0 570.0 L506.4 570.2 L506.8 570.3 L507.2 570.5 L507.5 570.7 L507.9 570.9 L508.3 571.1 L508.7 571.3 L509.0 571.5 L509.4 571.7 L509.8 571.9 L510.2 572.0 L510.5 572.2 L510.9 572.4 L511.3 572.6 L511.6 572.8 L512.0 573.0 L512.4 573.2 L512.8 573.3 L513.1 573.5 L513.5 573.7 L513.9 573.9 L514.3 574.0 L514.6 574.2 L515.0 574.4 L515.4 574.6 L515.8 574.7 L516.1 574.9 L516.5 575.1 L516.9 575.2 L517.2 575.4 L517.6 575.5 L518.0 575.7 L518.4 575.8 L518.7 576.0 L519.1 576.1 L519.5 576.3 L519.9 576.4 L520.2 576.5 L520.6 576.7 L521.0 576.8 L521.4 576.9 L521.7 577.0 L522.1 577.1 L522.5 577.2 L522.8 577.3 L523.2 577.4 L523.6 577.5 L524.0 577.6 L524.3 577.7 L524.7 577.7 L525.1 577.8 L525.5 577.8 L525.8 577.9 L526.2 577.9 L526.6 578.0 L527.0 578.0 L527.3 578.0 L527.7 578.0 L528.1 578.0 L528.4 578.0 L528.8 578.0 L529.2 577.9 L529.6 577.9 L529.9 577.9 L530.3 577.8 L530.7 577.7 L531.1 577.7 L531.4 577.6 L531.8 577.5 L532.2 577.4 L532.6 577.3 L532.9 577.2 L533.3 577.0 L533.7 576.9 L534.0 576.7 L534.4 576.6 L534.8 576.4 L535.2 576.2 L535.5 576.0 L535.9 575.8 L536.3 575.6 L536.7 575.4 L537.0 575.2 L537.4 574.9 L537.8 574.7 L538.2 574.4 L538.5 574.2 L538.9 573.9 L539.3 573.6 L539.6 573.3 L540.0 573.0 L540.4 572.7 L540.8 572.4 L541.1 572.0 L541.5 571.7 L541.9 571.3 L542.3 571.0 L542.6 570.6 L543.0 570.3 L543.4 569.9 L543.7 569.5 L544.1 569.1 L544.5 568.8 L544.9 568.4 L545.2 568.0 L545.6 567.6 L546.0 567.2 L546.4 566.8 L546.7 566.4 L547.1 566.0 L547.5 565.6 L547.9 565.1 L548.2 564.7 L548.6 564.3 L549.0 563.9 L549.3 563.5 L549.7 563.1 L550.1 562.7 L550.5 562.3 L550.8 561.9 L551.2 561.5 L551.6 561.1 L552.0 560.7 L552.3 560.3 L552.7 559.9 L553.1 559.5 L553.5 559.1 L553.8 558.7 L554.2 558.4 L554.6 558.0 L554.9 557.6 L555.3 557.3 L555.7 556.9 L556.1 556.6 L556.4 556.3 L556.8 556.0 L557.2 555.6 L557.6 555.3 L557.9 555.0 L558.3 554.7 L558.7 554.5 L559.1 554.2 L559.4 553.9 L559.8 553.6 L560.2 553.4 L560.5 553.2 L560.9 552.9 L561.3 552.7 L561.7 552.5 L562.0 552.3 L562.4 552.1 L562.8 551.9 L563.2 551.7 L563.5 551.5 L563.9 551.3 L564.3 551.2 L564.7 551.0 L565.0 550.9 L565.4 550.8 L565.8 550.6 L566.1 550.5 L566.5 550.4 L566.9 550.3 L567.3 550.2 L567.6 550.1 L568.0 550.0 L568.4 549.9 L568.8 549.8 L569.1 549.8 L569.5 549.7 L569.9 549.6 L570.3 549.6 L570.6 549.5 L571.0 549.5 L571.4 549.4 L571.7 549.4 L572.1 549.4 L572.5 549.3 L572.9 549.3 L573.2 549.3 L573.6 549.2 L574.0 549.2 L574.4 549.2 L574.7 549.2 L575.1 549.2 L575.5 549.2 L575.9 549.1 L576.2 549.1 L576.6 549.1 L577.0 549.1 L577.3 549.1 L577.7 549.1 L578.1 549.1 L578.5 549.1 L578.8 549.1 L579.2 549.1 L579.6 549.1 L580.0 549.1 L580.3 549.1 L580.7 549.1 L581.1 549.1 L581.5 549.1 L581.8 549.1 L582.2 549.1 L582.6 549.1 L582.9 549.1 L583.3 549.1 L583.7 549.1 L584.1 549.1 L584.4 549.1 L584.8 549.1 L585.2 549.1 L585.6 549.1 L585.9 549.1 L586.3 549.1 L586.7 549.1 L587.1 549.1 L587.4 549.1 L587.8 549.1 L588.2 549.1 L588.5 549.1 L588.9 549.1 L589.3 549.1 L589.7 549.1 L590.0 549.1 L590.4 549.1 L590.8 549.1 L591.2 549.1 L591.5 549.1 L591.9 549.1 L592.3 549.1 L592.6 549.1 L593.0 549.1 L593.4 549.1 L593.8 549.1 L594.1 549.1 L594.5 549.1 L594.9 549.1 L595.3 549.1 L595.6 549.1 L596.0 549.1 L596.4 549.1 L596.8 549.1 L597.1 549.1 L597.5 549.1 L597.9 549.1 L598.2 549.1 L598.6 549.1 L599.0 549.1 L599.4 549.1 L599.7 549.1 L600.1 549.1 L600.5 549.1 L600.9 549.1 L601.2 549.1 L601.6 549.1 L602.0 549.1 L602.4 549.1 L602.7 549.1 L603.1 549.1 L603.5 549.1 L603.8 549.1 L604.2 549.1 L604.6 549.1 L605.0 549.1 L605.3 549.1 L605.7 549.1 L606.1 549.1 L606.5 549.1 L606.8 549.1 L607.2 549.1 L607.6 549.1 L608.0 549.1 L608.3 549.1 L608.7 549.1 L609.1 549.1 L609.4 549.1 L609.8 549.1 L610.2 549.1 L610.6 549.1 L610.9 549.1 L611.3 549.1 L611.7 549.1 L612.1 549.1 L612.4 549.1 L612.8 549.1 L613.2 549.1 L613.6 549.1 L613.9 549.1 L614.3 549.1 L614.7 549.1 L615.0 549.1 L615.4 549.1 L615.8 549.1 L616.2 549.1 L616.5 549.1 L616.9 549.1 L617.3 549.1 L617.7 549.1 L618.0 549.1 L618.4 549.1 L618.8 549.1 L619.2 549.1 L619.5 549.1 L619.9 549.1 L620.3 549.1 L620.6 549.1 L621.0 549.1 L621.4 549.1 L621.8 549.1 L622.1 549.1 L622.5 549.1 L622.9 549.1 L623.3 549.1 L623.6 549.1 L624.0 549.1 L624.4 549.1 L624.8 549.1 L625.1 549.1 L625.5 549.1 L625.9 549.1 L626.2 549.1 L626.6 549.1 L627.0 549.1 L627.4 549.1 L627.7 549.1 L628.1 549.1 L628.5 549.1 L628.9 549.1 L629.2 549.1 L629.6 549.1 L630.0 549.1 L630.4 549.1 L630.7 549.1 L631.1 549.1 L631.5 549.1 L631.8 549.1 L632.2 549.1 L632.6 549.1 L633.0 549.1 L633.3 549.1 L633.7 549.1 L634.1 549.1 L634.5 549.1 L634.8 549.1 L635.2 549.1 L635.6 549.1 L636.0 549.1 L636.3 549.1 L636.7 549.1 L637.1 549.1 L637.4 549.1 L637.8 549.1 L638.2 549.1 L638.6 549.1 L638.9 549.1 L639.3 549.1 L639.7 549.1 L640.1 549.1 L640.4 549.1 L640.8 549.1 L641.2 549.1 L641.6 549.1 L641.9 549.1 L642.3 549.1 L642.7 549.1 L643.0 549.1 L643.4 549.1 L643.8 549.1 L644.2 549.1 L644.5 549.1 L644.9 549.1 L645.3 549.1 L645.7 549.1 L646.0 549.1 L646.4 549.1 L646.8 549.1 L647.1 549.1 L647.5 549.1 L647.9 549.1 L648.3 549.1 L648.6 549.1 L649.0 549.1 L649.4 549.1 L649.8 549.1 L650.1 549.1 L650.5 549.1 L650.9 549.1 L651.3 549.1 L651.6 549.1 L652.0 549.1 L652.4 549.1 L652.7 549.1 L653.1 549.1 L653.5 549.1 L653.9 549.1 L654.2 549.1 L654.6 549.1 L654.6 549.1 L654.2 549.1 L653.9 549.1 L653.5 549.1 L653.1 549.1 L652.7 549.1 L652.4 549.1 L652.0 549.1 L651.6 549.1 L651.3 549.1 L650.9 549.1 L650.5 549.1 L650.1 549.1 L649.8 549.1 L649.4 549.1 L649.0 549.1 L648.6 549.1 L648.3 549.1 L647.9 549.1 L647.5 549.1 L647.1 549.1 L646.8 549.1 L646.4 549.1 L646.0 549.1 L645.7 549.1 L645.3 549.1 L644.9 549.1 L644.5 549.1 L644.2 549.1 L643.8 549.1 L643.4 549.1 L643.0 549.1 L642.7 549.1 L642.3 549.1 L641.9 549.1 L641.6 549.1 L641.2 549.1 L640.8 549.1 L640.4 549.1 L640.1 549.1 L639.7 549.1 L639.3 549.1 L638.9 549.1 L638.6 549.1 L638.2 549.1 L637.8 549.1 L637.4 549.1 L637.1 549.1 L636.7 549.1 L636.3 549.1 L636.0 549.1 L635.6 549.1 L635.2 549.1 L634.8 549.1 L634.5 549.1 L634.1 549.1 L633.7 549.1 L633.3 549.1 L633.0 549.1 L632.6 549.1 L632.2 549.1 L631.8 549.1 L631.5 549.1 L631.1 549.1 L630.7 549.1 L630.4 549.1 L630.0 549.1 L629.6 549.1 L629.2 549.1 L628.9 549.1 L628.5 549.1 L628.1 549.1 L627.7 549.1 L627.4 549.1 L627.0 549.1 L626.6 549.1 L626.2 549.1 L625.9 549.1 L625.5 549.1 L625.1 549.1 L624.8 549.1 L624.4 549.1 L624.0 549.1 L623.6 549.1 L623.3 549.1 L622.9 549.1 L622.5 549.1 L622.1 549.1 L621.8 549.1 L621.4 549.1 L621.0 549.1 L620.6 549.1 L620.3 549.1 L619.9 549.1 L619.5 549.1 L619.2 549.1 L618.8 549.1 L618.4 549.1 L618.0 549.1 L617.7 549.1 L617.3 549.1 L616.9 549.1 L616.5 549.1 L616.2 549.1 L615.8 549.1 L615.4 549.1 L615.0 549.1 L614.7 549.1 L614.3 549.1 L613.9 549.1 L613.6 549.1 L613.2 549.1 L612.8 549.1 L612.4 549.1 L612.1 549.1 L611.7 549.1 L611.3 549.1 L610.9 549.1 L610.6 549.1 L610.2 549.1 L609.8 549.1 L609.4 549.1 L609.1 549.1 L608.7 549.1 L608.3 549.1 L608.0 549.1 L607.6 549.1 L607.2 549.1 L606.8 549.1 L606.5 549.1 L606.1 549.1 L605.7 549.1 L605.3 549.1 L605.0 549.1 L604.6 549.1 L604.2 549.1 L603.8 549.1 L603.5 549.1 L603.1 549.1 L602.7 549.1 L602.4 549.1 L602.0 549.1 L601.6 549.1 L601.2 549.1 L600.9 549.1 L600.5 549.1 L600.1 549.1 L599.7 549.1 L599.4 549.1 L599.0 549.1 L598.6 549.1 L598.2 549.1 L597.9 549.1 L597.5 549.1 L597.1 549.1 L596.8 549.1 L596.4 549.1 L596.0 549.1 L595.6 549.1 L595.3 549.1 L594.9 549.1 L594.5 549.1 L594.1 549.1 L593.8 549.1 L593.4 549.1 L593.0 549.1 L592.6 549.1 L592.3 549.1 L591.9 549.1 L591.5 549.1 L591.2 549.1 L590.8 549.1 L590.4 549.1 L590.0 549.1 L589.7 549.1 L589.3 549.1 L588.9 549.1 L588.5 549.1 L588.2 549.1 L587.8 549.1 L587.4 549.1 L587.1 549.1 L586.7 549.1 L586.3 549.1 L585.9 549.1 L585.6 549.1 L585.2 549.1 L584.8 549.1 L584.4 549.1 L584.1 549.1 L583.7 549.1 L583.3 549.1 L582.9 549.1 L582.6 549.1 L582.2 549.1 L581.8 549.1 L581.5 549.2 L581.1 549.2 L580.7 549.2 L580.3 549.2 L580.0 549.2 L579.6 549.2 L579.2 549.3 L578.8 549.3 L578.5 549.3 L578.1 549.4 L577.7 549.4 L577.3 549.4 L577.0 549.5 L576.6 549.5 L576.2 549.6 L575.9 549.6 L575.5 549.7 L575.1 549.8 L574.7 549.8 L574.4 549.9 L574.0 550.0 L573.6 550.1 L573.2 550.2 L572.9 550.3 L572.5 550.4 L572.1 550.5 L571.7 550.6 L571.4 550.8 L571.0 550.9 L570.6 551.1 L570.3 551.2 L569.9 551.4 L569.5 551.6 L569.1 551.7 L568.8 551.9 L568.4 552.1 L568.0 552.3 L567.6 552.6 L567.3 552.8 L566.9 553.0 L566.5 553.3 L566.1 553.5 L565.8 553.8 L565.4 554.1 L565.0 554.4 L564.7 554.7 L564.3 555.0 L563.9 555.3 L563.5 555.6 L563.2 556.0 L562.8 556.3 L562.4 556.6 L562.0 557.0 L561.7 557.4 L561.3 557.8 L560.9 558.1 L560.5 558.5 L560.2 558.9 L559.8 559.4 L559.4 559.8 L559.1 560.2 L558.7 560.6 L558.3 561.1 L557.9 561.5 L557.6 562.0 L557.2 562.4 L556.8 562.9 L556.4 563.3 L556.1 563.8 L555.7 564.3 L555.3 564.8 L554.9 565.2 L554.6 565.7 L554.2 566.2 L553.8 566.7 L553.5 567.2 L553.1 567.6 L552.7 568.1 L552.3 568.6 L552.0 569.1 L551.6 569.6 L551.2 570.1 L550.8 570.5 L550.5 571.0 L550.1 571.5 L549.7 572.0 L549.3 572.4 L549.0 572.9 L548.6 573.3 L548.2 573.8 L547.9 574.2 L547.5 574.6 L547.1 575.1 L546.7 575.5 L546.4 575.9 L546.0 576.3 L545.6 576.7 L545.2 577.1 L544.9 577.5 L544.5 577.8 L544.1 578.2 L543.7 578.5 L543.4 578.9 L543.0 579.2 L542.6 579.5 L542.3 579.8 L541.9 580.1 L541.5 580.4 L541.1 580.7 L540.8 580.9 L540.4 581.2 L540.0 581.4 L539.6 581.6 L539.3 581.8 L538.9 582.0 L538.5 582.2 L538.2 582.4 L537.8 582.5 L537.4 582.7 L537.0 582.8 L536.7 582.9 L536.3 583.0 L535.9 583.1 L535.5 583.2 L535.2 583.3 L534.8 583.4 L534.4 583.4 L534.0 583.5 L533.7 583.5 L533.3 583.5 L532.9 583.5 L532.6 583.5 L532.2 583.5 L531.8 583.5 L531.4 583.5 L531.1 583.4 L530.7 583.4 L530.3 583.3 L529.9 583.3 L529.6 583.2 L529.2 583.1 L528.8 583.0 L528.4 582.9 L528.1 582.8 L527.7 582.7 L527.3 582.6 L527.0 582.4 L526.6 582.3 L526.2 582.2 L525.8 582.0 L525.5 581.9 L525.1 581.7 L524.7 581.6 L524.3 581.4 L524.0 581.2 L523.6 581.0 L523.2 580.9 L522.8 580.7 L522.5 580.5 L522.1 580.3 L521.7 580.1 L521.4 579.9 L521.0 579.7 L520.6 579.5 L520.2 579.3 L519.9 579.1 L519.5 578.9 L519.1 578.6 L518.7 578.4 L518.4 578.2 L518.0 578.0 L517.6 577.8 L517.2 577.5 L516.9 577.3 L516.5 577.1 L516.1 576.9 L515.8 576.6 L515.4 576.4 L515.0 576.2 L514.6 576.0 L514.3 575.7 L513.9 575.5 L513.5 575.3 L513.1 575.0 L512.8 574.8 L512.4 574.6 L512.0 574.4 L511.6 574.1 L511.3 573.9 L510.9 573.7 L510.5 573.5 L510.2 573.2 L509.8 573.0 L509.4 572.8 L509.0 572.6 L508.7 572.3 L508.3 572.1 L507.9 571.9 L507.5 571.7 L507.2 571.5 L506.8 571.2 L506.4 571.0 L506.0 570.8 L505.7 570.6 L505.3 570.4 L504.9 570.2 L504.6 570.0 L504.2 569.7 L503.8 569.5 L503.4 569.3 L503.1 569.1 L502.7 568.9 L502.3 568.7 L501.9 568.5 L501.6 568.3 L501.2 568.1 L500.8 567.9 L500.4 567.7 L500.1 567.5 L499.7 567.4 L499.3 567.2 L499.0 567.0 L498.6 566.8 L498.2 566.6 L497.8 566.4 L497.5 566.2 L497.1 566.1 L496.7 565.9 L496.3 565.7 L496.0 565.5 L495.6 565.4 L495.2 565.2 L494.8 565.0 L494.5 564.8 L494.1 564.7 L493.7 564.5 L493.4 564.3 L493.0 564.2 L492.6 564.0 L492.2 563.9 L491.9 563.7 L491.5 563.5 L491.1 563.4 L490.7 563.2 L490.4 563.1 L490.0 562.9 L489.6 562.8 L489.3 562.6 L488.9 562.5 L488.5 562.3 L488.1 562.2 L487.8 562.1 L487.4 561.9 L487.0 561.8 L486.6 561.6 L486.3 561.5 L485.9 561.4 L485.5 561.2 L485.1 561.1 L484.8 561.0 L484.4 560.9 L484.0 560.7 L483.7 560.6 L483.3 560.5 L482.9 560.3 L482.5 560.2 L482.2 560.1 L481.8 560.0 L481.4 559.9 L481.0 559.8 L480.7 559.6 L480.3 559.5 L479.9 559.4 L479.5 559.3 L479.2 559.2 L478.8 559.1 L478.4 559.0 L478.1 558.9 L477.7 558.7 L477.3 558.6 L476.9 558.5 L476.6 558.4 L476.2 558.3 L475.8 558.2 L475.4 558.1 L475.1 558.0 L474.7 557.9 L474.3 557.8 L473.9 557.7 L473.6 557.7 L473.2 557.6 L472.8 557.5 L472.5 557.4 L472.1 557.3 L471.7 557.2 L471.3 557.1 L471.0 557.0 L470.6 556.9 L470.2 556.8 L469.8 556.8 L469.5 556.7 L469.1 556.6 L468.7 556.5 L468.3 556.4 L468.0 556.4 L467.6 556.3 L467.2 556.2 L466.9 556.1 L466.5 556.0 L466.1 556.0 L465.7 555.9 L465.4 555.8 L465.0 555.7 L464.6 555.7 L464.2 555.6 L463.9 555.5 L463.5 555.5 L463.1 555.4 L462.7 555.3 L462.4 555.3 L462.0 555.2 L461.6 555.1 L461.3 555.1 L460.9 555.0 L460.5 554.9 L460.1 554.9 L459.8 554.8 L459.4 554.7 L459.0 554.7 L458.6 554.6 L458.3 554.6 L457.9 554.5 L457.5 554.4 L457.1 554.4 L456.8 554.3 L456.4 554.3 L456.0 554.2 L455.7 554.2 L455.3 554.1 L454.9 554.0 L454.5 554.0 L454.2 553.9 L453.8 553.9 L453.4 553.8 L453.0 553.8 L452.7 553.7 L452.3 553.7 L451.9 553.6 L451.5 553.6 L451.2 553.5 L450.8 553.5 L450.4 553.4 L450.1 553.4 L449.7 553.3 L449.3 553.3 L448.9 553.2 L448.6 553.2 L448.2 553.2 L447.8 553.1 L447.4 553.1 L447.1 553.0 L446.7 553.0 L446.3 552.9 L445.9 552.9 L445.6 552.9 L445.2 552.8 L444.8 552.8 L444.5 552.7 L444.1 552.7 L443.7 552.7 L443.3 552.6 L443.0 552.6 L442.6 552.5 L442.2 552.5 L441.8 552.5 L441.5 552.4 L441.1 552.4 L440.7 552.4 L440.4 552.3 L440.0 552.3 L439.6 552.3 L439.2 552.2 L438.9 552.2 L438.5 552.2 L438.1 552.1 L437.7 552.1 L437.4 552.1 L437.0 552.0 L436.6 552.0 L436.2 552.0 L435.9 551.9 L435.5 551.9 L435.1 551.9 L434.8 551.8 L434.4 551.8 L434.0 551.8 L433.6 551.8 L433.3 551.7 L432.9 551.7 L432.5 551.7 L432.1 551.6 L431.8 551.6 L431.4 551.6 L431.0 551.6 L430.6 551.5 L430.3 551.5 L429.9 551.5 L429.5 551.5 L429.2 551.4 L428.8 551.4 L428.4 551.4 L428.0 551.4 L427.7 551.3 L427.3 551.3 L426.9 551.3 L426.5 551.3 L426.2 551.2 L425.8 551.2 L425.4 551.2 L425.0 551.2 L424.7 551.1 L424.3 551.1 L423.9 551.1 L423.6 551.1 L423.2 551.1 L422.8 551.0 L422.4 551.0 L422.1 551.0 L421.7 551.0 L421.3 550.9 L420.9 550.9 L420.6 550.9 L420.2 550.9 L419.8 550.9 L419.4 550.9 L419.1 550.8 L418.7 550.8 L418.3 550.8 L418.0 550.8 L417.6 550.8 L417.2 550.7 L416.8 550.7 L416.5 550.7 L416.1 550.7 L415.7 550.7 L415.3 550.7 L415.0 550.6 L414.6 550.6 L414.2 550.6 L413.8 550.6 L413.5 550.6 L413.1 550.6 L412.7 550.5 L412.4 550.5 L412.0 550.5 L411.6 550.5 L411.2 550.5 L410.9 550.5 L410.5 550.4 L410.1 550.4 L409.7 550.4 L409.4 550.4 L409.0 550.4 L408.6 550.4 L408.2 550.4 L407.9 550.3 L407.5 550.3 L407.1 550.3 L406.8 550.3 L406.4 550.3 L406.0 550.3 L405.6 550.3 L405.3 550.3 L404.9 550.2 L404.5 550.2 L404.1 550.2 L403.8 550.2 L403.4 550.2 L403.0 550.2 L402.6 550.2 L402.3 550.2 L401.9 550.1 L401.5 550.1 L401.2 550.1 L400.8 550.1 L400.4 550.1 L400.0 550.1 L399.7 550.1 L399.3 550.1 L398.9 550.1 L398.5 550.0 L398.2 550.0 L397.8 550.0 L397.4 550.0 L397.0 550.0 L396.7 550.0 L396.3 550.0 L395.9 550.0 L395.6 550.0 L395.2 550.0 L394.8 549.9 L394.4 549.9 L394.1 549.9 L393.7 549.9 Z" fill="#a387c6" stroke="#a387c6" stroke-width="2.6" stroke-linejoin="round"/>
<path d="M503.4 571.0 L503.8 571.3 L504.2 571.5 L504.6 571.8 L504.9 572.1 L505.3 572.4 L505.7 572.7 L506.0 572.9 L506.4 573.2 L506.8 573.5 L507.2 573.8 L507.5 574.1 L507.9 574.4 L508.3 574.8 L508.7 575.1 L509.0 575.4 L509.4 575.7 L509.8 576.0 L510.2 576.4 L510.5 576.7 L510.9 577.1 L511.3 577.4 L511.6 577.8 L512.0 578.1 L512.4 578.5 L512.8 578.9 L513.1 579.2 L513.5 579.6 L513.9 580.0 L514.3 580.4 L514.6 580.8 L515.0 581.2 L515.4 581.6 L515.8 582.0 L516.1 582.4 L516.5 582.8 L516.9 583.2 L517.2 583.7 L517.6 584.1 L518.0 584.6 L518.4 585.0 L518.7 585.5 L519.1 586.0 L519.5 586.4 L519.9 586.9 L520.2 587.4 L520.6 587.9 L521.0 588.4 L521.4 588.9 L521.7 589.4 L522.1 589.9 L522.5 590.5 L522.8 591.0 L523.2 591.6 L523.6 592.1 L524.0 592.7 L524.3 593.2 L524.7 593.8 L525.1 594.4 L525.5 595.0 L525.8 595.6 L526.2 596.2 L526.6 596.9 L527.0 597.5 L527.3 598.1 L527.7 598.8 L528.1 599.4 L528.4 600.1 L528.8 600.8 L529.2 601.5 L529.6 602.2 L529.9 602.9 L530.3 603.6 L530.7 604.4 L531.1 605.1 L531.4 605.9 L531.8 606.6 L532.2 607.4 L532.6 608.2 L532.9 609.0 L533.3 609.8 L533.7 610.7 L534.0 611.5 L534.4 612.4 L534.8 613.3 L535.2 614.1 L535.5 615.0 L535.9 615.9 L536.3 616.9 L536.7 617.8 L537.0 618.8 L537.4 619.7 L537.8 620.7 L538.2 621.7 L538.5 622.7 L538.9 623.8 L539.3 624.8 L539.6 625.9 L540.0 627.0 L540.4 628.1 L540.8 629.2 L541.1 630.3 L541.5 631.5 L541.9 632.7 L542.3 633.8 L542.6 635.1 L543.0 636.3 L543.4 637.5 L543.7 638.8 L544.1 640.1 L544.5 641.4 L544.9 642.7 L545.2 644.1 L545.6 645.4 L546.0 646.8 L546.4 648.2 L546.7 649.7 L547.1 651.1 L547.5 652.6 L547.9 654.1 L548.2 655.6 L548.6 657.2 L549.0 658.8 L549.3 660.4 L549.7 662.0 L550.1 663.6 L550.5 665.3 L550.8 667.0 L551.2 668.7 L551.6 670.5 L552.0 672.2 L552.3 674.0 L552.7 675.8 L553.1 677.7 L553.5 679.6 L553.8 681.5 L554.2 683.4 L554.6 685.3 L554.9 687.3 L555.3 689.3 L555.7 691.3 L556.1 693.4 L556.4 695.4 L556.8 697.5 L557.2 699.7 L557.6 701.8 L557.9 704.0 L558.3 706.1 L558.7 708.3 L559.1 710.5 L559.4 712.8 L559.8 715.0 L560.2 717.3 L560.5 719.6 L560.9 721.8 L561.3 724.1 L561.7 726.4 L562.0 728.7 L562.4 731.0 L562.8 733.3 L563.2 735.6 L563.5 737.8 L563.9 740.1 L564.3 742.3 L564.7 744.5 L565.0 746.6 L565.4 748.8 L565.8 750.9 L566.1 752.9 L566.5 754.9 L566.9 756.8 L567.3 758.7 L567.6 760.5 L568.0 762.2 L568.4 763.8 L568.8 765.4 L569.1 766.8 L569.5 768.2 L569.9 769.4 L570.3 770.6 L570.6 771.6 L571.0 772.5 L571.4 773.3 L571.7 774.0 L572.1 774.5 L572.5 775.0 L572.9 775.3 L573.2 775.5 L573.6 775.6 L574.0 775.5 L574.4 775.4 L574.7 775.2 L575.1 774.8 L575.5 774.4 L575.9 773.8 L576.2 773.2 L576.6 772.5 L577.0 771.7 L577.3 770.8 L577.7 769.9 L578.1 768.9 L578.5 767.9 L578.8 766.8 L579.2 765.6 L579.6 764.4 L580.0 763.2 L580.3 761.9 L580.7 760.6 L581.1 759.3 L581.5 757.9 L581.8 756.5 L582.2 755.1 L582.6 753.7 L582.9 752.3 L583.3 750.8 L583.7 749.4 L584.1 747.9 L584.4 746.4 L584.8 744.9 L585.2 743.4 L585.6 741.9 L585.9 740.4 L586.3 738.9 L586.7 737.4 L587.1 735.9 L587.4 734.4 L587.8 732.9 L588.2 731.4 L588.5 729.9 L588.9 728.3 L589.3 726.8 L589.7 725.3 L590.0 723.8 L590.4 722.3 L590.8 720.7 L591.2 719.2 L591.5 717.7 L591.9 716.2 L592.3 714.7 L592.6 713.2 L593.0 711.7 L593.4 710.2 L593.8 708.7 L594.1 707.2 L594.5 705.7 L594.9 704.1 L595.3 702.6 L595.6 701.2 L596.0 699.7 L596.4 698.2 L596.8 696.7 L597.1 695.2 L597.5 693.7 L597.9 692.2 L598.2 690.7 L598.6 689.2 L599.0 687.8 L599.4 686.3 L599.7 684.8 L600.1 683.3 L600.5 681.9 L600.9 680.4 L601.2 678.9 L601.6 677.5 L602.0 676.0 L602.4 674.5 L602.7 673.1 L603.1 671.6 L603.5 670.2 L603.8 668.7 L604.2 667.3 L604.6 665.8 L605.0 664.4 L605.3 663.0 L605.7 661.5 L606.1 660.1 L606.5 658.7 L606.8 657.3 L607.2 655.9 L607.6 654.4 L608.0 653.0 L608.3 651.6 L608.7 650.2 L609.1 648.8 L609.4 647.4 L609.8 646.1 L610.2 644.7 L610.6 643.3 L610.9 641.9 L611.3 640.5 L611.7 639.2 L612.1 637.8 L612.4 636.5 L612.8 635.1 L613.2 633.8 L613.6 632.4 L613.9 631.1 L614.3 629.8 L614.7 628.4 L615.0 627.1 L615.4 625.8 L615.8 624.5 L616.2 623.2 L616.5 621.9 L616.9 620.6 L617.3 619.3 L617.7 618.1 L618.0 616.8 L618.4 615.5 L618.8 614.3 L619.2 613.1 L619.5 611.8 L619.9 610.6 L620.3 609.4 L620.6 608.2 L621.0 606.9 L621.4 605.7 L621.8 604.6 L622.1 603.4 L622.5 602.2 L622.9 601.0 L623.3 599.9 L623.6 598.8 L624.0 597.6 L624.4 596.5 L624.8 595.4 L625.1 594.3 L625.5 593.2 L625.9 592.1 L626.2 591.0 L626.6 590.0 L627.0 588.9 L627.4 587.9 L627.7 586.8 L628.1 585.8 L628.5 584.8 L628.9 583.8 L629.2 582.8 L629.6 581.9 L630.0 580.9 L630.4 580.0 L630.7 579.0 L631.1 578.1 L631.5 577.2 L631.8 576.3 L632.2 575.4 L632.6 574.6 L633.0 573.7 L633.3 572.9 L633.7 572.1 L634.1 571.3 L634.5 570.5 L634.8 569.7 L635.2 568.9 L635.6 568.2 L636.0 567.4 L636.3 566.7 L636.7 566.0 L637.1 565.3 L637.4 564.6 L637.8 564.0 L638.2 563.3 L638.6 562.7 L638.9 562.1 L639.3 561.5 L639.7 560.9 L640.1 560.4 L640.4 559.8 L640.8 559.3 L641.2 558.8 L641.6 558.3 L641.9 557.8 L642.3 557.3 L642.7 556.9 L643.0 556.4 L643.4 556.0 L643.8 555.6 L644.2 555.2 L644.5 554.9 L644.9 554.5 L645.3 554.2 L645.7 553.8 L646.0 553.5 L646.4 553.2 L646.8 552.9 L647.1 552.7 L647.5 552.4 L647.9 552.2 L648.3 551.9 L648.6 551.7 L649.0 551.5 L649.4 551.3 L649.8 551.1 L650.1 550.9 L650.5 550.8 L650.9 550.6 L651.3 550.5 L651.6 550.4 L652.0 550.2 L652.4 550.1 L652.7 550.0 L653.1 549.9 L653.5 549.8 L653.9 549.8 L654.2 549.7 L654.6 549.6" stroke="#fb8a5a" stroke-width="5"/>
<path d="M393.7 558.8 L394.1 559.0 L394.4 559.1 L394.8 559.2 L395.2 559.4 L395.6 559.5 L395.9 559.6 L396.3 559.8 L396.7 559.9 L397.0 560.1 L397.4 560.2 L397.8 560.4 L398.2 560.5 L398.5 560.7 L398.9 560.8 L399.3 561.0 L399.7 561.1 L400.0 561.3 L400.4 561.5 L400.8 561.6 L401.2 561.8 L401.5 562.0 L401.9 562.2 L402.3 562.3 L402.6 562.5 L403.0 562.7 L403.4 562.9 L403.8 563.1 L404.1 563.3 L404.5 563.4 L404.9 563.6 L405.3 563.8 L405.6 564.0 L406.0 564.2 L406.4 564.4 L406.8 564.7 L407.1 564.9 L407.5 565.1 L407.9 565.3 L408.2 565.5 L408.6 565.8 L409.0 566.0 L409.4 566.2 L409.7 566.5 L410.1 566.7 L410.5 566.9 L410.9 567.2 L411.2 567.4 L411.6 567.7 L412.0 568.0 L412.4 568.2 L412.7 568.5 L413.1 568.8 L413.5 569.0 L413.8 569.3 L414.2 569.6 L414.6 569.9 L415.0 570.2 L415.3 570.5 L415.7 570.8 L416.1 571.1 L416.5 571.4 L416.8 571.7 L417.2 572.0 L417.6 572.3 L418.0 572.7 L418.3 573.0 L418.7 573.4 L419.1 573.7 L419.4 574.1 L419.8 574.4 L420.2 574.8 L420.6 575.1 L420.9 575.5 L421.3 575.9 L421.7 576.3 L422.1 576.7 L422.4 577.1 L422.8 577.5 L423.2 577.9 L423.6 578.3 L423.9 578.7 L424.3 579.2 L424.7 579.6 L425.0 580.1 L425.4 580.5 L425.8 581.0 L426.2 581.4 L426.5 581.9 L426.9 582.4 L427.3 582.9 L427.7 583.4 L428.0 583.9 L428.4 584.4 L428.8 584.9 L429.2 585.5 L429.5 586.0 L429.9 586.6 L430.3 587.1 L430.6 587.7 L431.0 588.3 L431.4 588.9 L431.8 589.5 L432.1 590.1 L432.5 590.7 L432.9 591.3 L433.3 592.0 L433.6 592.6 L434.0 593.3 L434.4 594.0 L434.8 594.7 L435.1 595.4 L435.5 596.1 L435.9 596.8 L436.2 597.5 L436.6 598.3 L437.0 599.1 L437.4 599.8 L437.7 600.6 L438.1 601.4 L438.5 602.3 L438.9 603.1 L439.2 603.9 L439.6 604.8 L440.0 605.7 L440.4 606.6 L440.7 607.5 L441.1 608.4 L441.5 609.4 L441.8 610.3 L442.2 611.3 L442.6 612.3 L443.0 613.3 L443.3 614.3 L443.7 615.4 L444.1 616.5 L444.5 617.5 L444.8 618.7 L445.2 619.8 L445.6 620.9 L445.9 622.1 L446.3 623.3 L446.7 624.5 L447.1 625.8 L447.4 627.0 L447.8 628.3 L448.2 629.6 L448.6 630.9 L448.9 632.3 L449.3 633.7 L449.7 635.1 L450.1 636.5 L450.4 638.0 L450.8 639.5 L451.2 641.0 L451.5 642.5 L451.9 644.1 L452.3 645.7 L452.7 647.3 L453.0 649.0 L453.4 650.7 L453.8 652.4 L454.2 654.1 L454.5 655.9 L454.9 657.7 L455.3 659.6 L455.7 661.5 L456.0 663.4 L456.4 665.4 L456.8 667.3 L457.1 669.4 L457.5 671.4 L457.9 673.5 L458.3 675.7 L458.6 677.8 L459.0 680.0 L459.4 682.3 L459.8 684.6 L460.1 686.9 L460.5 689.3 L460.9 691.7 L461.3 694.1 L461.6 696.6 L462.0 699.1 L462.4 701.6 L462.7 704.2 L463.1 706.8 L463.5 709.5 L463.9 712.1 L464.2 714.9 L464.6 717.6 L465.0 720.4 L465.4 723.2 L465.7 726.0 L466.1 728.8 L466.5 731.7 L466.9 734.6 L467.2 737.5 L467.6 740.4 L468.0 743.2 L468.3 746.1 L468.7 749.0 L469.1 751.9 L469.5 754.7 L469.8 757.5 L470.2 760.3 L470.6 763.1 L471.0 765.7 L471.3 768.3 L471.7 770.9 L472.1 773.3 L472.5 775.7 L472.8 778.0 L473.2 780.1 L473.6 782.2 L473.9 784.1 L474.3 785.9 L474.7 787.5 L475.1 789.0 L475.4 790.3 L475.8 791.5 L476.2 792.6 L476.6 793.4 L476.9 794.1 L477.3 794.7 L477.7 795.1 L478.1 795.4 L478.4 795.5 L478.8 795.5 L479.2 795.3 L479.5 795.0 L479.9 794.6 L480.3 794.1 L480.7 793.5 L481.0 792.9 L481.4 792.1 L481.8 791.2 L482.2 790.3 L482.5 789.4 L482.9 788.3 L483.3 787.3 L483.7 786.1 L484.0 785.0 L484.4 783.8 L484.8 782.6 L485.1 781.3 L485.5 780.1 L485.9 778.8 L486.3 777.5 L486.6 776.2 L487.0 774.9 L487.4 773.5 L487.8 772.2 L488.1 770.9 L488.5 769.5 L488.9 768.2 L489.3 766.8 L489.6 765.5 L490.0 764.1 L490.4 762.7 L490.7 761.4 L491.1 760.0 L491.5 758.6 L491.9 757.3 L492.2 755.9 L492.6 754.5 L493.0 753.2 L493.4 751.8 L493.7 750.5 L494.1 749.1 L494.5 747.7 L494.8 746.4 L495.2 745.0 L495.6 743.6 L496.0 742.3 L496.3 740.9 L496.7 739.6 L497.1 738.2 L497.5 736.8 L497.8 735.5 L498.2 734.1 L498.6 732.8 L499.0 731.4 L499.3 730.1 L499.7 728.7 L500.1 727.4 L500.4 726.0 L500.8 724.7 L501.2 723.3 L501.6 722.0 L501.9 720.6 L502.3 719.3 L502.7 717.9 L503.1 716.6 L503.4 715.3 L503.8 713.9 L504.2 712.6 L504.6 711.2 L504.9 709.9 L505.3 708.6 L505.7 707.2 L506.0 705.9 L506.4 704.6 L506.8 703.2 L507.2 701.9 L507.5 700.6 L507.9 699.2 L508.3 697.9 L508.7 696.6 L509.0 695.3 L509.4 694.0 L509.8 692.6 L510.2 691.3 L510.5 690.0 L510.9 688.7 L511.3 687.4 L511.6 686.1 L512.0 684.8 L512.4 683.4 L512.8 682.1 L513.1 680.8 L513.5 679.5 L513.9 678.2 L514.3 676.9 L514.6 675.6 L515.0 674.4 L515.4 673.1 L515.8 671.8 L516.1 670.5 L516.5 669.2 L516.9 667.9 L517.2 666.6 L517.6 665.4 L518.0 664.1 L518.4 662.8 L518.7 661.6 L519.1 660.3 L519.5 659.0 L519.9 657.8 L520.2 656.5 L520.6 655.3 L521.0 654.0 L521.4 652.7 L521.7 651.5 L522.1 650.3 L522.5 649.0 L522.8 647.8 L523.2 646.6 L523.6 645.3 L524.0 644.1 L524.3 642.9 L524.7 641.7 L525.1 640.4 L525.5 639.2 L525.8 638.0 L526.2 636.8 L526.6 635.6 L527.0 634.4 L527.3 633.2 L527.7 632.0 L528.1 630.9 L528.4 629.7 L528.8 628.5 L529.2 627.3 L529.6 626.2 L529.9 625.0 L530.3 623.9 L530.7 622.7 L531.1 621.6 L531.4 620.4 L531.8 619.3 L532.2 618.2 L532.6 617.0 L532.9 615.9 L533.3 614.8 L533.7 613.7 L534.0 612.6 L534.4 611.5 L534.8 610.4 L535.2 609.3 L535.5 608.3 L535.9 607.2 L536.3 606.1 L536.7 605.1 L537.0 604.0 L537.4 603.0 L537.8 601.9 L538.2 600.9 L538.5 599.9 L538.9 598.9 L539.3 597.9 L539.6 596.9 L540.0 595.9 L540.4 594.9 L540.8 593.9 L541.1 593.0 L541.5 592.0 L541.9 591.0 L542.3 590.1 L542.6 589.2 L543.0 588.2 L543.4 587.3 L543.7 586.4 L544.1 585.5 L544.5 584.6 L544.9 583.7 L545.2 582.9 L545.6 582.0 L546.0 581.2 L546.4 580.3 L546.7 579.5 L547.1 578.7 L547.5 577.9 L547.9 577.1 L548.2 576.3 L548.6 575.5 L549.0 574.7 L549.3 574.0 L549.7 573.2 L550.1 572.5 L550.5 571.7 L550.8 571.0 L551.2 570.3 L551.6 569.6 L552.0 569.0 L552.3 568.3 L552.7 567.6 L553.1 567.0 L553.5 566.4 L553.8 565.8 L554.2 565.1 L554.6 564.6 L554.9 564.0 L555.3 563.4 L555.7 562.8 L556.1 562.3 L556.4 561.8 L556.8 561.2 L557.2 560.7 L557.6 560.2 L557.9 559.8 L558.3 559.3 L558.7 558.8 L559.1 558.4 L559.4 558.0 L559.8 557.5 L560.2 557.1 L560.5 556.7 L560.9 556.4 L561.3 556.0 L561.7 555.6 L562.0 555.3 L562.4 554.9 L562.8 554.6 L563.2 554.3 L563.5 554.0 L563.9 553.7 L564.3 553.5 L564.7 553.2 L565.0 552.9 L565.4 552.7 L565.8 552.5 L566.1 552.2 L566.5 552.0 L566.9 551.8 L567.3 551.6 L567.6 551.5 L568.0 551.3 L568.4 551.1 L568.8 551.0 L569.1 550.8 L569.5 550.7 L569.9 550.6 L570.3 550.4 L570.6 550.3 L571.0 550.2 L571.4 550.1 L571.7 550.0 L572.1 549.9 L572.5 549.9 L572.9 549.8 L573.2 549.7 L573.6 549.7 L574.0 549.6 L574.4 549.5 L574.7 549.5 L575.1 549.4 L575.5 549.4 L575.9 549.4 L576.2 549.3 L576.6 549.3 L577.0 549.3 L577.3 549.2 L577.7 549.2 L578.1 549.2 L578.5 549.2 L578.8 549.2 L579.2 549.2 L579.6 549.1 L580.0 549.1 L580.3 549.1 L580.7 549.1 L581.1 549.1 L581.5 549.1 L581.8 549.1 L582.2 549.1 L582.6 549.1 L582.9 549.1 L583.3 549.1 L583.7 549.1 L584.1 549.1 L584.4 549.1 L584.8 549.1 L585.2 549.1 L585.6 549.1 L585.9 549.1 L586.3 549.1 L586.7 549.1 L587.1 549.1 L587.4 549.1 L587.8 549.1 L588.2 549.1 L588.5 549.1 L588.9 549.1 L589.3 549.1 L589.7 549.1 L590.0 549.1 L590.4 549.1 L590.8 549.1 L591.2 549.1 L591.5 549.1 L591.9 549.1 L592.3 549.1 L592.6 549.1 L593.0 549.1 L593.4 549.1 L593.8 549.1 L594.1 549.1 L594.5 549.1 L594.9 549.1 L595.3 549.1 L595.6 549.1 L596.0 549.1 L596.4 549.1 L596.8 549.1 L597.1 549.1 L597.5 549.1 L597.9 549.1 L598.2 549.1 L598.6 549.1 L599.0 549.1 L599.4 549.1 L599.7 549.1 L600.1 549.1 L600.5 549.1 L600.9 549.1 L601.2 549.1 L601.6 549.1 L602.0 549.1 L602.4 549.1 L602.7 549.1 L603.1 549.1 L603.5 549.1 L603.8 549.1 L604.2 549.1 L604.6 549.1 L605.0 549.1 L605.3 549.1 L605.7 549.1 L606.1 549.1 L606.5 549.1 L606.8 549.1 L607.2 549.1 L607.6 549.1 L608.0 549.1 L608.3 549.1 L608.7 549.1 L609.1 549.1 L609.4 549.1 L609.8 549.1 L610.2 549.1 L610.6 549.1 L610.9 549.1 L611.3 549.1 L611.7 549.1 L612.1 549.1 L612.4 549.1 L612.8 549.1 L613.2 549.1 L613.6 549.1 L613.9 549.1 L614.3 549.1 L614.7 549.1 L615.0 549.1 L615.4 549.1 L615.8 549.1 L616.2 549.1 L616.5 549.1 L616.9 549.1 L617.3 549.1 L617.7 549.1 L618.0 549.1 L618.4 549.1 L618.8 549.1 L619.2 549.1 L619.5 549.1 L619.9 549.1 L620.3 549.1 L620.6 549.1 L621.0 549.1 L621.4 549.1 L621.8 549.1 L622.1 549.1 L622.5 549.1 L622.9 549.1 L623.3 549.1 L623.6 549.1 L624.0 549.1 L624.4 549.1 L624.8 549.1 L625.1 549.1 L625.5 549.1 L625.9 549.1 L626.2 549.1 L626.6 549.1 L627.0 549.1 L627.4 549.1 L627.7 549.1 L628.1 549.1 L628.5 549.1 L628.9 549.1 L629.2 549.1 L629.6 549.1 L630.0 549.1 L630.4 549.1 L630.7 549.1 L631.1 549.1 L631.5 549.1 L631.8 549.1 L632.2 549.1 L632.6 549.1 L633.0 549.1 L633.3 549.1 L633.7 549.1 L634.1 549.1 L634.5 549.1 L634.8 549.1 L635.2 549.1 L635.6 549.1 L636.0 549.1 L636.3 549.1 L636.7 549.1 L637.1 549.1 L637.4 549.1 L637.8 549.1 L638.2 549.1 L638.6 549.1 L638.9 549.1 L639.3 549.1 L639.7 549.1 L640.1 549.1 L640.4 549.1 L640.8 549.1 L641.2 549.1 L641.6 549.1 L641.9 549.1 L642.3 549.1 L642.7 549.1 L643.0 549.1 L643.4 549.1 L643.8 549.1 L644.2 549.1 L644.5 549.1 L644.9 549.1 L645.3 549.1 L645.7 549.1 L646.0 549.1 L646.4 549.1 L646.8 549.1 L647.1 549.1 L647.5 549.1 L647.9 549.1 L648.3 549.1 L648.6 549.1 L649.0 549.1 L649.4 549.1 L649.8 549.1 L650.1 549.1 L650.5 549.1 L650.9 549.1 L651.3 549.1 L651.6 549.1 L652.0 549.1 L652.4 549.1 L652.7 549.1 L653.1 549.1 L653.5 549.1 L653.9 549.1 L654.2 549.1 L654.6 549.1" stroke="#b93a7f" stroke-width="5"/>
<path d="M463.5 715.1 L463.9 718.2 L464.2 721.3 L464.6 724.5 L465.0 727.8 L465.4 731.2 L465.7 734.6 L466.1 738.2 L466.5 741.7 L466.9 745.4 L467.2 749.2 L467.6 753.0 L468.0 756.9 L468.3 760.9 L468.7 765.0 L469.1 769.2 L469.5 773.4 L469.8 777.8 L470.2 782.3 L470.6 786.8 L471.0 791.5 L471.3 796.2 L471.7 801.1 L472.1 806.1 L472.5 811.1 L472.8 816.3 L473.2 821.7 L473.6 827.1 L473.9 832.6 L474.3 838.3 L474.7 844.1 L475.1 850.1 L475.4 856.1 L475.8 862.4 L476.2 868.7 L476.6 875.2 L476.9 881.9 L477.3 888.7 L477.7 895.6 L478.1 902.7 L478.4 910.0 L478.8 917.4 L479.2 925.0 L479.5 932.8" stroke="#fff" stroke-width="3.6" stroke-dasharray="0 17 9 0" transform="translate(-0.8,0)"/>
<path d="M463.5 715.1 L463.9 718.2 L464.2 721.3 L464.6 724.5 L465.0 727.8 L465.4 731.2 L465.7 734.6 L466.1 738.2 L466.5 741.7 L466.9 745.4 L467.2 749.2 L467.6 753.0 L468.0 756.9 L468.3 760.9 L468.7 765.0 L469.1 769.2 L469.5 773.4 L469.8 777.8 L470.2 782.3 L470.6 786.8 L471.0 791.5 L471.3 796.2 L471.7 801.1 L472.1 806.1 L472.5 811.1 L472.8 816.3 L473.2 821.7 L473.6 827.1 L473.9 832.6 L474.3 838.3 L474.7 844.1 L475.1 850.1 L475.4 856.1 L475.8 862.4 L476.2 868.7 L476.6 875.2 L476.9 881.9 L477.3 888.7 L477.7 895.6 L478.1 902.7 L478.4 910.0 L478.8 917.4 L479.2 925.0 L479.5 932.8" stroke="#b93a7f" stroke-width="4.8" stroke-dasharray="17 9" transform="translate(-0.8,0)"/>
<path d="M393.7 549.9 L394.1 549.9 L394.4 549.9 L394.8 549.9 L395.2 550.0 L395.6 550.0 L395.9 550.0 L396.3 550.0 L396.7 550.0 L397.0 550.0 L397.4 550.0 L397.8 550.0 L398.2 550.0 L398.5 550.0 L398.9 550.1 L399.3 550.1 L399.7 550.1 L400.0 550.1 L400.4 550.1 L400.8 550.1 L401.2 550.1 L401.5 550.1 L401.9 550.1 L402.3 550.2 L402.6 550.2 L403.0 550.2 L403.4 550.2 L403.8 550.2 L404.1 550.2 L404.5 550.2 L404.9 550.2 L405.3 550.3 L405.6 550.3 L406.0 550.3 L406.4 550.3 L406.8 550.3 L407.1 550.3 L407.5 550.3 L407.9 550.3 L408.2 550.4 L408.6 550.4 L409.0 550.4 L409.4 550.4 L409.7 550.4 L410.1 550.4 L410.5 550.4 L410.9 550.5 L411.2 550.5 L411.6 550.5 L412.0 550.5 L412.4 550.5 L412.7 550.5 L413.1 550.6 L413.5 550.6 L413.8 550.6 L414.2 550.6 L414.6 550.6 L415.0 550.6 L415.3 550.7 L415.7 550.7 L416.1 550.7 L416.5 550.7 L416.8 550.7 L417.2 550.7 L417.6 550.8 L418.0 550.8 L418.3 550.8 L418.7 550.8 L419.1 550.8 L419.4 550.9 L419.8 550.9 L420.2 550.9 L420.6 550.9 L420.9 550.9 L421.3 550.9 L421.7 551.0 L422.1 551.0 L422.4 551.0 L422.8 551.0 L423.2 551.1 L423.6 551.1 L423.9 551.1 L424.3 551.1 L424.7 551.1 L425.0 551.2 L425.4 551.2 L425.8 551.2 L426.2 551.2 L426.5 551.3 L426.9 551.3 L427.3 551.3 L427.7 551.3 L428.0 551.4 L428.4 551.4 L428.8 551.4 L429.2 551.4 L429.5 551.5 L429.9 551.5 L430.3 551.5 L430.6 551.5 L431.0 551.6 L431.4 551.6 L431.8 551.6 L432.1 551.6 L432.5 551.7 L432.9 551.7 L433.3 551.7 L433.6 551.8 L434.0 551.8 L434.4 551.8 L434.8 551.8 L435.1 551.9 L435.5 551.9 L435.9 551.9 L436.2 552.0 L436.6 552.0 L437.0 552.0 L437.4 552.1 L437.7 552.1 L438.1 552.1 L438.5 552.2 L438.9 552.2 L439.2 552.2 L439.6 552.3 L440.0 552.3 L440.4 552.3 L440.7 552.4 L441.1 552.4 L441.5 552.4 L441.8 552.5 L442.2 552.5 L442.6 552.5 L443.0 552.6 L443.3 552.6 L443.7 552.7 L444.1 552.7 L444.5 552.7 L444.8 552.8 L445.2 552.8 L445.6 552.9 L445.9 552.9 L446.3 552.9 L446.7 553.0 L447.1 553.0 L447.4 553.1 L447.8 553.1 L448.2 553.2 L448.6 553.2 L448.9 553.2 L449.3 553.3 L449.7 553.3 L450.1 553.4 L450.4 553.4 L450.8 553.5 L451.2 553.5 L451.5 553.6 L451.9 553.6 L452.3 553.7 L452.7 553.7 L453.0 553.8 L453.4 553.8 L453.8 553.9 L454.2 553.9 L454.5 554.0 L454.9 554.0 L455.3 554.1 L455.7 554.1 L456.0 554.2 L456.4 554.3 L456.8 554.3 L457.1 554.4 L457.5 554.4 L457.9 554.5 L458.3 554.5 L458.6 554.6 L459.0 554.7 L459.4 554.7 L459.8 554.8 L460.1 554.9 L460.5 554.9 L460.9 555.0 L461.3 555.0 L461.6 555.1 L462.0 555.2 L462.4 555.2 L462.7 555.3 L463.1 555.4 L463.5 555.5 L463.9 555.5 L464.2 555.6 L464.6 555.7 L465.0 555.7 L465.4 555.8 L465.7 555.9 L466.1 556.0 L466.5 556.0 L466.9 556.1 L467.2 556.2 L467.6 556.3 L468.0 556.3 L468.3 556.4 L468.7 556.5 L469.1 556.6 L469.5 556.7 L469.8 556.8 L470.2 556.8 L470.6 556.9 L471.0 557.0 L471.3 557.1 L471.7 557.2 L472.1 557.3 L472.5 557.4 L472.8 557.5 L473.2 557.5 L473.6 557.6 L473.9 557.7 L474.3 557.8 L474.7 557.9 L475.1 558.0 L475.4 558.1 L475.8 558.2 L476.2 558.3 L476.6 558.4 L476.9 558.5 L477.3 558.6 L477.7 558.7 L478.1 558.8 L478.4 558.9 L478.8 559.0 L479.2 559.2 L479.5 559.3 L479.9 559.4 L480.3 559.5 L480.7 559.6 L481.0 559.7 L481.4 559.8 L481.8 560.0 L482.2 560.1 L482.5 560.2 L482.9 560.3 L483.3 560.4 L483.7 560.6 L484.0 560.7 L484.4 560.8 L484.8 560.9 L485.1 561.1 L485.5 561.2 L485.9 561.3 L486.3 561.5 L486.6 561.6 L487.0 561.7 L487.4 561.9 L487.8 562.0 L488.1 562.2 L488.5 562.3 L488.9 562.4 L489.3 562.6 L489.6 562.7 L490.0 562.9 L490.4 563.0 L490.7 563.2 L491.1 563.3 L491.5 563.5 L491.9 563.6 L492.2 563.8 L492.6 563.9 L493.0 564.1 L493.4 564.3 L493.7 564.4 L494.1 564.6 L494.5 564.7 L494.8 564.9 L495.2 565.1 L495.6 565.2 L496.0 565.4 L496.3 565.6 L496.7 565.8 L497.1 565.9 L497.5 566.1 L497.8 566.3 L498.2 566.5 L498.6 566.6 L499.0 566.8 L499.3 567.0 L499.7 567.2 L500.1 567.4 L500.4 567.6 L500.8 567.8 L501.2 567.9 L501.6 568.1 L501.9 568.3 L502.3 568.5 L502.7 568.7 L503.1 568.9 L503.4 569.1 L503.8 569.3 L504.2 569.5 L504.6 569.7 L504.9 569.9 L505.3 570.1 L505.7 570.3 L506.0 570.5 L506.4 570.7 L506.8 570.9 L507.2 571.1 L507.5 571.4 L507.9 571.6 L508.3 571.8 L508.7 572.0 L509.0 572.2 L509.4 572.4 L509.8 572.6 L510.2 572.8 L510.5 573.0 L510.9 573.3 L511.3 573.5 L511.6 573.7 L512.0 573.9 L512.4 574.1 L512.8 574.3 L513.1 574.5 L513.5 574.8 L513.9 575.0 L514.3 575.2 L514.6 575.4 L515.0 575.6 L515.4 575.8 L515.8 576.0 L516.1 576.2 L516.5 576.4 L516.9 576.6 L517.2 576.8 L517.6 577.0 L518.0 577.2 L518.4 577.4 L518.7 577.6 L519.1 577.8 L519.5 578.0 L519.9 578.2 L520.2 578.4 L520.6 578.5 L521.0 578.7 L521.4 578.9 L521.7 579.1 L522.1 579.2 L522.5 579.4 L522.8 579.5 L523.2 579.7 L523.6 579.8 L524.0 580.0 L524.3 580.1 L524.7 580.2 L525.1 580.4 L525.5 580.5 L525.8 580.6 L526.2 580.7 L526.6 580.8 L527.0 580.9 L527.3 581.0 L527.7 581.1 L528.1 581.1 L528.4 581.2 L528.8 581.3 L529.2 581.3 L529.6 581.3 L529.9 581.4 L530.3 581.4 L530.7 581.4 L531.1 581.4 L531.4 581.4 L531.8 581.4 L532.2 581.4 L532.6 581.3 L532.9 581.3 L533.3 581.2 L533.7 581.2 L534.0 581.1 L534.4 581.0 L534.8 580.9 L535.2 580.8 L535.5 580.7 L535.9 580.5 L536.3 580.4 L536.7 580.2 L537.0 580.1 L537.4 579.9 L537.8 579.7 L538.2 579.5 L538.5 579.3 L538.9 579.0 L539.3 578.8 L539.6 578.6 L540.0 578.3 L540.4 578.0 L540.8 577.8 L541.1 577.5 L541.5 577.2 L541.9 576.9 L542.3 576.5 L542.6 576.2 L543.0 575.9 L543.4 575.5 L543.7 575.2 L544.1 574.8 L544.5 574.4 L544.9 574.0 L545.2 573.6 L545.6 573.3 L546.0 572.8 L546.4 572.4 L546.7 572.0 L547.1 571.6 L547.5 571.2 L547.9 570.7 L548.2 570.3 L548.6 569.9 L549.0 569.4 L549.3 569.0 L549.7 568.5 L550.1 568.1 L550.5 567.6 L550.8 567.1 L551.2 566.7 L551.6 566.2 L552.0 565.8 L552.3 565.3 L552.7 564.9 L553.1 564.4 L553.5 564.0 L553.8 563.5 L554.2 563.1 L554.6 562.6 L554.9 562.2 L555.3 561.7 L555.7 561.3 L556.1 560.9 L556.4 560.5 L556.8 560.0 L557.2 559.6 L557.6 559.2 L557.9 558.8 L558.3 558.4 L558.7 558.1 L559.1 557.7 L559.4 557.3 L559.8 556.9 L560.2 556.6 L560.5 556.2 L560.9 555.9 L561.3 555.6 L561.7 555.3 L562.0 555.0 L562.4 554.7 L562.8 554.4 L563.2 554.1 L563.5 553.8 L563.9 553.5 L564.3 553.3 L564.7 553.0 L565.0 552.8 L565.4 552.6 L565.8 552.4 L566.1 552.2 L566.5 552.0 L566.9 551.8 L567.3 551.6 L567.6 551.4 L568.0 551.2 L568.4 551.1 L568.8 550.9 L569.1 550.8 L569.5 550.7 L569.9 550.5 L570.3 550.4 L570.6 550.3 L571.0 550.2 L571.4 550.1 L571.7 550.0 L572.1 549.9 L572.5 549.9 L572.9 549.8 L573.2 549.7 L573.6 549.7 L574.0 549.6 L574.4 549.5 L574.7 549.5 L575.1 549.4 L575.5 549.4 L575.9 549.4 L576.2 549.3 L576.6 549.3 L577.0 549.3 L577.3 549.2 L577.7 549.2 L578.1 549.2 L578.5 549.2 L578.8 549.2 L579.2 549.2 L579.6 549.1 L580.0 549.1 L580.3 549.1 L580.7 549.1 L581.1 549.1 L581.5 549.1 L581.8 549.1 L582.2 549.1 L582.6 549.1 L582.9 549.1 L583.3 549.1 L583.7 549.1 L584.1 549.1 L584.4 549.1 L584.8 549.1 L585.2 549.1 L585.6 549.1 L585.9 549.1 L586.3 549.1 L586.7 549.1 L587.1 549.1 L587.4 549.1 L587.8 549.1 L588.2 549.1 L588.5 549.1 L588.9 549.1 L589.3 549.1 L589.7 549.1 L590.0 549.1 L590.4 549.1 L590.8 549.1 L591.2 549.1 L591.5 549.1 L591.9 549.1 L592.3 549.1 L592.6 549.1 L593.0 549.1 L593.4 549.1 L593.8 549.1 L594.1 549.1 L594.5 549.1 L594.9 549.1 L595.3 549.1 L595.6 549.1 L596.0 549.1 L596.4 549.1 L596.8 549.1 L597.1 549.1 L597.5 549.1 L597.9 549.1 L598.2 549.1 L598.6 549.1 L599.0 549.1 L599.4 549.1 L599.7 549.1 L600.1 549.1 L600.5 549.1 L600.9 549.1 L601.2 549.1 L601.6 549.1 L602.0 549.1 L602.4 549.1 L602.7 549.1 L603.1 549.1 L603.5 549.1 L603.8 549.1 L604.2 549.1 L604.6 549.1 L605.0 549.1 L605.3 549.1 L605.7 549.1 L606.1 549.1 L606.5 549.1 L606.8 549.1 L607.2 549.1 L607.6 549.1 L608.0 549.1 L608.3 549.1 L608.7 549.1 L609.1 549.1 L609.4 549.1 L609.8 549.1 L610.2 549.1 L610.6 549.1 L610.9 549.1 L611.3 549.1 L611.7 549.1 L612.1 549.1 L612.4 549.1 L612.8 549.1 L613.2 549.1 L613.6 549.1 L613.9 549.1 L614.3 549.1 L614.7 549.1 L615.0 549.1 L615.4 549.1 L615.8 549.1 L616.2 549.1 L616.5 549.1 L616.9 549.1 L617.3 549.1 L617.7 549.1 L618.0 549.1 L618.4 549.1 L618.8 549.1 L619.2 549.1 L619.5 549.1 L619.9 549.1 L620.3 549.1 L620.6 549.1 L621.0 549.1 L621.4 549.1 L621.8 549.1 L622.1 549.1 L622.5 549.1 L622.9 549.1 L623.3 549.1 L623.6 549.1 L624.0 549.1 L624.4 549.1 L624.8 549.1 L625.1 549.1 L625.5 549.1 L625.9 549.1 L626.2 549.1 L626.6 549.1 L627.0 549.1 L627.4 549.1 L627.7 549.1 L628.1 549.1 L628.5 549.1 L628.9 549.1 L629.2 549.1 L629.6 549.1 L630.0 549.1 L630.4 549.1 L630.7 549.1 L631.1 549.1 L631.5 549.1 L631.8 549.1 L632.2 549.1 L632.6 549.1 L633.0 549.1 L633.3 549.1 L633.7 549.1 L634.1 549.1 L634.5 549.1 L634.8 549.1 L635.2 549.1 L635.6 549.1 L636.0 549.1 L636.3 549.1 L636.7 549.1 L637.1 549.1 L637.4 549.1 L637.8 549.1 L638.2 549.1 L638.6 549.1 L638.9 549.1 L639.3 549.1 L639.7 549.1 L640.1 549.1 L640.4 549.1 L640.8 549.1 L641.2 549.1 L641.6 549.1 L641.9 549.1 L642.3 549.1 L642.7 549.1 L643.0 549.1 L643.4 549.1 L643.8 549.1 L644.2 549.1 L644.5 549.1 L644.9 549.1 L645.3 549.1 L645.7 549.1 L646.0 549.1 L646.4 549.1 L646.8 549.1 L647.1 549.1 L647.5 549.1 L647.9 549.1 L648.3 549.1 L648.6 549.1 L649.0 549.1 L649.4 549.1 L649.8 549.1 L650.1 549.1 L650.5 549.1 L650.9 549.1 L651.3 549.1 L651.6 549.1 L652.0 549.1 L652.4 549.1 L652.7 549.1 L653.1 549.1 L653.5 549.1 L653.9 549.1 L654.2 549.1 L654.6 549.1" stroke="#4f1085" stroke-width="5.2"/>
<path d="M504.2 571.6 L504.6 571.8 L504.9 572.1 L505.3 572.4 L505.7 572.7 L506.0 573.0 L506.4 573.2 L506.8 573.5 L507.2 573.8 L507.5 574.1 L507.9 574.5 L508.3 574.8 L508.7 575.1 L509.0 575.4 L509.4 575.7 L509.8 576.1 L510.2 576.4 L510.5 576.7 L510.9 577.1 L511.3 577.4 L511.6 577.8 L512.0 578.1 L512.4 578.5 L512.8 578.9 L513.1 579.2 L513.5 579.6 L513.9 580.0 L514.3 580.4 L514.6 580.8 L515.0 581.2 L515.4 581.6 L515.8 582.0 L516.1 582.4 L516.5 582.8 L516.9 583.3 L517.2 583.7 L517.6 584.2 L518.0 584.6 L518.4 585.1 L518.7 585.5 L519.1 586.0 L519.5 586.5 L519.9 586.9 L520.2 587.4 L520.6 587.9 L521.0 588.4 L521.4 588.9 L521.7 589.5 L522.1 590.0 L522.5 590.5 L522.8 591.1 L523.2 591.6 L523.6 592.2 L524.0 592.7 L524.3 593.3 L524.7 593.9 L525.1 594.5 L525.5 595.1 L525.8 595.7 L526.2 596.3 L526.6 596.9 L527.0 597.6 L527.3 598.2 L527.7 598.9 L528.1 599.5 L528.4 600.2 L528.8 600.9 L529.2 601.6 L529.6 602.3 L529.9 603.0 L530.3 603.7 L530.7 604.5 L531.1 605.2 L531.4 606.0 L531.8 606.8 L532.2 607.6 L532.6 608.4 L532.9 609.2 L533.3 610.0 L533.7 610.8 L534.0 611.7 L534.4 612.6 L534.8 613.4 L535.2 614.3 L535.5 615.2 L535.9 616.2 L536.3 617.1 L536.7 618.1 L537.0 619.0 L537.4 620.0 L537.8 621.0 L538.2 622.0 L538.5 623.1 L538.9 624.1 L539.3 625.2 L539.6 626.3 L540.0 627.4 L540.4 628.5 L540.8 629.6 L541.1 630.8 L541.5 631.9 L541.9 633.1 L542.3 634.3 L542.6 635.6 L543.0 636.8 L543.4 638.1 L543.7 639.4 L544.1 640.7 L544.5 642.1 L544.9 643.4 L545.2 644.8 L545.6 646.2 L546.0 647.7 L546.4 649.1 L546.7 650.6 L547.1 652.1 L547.5 653.7 L547.9 655.2 L548.2 656.8 L548.6 658.4 L549.0 660.1 L549.3 661.7 L549.7 663.4 L550.1 665.2 L550.5 666.9 L550.8 668.7 L551.2 670.5 L551.6 672.4 L552.0 674.3 L552.3 676.2 L552.7 678.2 L553.1 680.1 L553.5 682.2 L553.8 684.2 L554.2 686.3 L554.6 688.5 L554.9 690.6 L555.3 692.8 L555.7 695.1 L556.1 697.4 L556.4 699.7 L556.8 702.1 L557.2 704.5 L557.6 707.0 L557.9 709.5 L558.3 712.0 L558.7 714.6 L559.1 717.3 L559.4 720.0 L559.8 722.7 L560.2 725.5 L560.5 728.3 L560.9 731.2 L561.3 734.2 L561.7 737.2 L562.0 740.3 L562.4 743.4 L562.8 746.6 L563.2 749.8 L563.5 753.1 L563.9 756.4 L564.3 759.9 L564.7 763.3 L565.0 766.9 L565.4 770.5 L565.8 774.2 L566.1 777.9 L566.5 781.8 L566.9 785.7 L567.3 789.6 L567.6 793.7 L568.0 797.8 L568.4 802.0 L568.8 806.3 L569.1 810.7 L569.5 815.1 L569.9 819.6 L570.3 824.3 L570.6 829.0 L571.0 833.8 L571.4 838.7 L571.7 843.6 L572.1 848.7 L572.5 853.9 L572.9 859.2" stroke="#4f1085" stroke-width="5" stroke-dasharray="18 8.5" stroke-dashoffset="4"/>
</g>
<rect x="408.5" y="546.5" width="239.0" height="285.0" fill="none" stroke="#6a6a6a" stroke-width="1"/>
<line x1="401.90" y1="651.60" x2="408.50" y2="651.60" stroke="#555" stroke-width="0.9" />
<text x="395.8" y="654.6" font-size="10.5" text-anchor="end" fill="#231f20">10<tspan font-size="7.5" dy="-4.5">−1</tspan></text>
<line x1="401.90" y1="798.30" x2="408.50" y2="798.30" stroke="#555" stroke-width="0.9" />
<text x="395.8" y="801.3" font-size="10.5" text-anchor="end" fill="#231f20">10<tspan font-size="7.5" dy="-4.5">−2</tspan></text>
<line x1="404.20" y1="830.85" x2="408.50" y2="830.85" stroke="#555" stroke-width="0.8" />
<line x1="404.20" y1="821.02" x2="408.50" y2="821.02" stroke="#555" stroke-width="0.8" />
<line x1="404.20" y1="812.52" x2="408.50" y2="812.52" stroke="#555" stroke-width="0.8" />
<line x1="404.20" y1="805.01" x2="408.50" y2="805.01" stroke="#555" stroke-width="0.8" />
<line x1="404.20" y1="754.14" x2="408.50" y2="754.14" stroke="#555" stroke-width="0.8" />
<line x1="404.20" y1="728.31" x2="408.50" y2="728.31" stroke="#555" stroke-width="0.8" />
<line x1="404.20" y1="709.98" x2="408.50" y2="709.98" stroke="#555" stroke-width="0.8" />
<line x1="404.20" y1="695.76" x2="408.50" y2="695.76" stroke="#555" stroke-width="0.8" />
<line x1="404.20" y1="684.15" x2="408.50" y2="684.15" stroke="#555" stroke-width="0.8" />
<line x1="404.20" y1="674.32" x2="408.50" y2="674.32" stroke="#555" stroke-width="0.8" />
<line x1="404.20" y1="665.82" x2="408.50" y2="665.82" stroke="#555" stroke-width="0.8" />
<line x1="404.20" y1="658.31" x2="408.50" y2="658.31" stroke="#555" stroke-width="0.8" />
<line x1="404.20" y1="607.44" x2="408.50" y2="607.44" stroke="#555" stroke-width="0.8" />
<line x1="404.20" y1="581.61" x2="408.50" y2="581.61" stroke="#555" stroke-width="0.8" />
<line x1="404.20" y1="563.28" x2="408.50" y2="563.28" stroke="#555" stroke-width="0.8" />
<line x1="404.20" y1="549.06" x2="408.50" y2="549.06" stroke="#555" stroke-width="0.8" />
<line x1="408.60" y1="831.50" x2="408.60" y2="837.00" stroke="#555" stroke-width="0.9" />
<text x="408.9" y="854.4" font-size="10.5" text-anchor="middle" fill="#231f20">10<tspan font-size="7.5" dy="-4.5">−7</tspan></text>
<line x1="483.15" y1="831.50" x2="483.15" y2="837.00" stroke="#555" stroke-width="0.9" />
<text x="483.5" y="854.4" font-size="10.5" text-anchor="middle" fill="#231f20">10<tspan font-size="7.5" dy="-4.5">−6</tspan></text>
<line x1="557.70" y1="831.50" x2="557.70" y2="837.00" stroke="#555" stroke-width="0.9" />
<text x="558.0" y="854.4" font-size="10.5" text-anchor="middle" fill="#231f20">10<tspan font-size="7.5" dy="-4.5">−5</tspan></text>
<line x1="632.25" y1="831.50" x2="632.25" y2="837.00" stroke="#555" stroke-width="0.9" />
<text x="632.5" y="854.4" font-size="10.5" text-anchor="middle" fill="#231f20">10<tspan font-size="7.5" dy="-4.5">−4</tspan></text>
<line x1="431.04" y1="831.50" x2="431.04" y2="835.10" stroke="#555" stroke-width="0.8" />
<line x1="444.17" y1="831.50" x2="444.17" y2="835.10" stroke="#555" stroke-width="0.8" />
<line x1="453.48" y1="831.50" x2="453.48" y2="835.10" stroke="#555" stroke-width="0.8" />
<line x1="460.71" y1="831.50" x2="460.71" y2="835.10" stroke="#555" stroke-width="0.8" />
<line x1="466.61" y1="831.50" x2="466.61" y2="835.10" stroke="#555" stroke-width="0.8" />
<line x1="471.60" y1="831.50" x2="471.60" y2="835.10" stroke="#555" stroke-width="0.8" />
<line x1="475.93" y1="831.50" x2="475.93" y2="835.10" stroke="#555" stroke-width="0.8" />
<line x1="479.74" y1="831.50" x2="479.74" y2="835.10" stroke="#555" stroke-width="0.8" />
<line x1="505.59" y1="831.50" x2="505.59" y2="835.10" stroke="#555" stroke-width="0.8" />
<line x1="518.72" y1="831.50" x2="518.72" y2="835.10" stroke="#555" stroke-width="0.8" />
<line x1="528.03" y1="831.50" x2="528.03" y2="835.10" stroke="#555" stroke-width="0.8" />
<line x1="535.26" y1="831.50" x2="535.26" y2="835.10" stroke="#555" stroke-width="0.8" />
<line x1="541.16" y1="831.50" x2="541.16" y2="835.10" stroke="#555" stroke-width="0.8" />
<line x1="546.15" y1="831.50" x2="546.15" y2="835.10" stroke="#555" stroke-width="0.8" />
<line x1="550.48" y1="831.50" x2="550.48" y2="835.10" stroke="#555" stroke-width="0.8" />
<line x1="554.29" y1="831.50" x2="554.29" y2="835.10" stroke="#555" stroke-width="0.8" />
<line x1="580.14" y1="831.50" x2="580.14" y2="835.10" stroke="#555" stroke-width="0.8" />
<line x1="593.27" y1="831.50" x2="593.27" y2="835.10" stroke="#555" stroke-width="0.8" />
<line x1="602.58" y1="831.50" x2="602.58" y2="835.10" stroke="#555" stroke-width="0.8" />
<line x1="609.81" y1="831.50" x2="609.81" y2="835.10" stroke="#555" stroke-width="0.8" />
<line x1="615.71" y1="831.50" x2="615.71" y2="835.10" stroke="#555" stroke-width="0.8" />
<line x1="620.70" y1="831.50" x2="620.70" y2="835.10" stroke="#555" stroke-width="0.8" />
<line x1="625.03" y1="831.50" x2="625.03" y2="835.10" stroke="#555" stroke-width="0.8" />
<line x1="628.84" y1="831.50" x2="628.84" y2="835.10" stroke="#555" stroke-width="0.8" />
<text x="527" y="873.2" font-size="12.5" text-anchor="middle" fill="#231f20"><tspan font-style="italic">τ</tspan><tspan font-size="8.5" dy="3">int</tspan><tspan dy="-3"> (s)</tspan></text>
<text transform="translate(368.2,686) rotate(-90)" font-size="12" text-anchor="middle" fill="#231f20">1 – <tspan font-style="italic" font-family="Liberation Serif">F</tspan><tspan font-size="8" dy="3">r</tspan></text>
<text transform="translate(507.5,658.5) rotate(-65.5)" font-size="12" text-anchor="middle" fill="#b93a7f"><tspan font-style="italic">T</tspan><tspan font-size="8.5" dy="3">1</tspan><tspan dy="-3"> = 24 μs</tspan></text>
<text transform="translate(627,655) rotate(-66.8)" font-size="12" text-anchor="middle" fill="#fb8a5a"><tspan font-style="italic">T</tspan><tspan font-size="8.5" dy="3">1</tspan><tspan dy="-3"> = 4.5 ms</tspan></text>
<text transform="translate(441,765) rotate(84.6)" font-size="12" text-anchor="middle" fill="#b93a7f"><tspan font-style="italic">τ</tspan><tspan font-size="8.5" dy="3">min</tspan><tspan dy="-3"> = 23 ns</tspan></text>
<text transform="translate(535.5,771.5) rotate(84)" font-size="12" text-anchor="middle" fill="#4f1085"><tspan font-style="italic">τ</tspan><tspan font-size="8.5" dy="3">min</tspan><tspan dy="-3"> = 7.6 μs</tspan></text>
<text x="347.5" y="550.5" font-size="17.5" font-weight="bold" fill="#000">f</text>
</svg>
</body></html>
